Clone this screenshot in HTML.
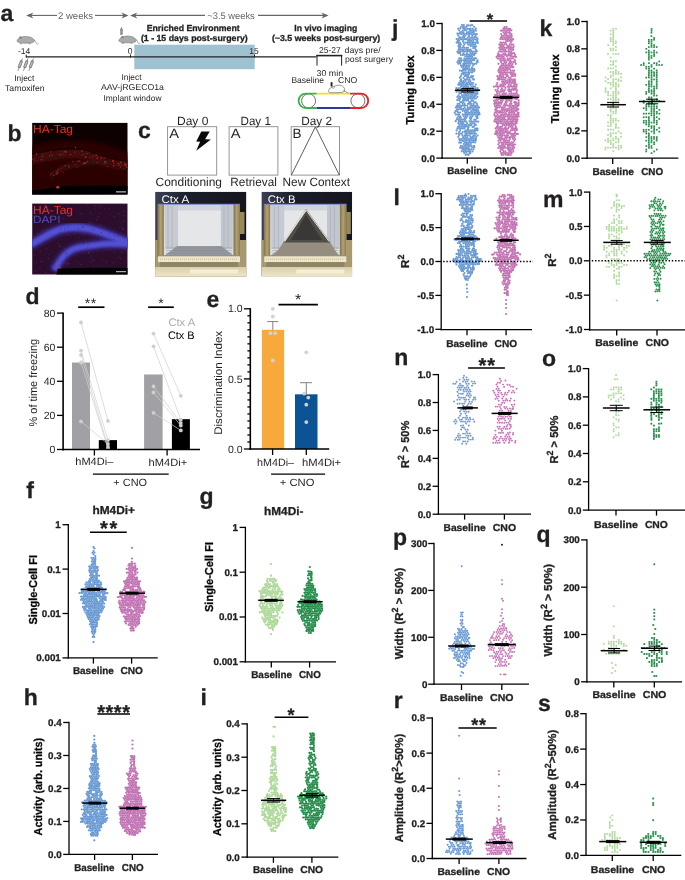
<!DOCTYPE html>
<html><head><meta charset="utf-8"><style>
html,body{margin:0;padding:0;background:#fff;width:685px;height:880px;overflow:hidden}
svg{display:block;will-change:transform}
text{font-family:"Liberation Sans", sans-serif;text-rendering:geometricPrecision}
text[font-weight="bold"]{stroke:#231f20;stroke-width:0.3px}
</style></head><body>
<svg width="685" height="880" viewBox="0 0 685 880" font-family='"Liberation Sans", sans-serif'>
<text x="0.50" y="21.00" font-size="23" font-weight="bold" text-anchor="start" fill="#231f20">a</text>
<line x1="28.00" y1="15.40" x2="57.00" y2="15.40" stroke="#666" stroke-width="1.1"/>
<path d="M26.2,15.4 L33.4,12.4 L31.2,15.4 L33.4,18.4 Z" fill="#666"/>
<text x="75.50" y="18.60" font-size="9.5" font-weight="normal" text-anchor="middle" fill="#666" textLength="35.0" lengthAdjust="spacingAndGlyphs">2 weeks</text>
<line x1="95.00" y1="15.40" x2="125.00" y2="15.40" stroke="#666" stroke-width="1.1"/>
<path d="M128.6,15.4 L121.4,12.4 L123.6,15.4 L121.4,18.4 Z" fill="#666"/>
<line x1="133.00" y1="15.40" x2="205.00" y2="15.40" stroke="#666" stroke-width="1.1"/>
<path d="M130.1,15.4 L137.3,12.4 L135.1,15.4 L137.3,18.4 Z" fill="#666"/>
<text x="231.00" y="18.60" font-size="9.5" font-weight="normal" text-anchor="middle" fill="#666" textLength="47.5" lengthAdjust="spacingAndGlyphs">~3.5 weeks</text>
<line x1="258.00" y1="15.40" x2="326.00" y2="15.40" stroke="#666" stroke-width="1.1"/>
<path d="M328.6,15.4 L321.4,12.4 L323.6,15.4 L321.4,18.4 Z" fill="#666"/>
<text x="193.20" y="30.80" font-size="8.7" font-weight="bold" text-anchor="middle" fill="#231f20" textLength="93.0" lengthAdjust="spacingAndGlyphs">Enriched Environment</text>
<text x="194.30" y="41.00" font-size="8.7" font-weight="bold" text-anchor="middle" fill="#231f20" textLength="106.8" lengthAdjust="spacingAndGlyphs">(1 - 15 days post-surgery)</text>
<text x="325.80" y="30.80" font-size="8.7" font-weight="bold" text-anchor="middle" fill="#231f20" textLength="62.9" lengthAdjust="spacingAndGlyphs">In vivo imaging</text>
<text x="326.10" y="41.20" font-size="8.7" font-weight="bold" text-anchor="middle" fill="#231f20" textLength="108.4" lengthAdjust="spacingAndGlyphs">(~3.5 weeks post-surgery)</text>
<rect x="134.30" y="44.70" width="120.40" height="24.50" fill="#9fc2d1"/>
<line x1="26.00" y1="56.90" x2="316.50" y2="56.90" stroke="#222" stroke-width="1.1"/>
<line x1="26.20" y1="54.50" x2="26.20" y2="57.50" stroke="#222" stroke-width="1"/>
<line x1="130.50" y1="54.50" x2="130.50" y2="57.50" stroke="#222" stroke-width="1"/>
<line x1="254.50" y1="54.50" x2="254.50" y2="57.50" stroke="#222" stroke-width="1"/>
<text x="24.20" y="53.80" font-size="8.5" font-weight="normal" text-anchor="middle" fill="#231f20" textLength="12.4" lengthAdjust="spacingAndGlyphs">-14</text>
<text x="130.20" y="53.80" font-size="8.5" font-weight="normal" text-anchor="middle" fill="#231f20">0</text>
<text x="254.00" y="53.80" font-size="8.5" font-weight="normal" text-anchor="middle" fill="#231f20">15</text>
<line x1="316.30" y1="55.60" x2="342.30" y2="55.60" stroke="#222" stroke-width="1.6"/>
<line x1="317.00" y1="55.00" x2="317.00" y2="65.60" stroke="#222" stroke-width="1"/>
<line x1="341.60" y1="55.00" x2="341.60" y2="65.60" stroke="#222" stroke-width="1"/>
<text x="329.90" y="52.50" font-size="8.5" font-weight="normal" text-anchor="middle" fill="#231f20" textLength="21.9" lengthAdjust="spacingAndGlyphs">25-27</text>
<text x="344.60" y="52.50" font-size="8.5" font-weight="normal" text-anchor="start" fill="#231f20" textLength="36.1" lengthAdjust="spacingAndGlyphs">days pre/</text>
<text x="345.00" y="62.40" font-size="8.5" font-weight="normal" text-anchor="start" fill="#231f20" textLength="48.0" lengthAdjust="spacingAndGlyphs">post surgery</text>
<text x="329.80" y="75.70" font-size="8.5" font-weight="normal" text-anchor="middle" fill="#231f20" textLength="26.5" lengthAdjust="spacingAndGlyphs">30 min</text>
<text x="291.40" y="82.70" font-size="8.5" font-weight="normal" text-anchor="start" fill="#231f20" textLength="32.6" lengthAdjust="spacingAndGlyphs">Baseline</text>
<text x="338.00" y="82.70" font-size="8.5" font-weight="normal" text-anchor="start" fill="#231f20" textLength="19.3" lengthAdjust="spacingAndGlyphs">CNO</text>
<text x="24.30" y="80.90" font-size="8.5" font-weight="normal" text-anchor="middle" fill="#231f20" textLength="20.0" lengthAdjust="spacingAndGlyphs">Inject</text>
<text x="24.80" y="91.00" font-size="8.5" font-weight="normal" text-anchor="middle" fill="#231f20" textLength="39.6" lengthAdjust="spacingAndGlyphs">Tamoxifen</text>
<text x="131.50" y="79.70" font-size="8.5" font-weight="normal" text-anchor="middle" fill="#231f20" textLength="20.0" lengthAdjust="spacingAndGlyphs">Inject</text>
<text x="132.50" y="90.20" font-size="8.5" font-weight="normal" text-anchor="middle" fill="#231f20" textLength="63.0" lengthAdjust="spacingAndGlyphs">AAV-jRGECO1a</text>
<text x="132.50" y="100.60" font-size="8.5" font-weight="normal" text-anchor="middle" fill="#231f20" textLength="58.0" lengthAdjust="spacingAndGlyphs">Implant window</text>
<g transform="translate(16.9,41.0) scale(1.0)"><path d="M0,0 C0.6,-1.6 2,-3 3.6,-3.4 C6,-4.8 10,-5 13,-4 C15.5,-3.2 17.3,-1.8 17.6,-0.2 C17.5,1 16,1.7 14,1.9 C10,2.3 6,2.4 3,1.8 C1.6,1.5 0.4,0.9 0,0 Z" fill="#ababab" stroke="#666" stroke-width="0.5"/><ellipse cx="3.6" cy="-3.5" rx="1.1" ry="0.9" fill="#8a8a8a" stroke="#666" stroke-width="0.35"/><path d="M17.3,-1 C18.6,-0.6 18.8,1 19.4,2.3 C19.8,3 20.6,3 21.6,2.8" fill="none" stroke="#666" stroke-width="0.55"/><path d="M3.8,2 L3.2,2.8 L5.2,2.8 M12.5,2 L12.2,2.8 L14,2.8" fill="none" stroke="#666" stroke-width="0.5"/></g>
<g transform="translate(118.7,40.6) scale(1.0)"><path d="M0,0 C0.6,-1.6 2,-3 3.6,-3.4 C6,-4.8 10,-5 13,-4 C15.5,-3.2 17.3,-1.8 17.6,-0.2 C17.5,1 16,1.7 14,1.9 C10,2.3 6,2.4 3,1.8 C1.6,1.5 0.4,0.9 0,0 Z" fill="#ababab" stroke="#666" stroke-width="0.5"/><ellipse cx="3.6" cy="-3.5" rx="1.1" ry="0.9" fill="#8a8a8a" stroke="#666" stroke-width="0.35"/><path d="M17.3,-1 C18.6,-0.6 18.8,1 19.4,2.3 C19.8,3 20.6,3 21.6,2.8" fill="none" stroke="#666" stroke-width="0.55"/><path d="M3.8,2 L3.2,2.8 L5.2,2.8 M12.5,2 L12.2,2.8 L14,2.8" fill="none" stroke="#666" stroke-width="0.5"/></g>
<rect x="120.7" y="29" width="1.6" height="5.5" fill="#999" stroke="#444" stroke-width="0.4"/>
<line x1="121.50" y1="27.20" x2="121.50" y2="29.00" stroke="#444" stroke-width="0.6"/>
<g transform="translate(21.5,61.0) rotate(20)"><rect x="-1.1" y="0" width="2.2" height="7" fill="#bbb" stroke="#444" stroke-width="0.5"/><line x1="0" y1="-2.5" x2="0" y2="0" stroke="#444" stroke-width="0.6"/><line x1="0" y1="7" x2="0" y2="10.5" stroke="#444" stroke-width="0.5"/></g>
<g transform="translate(27.0,61.0) rotate(20)"><rect x="-1.1" y="0" width="2.2" height="7" fill="#bbb" stroke="#444" stroke-width="0.5"/><line x1="0" y1="-2.5" x2="0" y2="0" stroke="#444" stroke-width="0.6"/><line x1="0" y1="7" x2="0" y2="10.5" stroke="#444" stroke-width="0.5"/></g>
<g transform="translate(32.5,61.0) rotate(20)"><rect x="-1.1" y="0" width="2.2" height="7" fill="#bbb" stroke="#444" stroke-width="0.5"/><line x1="0" y1="-2.5" x2="0" y2="0" stroke="#444" stroke-width="0.6"/><line x1="0" y1="7" x2="0" y2="10.5" stroke="#444" stroke-width="0.5"/></g>
<circle cx="308.6" cy="100.8" r="7" fill="none" stroke="#333" stroke-width="0.7"/>
<circle cx="357.9" cy="100.8" r="7" fill="none" stroke="#333" stroke-width="0.7"/>
<path d="M316.8,93.6 L305.8,93.6 A7.2,7.2 0 0 0 305.8,108 L316.8,108" fill="none" stroke="#3ab54a" stroke-width="1.8"/>
<path d="M316.8,93.6 L350,93.6" stroke="#f2e21c" stroke-width="1.8"/>
<path d="M316.8,108 L350,108" stroke="#2b3a9c" stroke-width="1.8"/>
<path d="M350,93.6 L361,93.6 A7.2,7.2 0 0 1 361,108 L350,108" fill="none" stroke="#e8202a" stroke-width="1.8"/>
<path d="M328.5,91.2 C329,88.5 331,86.8 334,86.6 C337,84.6 341.5,84.8 343.5,87 C345,88.5 345,91 343.5,92 C340,92.8 334,92.8 330.5,92.6 C329,92.4 328.3,92 328.5,91.2 Z" fill="#fff" stroke="#333" stroke-width="0.5"/>
<path d="M343.5,90.5 C345.5,91 346.5,93 348.5,92.8" fill="none" stroke="#333" stroke-width="0.5"/>
<ellipse cx="333.3" cy="87.3" rx="1.2" ry="1" fill="#fff" stroke="#333" stroke-width="0.4"/>
<rect x="330.60" y="82.20" width="1.90" height="4.20" fill="#222"/>
<text x="7.60" y="141.30" font-size="23" font-weight="bold" text-anchor="start" fill="#231f20">b</text>
<defs><filter id="bl1" x="-20%" y="-20%" width="140%" height="140%"><feGaussianBlur stdDeviation="2.2"/></filter><filter id="bl2" x="-20%" y="-20%" width="140%" height="140%"><feGaussianBlur stdDeviation="0.9"/></filter><filter id="bl3" x="-20%" y="-20%" width="140%" height="140%"><feGaussianBlur stdDeviation="0.35"/></filter><clipPath id="cpb1"><rect x="32.2" y="122.9" width="95.3" height="71.6"/></clipPath><clipPath id="cpb2"><rect x="32.2" y="203.6" width="95.3" height="70.9"/></clipPath></defs>
<rect x="32.20" y="122.90" width="95.30" height="71.60" fill="#0e0101"/>
<g clip-path="url(#cpb1)">
<path d="M20,150 C45,140 75,137 100,143 C115,147 125,152 140,156 L140,190 L20,195 Z" fill="#2a0606" filter="url(#bl1)"/>
<path d="M28.0,157.0 L30.4,156.0 Q32.9,155.0 42.4,153.2 Q51.9,151.4 59.2,150.3 Q66.5,149.2 73.8,149.2 Q81.1,149.2 88.4,152.1 Q95.7,155.0 103.0,157.2 Q110.3,159.4 117.6,160.9 Q124.9,162.3 127.5,162.7 L130.0,163.0" fill="none" stroke="#3c0909" stroke-width="10" filter="url(#bl1)" transform="translate(0,4)"/>
<path d="M50.0,176.0 L56.0,172.1 Q62.1,168.2 68.0,166.8 Q73.8,165.3 84.8,163.1 Q95.7,160.9 106.7,162.4 Q117.6,163.8 123.8,164.4 L130.0,165.0" fill="none" stroke="#340808" stroke-width="6" filter="url(#bl1)"/>
<path d="M28.0,157.0 L30.4,156.0 Q32.9,155.0 42.4,153.2 Q51.9,151.4 59.2,150.3 Q66.5,149.2 73.8,149.2 Q81.1,149.2 88.4,152.1 Q95.7,155.0 103.0,157.2 Q110.3,159.4 117.6,160.9 Q124.9,162.3 127.5,162.7 L130.0,163.0" fill="none" stroke="#0a0000" stroke-width="1.0" filter="url(#bl3)" transform="translate(0,-1.2)" opacity="0.7"/>
<circle cx="75.5" cy="147.6" r="0.7" fill="#d82626"/>
<circle cx="82.0" cy="151.1" r="0.8" fill="#c81c1c"/>
<circle cx="42.0" cy="153.4" r="0.5" fill="#a01515"/>
<circle cx="74.9" cy="152.4" r="0.5" fill="#a01515"/>
<circle cx="85.6" cy="157.1" r="0.8" fill="#d82626"/>
<circle cx="128.6" cy="164.1" r="0.8" fill="#b01818"/>
<circle cx="37.8" cy="160.5" r="0.4" fill="#a01515"/>
<circle cx="42.8" cy="156.9" r="0.5" fill="#601010"/>
<circle cx="29.2" cy="157.5" r="0.5" fill="#601010"/>
<circle cx="49.4" cy="156.0" r="0.6" fill="#d82626"/>
<circle cx="28.2" cy="163.4" r="0.7" fill="#601010"/>
<circle cx="129.8" cy="168.3" r="0.4" fill="#b01818"/>
<circle cx="52.4" cy="155.0" r="0.4" fill="#a01515"/>
<circle cx="88.5" cy="152.8" r="0.4" fill="#d82626"/>
<circle cx="32.2" cy="158.5" r="0.4" fill="#b01818"/>
<circle cx="28.0" cy="161.4" r="0.5" fill="#a01515"/>
<circle cx="77.6" cy="155.1" r="0.4" fill="#601010"/>
<circle cx="96.2" cy="158.4" r="0.6" fill="#801010"/>
<circle cx="31.4" cy="156.0" r="0.4" fill="#c81c1c"/>
<circle cx="51.4" cy="160.4" r="0.4" fill="#a01515"/>
<circle cx="30.3" cy="160.0" r="0.8" fill="#c81c1c"/>
<circle cx="75.0" cy="151.3" r="0.5" fill="#b01818"/>
<circle cx="112.6" cy="161.3" r="0.7" fill="#d82626"/>
<circle cx="129.6" cy="167.6" r="0.4" fill="#801010"/>
<circle cx="123.7" cy="168.7" r="0.4" fill="#c81c1c"/>
<circle cx="42.4" cy="156.2" r="0.8" fill="#b01818"/>
<circle cx="90.1" cy="157.6" r="0.7" fill="#801010"/>
<circle cx="28.4" cy="160.7" r="0.8" fill="#801010"/>
<circle cx="119.7" cy="164.1" r="0.5" fill="#601010"/>
<circle cx="97.1" cy="159.5" r="0.4" fill="#601010"/>
<circle cx="65.8" cy="151.9" r="0.8" fill="#d82626"/>
<circle cx="119.9" cy="163.9" r="0.5" fill="#d82626"/>
<circle cx="41.7" cy="159.8" r="0.8" fill="#c81c1c"/>
<circle cx="107.4" cy="166.4" r="0.5" fill="#b01818"/>
<circle cx="96.2" cy="155.2" r="0.7" fill="#d82626"/>
<circle cx="93.2" cy="156.3" r="0.7" fill="#a01515"/>
<circle cx="32.1" cy="164.8" r="0.5" fill="#b01818"/>
<circle cx="105.0" cy="162.8" r="0.6" fill="#d82626"/>
<circle cx="118.9" cy="163.0" r="0.5" fill="#b01818"/>
<circle cx="129.1" cy="165.2" r="0.5" fill="#c81c1c"/>
<circle cx="78.7" cy="150.8" r="0.4" fill="#801010"/>
<circle cx="46.2" cy="153.3" r="0.5" fill="#b01818"/>
<circle cx="28.6" cy="159.9" r="0.4" fill="#a01515"/>
<circle cx="40.7" cy="159.6" r="0.6" fill="#601010"/>
<circle cx="89.5" cy="157.6" r="0.7" fill="#801010"/>
<circle cx="99.4" cy="161.3" r="0.8" fill="#601010"/>
<circle cx="127.8" cy="161.6" r="0.7" fill="#801010"/>
<circle cx="104.6" cy="158.3" r="0.4" fill="#a01515"/>
<circle cx="92.6" cy="158.1" r="0.6" fill="#801010"/>
<circle cx="34.7" cy="158.6" r="0.4" fill="#a01515"/>
<circle cx="75.6" cy="152.2" r="0.5" fill="#801010"/>
<circle cx="63.8" cy="153.6" r="0.7" fill="#a01515"/>
<circle cx="124.4" cy="162.0" r="0.7" fill="#601010"/>
<circle cx="28.6" cy="162.4" r="0.7" fill="#d82626"/>
<circle cx="90.8" cy="155.8" r="0.4" fill="#801010"/>
<circle cx="125.1" cy="165.2" r="0.6" fill="#d82626"/>
<circle cx="127.3" cy="165.2" r="0.7" fill="#601010"/>
<circle cx="31.3" cy="156.7" r="0.8" fill="#a01515"/>
<circle cx="58.9" cy="154.3" r="0.4" fill="#d82626"/>
<circle cx="113.8" cy="163.9" r="0.7" fill="#801010"/>
<circle cx="125.8" cy="165.0" r="0.8" fill="#c81c1c"/>
<circle cx="83.2" cy="154.5" r="0.6" fill="#b01818"/>
<circle cx="127.2" cy="164.3" r="0.7" fill="#b01818"/>
<circle cx="52.0" cy="154.9" r="0.7" fill="#c81c1c"/>
<circle cx="125.1" cy="163.5" r="0.6" fill="#c81c1c"/>
<circle cx="34.6" cy="160.3" r="0.7" fill="#801010"/>
<circle cx="120.5" cy="167.1" r="0.6" fill="#c81c1c"/>
<circle cx="32.4" cy="155.6" r="0.7" fill="#801010"/>
<circle cx="127.0" cy="167.2" r="0.8" fill="#d82626"/>
<circle cx="101.2" cy="158.1" r="0.8" fill="#d82626"/>
<circle cx="60.1" cy="154.6" r="0.8" fill="#a01515"/>
<circle cx="101.9" cy="158.7" r="0.6" fill="#601010"/>
<circle cx="64.1" cy="151.2" r="0.5" fill="#d82626"/>
<circle cx="75.8" cy="150.2" r="0.4" fill="#801010"/>
<circle cx="50.0" cy="155.7" r="0.4" fill="#d82626"/>
<circle cx="32.3" cy="159.3" r="0.8" fill="#b01818"/>
<circle cx="97.4" cy="158.4" r="0.5" fill="#c81c1c"/>
<circle cx="118.9" cy="165.3" r="0.6" fill="#c81c1c"/>
<circle cx="106.1" cy="161.7" r="0.4" fill="#c81c1c"/>
<circle cx="48.3" cy="152.6" r="0.6" fill="#601010"/>
<circle cx="104.1" cy="157.8" r="0.5" fill="#d82626"/>
<circle cx="121.8" cy="164.8" r="0.5" fill="#a01515"/>
<circle cx="70.6" cy="154.6" r="0.7" fill="#d82626"/>
<circle cx="43.8" cy="154.9" r="0.4" fill="#d82626"/>
<circle cx="86.9" cy="153.4" r="0.6" fill="#d82626"/>
<circle cx="60.8" cy="151.2" r="0.5" fill="#a01515"/>
<circle cx="107.0" cy="163.3" r="0.4" fill="#c81c1c"/>
<circle cx="50.7" cy="152.0" r="0.7" fill="#a01515"/>
<circle cx="129.1" cy="162.2" r="0.6" fill="#801010"/>
<circle cx="126.3" cy="165.0" r="0.4" fill="#801010"/>
<circle cx="81.7" cy="155.1" r="0.7" fill="#801010"/>
<circle cx="79.6" cy="153.2" r="0.4" fill="#c81c1c"/>
<circle cx="117.2" cy="168.2" r="0.5" fill="#601010"/>
<circle cx="61.8" cy="155.1" r="0.5" fill="#d82626"/>
<circle cx="36.5" cy="154.0" r="0.7" fill="#d82626"/>
<circle cx="93.4" cy="161.5" r="0.4" fill="#c81c1c"/>
<circle cx="78.1" cy="161.4" r="0.8" fill="#b01818"/>
<circle cx="59.9" cy="168.7" r="0.8" fill="#601010"/>
<circle cx="65.4" cy="165.5" r="0.8" fill="#c81c1c"/>
<circle cx="68.2" cy="162.8" r="0.5" fill="#601010"/>
<circle cx="87.4" cy="161.9" r="0.8" fill="#a01515"/>
<circle cx="85.1" cy="162.9" r="0.8" fill="#d82626"/>
<circle cx="51.7" cy="177.8" r="0.7" fill="#601010"/>
<circle cx="117.7" cy="163.8" r="0.8" fill="#a01515"/>
<circle cx="83.8" cy="163.5" r="0.8" fill="#d82626"/>
<circle cx="75.3" cy="164.8" r="0.7" fill="#801010"/>
<circle cx="64.8" cy="166.2" r="0.7" fill="#601010"/>
<circle cx="69.0" cy="167.1" r="0.5" fill="#d82626"/>
<circle cx="97.7" cy="162.6" r="0.4" fill="#a01515"/>
<circle cx="61.7" cy="168.5" r="0.5" fill="#a01515"/>
<circle cx="105.2" cy="161.8" r="0.8" fill="#d82626"/>
<circle cx="56.3" cy="174.1" r="0.8" fill="#a01515"/>
<circle cx="120.8" cy="162.3" r="0.8" fill="#d82626"/>
<circle cx="51.4" cy="173.4" r="0.7" fill="#601010"/>
<circle cx="97.4" cy="157.7" r="0.8" fill="#b01818"/>
<circle cx="63.2" cy="167.5" r="0.5" fill="#601010"/>
<circle cx="97.0" cy="162.5" r="0.6" fill="#c81c1c"/>
<circle cx="68.9" cy="165.9" r="0.6" fill="#c81c1c"/>
<circle cx="63.2" cy="172.6" r="0.5" fill="#c81c1c"/>
<circle cx="58.0" cy="171.3" r="0.4" fill="#801010"/>
<circle cx="73.1" cy="161.6" r="0.8" fill="#b01818"/>
<circle cx="57.6" cy="173.5" r="0.7" fill="#b01818"/>
<circle cx="105.0" cy="164.0" r="0.6" fill="#801010"/>
<circle cx="57.0" cy="172.1" r="0.8" fill="#b01818"/>
<circle cx="113.0" cy="160.7" r="0.5" fill="#a01515"/>
<circle cx="82.8" cy="163.9" r="0.4" fill="#a01515"/>
<circle cx="113.4" cy="160.5" r="0.7" fill="#c81c1c"/>
<circle cx="61.5" cy="166.3" r="0.4" fill="#c81c1c"/>
<circle cx="60.4" cy="170.7" r="0.4" fill="#601010"/>
<circle cx="53.7" cy="175.5" r="0.7" fill="#a01515"/>
<circle cx="113.7" cy="162.7" r="0.8" fill="#801010"/>
<circle cx="77.1" cy="167.1" r="0.8" fill="#801010"/>
<circle cx="50.8" cy="174.8" r="0.5" fill="#d82626"/>
<circle cx="79.7" cy="160.9" r="0.6" fill="#d82626"/>
<circle cx="125.2" cy="164.3" r="0.4" fill="#801010"/>
<circle cx="123.4" cy="164.3" r="0.7" fill="#601010"/>
<circle cx="95.7" cy="155.7" r="0.6" fill="#801010"/>
<circle cx="124.5" cy="164.8" r="0.5" fill="#d82626"/>
<circle cx="58.1" cy="170.1" r="0.6" fill="#d82626"/>
<circle cx="113.8" cy="166.0" r="0.7" fill="#c81c1c"/>
<path d="M30,191 C45,189.5 52,187.5 60,186.6 C80,185.8 105,185.5 130,186 L130,196 L30,196 Z" fill="#000"/>
<ellipse cx="57.8" cy="187.3" rx="1.6" ry="1.2" fill="#e03030"/>
</g>
<line x1="116.00" y1="191.90" x2="126.00" y2="191.90" stroke="#e8e8e8" stroke-width="1"/>
<text x="33.00" y="133.10" font-size="11.8" font-weight="normal" text-anchor="start" fill="#e6322b" textLength="40.0" lengthAdjust="spacingAndGlyphs">HA-Tag</text>
<rect x="32.20" y="203.60" width="95.30" height="70.90" fill="#2c0e2c"/>
<g clip-path="url(#cpb2)">
<path d="M25.0,247.0 L28.6,245.4 Q32.2,243.8 38.4,240.2 Q44.6,236.5 51.9,232.8 Q59.2,229.2 66.5,228.1 Q73.8,227.0 81.1,227.8 Q88.4,228.5 95.7,230.7 Q103.0,232.8 110.3,235.8 Q117.6,238.7 122.5,240.5 Q127.5,242.3 131.2,243.2 L135.0,244.0" fill="none" stroke="#3a2a9a" stroke-width="10" filter="url(#bl1)"/>
<path d="M54.0,270.0 L55.9,267.1 Q57.7,264.2 60.7,259.9 Q63.6,255.5 68.7,251.8 Q73.8,248.2 81.1,247.1 Q88.4,246.0 95.7,244.9 Q103.0,243.8 110.3,243.8 Q117.6,243.8 122.5,243.9 Q127.5,244.0 131.2,244.0 L135.0,244.0" fill="none" stroke="#3a2a9a" stroke-width="9" filter="url(#bl1)"/>
<path d="M25.0,247.0 L28.6,245.4 Q32.2,243.8 38.4,240.2 Q44.6,236.5 51.9,232.8 Q59.2,229.2 66.5,228.1 Q73.8,227.0 81.1,227.8 Q88.4,228.5 95.7,230.7 Q103.0,232.8 110.3,235.8 Q117.6,238.7 122.5,240.5 Q127.5,242.3 131.2,243.2 L135.0,244.0" fill="none" stroke="#5151d2" stroke-width="6.4" filter="url(#bl2)"/>
<path d="M54.0,270.0 L55.9,267.1 Q57.7,264.2 60.7,259.9 Q63.6,255.5 68.7,251.8 Q73.8,248.2 81.1,247.1 Q88.4,246.0 95.7,244.9 Q103.0,243.8 110.3,243.8 Q117.6,243.8 122.5,243.9 Q127.5,244.0 131.2,244.0 L135.0,244.0" fill="none" stroke="#5151d2" stroke-width="5.6" filter="url(#bl2)"/>
<circle cx="91.2" cy="255.9" r="0.6" fill="#40309a" opacity="0.8"/>
<circle cx="34.8" cy="236.6" r="0.6" fill="#6a2050" opacity="0.8"/>
<circle cx="93.7" cy="267.1" r="0.6" fill="#4a3090" opacity="0.8"/>
<circle cx="67.3" cy="264.8" r="0.6" fill="#80283a" opacity="0.8"/>
<circle cx="83.7" cy="244.2" r="0.6" fill="#4a3090" opacity="0.8"/>
<circle cx="101.5" cy="232.6" r="0.6" fill="#6a2050" opacity="0.8"/>
<circle cx="119.1" cy="257.6" r="0.6" fill="#6a2050" opacity="0.8"/>
<circle cx="104.4" cy="209.0" r="0.6" fill="#40309a" opacity="0.8"/>
<circle cx="90.7" cy="212.9" r="0.6" fill="#4a3090" opacity="0.8"/>
<circle cx="124.4" cy="204.4" r="0.6" fill="#6a2050" opacity="0.8"/>
<circle cx="123.2" cy="215.6" r="0.6" fill="#6a2050" opacity="0.8"/>
<circle cx="59.5" cy="271.3" r="0.6" fill="#40309a" opacity="0.8"/>
<circle cx="115.2" cy="247.8" r="0.6" fill="#6a2050" opacity="0.8"/>
<circle cx="121.4" cy="252.3" r="0.6" fill="#80283a" opacity="0.8"/>
<circle cx="60.4" cy="229.3" r="0.6" fill="#6a2050" opacity="0.8"/>
<circle cx="120.9" cy="222.5" r="0.6" fill="#3a2070" opacity="0.8"/>
<circle cx="60.6" cy="246.2" r="0.6" fill="#4a3090" opacity="0.8"/>
<circle cx="88.6" cy="253.5" r="0.6" fill="#4a3090" opacity="0.8"/>
<circle cx="61.4" cy="261.3" r="0.6" fill="#80283a" opacity="0.8"/>
<circle cx="98.2" cy="216.9" r="0.6" fill="#80283a" opacity="0.8"/>
<circle cx="98.9" cy="208.0" r="0.6" fill="#4a3090" opacity="0.8"/>
<circle cx="122.2" cy="229.0" r="0.6" fill="#80283a" opacity="0.8"/>
<circle cx="33.7" cy="259.1" r="0.6" fill="#3a2070" opacity="0.8"/>
<circle cx="67.8" cy="262.9" r="0.6" fill="#80283a" opacity="0.8"/>
<circle cx="36.4" cy="216.7" r="0.6" fill="#6a2050" opacity="0.8"/>
<circle cx="43.3" cy="221.2" r="0.6" fill="#80283a" opacity="0.8"/>
<circle cx="64.7" cy="228.8" r="0.6" fill="#40309a" opacity="0.8"/>
<circle cx="55.8" cy="236.4" r="0.6" fill="#40309a" opacity="0.8"/>
<circle cx="103.1" cy="259.8" r="0.6" fill="#3a2070" opacity="0.8"/>
<circle cx="35.5" cy="270.2" r="0.6" fill="#4a3090" opacity="0.8"/>
<circle cx="51.8" cy="239.9" r="0.6" fill="#3a2070" opacity="0.8"/>
<circle cx="119.2" cy="227.8" r="0.6" fill="#40309a" opacity="0.8"/>
<circle cx="40.7" cy="252.0" r="0.6" fill="#3a2070" opacity="0.8"/>
<circle cx="48.9" cy="209.5" r="0.6" fill="#6a2050" opacity="0.8"/>
<circle cx="100.5" cy="225.7" r="0.6" fill="#80283a" opacity="0.8"/>
<circle cx="47.3" cy="207.4" r="0.6" fill="#40309a" opacity="0.8"/>
<circle cx="82.7" cy="232.4" r="0.6" fill="#6a2050" opacity="0.8"/>
<circle cx="102.4" cy="228.1" r="0.6" fill="#3a2070" opacity="0.8"/>
<circle cx="75.3" cy="233.5" r="0.6" fill="#4a3090" opacity="0.8"/>
<circle cx="125.0" cy="248.7" r="0.6" fill="#80283a" opacity="0.8"/>
<circle cx="63.7" cy="218.5" r="0.6" fill="#40309a" opacity="0.8"/>
<circle cx="122.2" cy="248.1" r="0.6" fill="#80283a" opacity="0.8"/>
<circle cx="42.1" cy="234.4" r="0.6" fill="#6a2050" opacity="0.8"/>
<circle cx="37.6" cy="233.4" r="0.6" fill="#6a2050" opacity="0.8"/>
<circle cx="75.0" cy="274.0" r="0.6" fill="#6a2050" opacity="0.8"/>
<circle cx="124.7" cy="235.7" r="0.6" fill="#80283a" opacity="0.8"/>
<circle cx="97.4" cy="226.2" r="0.6" fill="#3a2070" opacity="0.8"/>
<circle cx="59.6" cy="232.3" r="0.6" fill="#6a2050" opacity="0.8"/>
<circle cx="42.7" cy="261.5" r="0.6" fill="#40309a" opacity="0.8"/>
<circle cx="123.2" cy="247.9" r="0.6" fill="#80283a" opacity="0.8"/>
<circle cx="114.4" cy="216.6" r="0.6" fill="#80283a" opacity="0.8"/>
<circle cx="57.9" cy="258.7" r="0.6" fill="#40309a" opacity="0.8"/>
<circle cx="66.3" cy="259.0" r="0.6" fill="#3a2070" opacity="0.8"/>
<circle cx="98.0" cy="250.5" r="0.6" fill="#3a2070" opacity="0.8"/>
<circle cx="66.5" cy="253.3" r="0.6" fill="#3a2070" opacity="0.8"/>
<circle cx="111.3" cy="222.5" r="0.6" fill="#3a2070" opacity="0.8"/>
<circle cx="122.9" cy="227.8" r="0.6" fill="#6a2050" opacity="0.8"/>
<circle cx="87.2" cy="204.8" r="0.6" fill="#40309a" opacity="0.8"/>
<circle cx="105.5" cy="226.8" r="0.6" fill="#3a2070" opacity="0.8"/>
<circle cx="76.0" cy="261.2" r="0.6" fill="#3a2070" opacity="0.8"/>
<circle cx="65.0" cy="249.1" r="0.6" fill="#80283a" opacity="0.8"/>
<circle cx="65.3" cy="263.0" r="0.6" fill="#80283a" opacity="0.8"/>
<circle cx="124.7" cy="271.0" r="0.6" fill="#40309a" opacity="0.8"/>
<circle cx="45.5" cy="272.6" r="0.6" fill="#6a2050" opacity="0.8"/>
<circle cx="111.5" cy="269.6" r="0.6" fill="#80283a" opacity="0.8"/>
<circle cx="58.9" cy="209.5" r="0.6" fill="#80283a" opacity="0.8"/>
<circle cx="48.3" cy="258.6" r="0.6" fill="#40309a" opacity="0.8"/>
<circle cx="81.1" cy="269.6" r="0.6" fill="#3a2070" opacity="0.8"/>
<circle cx="91.3" cy="258.2" r="0.6" fill="#3a2070" opacity="0.8"/>
<circle cx="100.4" cy="205.9" r="0.6" fill="#6a2050" opacity="0.8"/>
<circle cx="87.7" cy="247.7" r="0.6" fill="#6a2050" opacity="0.8"/>
<circle cx="52.8" cy="252.0" r="0.6" fill="#4a3090" opacity="0.8"/>
<circle cx="125.7" cy="272.6" r="0.6" fill="#6a2050" opacity="0.8"/>
<circle cx="37.1" cy="213.3" r="0.6" fill="#3a2070" opacity="0.8"/>
<circle cx="124.0" cy="237.8" r="0.6" fill="#40309a" opacity="0.8"/>
<circle cx="35.4" cy="236.6" r="0.6" fill="#80283a" opacity="0.8"/>
<circle cx="94.9" cy="209.0" r="0.6" fill="#6a2050" opacity="0.8"/>
<circle cx="54.6" cy="267.2" r="0.6" fill="#4a3090" opacity="0.8"/>
<circle cx="65.3" cy="270.6" r="0.6" fill="#80283a" opacity="0.8"/>
<circle cx="114.3" cy="252.2" r="0.6" fill="#40309a" opacity="0.8"/>
<circle cx="67.5" cy="206.5" r="0.6" fill="#40309a" opacity="0.8"/>
<circle cx="60.6" cy="224.7" r="0.6" fill="#40309a" opacity="0.8"/>
<circle cx="64.2" cy="244.7" r="0.6" fill="#3a2070" opacity="0.8"/>
<circle cx="109.8" cy="233.3" r="0.6" fill="#40309a" opacity="0.8"/>
<circle cx="93.0" cy="229.9" r="0.6" fill="#6a2050" opacity="0.8"/>
<circle cx="46.9" cy="230.8" r="0.6" fill="#80283a" opacity="0.8"/>
<circle cx="122.9" cy="271.8" r="0.6" fill="#40309a" opacity="0.8"/>
<circle cx="40.6" cy="261.5" r="0.6" fill="#4a3090" opacity="0.8"/>
<circle cx="68.3" cy="226.8" r="0.6" fill="#40309a" opacity="0.8"/>
<circle cx="83.2" cy="226.8" r="0.6" fill="#40309a" opacity="0.8"/>
<circle cx="67.7" cy="234.2" r="0.6" fill="#6a2050" opacity="0.8"/>
<circle cx="78.9" cy="237.6" r="0.6" fill="#80283a" opacity="0.8"/>
<circle cx="68.5" cy="263.8" r="0.6" fill="#6a2050" opacity="0.8"/>
<circle cx="88.6" cy="222.2" r="0.6" fill="#3a2070" opacity="0.8"/>
<circle cx="79.1" cy="233.1" r="0.6" fill="#3a2070" opacity="0.8"/>
<circle cx="121.8" cy="225.5" r="0.6" fill="#3a2070" opacity="0.8"/>
<circle cx="45.6" cy="205.7" r="0.6" fill="#40309a" opacity="0.8"/>
<circle cx="123.3" cy="221.2" r="0.6" fill="#4a3090" opacity="0.8"/>
<circle cx="106.3" cy="261.9" r="0.6" fill="#4a3090" opacity="0.8"/>
<circle cx="77.6" cy="243.2" r="0.6" fill="#6a2050" opacity="0.8"/>
<circle cx="120.8" cy="258.7" r="0.6" fill="#6a2050" opacity="0.8"/>
<circle cx="78.6" cy="263.1" r="0.6" fill="#3a2070" opacity="0.8"/>
<circle cx="59.9" cy="246.6" r="0.6" fill="#80283a" opacity="0.8"/>
<circle cx="81.2" cy="264.4" r="0.6" fill="#4a3090" opacity="0.8"/>
<circle cx="33.5" cy="212.8" r="0.6" fill="#3a2070" opacity="0.8"/>
<circle cx="82.7" cy="227.5" r="0.6" fill="#3a2070" opacity="0.8"/>
<circle cx="101.5" cy="205.9" r="0.6" fill="#3a2070" opacity="0.8"/>
<circle cx="66.3" cy="256.2" r="0.6" fill="#40309a" opacity="0.8"/>
<circle cx="44.6" cy="204.2" r="0.6" fill="#40309a" opacity="0.8"/>
<circle cx="75.3" cy="268.2" r="0.6" fill="#40309a" opacity="0.8"/>
<circle cx="50.2" cy="234.1" r="0.6" fill="#80283a" opacity="0.8"/>
<circle cx="88.5" cy="252.2" r="0.6" fill="#80283a" opacity="0.8"/>
<circle cx="113.6" cy="262.9" r="0.6" fill="#80283a" opacity="0.8"/>
<circle cx="69.2" cy="263.6" r="0.6" fill="#6a2050" opacity="0.8"/>
<circle cx="117.4" cy="236.6" r="0.6" fill="#4a3090" opacity="0.8"/>
<circle cx="60.8" cy="204.2" r="0.6" fill="#80283a" opacity="0.8"/>
<circle cx="87.3" cy="249.4" r="0.6" fill="#80283a" opacity="0.8"/>
<circle cx="118.5" cy="214.0" r="0.6" fill="#80283a" opacity="0.8"/>
<circle cx="98.0" cy="266.2" r="0.6" fill="#3a2070" opacity="0.8"/>
<circle cx="83.1" cy="233.8" r="0.6" fill="#40309a" opacity="0.8"/>
<circle cx="109.1" cy="208.8" r="0.6" fill="#6a2050" opacity="0.8"/>
<circle cx="57.4" cy="210.0" r="0.6" fill="#4a3090" opacity="0.8"/>
<circle cx="95.0" cy="205.8" r="0.6" fill="#80283a" opacity="0.8"/>
<circle cx="125.0" cy="273.9" r="0.6" fill="#80283a" opacity="0.8"/>
<circle cx="36.6" cy="262.9" r="0.6" fill="#6a2050" opacity="0.8"/>
<circle cx="90.4" cy="261.7" r="0.6" fill="#4a3090" opacity="0.8"/>
<circle cx="99.7" cy="213.4" r="0.6" fill="#3a2070" opacity="0.8"/>
<circle cx="99.0" cy="234.7" r="0.6" fill="#6a2050" opacity="0.8"/>
<circle cx="90.0" cy="233.0" r="0.6" fill="#6a2050" opacity="0.8"/>
<circle cx="38.4" cy="218.9" r="0.6" fill="#40309a" opacity="0.8"/>
<circle cx="42.3" cy="230.5" r="0.6" fill="#4a3090" opacity="0.8"/>
<circle cx="58.6" cy="244.0" r="0.6" fill="#4a3090" opacity="0.8"/>
<circle cx="102.5" cy="265.5" r="0.6" fill="#6a2050" opacity="0.8"/>
<circle cx="32.9" cy="210.4" r="0.6" fill="#40309a" opacity="0.8"/>
<circle cx="78.5" cy="228.7" r="0.6" fill="#3a2070" opacity="0.8"/>
<circle cx="118.9" cy="213.7" r="0.6" fill="#3a2070" opacity="0.8"/>
<circle cx="46.4" cy="248.2" r="0.6" fill="#40309a" opacity="0.8"/>
<circle cx="59.6" cy="269.9" r="0.6" fill="#40309a" opacity="0.8"/>
<circle cx="91.0" cy="222.4" r="0.6" fill="#40309a" opacity="0.8"/>
<circle cx="54.4" cy="262.3" r="0.6" fill="#3a2070" opacity="0.8"/>
<circle cx="81.1" cy="213.4" r="0.6" fill="#6a2050" opacity="0.8"/>
<circle cx="114.0" cy="235.7" r="0.6" fill="#80283a" opacity="0.8"/>
<circle cx="49.0" cy="253.9" r="0.6" fill="#3a2070" opacity="0.8"/>
<circle cx="40.1" cy="250.8" r="0.6" fill="#4a3090" opacity="0.8"/>
<circle cx="114.0" cy="239.5" r="0.6" fill="#80283a" opacity="0.8"/>
<circle cx="54.7" cy="265.4" r="0.6" fill="#80283a" opacity="0.8"/>
<circle cx="123.5" cy="211.5" r="0.6" fill="#40309a" opacity="0.8"/>
<circle cx="34.8" cy="254.8" r="0.6" fill="#4a3090" opacity="0.8"/>
<circle cx="112.6" cy="270.1" r="0.6" fill="#80283a" opacity="0.8"/>
<circle cx="96.7" cy="219.6" r="0.6" fill="#4a3090" opacity="0.8"/>
<circle cx="40.0" cy="267.8" r="0.6" fill="#80283a" opacity="0.8"/>
<circle cx="110.0" cy="213.8" r="0.6" fill="#40309a" opacity="0.8"/>
<circle cx="67.7" cy="262.5" r="0.6" fill="#3a2070" opacity="0.8"/>
<circle cx="63.7" cy="247.0" r="0.6" fill="#3a2070" opacity="0.8"/>
<circle cx="107.6" cy="230.5" r="0.6" fill="#3a2070" opacity="0.8"/>
<circle cx="93.5" cy="260.3" r="0.6" fill="#80283a" opacity="0.8"/>
<circle cx="123.3" cy="229.4" r="0.6" fill="#4a3090" opacity="0.8"/>
<circle cx="88.3" cy="244.1" r="0.6" fill="#6a2050" opacity="0.8"/>
<circle cx="69.6" cy="210.8" r="0.6" fill="#4a3090" opacity="0.8"/>
<circle cx="49.7" cy="217.7" r="0.6" fill="#80283a" opacity="0.8"/>
<path d="M58,268.5 C80,267.6 105,267.6 130,268 L130,276 L56,276 Z" fill="#050205"/>
<ellipse cx="59.5" cy="267.5" rx="1.3" ry="1" fill="#d02a3a"/>
</g>
<line x1="116.00" y1="271.70" x2="126.00" y2="271.70" stroke="#d8d8d8" stroke-width="1"/>
<text x="33.00" y="213.90" font-size="11.8" font-weight="normal" text-anchor="start" fill="#e6322b" textLength="40.0" lengthAdjust="spacingAndGlyphs">HA-Tag</text>
<text x="33.00" y="222.90" font-size="10.5" font-weight="normal" text-anchor="start" fill="#4d4dc4" textLength="27.5" lengthAdjust="spacingAndGlyphs">DAPI</text>
<text x="138.00" y="138.30" font-size="23" font-weight="bold" text-anchor="start" fill="#231f20">c</text>
<rect x="167.6" y="126.7" width="49.1" height="48.4" fill="#fff" stroke="#8a8a8a" stroke-width="0.9"/>
<rect x="229.1" y="126.7" width="48.8" height="48.4" fill="#fff" stroke="#8a8a8a" stroke-width="0.9"/>
<rect x="291.2" y="126.7" width="48.3" height="48.4" fill="#fff" stroke="#8a8a8a" stroke-width="0.9"/>
<text x="192.70" y="124.60" font-size="12" font-weight="normal" text-anchor="middle" fill="#231f20" textLength="31.4" lengthAdjust="spacingAndGlyphs">Day 0</text>
<text x="255.70" y="124.60" font-size="12" font-weight="normal" text-anchor="middle" fill="#231f20" textLength="30.4" lengthAdjust="spacingAndGlyphs">Day 1</text>
<text x="316.60" y="124.60" font-size="12" font-weight="normal" text-anchor="middle" fill="#231f20" textLength="30.8" lengthAdjust="spacingAndGlyphs">Day 2</text>
<text x="169.30" y="138.30" font-size="13.5" font-weight="normal" text-anchor="start" fill="#231f20" textLength="9.8" lengthAdjust="spacingAndGlyphs">A</text>
<text x="230.70" y="138.30" font-size="13.5" font-weight="normal" text-anchor="start" fill="#231f20" textLength="9.8" lengthAdjust="spacingAndGlyphs">A</text>
<text x="292.50" y="138.30" font-size="13.5" font-weight="normal" text-anchor="start" fill="#231f20" textLength="9.0" lengthAdjust="spacingAndGlyphs">B</text>
<path d="M201.3,131.5 L209.7,131.5 L205.1,139.2 L210.9,139.4 L196.2,150.8 L200.1,141.8 L196.2,141.5 Z" fill="#0a0a0a"/>
<path d="M291.4,175 L315.4,126.9 L339.3,175" fill="none" stroke="#333" stroke-width="0.8"/>
<text x="188.80" y="186.00" font-size="12" font-weight="normal" text-anchor="middle" fill="#231f20" textLength="66.4" lengthAdjust="spacingAndGlyphs">Conditioning</text>
<text x="253.60" y="186.00" font-size="12" font-weight="normal" text-anchor="middle" fill="#231f20" textLength="46.5" lengthAdjust="spacingAndGlyphs">Retrieval</text>
<text x="316.30" y="186.00" font-size="12" font-weight="normal" text-anchor="middle" fill="#231f20" textLength="67.4" lengthAdjust="spacingAndGlyphs">New Context</text>
<defs><clipPath id="cpphA"><rect x="155.1" y="191.7" width="91.3" height="84.8"/></clipPath><linearGradient id="gtopphA" x1="0" y1="0" x2="1" y2="0"><stop offset="0" stop-color="#3c4054"/><stop offset="0.35" stop-color="#1b1d29"/><stop offset="1" stop-color="#15161e"/></linearGradient><linearGradient id="gbotphA" x1="0" y1="0" x2="0" y2="1"><stop offset="0" stop-color="#d8cfab"/><stop offset="1" stop-color="#efe7c9"/></linearGradient><linearGradient id="gglphA" x1="0" y1="0" x2="0" y2="1"><stop offset="0" stop-color="#cfd2da"/><stop offset="1" stop-color="#dfe1e4"/></linearGradient><linearGradient id="gpostphA" x1="0" y1="0" x2="1" y2="0"><stop offset="0" stop-color="#7d6f4c"/><stop offset="0.5" stop-color="#b4a272"/><stop offset="1" stop-color="#8a7a52"/></linearGradient></defs>
<g clip-path="url(#cpphA)">
<rect x="155.10" y="191.70" width="91.30" height="84.80" fill="url(#gtopphA)"/>
<rect x="155.10" y="240.00" width="91.30" height="37.00" fill="#a89a6e"/>
<rect x="158.00" y="204.00" width="82.00" height="52.00" fill="url(#gglphA)"/>
<rect x="165.00" y="205.00" width="13.00" height="44.00" fill="#c6cad2"/>
<rect x="220.70" y="205.00" width="12.00" height="44.00" fill="#c2c6ce"/>
<line x1="168.00" y1="206.00" x2="168.00" y2="248.00" stroke="#9ea3ae" stroke-width="0.5"/>
<line x1="172.00" y1="206.00" x2="172.00" y2="248.00" stroke="#9ea3ae" stroke-width="0.5"/>
<line x1="224.00" y1="206.00" x2="224.00" y2="248.00" stroke="#9ea3ae" stroke-width="0.5"/>
<line x1="228.00" y1="206.00" x2="228.00" y2="248.00" stroke="#9ea3ae" stroke-width="0.5"/>
<rect x="178.00" y="210.50" width="42.70" height="35.50" fill="#e4e6e8"/>
<rect x="157.40" y="204.00" width="6.50" height="53.00" fill="url(#gpostphA)"/>
<rect x="233.50" y="204.00" width="6.50" height="53.00" fill="url(#gpostphA)"/>
<rect x="240.00" y="212.00" width="4.50" height="22.00" fill="#9a8a5a"/>
<line x1="158.00" y1="204.20" x2="240.00" y2="204.20" stroke="#7080c8" stroke-width="1.1"/>
<path d="M164.0,256 L177.0,246 L221.5,246 L234.0,256 Z" fill="#96989f"/>
<line x1="166.00" y1="248.00" x2="232.00" y2="248.00" stroke="#7c7e86" stroke-width="0.4"/>
<line x1="166.00" y1="250.50" x2="232.00" y2="250.50" stroke="#7c7e86" stroke-width="0.4"/>
<line x1="166.00" y1="253.00" x2="232.00" y2="253.00" stroke="#7c7e86" stroke-width="0.4"/>
<line x1="158.00" y1="255.80" x2="240.00" y2="255.80" stroke="#7a8ad0" stroke-width="1"/>
<rect x="158.00" y="256.30" width="82.00" height="5.80" fill="#ede6c8"/>
<line x1="160.0" y1="259.2" x2="238.0" y2="259.2" stroke="#a89c78" stroke-width="0.8" stroke-dasharray="0.8,1.2"/>
<rect x="160.00" y="262.10" width="78.00" height="5.00" fill="#8e8466"/>
<rect x="155.10" y="267.00" width="91.30" height="10.00" fill="url(#gbotphA)"/>
<rect x="190.00" y="269.50" width="48.00" height="4.00" fill="#f4eed6"/>
</g>
<text x="161.50" y="203.00" font-size="11" font-weight="normal" text-anchor="start" fill="#fff" textLength="27.7" lengthAdjust="spacingAndGlyphs">Ctx A</text>
<defs><clipPath id="cpphB"><rect x="261.4" y="191.7" width="90.8" height="84.6"/></clipPath><linearGradient id="gtopphB" x1="0" y1="0" x2="1" y2="0"><stop offset="0" stop-color="#3c4054"/><stop offset="0.35" stop-color="#1b1d29"/><stop offset="1" stop-color="#15161e"/></linearGradient><linearGradient id="gbotphB" x1="0" y1="0" x2="0" y2="1"><stop offset="0" stop-color="#d8cfab"/><stop offset="1" stop-color="#efe7c9"/></linearGradient><linearGradient id="gglphB" x1="0" y1="0" x2="0" y2="1"><stop offset="0" stop-color="#cfd2da"/><stop offset="1" stop-color="#dfe1e4"/></linearGradient><linearGradient id="gpostphB" x1="0" y1="0" x2="1" y2="0"><stop offset="0" stop-color="#7d6f4c"/><stop offset="0.5" stop-color="#b4a272"/><stop offset="1" stop-color="#8a7a52"/></linearGradient></defs>
<g clip-path="url(#cpphB)">
<rect x="261.40" y="191.70" width="90.80" height="84.60" fill="url(#gtopphB)"/>
<rect x="261.40" y="240.00" width="90.80" height="37.00" fill="#a89a6e"/>
<rect x="264.30" y="204.00" width="82.00" height="52.00" fill="url(#gglphB)"/>
<rect x="271.30" y="205.00" width="13.00" height="44.00" fill="#c6cad2"/>
<rect x="327.00" y="205.00" width="12.00" height="44.00" fill="#c2c6ce"/>
<line x1="274.30" y1="206.00" x2="274.30" y2="248.00" stroke="#9ea3ae" stroke-width="0.5"/>
<line x1="278.30" y1="206.00" x2="278.30" y2="248.00" stroke="#9ea3ae" stroke-width="0.5"/>
<line x1="330.30" y1="206.00" x2="330.30" y2="248.00" stroke="#9ea3ae" stroke-width="0.5"/>
<line x1="334.30" y1="206.00" x2="334.30" y2="248.00" stroke="#9ea3ae" stroke-width="0.5"/>
<rect x="284.30" y="210.50" width="42.70" height="35.50" fill="#e4e6e8"/>
<rect x="263.70" y="204.00" width="6.50" height="53.00" fill="url(#gpostphB)"/>
<rect x="339.80" y="204.00" width="6.50" height="53.00" fill="url(#gpostphB)"/>
<rect x="346.30" y="212.00" width="4.50" height="22.00" fill="#9a8a5a"/>
<line x1="264.30" y1="204.20" x2="346.30" y2="204.20" stroke="#7080c8" stroke-width="1.1"/>
<path d="M270.3,256 L283.3,246 L327.8,246 L340.3,256 Z" fill="#96989f"/>
<line x1="272.30" y1="248.00" x2="338.30" y2="248.00" stroke="#7c7e86" stroke-width="0.4"/>
<line x1="272.30" y1="250.50" x2="338.30" y2="250.50" stroke="#7c7e86" stroke-width="0.4"/>
<line x1="272.30" y1="253.00" x2="338.30" y2="253.00" stroke="#7c7e86" stroke-width="0.4"/>
<line x1="264.30" y1="255.80" x2="346.30" y2="255.80" stroke="#7a8ad0" stroke-width="1"/>
<rect x="264.30" y="256.30" width="82.00" height="5.80" fill="#ede6c8"/>
<line x1="266.3" y1="259.2" x2="344.3" y2="259.2" stroke="#a89c78" stroke-width="0.8" stroke-dasharray="0.8,1.2"/>
<rect x="266.30" y="262.10" width="78.00" height="5.00" fill="#8e8466"/>
<rect x="261.40" y="267.00" width="90.80" height="10.00" fill="url(#gbotphB)"/>
<rect x="296.30" y="269.50" width="48.00" height="4.00" fill="#f4eed6"/>
<path d="M274.3,255.7 L283.1,242.8 L330.5,242.8 L338.5,255.7 Z" fill="#958e80"/>
<path d="M306.0,209.1 L283.1,242.8 L330.5,242.8 Z" fill="#514e49"/>
<path d="M306.0,215.1 L291,240 L322,240 Z" fill="#3a3836"/>
<path d="M306.0,210.1 L284.5,241.5" stroke="#f4f2e6" stroke-width="1.1"/>
<path d="M306.0,210.1 L329,241.5" stroke="#eeece0" stroke-width="0.9"/>
<path d="M304.5,209.1 L307.5,209.1 L306.0,207.1 Z" fill="#ddd"/>
</g>
<text x="267.80" y="203.00" font-size="11" font-weight="normal" text-anchor="start" fill="#fff" textLength="27.7" lengthAdjust="spacingAndGlyphs">Ctx B</text>
<text x="25.60" y="304.20" font-size="23" font-weight="bold" text-anchor="start" fill="#231f20">d</text>
<rect x="72.00" y="362.55" width="18.00" height="86.95" fill="#a1a0a4"/>
<rect x="98.80" y="440.12" width="18.20" height="9.38" fill="#000"/>
<rect x="144.10" y="374.48" width="18.50" height="75.02" fill="#a1a0a4"/>
<rect x="171.90" y="419.15" width="18.00" height="30.35" fill="#000"/>
<line x1="81.00" y1="322.48" x2="108.00" y2="420.86" stroke="#cfcfcf" stroke-width="0.7"/>
<line x1="81.00" y1="350.61" x2="108.00" y2="440.12" stroke="#cfcfcf" stroke-width="0.7"/>
<line x1="81.00" y1="354.87" x2="108.00" y2="446.94" stroke="#cfcfcf" stroke-width="0.7"/>
<line x1="81.00" y1="362.55" x2="108.00" y2="448.65" stroke="#cfcfcf" stroke-width="0.7"/>
<line x1="81.00" y1="421.37" x2="108.00" y2="444.04" stroke="#cfcfcf" stroke-width="0.7"/>
<line x1="153.50" y1="333.56" x2="180.80" y2="395.79" stroke="#cfcfcf" stroke-width="0.7"/>
<line x1="153.50" y1="346.35" x2="180.80" y2="419.66" stroke="#cfcfcf" stroke-width="0.7"/>
<line x1="153.50" y1="386.42" x2="180.80" y2="423.07" stroke="#cfcfcf" stroke-width="0.7"/>
<line x1="153.50" y1="392.38" x2="180.80" y2="425.63" stroke="#cfcfcf" stroke-width="0.7"/>
<line x1="153.50" y1="412.84" x2="180.80" y2="430.40" stroke="#cfcfcf" stroke-width="0.7"/>
<circle cx="81" cy="322.5" r="1.9" fill="#cfcfcf"/><circle cx="108" cy="420.9" r="1.9" fill="#cfcfcf"/>
<circle cx="81" cy="350.6" r="1.9" fill="#cfcfcf"/><circle cx="108" cy="440.1" r="1.9" fill="#cfcfcf"/>
<circle cx="81" cy="354.9" r="1.9" fill="#cfcfcf"/><circle cx="108" cy="446.9" r="1.9" fill="#cfcfcf"/>
<circle cx="81" cy="362.5" r="1.9" fill="#cfcfcf"/><circle cx="108" cy="448.6" r="1.9" fill="#cfcfcf"/>
<circle cx="81" cy="421.4" r="1.9" fill="#cfcfcf"/><circle cx="108" cy="444.0" r="1.9" fill="#cfcfcf"/>
<circle cx="153.5" cy="333.6" r="1.9" fill="#cfcfcf"/><circle cx="180.8" cy="395.8" r="1.9" fill="#cfcfcf"/>
<circle cx="153.5" cy="346.3" r="1.9" fill="#cfcfcf"/><circle cx="180.8" cy="419.7" r="1.9" fill="#cfcfcf"/>
<circle cx="153.5" cy="386.4" r="1.9" fill="#cfcfcf"/><circle cx="180.8" cy="423.1" r="1.9" fill="#cfcfcf"/>
<circle cx="153.5" cy="392.4" r="1.9" fill="#cfcfcf"/><circle cx="180.8" cy="425.6" r="1.9" fill="#cfcfcf"/>
<circle cx="153.5" cy="412.8" r="1.9" fill="#cfcfcf"/><circle cx="180.8" cy="430.4" r="1.9" fill="#cfcfcf"/>
<line x1="63.10" y1="312.40" x2="63.10" y2="450.50" stroke="#000" stroke-width="1.6"/>
<line x1="62.30" y1="449.50" x2="200.00" y2="449.50" stroke="#000" stroke-width="1.6"/>
<line x1="57.00" y1="449.50" x2="63.10" y2="449.50" stroke="#000" stroke-width="1.3"/>
<text x="55.40" y="453.10" font-size="10.5" font-weight="normal" text-anchor="end" fill="#231f20">0</text>
<line x1="57.00" y1="415.40" x2="63.10" y2="415.40" stroke="#000" stroke-width="1.3"/>
<text x="55.40" y="419.00" font-size="10.5" font-weight="normal" text-anchor="end" fill="#231f20">20</text>
<line x1="57.00" y1="381.30" x2="63.10" y2="381.30" stroke="#000" stroke-width="1.3"/>
<text x="55.40" y="384.90" font-size="10.5" font-weight="normal" text-anchor="end" fill="#231f20">40</text>
<line x1="57.00" y1="347.20" x2="63.10" y2="347.20" stroke="#000" stroke-width="1.3"/>
<text x="55.40" y="350.80" font-size="10.5" font-weight="normal" text-anchor="end" fill="#231f20">60</text>
<line x1="57.00" y1="313.10" x2="63.10" y2="313.10" stroke="#000" stroke-width="1.3"/>
<text x="55.40" y="316.70" font-size="10.5" font-weight="normal" text-anchor="end" fill="#231f20">80</text>
<line x1="94.40" y1="449.50" x2="94.40" y2="455.50" stroke="#000" stroke-width="1.3"/>
<line x1="167.10" y1="449.50" x2="167.10" y2="455.50" stroke="#000" stroke-width="1.3"/>
<text x="94.30" y="465.30" font-size="10.5" font-weight="normal" text-anchor="middle" fill="#231f20" textLength="38.1" lengthAdjust="spacingAndGlyphs">hM4Di–</text>
<text x="167.90" y="465.90" font-size="10.5" font-weight="normal" text-anchor="middle" fill="#231f20" textLength="38.6" lengthAdjust="spacingAndGlyphs">hM4Di+</text>
<line x1="92.90" y1="474.10" x2="168.70" y2="474.10" stroke="#000" stroke-width="1.2"/>
<text x="130.20" y="486.10" font-size="10.5" font-weight="normal" text-anchor="middle" fill="#231f20" textLength="33.7" lengthAdjust="spacingAndGlyphs">+ CNO</text>
<line x1="78.20" y1="307.20" x2="104.50" y2="307.20" stroke="#000" stroke-width="1.7"/>
<text x="87.55" y="307.78" font-size="14" font-weight="normal" text-anchor="middle" fill="#231f20">*</text>
<text x="93.55" y="307.78" font-size="14" font-weight="normal" text-anchor="middle" fill="#231f20">*</text>
<line x1="148.10" y1="307.20" x2="173.80" y2="307.20" stroke="#000" stroke-width="1.7"/>
<text x="160.90" y="307.98" font-size="14" font-weight="normal" text-anchor="middle" fill="#231f20">*</text>
<text x="168.40" y="326.40" font-size="11" font-weight="normal" text-anchor="start" fill="#aaaaaa" textLength="26.8" lengthAdjust="spacingAndGlyphs">Ctx A</text>
<text x="167.90" y="338.80" font-size="11" font-weight="normal" text-anchor="start" fill="#000" textLength="26.8" lengthAdjust="spacingAndGlyphs">Ctx B</text>
<text transform="translate(36.90,382.65) rotate(-90)" font-size="11.3" font-weight="normal" text-anchor="middle" fill="#231f20" textLength="87.5" lengthAdjust="spacingAndGlyphs">% of time freezing</text>
<text x="206.50" y="306.60" font-size="23" font-weight="bold" text-anchor="start" fill="#231f20">e</text>
<rect x="261.90" y="329.83" width="22.20" height="119.17" fill="#f7aa3b"/>
<rect x="295.00" y="394.32" width="22.50" height="54.68" fill="#0b5394"/>
<line x1="272.80" y1="329.83" x2="272.80" y2="321.60" stroke="#808080" stroke-width="1"/>
<line x1="267.20" y1="321.60" x2="278.30" y2="321.60" stroke="#808080" stroke-width="1"/>
<line x1="306.30" y1="394.32" x2="306.30" y2="382.70" stroke="#808080" stroke-width="1"/>
<line x1="300.00" y1="382.70" x2="312.00" y2="382.70" stroke="#808080" stroke-width="1"/>
<circle cx="272.8" cy="308.8" r="1.9" fill="#d2d2d2"/>
<circle cx="272.8" cy="316.5" r="1.9" fill="#d2d2d2"/>
<circle cx="270.4" cy="333.2" r="1.9" fill="#d2d2d2"/>
<circle cx="275.2" cy="333.2" r="1.9" fill="#d2d2d2"/>
<circle cx="272.8" cy="360.5" r="1.9" fill="#d2d2d2"/>
<circle cx="306.3" cy="352.3" r="1.9" fill="#d2d2d2"/>
<circle cx="304.2" cy="393.5" r="1.9" fill="#d2d2d2"/>
<circle cx="308.3" cy="397.6" r="1.9" fill="#d2d2d2"/>
<circle cx="306.3" cy="404.7" r="1.9" fill="#d2d2d2"/>
<circle cx="306.3" cy="422.1" r="1.9" fill="#d2d2d2"/>
<line x1="250.30" y1="308.20" x2="250.30" y2="449.80" stroke="#000" stroke-width="1.6"/>
<line x1="249.50" y1="449.00" x2="329.20" y2="449.00" stroke="#000" stroke-width="1.6"/>
<line x1="243.90" y1="449.00" x2="250.30" y2="449.00" stroke="#000" stroke-width="1.3"/>
<line x1="247.40" y1="441.99" x2="250.30" y2="441.99" stroke="#000" stroke-width="1.3"/>
<line x1="247.40" y1="434.98" x2="250.30" y2="434.98" stroke="#000" stroke-width="1.3"/>
<line x1="247.40" y1="427.97" x2="250.30" y2="427.97" stroke="#000" stroke-width="1.3"/>
<line x1="247.40" y1="420.96" x2="250.30" y2="420.96" stroke="#000" stroke-width="1.3"/>
<line x1="247.40" y1="413.95" x2="250.30" y2="413.95" stroke="#000" stroke-width="1.3"/>
<line x1="247.40" y1="406.94" x2="250.30" y2="406.94" stroke="#000" stroke-width="1.3"/>
<line x1="247.40" y1="399.93" x2="250.30" y2="399.93" stroke="#000" stroke-width="1.3"/>
<line x1="247.40" y1="392.92" x2="250.30" y2="392.92" stroke="#000" stroke-width="1.3"/>
<line x1="247.40" y1="385.91" x2="250.30" y2="385.91" stroke="#000" stroke-width="1.3"/>
<line x1="243.90" y1="378.90" x2="250.30" y2="378.90" stroke="#000" stroke-width="1.3"/>
<line x1="247.40" y1="371.89" x2="250.30" y2="371.89" stroke="#000" stroke-width="1.3"/>
<line x1="247.40" y1="364.88" x2="250.30" y2="364.88" stroke="#000" stroke-width="1.3"/>
<line x1="247.40" y1="357.87" x2="250.30" y2="357.87" stroke="#000" stroke-width="1.3"/>
<line x1="247.40" y1="350.86" x2="250.30" y2="350.86" stroke="#000" stroke-width="1.3"/>
<line x1="247.40" y1="343.85" x2="250.30" y2="343.85" stroke="#000" stroke-width="1.3"/>
<line x1="247.40" y1="336.84" x2="250.30" y2="336.84" stroke="#000" stroke-width="1.3"/>
<line x1="247.40" y1="329.83" x2="250.30" y2="329.83" stroke="#000" stroke-width="1.3"/>
<line x1="247.40" y1="322.82" x2="250.30" y2="322.82" stroke="#000" stroke-width="1.3"/>
<line x1="247.40" y1="315.81" x2="250.30" y2="315.81" stroke="#000" stroke-width="1.3"/>
<line x1="243.90" y1="308.80" x2="250.30" y2="308.80" stroke="#000" stroke-width="1.3"/>
<text x="242.60" y="452.60" font-size="10.5" font-weight="normal" text-anchor="end" fill="#231f20">0.0</text>
<text x="242.60" y="382.50" font-size="10.5" font-weight="normal" text-anchor="end" fill="#231f20">0.5</text>
<text x="242.60" y="312.40" font-size="10.5" font-weight="normal" text-anchor="end" fill="#231f20">1.0</text>
<line x1="272.60" y1="449.00" x2="272.60" y2="455.00" stroke="#000" stroke-width="1.3"/>
<line x1="306.30" y1="449.00" x2="306.30" y2="455.00" stroke="#000" stroke-width="1.3"/>
<text x="275.60" y="466.00" font-size="10.5" font-weight="normal" text-anchor="middle" fill="#231f20" textLength="37.0" lengthAdjust="spacingAndGlyphs">hM4Di–</text>
<text x="321.60" y="466.00" font-size="10.5" font-weight="normal" text-anchor="middle" fill="#231f20" textLength="39.0" lengthAdjust="spacingAndGlyphs">hM4Di+</text>
<line x1="271.10" y1="474.20" x2="325.10" y2="474.20" stroke="#000" stroke-width="1.2"/>
<text x="297.10" y="486.10" font-size="10.5" font-weight="normal" text-anchor="middle" fill="#231f20" textLength="34.7" lengthAdjust="spacingAndGlyphs">+ CNO</text>
<line x1="278.50" y1="304.70" x2="317.90" y2="304.70" stroke="#000" stroke-width="1.7"/>
<text x="298.20" y="305.21" font-size="16" font-weight="normal" text-anchor="middle" fill="#231f20">*</text>
<text transform="translate(221.74,382.85) rotate(-90)" font-size="11" font-weight="normal" text-anchor="middle" fill="#231f20" textLength="103.9" lengthAdjust="spacingAndGlyphs">Discrimination Index</text>
<text x="26.20" y="498.20" font-size="23" font-weight="bold" text-anchor="start" fill="#231f20">f</text>
<text x="113.70" y="514.00" font-size="11.5" font-weight="bold" text-anchor="middle" fill="#231f20" textLength="42.6" lengthAdjust="spacingAndGlyphs">hM4Di+</text>
<g fill="#6899d3"><circle cx="93.5" cy="551.0" r="1.12"/><circle cx="92.5" cy="552.8" r="1.12"/><circle cx="94.5" cy="552.5" r="1.12"/><circle cx="93.6" cy="554.3" r="1.12"/><circle cx="95.3" cy="556.1" r="1.12"/><circle cx="91.6" cy="557.9" r="1.12"/><circle cx="93.5" cy="558.0" r="1.12"/><circle cx="95.3" cy="558.1" r="1.12"/><circle cx="92.7" cy="559.7" r="1.12"/><circle cx="94.6" cy="560.0" r="1.12"/><circle cx="95.4" cy="559.7" r="1.12"/><circle cx="91.9" cy="561.5" r="1.12"/><circle cx="93.4" cy="561.7" r="1.12"/><circle cx="95.0" cy="561.4" r="1.12"/><circle cx="92.6" cy="563.5" r="1.12"/><circle cx="94.2" cy="563.3" r="1.12"/><circle cx="95.1" cy="563.0" r="1.12"/><circle cx="91.6" cy="564.9" r="1.12"/><circle cx="93.3" cy="565.1" r="1.12"/><circle cx="95.3" cy="565.0" r="1.12"/><circle cx="89.2" cy="566.6" r="1.12"/><circle cx="90.7" cy="566.7" r="1.12"/><circle cx="92.5" cy="567.0" r="1.12"/><circle cx="94.3" cy="566.9" r="1.12"/><circle cx="96.1" cy="566.9" r="1.12"/><circle cx="97.7" cy="567.0" r="1.12"/><circle cx="89.9" cy="568.4" r="1.12"/><circle cx="91.5" cy="568.5" r="1.12"/><circle cx="93.6" cy="568.4" r="1.12"/><circle cx="95.5" cy="568.5" r="1.12"/><circle cx="97.2" cy="568.3" r="1.12"/><circle cx="89.3" cy="570.4" r="1.12"/><circle cx="90.7" cy="570.4" r="1.12"/><circle cx="92.5" cy="570.5" r="1.12"/><circle cx="94.4" cy="570.2" r="1.12"/><circle cx="95.9" cy="570.5" r="1.12"/><circle cx="98.0" cy="570.1" r="1.12"/><circle cx="89.8" cy="572.1" r="1.12"/><circle cx="91.6" cy="572.0" r="1.12"/><circle cx="93.6" cy="571.9" r="1.12"/><circle cx="95.1" cy="571.8" r="1.12"/><circle cx="97.0" cy="571.8" r="1.12"/><circle cx="90.8" cy="573.8" r="1.12"/><circle cx="92.6" cy="573.9" r="1.12"/><circle cx="96.2" cy="573.8" r="1.12"/><circle cx="96.8" cy="573.5" r="1.12"/><circle cx="90.1" cy="575.5" r="1.12"/><circle cx="91.7" cy="575.7" r="1.12"/><circle cx="93.5" cy="575.6" r="1.12"/><circle cx="95.4" cy="575.6" r="1.12"/><circle cx="97.2" cy="575.4" r="1.12"/><circle cx="99.0" cy="575.7" r="1.12"/><circle cx="91.0" cy="577.4" r="1.12"/><circle cx="92.7" cy="577.2" r="1.12"/><circle cx="94.4" cy="577.0" r="1.12"/><circle cx="96.4" cy="577.4" r="1.12"/><circle cx="96.9" cy="577.4" r="1.12"/><circle cx="89.8" cy="579.1" r="1.12"/><circle cx="91.8" cy="579.0" r="1.12"/><circle cx="93.6" cy="579.0" r="1.12"/><circle cx="95.5" cy="578.9" r="1.12"/><circle cx="96.9" cy="579.1" r="1.12"/><circle cx="89.0" cy="581.0" r="1.12"/><circle cx="90.8" cy="580.9" r="1.12"/><circle cx="92.7" cy="580.6" r="1.12"/><circle cx="94.5" cy="581.0" r="1.12"/><circle cx="96.1" cy="580.8" r="1.12"/><circle cx="97.7" cy="580.7" r="1.12"/><circle cx="98.9" cy="580.9" r="1.12"/><circle cx="86.5" cy="582.4" r="1.12"/><circle cx="88.2" cy="582.6" r="1.12"/><circle cx="89.9" cy="582.7" r="1.12"/><circle cx="93.3" cy="582.3" r="1.12"/><circle cx="95.0" cy="582.6" r="1.12"/><circle cx="96.9" cy="582.6" r="1.12"/><circle cx="98.6" cy="582.5" r="1.12"/><circle cx="100.7" cy="582.4" r="1.12"/><circle cx="85.4" cy="584.3" r="1.12"/><circle cx="87.4" cy="584.3" r="1.12"/><circle cx="89.4" cy="584.3" r="1.12"/><circle cx="90.9" cy="584.1" r="1.12"/><circle cx="92.6" cy="584.4" r="1.12"/><circle cx="94.3" cy="584.2" r="1.12"/><circle cx="96.1" cy="584.3" r="1.12"/><circle cx="97.8" cy="584.4" r="1.12"/><circle cx="99.4" cy="584.5" r="1.12"/><circle cx="101.2" cy="584.2" r="1.12"/><circle cx="86.5" cy="586.2" r="1.12"/><circle cx="88.5" cy="586.0" r="1.12"/><circle cx="89.9" cy="586.1" r="1.12"/><circle cx="91.8" cy="586.1" r="1.12"/><circle cx="93.7" cy="586.2" r="1.12"/><circle cx="97.1" cy="585.9" r="1.12"/><circle cx="98.9" cy="585.9" r="1.12"/><circle cx="100.5" cy="586.0" r="1.12"/><circle cx="85.6" cy="587.5" r="1.12"/><circle cx="87.2" cy="587.9" r="1.12"/><circle cx="89.0" cy="587.9" r="1.12"/><circle cx="90.7" cy="587.8" r="1.12"/><circle cx="92.8" cy="587.8" r="1.12"/><circle cx="94.4" cy="588.0" r="1.12"/><circle cx="96.0" cy="587.8" r="1.12"/><circle cx="98.0" cy="587.8" r="1.12"/><circle cx="99.8" cy="587.8" r="1.12"/><circle cx="101.3" cy="587.9" r="1.12"/><circle cx="102.1" cy="587.9" r="1.12"/><circle cx="81.1" cy="589.5" r="1.12"/><circle cx="83.1" cy="589.3" r="1.12"/><circle cx="86.5" cy="589.7" r="1.12"/><circle cx="88.2" cy="589.6" r="1.12"/><circle cx="90.0" cy="589.5" r="1.12"/><circle cx="93.4" cy="589.5" r="1.12"/><circle cx="95.2" cy="589.7" r="1.12"/><circle cx="97.0" cy="589.4" r="1.12"/><circle cx="98.8" cy="589.7" r="1.12"/><circle cx="100.6" cy="589.3" r="1.12"/><circle cx="102.1" cy="589.6" r="1.12"/><circle cx="103.9" cy="589.6" r="1.12"/><circle cx="105.9" cy="589.3" r="1.12"/><circle cx="82.0" cy="591.1" r="1.12"/><circle cx="83.8" cy="591.2" r="1.12"/><circle cx="85.6" cy="591.1" r="1.12"/><circle cx="87.4" cy="591.3" r="1.12"/><circle cx="89.3" cy="591.3" r="1.12"/><circle cx="90.7" cy="591.4" r="1.12"/><circle cx="92.8" cy="591.2" r="1.12"/><circle cx="94.6" cy="591.1" r="1.12"/><circle cx="97.7" cy="591.1" r="1.12"/><circle cx="99.5" cy="591.0" r="1.12"/><circle cx="101.3" cy="591.4" r="1.12"/><circle cx="103.1" cy="591.3" r="1.12"/><circle cx="104.7" cy="591.3" r="1.12"/><circle cx="79.5" cy="593.1" r="1.12"/><circle cx="81.3" cy="592.8" r="1.12"/><circle cx="82.8" cy="592.8" r="1.12"/><circle cx="84.8" cy="593.0" r="1.12"/><circle cx="86.3" cy="592.9" r="1.12"/><circle cx="88.5" cy="593.2" r="1.12"/><circle cx="89.8" cy="593.2" r="1.12"/><circle cx="91.9" cy="592.9" r="1.12"/><circle cx="93.5" cy="593.0" r="1.12"/><circle cx="95.0" cy="593.1" r="1.12"/><circle cx="96.8" cy="593.0" r="1.12"/><circle cx="98.7" cy="592.8" r="1.12"/><circle cx="100.5" cy="592.8" r="1.12"/><circle cx="102.4" cy="593.1" r="1.12"/><circle cx="104.1" cy="593.0" r="1.12"/><circle cx="105.8" cy="593.2" r="1.12"/><circle cx="107.4" cy="593.2" r="1.12"/><circle cx="84.0" cy="594.9" r="1.12"/><circle cx="85.8" cy="594.9" r="1.12"/><circle cx="87.5" cy="594.9" r="1.12"/><circle cx="89.2" cy="594.5" r="1.12"/><circle cx="90.9" cy="594.5" r="1.12"/><circle cx="92.7" cy="594.8" r="1.12"/><circle cx="94.6" cy="594.8" r="1.12"/><circle cx="96.2" cy="594.8" r="1.12"/><circle cx="97.8" cy="595.0" r="1.12"/><circle cx="99.7" cy="594.9" r="1.12"/><circle cx="103.2" cy="594.9" r="1.12"/><circle cx="104.0" cy="594.5" r="1.12"/><circle cx="81.1" cy="596.7" r="1.12"/><circle cx="83.0" cy="596.7" r="1.12"/><circle cx="85.0" cy="596.6" r="1.12"/><circle cx="86.3" cy="596.5" r="1.12"/><circle cx="88.0" cy="596.7" r="1.12"/><circle cx="90.0" cy="596.3" r="1.12"/><circle cx="91.8" cy="596.3" r="1.12"/><circle cx="93.5" cy="596.5" r="1.12"/><circle cx="95.2" cy="596.4" r="1.12"/><circle cx="97.0" cy="596.4" r="1.12"/><circle cx="98.6" cy="596.3" r="1.12"/><circle cx="100.3" cy="596.3" r="1.12"/><circle cx="102.2" cy="596.7" r="1.12"/><circle cx="103.8" cy="596.7" r="1.12"/><circle cx="105.5" cy="596.7" r="1.12"/><circle cx="82.1" cy="598.5" r="1.12"/><circle cx="83.9" cy="598.5" r="1.12"/><circle cx="85.6" cy="598.5" r="1.12"/><circle cx="87.4" cy="598.1" r="1.12"/><circle cx="89.1" cy="598.1" r="1.12"/><circle cx="90.9" cy="598.1" r="1.12"/><circle cx="92.7" cy="598.2" r="1.12"/><circle cx="94.4" cy="598.2" r="1.12"/><circle cx="96.1" cy="598.5" r="1.12"/><circle cx="99.5" cy="598.1" r="1.12"/><circle cx="101.5" cy="598.3" r="1.12"/><circle cx="103.0" cy="598.3" r="1.12"/><circle cx="104.9" cy="598.3" r="1.12"/><circle cx="105.6" cy="598.1" r="1.12"/><circle cx="81.0" cy="599.8" r="1.12"/><circle cx="83.0" cy="600.1" r="1.12"/><circle cx="84.8" cy="599.8" r="1.12"/><circle cx="86.6" cy="600.0" r="1.12"/><circle cx="88.2" cy="600.0" r="1.12"/><circle cx="89.9" cy="600.1" r="1.12"/><circle cx="91.5" cy="599.8" r="1.12"/><circle cx="93.6" cy="600.1" r="1.12"/><circle cx="95.2" cy="599.9" r="1.12"/><circle cx="96.9" cy="600.1" r="1.12"/><circle cx="100.5" cy="600.1" r="1.12"/><circle cx="102.2" cy="599.9" r="1.12"/><circle cx="104.2" cy="599.8" r="1.12"/><circle cx="105.8" cy="600.0" r="1.12"/><circle cx="83.8" cy="601.9" r="1.12"/><circle cx="85.5" cy="601.8" r="1.12"/><circle cx="87.3" cy="601.9" r="1.12"/><circle cx="89.0" cy="601.6" r="1.12"/><circle cx="91.0" cy="601.7" r="1.12"/><circle cx="92.7" cy="601.8" r="1.12"/><circle cx="94.6" cy="602.0" r="1.12"/><circle cx="96.3" cy="601.7" r="1.12"/><circle cx="97.8" cy="602.0" r="1.12"/><circle cx="99.5" cy="601.7" r="1.12"/><circle cx="101.3" cy="601.7" r="1.12"/><circle cx="103.0" cy="601.8" r="1.12"/><circle cx="83.0" cy="603.3" r="1.12"/><circle cx="84.9" cy="603.4" r="1.12"/><circle cx="86.5" cy="603.5" r="1.12"/><circle cx="88.5" cy="603.6" r="1.12"/><circle cx="89.8" cy="603.5" r="1.12"/><circle cx="91.5" cy="603.3" r="1.12"/><circle cx="93.7" cy="603.3" r="1.12"/><circle cx="95.1" cy="603.6" r="1.12"/><circle cx="96.9" cy="603.4" r="1.12"/><circle cx="98.8" cy="603.6" r="1.12"/><circle cx="100.4" cy="603.7" r="1.12"/><circle cx="102.2" cy="603.5" r="1.12"/><circle cx="104.1" cy="603.7" r="1.12"/><circle cx="85.8" cy="605.3" r="1.12"/><circle cx="87.5" cy="605.4" r="1.12"/><circle cx="89.4" cy="605.3" r="1.12"/><circle cx="91.0" cy="605.4" r="1.12"/><circle cx="92.6" cy="605.1" r="1.12"/><circle cx="94.6" cy="605.2" r="1.12"/><circle cx="96.0" cy="605.2" r="1.12"/><circle cx="98.1" cy="605.0" r="1.12"/><circle cx="99.4" cy="605.3" r="1.12"/><circle cx="101.2" cy="605.0" r="1.12"/><circle cx="102.3" cy="605.5" r="1.12"/><circle cx="82.9" cy="606.9" r="1.12"/><circle cx="84.8" cy="606.9" r="1.12"/><circle cx="86.4" cy="606.8" r="1.12"/><circle cx="88.2" cy="607.0" r="1.12"/><circle cx="90.0" cy="606.9" r="1.12"/><circle cx="92.0" cy="606.9" r="1.12"/><circle cx="93.7" cy="607.0" r="1.12"/><circle cx="95.0" cy="607.2" r="1.12"/><circle cx="96.9" cy="607.0" r="1.12"/><circle cx="98.6" cy="607.2" r="1.12"/><circle cx="100.4" cy="606.8" r="1.12"/><circle cx="102.2" cy="607.1" r="1.12"/><circle cx="104.1" cy="606.8" r="1.12"/><circle cx="83.8" cy="608.6" r="1.12"/><circle cx="85.6" cy="608.8" r="1.12"/><circle cx="89.1" cy="608.6" r="1.12"/><circle cx="90.6" cy="608.9" r="1.12"/><circle cx="92.8" cy="608.5" r="1.12"/><circle cx="94.5" cy="608.5" r="1.12"/><circle cx="96.1" cy="609.0" r="1.12"/><circle cx="98.1" cy="608.7" r="1.12"/><circle cx="99.6" cy="609.0" r="1.12"/><circle cx="101.5" cy="608.6" r="1.12"/><circle cx="103.1" cy="608.6" r="1.12"/><circle cx="84.5" cy="610.4" r="1.12"/><circle cx="86.6" cy="610.4" r="1.12"/><circle cx="88.1" cy="610.4" r="1.12"/><circle cx="90.2" cy="610.7" r="1.12"/><circle cx="91.5" cy="610.4" r="1.12"/><circle cx="93.4" cy="610.5" r="1.12"/><circle cx="95.0" cy="610.7" r="1.12"/><circle cx="96.9" cy="610.6" r="1.12"/><circle cx="98.7" cy="610.5" r="1.12"/><circle cx="100.4" cy="610.4" r="1.12"/><circle cx="102.1" cy="610.3" r="1.12"/><circle cx="85.5" cy="612.5" r="1.12"/><circle cx="87.5" cy="612.2" r="1.12"/><circle cx="88.9" cy="612.1" r="1.12"/><circle cx="91.0" cy="612.4" r="1.12"/><circle cx="92.6" cy="612.4" r="1.12"/><circle cx="94.2" cy="612.1" r="1.12"/><circle cx="95.9" cy="612.2" r="1.12"/><circle cx="98.1" cy="612.2" r="1.12"/><circle cx="99.7" cy="612.4" r="1.12"/><circle cx="101.3" cy="612.2" r="1.12"/><circle cx="86.6" cy="614.2" r="1.12"/><circle cx="88.3" cy="614.1" r="1.12"/><circle cx="89.9" cy="613.9" r="1.12"/><circle cx="91.6" cy="613.9" r="1.12"/><circle cx="93.6" cy="614.2" r="1.12"/><circle cx="95.1" cy="614.1" r="1.12"/><circle cx="97.0" cy="613.9" r="1.12"/><circle cx="98.6" cy="614.1" r="1.12"/><circle cx="87.5" cy="615.9" r="1.12"/><circle cx="89.3" cy="615.8" r="1.12"/><circle cx="90.7" cy="615.6" r="1.12"/><circle cx="92.7" cy="615.7" r="1.12"/><circle cx="94.3" cy="615.7" r="1.12"/><circle cx="96.4" cy="615.6" r="1.12"/><circle cx="97.9" cy="615.8" r="1.12"/><circle cx="99.5" cy="616.0" r="1.12"/><circle cx="88.1" cy="617.7" r="1.12"/><circle cx="90.2" cy="617.4" r="1.12"/><circle cx="91.9" cy="617.3" r="1.12"/><circle cx="93.3" cy="617.3" r="1.12"/><circle cx="95.5" cy="617.7" r="1.12"/><circle cx="96.9" cy="617.6" r="1.12"/><circle cx="98.7" cy="617.5" r="1.12"/><circle cx="88.9" cy="619.1" r="1.12"/><circle cx="90.7" cy="619.2" r="1.12"/><circle cx="92.5" cy="619.3" r="1.12"/><circle cx="94.4" cy="619.2" r="1.12"/><circle cx="95.9" cy="619.3" r="1.12"/><circle cx="98.1" cy="619.3" r="1.12"/><circle cx="98.7" cy="619.3" r="1.12"/><circle cx="90.0" cy="621.2" r="1.12"/><circle cx="91.9" cy="621.0" r="1.12"/><circle cx="93.5" cy="621.2" r="1.12"/><circle cx="95.3" cy="621.0" r="1.12"/><circle cx="96.9" cy="620.8" r="1.12"/><circle cx="91.1" cy="622.9" r="1.12"/><circle cx="92.8" cy="622.7" r="1.12"/><circle cx="94.2" cy="622.6" r="1.12"/><circle cx="96.1" cy="622.7" r="1.12"/><circle cx="97.1" cy="622.8" r="1.12"/><circle cx="89.9" cy="624.3" r="1.12"/><circle cx="92.0" cy="624.6" r="1.12"/><circle cx="93.5" cy="624.7" r="1.12"/><circle cx="95.4" cy="624.5" r="1.12"/><circle cx="96.8" cy="624.6" r="1.12"/><circle cx="90.9" cy="626.5" r="1.12"/><circle cx="92.5" cy="626.1" r="1.12"/><circle cx="94.2" cy="626.4" r="1.12"/><circle cx="96.1" cy="626.2" r="1.12"/><circle cx="96.8" cy="626.0" r="1.12"/><circle cx="92.0" cy="628.2" r="1.12"/><circle cx="93.4" cy="627.9" r="1.12"/><circle cx="95.4" cy="627.8" r="1.12"/><circle cx="92.6" cy="629.7" r="1.12"/><circle cx="94.6" cy="630.0" r="1.12"/><circle cx="95.3" cy="629.6" r="1.12"/><circle cx="91.9" cy="631.4" r="1.12"/><circle cx="93.7" cy="631.6" r="1.12"/><circle cx="95.3" cy="631.7" r="1.12"/><circle cx="92.4" cy="633.1" r="1.12"/><circle cx="94.5" cy="633.1" r="1.12"/><circle cx="93.6" cy="634.9" r="1.12"/><circle cx="92.8" cy="636.8" r="1.12"/><circle cx="94.3" cy="637.0" r="1.12"/><circle cx="93.5" cy="547.2" r="1.12"/><circle cx="94.5" cy="548.5" r="1.12"/><circle cx="93.5" cy="642.1" r="1.12"/></g>
<g fill="#c272b3"><circle cx="131.8" cy="561.8" r="1.12"/><circle cx="129.3" cy="563.9" r="1.12"/><circle cx="131.2" cy="563.8" r="1.12"/><circle cx="132.7" cy="563.7" r="1.12"/><circle cx="134.8" cy="563.5" r="1.12"/><circle cx="128.4" cy="565.5" r="1.12"/><circle cx="130.0" cy="565.3" r="1.12"/><circle cx="132.0" cy="565.3" r="1.12"/><circle cx="135.3" cy="565.5" r="1.12"/><circle cx="129.3" cy="567.3" r="1.12"/><circle cx="131.2" cy="567.0" r="1.12"/><circle cx="133.0" cy="567.2" r="1.12"/><circle cx="134.7" cy="567.2" r="1.12"/><circle cx="135.3" cy="567.4" r="1.12"/><circle cx="126.7" cy="568.9" r="1.12"/><circle cx="128.6" cy="568.8" r="1.12"/><circle cx="130.2" cy="569.0" r="1.12"/><circle cx="132.0" cy="568.8" r="1.12"/><circle cx="133.7" cy="569.0" r="1.12"/><circle cx="135.5" cy="568.9" r="1.12"/><circle cx="137.1" cy="569.0" r="1.12"/><circle cx="129.5" cy="570.5" r="1.12"/><circle cx="131.0" cy="570.8" r="1.12"/><circle cx="132.9" cy="570.6" r="1.12"/><circle cx="134.6" cy="571.0" r="1.12"/><circle cx="135.7" cy="570.6" r="1.12"/><circle cx="126.9" cy="572.7" r="1.12"/><circle cx="128.4" cy="572.6" r="1.12"/><circle cx="130.1" cy="572.3" r="1.12"/><circle cx="132.1" cy="572.7" r="1.12"/><circle cx="135.3" cy="572.4" r="1.12"/><circle cx="137.4" cy="572.6" r="1.12"/><circle cx="129.4" cy="574.2" r="1.12"/><circle cx="131.0" cy="574.5" r="1.12"/><circle cx="132.7" cy="574.1" r="1.12"/><circle cx="134.5" cy="574.5" r="1.12"/><circle cx="135.6" cy="574.4" r="1.12"/><circle cx="128.6" cy="576.1" r="1.12"/><circle cx="130.4" cy="576.0" r="1.12"/><circle cx="132.0" cy="576.2" r="1.12"/><circle cx="133.8" cy="576.2" r="1.12"/><circle cx="127.6" cy="577.8" r="1.12"/><circle cx="129.5" cy="577.8" r="1.12"/><circle cx="131.1" cy="577.9" r="1.12"/><circle cx="132.6" cy="577.9" r="1.12"/><circle cx="134.8" cy="577.9" r="1.12"/><circle cx="136.4" cy="577.9" r="1.12"/><circle cx="137.0" cy="577.7" r="1.12"/><circle cx="126.8" cy="579.6" r="1.12"/><circle cx="128.5" cy="579.6" r="1.12"/><circle cx="130.1" cy="579.5" r="1.12"/><circle cx="132.1" cy="579.3" r="1.12"/><circle cx="133.7" cy="579.6" r="1.12"/><circle cx="135.6" cy="579.7" r="1.12"/><circle cx="137.0" cy="579.5" r="1.12"/><circle cx="124.0" cy="581.3" r="1.12"/><circle cx="125.7" cy="581.2" r="1.12"/><circle cx="127.4" cy="581.2" r="1.12"/><circle cx="129.2" cy="581.2" r="1.12"/><circle cx="131.3" cy="581.3" r="1.12"/><circle cx="132.7" cy="581.2" r="1.12"/><circle cx="134.8" cy="581.1" r="1.12"/><circle cx="136.6" cy="581.4" r="1.12"/><circle cx="138.1" cy="581.4" r="1.12"/><circle cx="140.0" cy="581.3" r="1.12"/><circle cx="124.9" cy="583.1" r="1.12"/><circle cx="126.7" cy="582.9" r="1.12"/><circle cx="128.3" cy="582.9" r="1.12"/><circle cx="130.1" cy="582.8" r="1.12"/><circle cx="131.9" cy="583.2" r="1.12"/><circle cx="133.7" cy="583.2" r="1.12"/><circle cx="135.4" cy="582.8" r="1.12"/><circle cx="137.4" cy="583.1" r="1.12"/><circle cx="139.0" cy="583.1" r="1.12"/><circle cx="125.8" cy="584.7" r="1.12"/><circle cx="127.6" cy="584.9" r="1.12"/><circle cx="129.2" cy="584.6" r="1.12"/><circle cx="132.7" cy="584.9" r="1.12"/><circle cx="134.8" cy="584.7" r="1.12"/><circle cx="136.3" cy="584.6" r="1.12"/><circle cx="138.3" cy="584.6" r="1.12"/><circle cx="138.8" cy="584.7" r="1.12"/><circle cx="125.1" cy="586.4" r="1.12"/><circle cx="126.6" cy="586.4" r="1.12"/><circle cx="128.6" cy="586.3" r="1.12"/><circle cx="130.3" cy="586.5" r="1.12"/><circle cx="132.1" cy="586.7" r="1.12"/><circle cx="133.8" cy="586.5" r="1.12"/><circle cx="135.4" cy="586.5" r="1.12"/><circle cx="137.4" cy="586.4" r="1.12"/><circle cx="139.0" cy="586.7" r="1.12"/><circle cx="124.4" cy="588.3" r="1.12"/><circle cx="125.8" cy="588.3" r="1.12"/><circle cx="127.8" cy="588.1" r="1.12"/><circle cx="129.2" cy="588.0" r="1.12"/><circle cx="130.9" cy="588.1" r="1.12"/><circle cx="133.0" cy="588.3" r="1.12"/><circle cx="138.3" cy="588.0" r="1.12"/><circle cx="140.1" cy="588.2" r="1.12"/><circle cx="123.3" cy="589.9" r="1.12"/><circle cx="124.8" cy="590.1" r="1.12"/><circle cx="130.5" cy="589.9" r="1.12"/><circle cx="132.2" cy="590.1" r="1.12"/><circle cx="133.5" cy="589.9" r="1.12"/><circle cx="135.6" cy="590.2" r="1.12"/><circle cx="137.2" cy="589.9" r="1.12"/><circle cx="139.2" cy="590.0" r="1.12"/><circle cx="140.8" cy="590.0" r="1.12"/><circle cx="120.5" cy="591.7" r="1.12"/><circle cx="122.2" cy="591.8" r="1.12"/><circle cx="125.8" cy="591.7" r="1.12"/><circle cx="127.7" cy="591.8" r="1.12"/><circle cx="129.4" cy="591.8" r="1.12"/><circle cx="131.1" cy="591.7" r="1.12"/><circle cx="133.1" cy="591.7" r="1.12"/><circle cx="134.6" cy="591.6" r="1.12"/><circle cx="136.2" cy="591.7" r="1.12"/><circle cx="138.0" cy="592.0" r="1.12"/><circle cx="139.8" cy="591.8" r="1.12"/><circle cx="141.6" cy="591.8" r="1.12"/><circle cx="143.5" cy="591.6" r="1.12"/><circle cx="144.4" cy="592.0" r="1.12"/><circle cx="121.4" cy="593.7" r="1.12"/><circle cx="123.1" cy="593.6" r="1.12"/><circle cx="125.0" cy="593.5" r="1.12"/><circle cx="128.7" cy="593.4" r="1.12"/><circle cx="130.2" cy="593.6" r="1.12"/><circle cx="131.9" cy="593.5" r="1.12"/><circle cx="133.8" cy="593.6" r="1.12"/><circle cx="135.6" cy="593.4" r="1.12"/><circle cx="137.0" cy="593.7" r="1.12"/><circle cx="138.9" cy="593.7" r="1.12"/><circle cx="140.6" cy="593.7" r="1.12"/><circle cx="142.4" cy="593.4" r="1.12"/><circle cx="120.4" cy="595.0" r="1.12"/><circle cx="122.3" cy="595.1" r="1.12"/><circle cx="124.3" cy="595.2" r="1.12"/><circle cx="125.9" cy="595.5" r="1.12"/><circle cx="127.5" cy="595.4" r="1.12"/><circle cx="129.6" cy="595.3" r="1.12"/><circle cx="131.0" cy="595.5" r="1.12"/><circle cx="132.9" cy="595.4" r="1.12"/><circle cx="134.6" cy="595.5" r="1.12"/><circle cx="136.4" cy="595.1" r="1.12"/><circle cx="138.3" cy="595.3" r="1.12"/><circle cx="139.6" cy="595.2" r="1.12"/><circle cx="141.6" cy="595.0" r="1.12"/><circle cx="143.4" cy="595.3" r="1.12"/><circle cx="118.0" cy="597.2" r="1.12"/><circle cx="120.0" cy="596.8" r="1.12"/><circle cx="121.5" cy="597.1" r="1.12"/><circle cx="125.0" cy="597.1" r="1.12"/><circle cx="126.8" cy="597.1" r="1.12"/><circle cx="128.7" cy="597.1" r="1.12"/><circle cx="130.1" cy="596.8" r="1.12"/><circle cx="131.8" cy="597.2" r="1.12"/><circle cx="133.8" cy="596.8" r="1.12"/><circle cx="137.1" cy="597.2" r="1.12"/><circle cx="139.2" cy="596.9" r="1.12"/><circle cx="140.8" cy="596.9" r="1.12"/><circle cx="142.6" cy="597.1" r="1.12"/><circle cx="144.4" cy="596.9" r="1.12"/><circle cx="146.0" cy="596.8" r="1.12"/><circle cx="122.4" cy="598.7" r="1.12"/><circle cx="124.1" cy="598.7" r="1.12"/><circle cx="125.9" cy="598.8" r="1.12"/><circle cx="127.9" cy="599.0" r="1.12"/><circle cx="129.6" cy="598.7" r="1.12"/><circle cx="130.9" cy="598.7" r="1.12"/><circle cx="133.0" cy="598.9" r="1.12"/><circle cx="134.4" cy="599.0" r="1.12"/><circle cx="136.2" cy="598.7" r="1.12"/><circle cx="138.2" cy="599.0" r="1.12"/><circle cx="139.8" cy="599.0" r="1.12"/><circle cx="141.4" cy="599.0" r="1.12"/><circle cx="142.6" cy="598.7" r="1.12"/><circle cx="119.5" cy="600.5" r="1.12"/><circle cx="121.7" cy="600.5" r="1.12"/><circle cx="123.2" cy="600.6" r="1.12"/><circle cx="125.2" cy="600.7" r="1.12"/><circle cx="126.8" cy="600.3" r="1.12"/><circle cx="128.5" cy="600.3" r="1.12"/><circle cx="130.2" cy="600.3" r="1.12"/><circle cx="131.9" cy="600.7" r="1.12"/><circle cx="133.8" cy="600.5" r="1.12"/><circle cx="135.4" cy="600.7" r="1.12"/><circle cx="137.3" cy="600.6" r="1.12"/><circle cx="139.0" cy="600.3" r="1.12"/><circle cx="140.8" cy="600.3" r="1.12"/><circle cx="142.6" cy="600.5" r="1.12"/><circle cx="144.1" cy="600.3" r="1.12"/><circle cx="118.9" cy="602.3" r="1.12"/><circle cx="120.4" cy="602.5" r="1.12"/><circle cx="122.6" cy="602.1" r="1.12"/><circle cx="124.1" cy="602.1" r="1.12"/><circle cx="125.8" cy="602.0" r="1.12"/><circle cx="127.5" cy="602.5" r="1.12"/><circle cx="129.5" cy="602.2" r="1.12"/><circle cx="131.3" cy="602.1" r="1.12"/><circle cx="132.8" cy="602.4" r="1.12"/><circle cx="134.4" cy="602.5" r="1.12"/><circle cx="136.5" cy="602.1" r="1.12"/><circle cx="138.0" cy="602.2" r="1.12"/><circle cx="140.0" cy="602.3" r="1.12"/><circle cx="141.5" cy="602.1" r="1.12"/><circle cx="143.6" cy="602.0" r="1.12"/><circle cx="145.4" cy="602.1" r="1.12"/><circle cx="119.6" cy="604.1" r="1.12"/><circle cx="121.6" cy="603.8" r="1.12"/><circle cx="123.4" cy="604.2" r="1.12"/><circle cx="125.2" cy="604.0" r="1.12"/><circle cx="127.0" cy="604.2" r="1.12"/><circle cx="128.4" cy="604.1" r="1.12"/><circle cx="130.1" cy="604.1" r="1.12"/><circle cx="131.8" cy="603.8" r="1.12"/><circle cx="133.6" cy="604.2" r="1.12"/><circle cx="135.7" cy="604.2" r="1.12"/><circle cx="137.3" cy="604.1" r="1.12"/><circle cx="138.8" cy="604.2" r="1.12"/><circle cx="140.7" cy="604.1" r="1.12"/><circle cx="142.7" cy="603.9" r="1.12"/><circle cx="144.4" cy="603.8" r="1.12"/><circle cx="120.5" cy="605.7" r="1.12"/><circle cx="122.5" cy="605.6" r="1.12"/><circle cx="123.9" cy="605.6" r="1.12"/><circle cx="126.1" cy="605.5" r="1.12"/><circle cx="127.6" cy="605.7" r="1.12"/><circle cx="129.2" cy="605.7" r="1.12"/><circle cx="130.9" cy="605.6" r="1.12"/><circle cx="133.0" cy="606.0" r="1.12"/><circle cx="134.7" cy="605.6" r="1.12"/><circle cx="136.6" cy="605.8" r="1.12"/><circle cx="137.9" cy="605.9" r="1.12"/><circle cx="139.7" cy="605.6" r="1.12"/><circle cx="143.2" cy="605.5" r="1.12"/><circle cx="144.2" cy="605.7" r="1.12"/><circle cx="119.7" cy="607.3" r="1.12"/><circle cx="121.5" cy="607.3" r="1.12"/><circle cx="123.2" cy="607.3" r="1.12"/><circle cx="125.1" cy="607.6" r="1.12"/><circle cx="128.5" cy="607.5" r="1.12"/><circle cx="130.4" cy="607.3" r="1.12"/><circle cx="134.0" cy="607.3" r="1.12"/><circle cx="135.7" cy="607.6" r="1.12"/><circle cx="137.3" cy="607.5" r="1.12"/><circle cx="139.0" cy="607.5" r="1.12"/><circle cx="140.8" cy="607.5" r="1.12"/><circle cx="142.6" cy="607.4" r="1.12"/><circle cx="144.1" cy="607.5" r="1.12"/><circle cx="120.7" cy="609.0" r="1.12"/><circle cx="122.2" cy="609.3" r="1.12"/><circle cx="124.2" cy="609.4" r="1.12"/><circle cx="125.7" cy="609.3" r="1.12"/><circle cx="127.6" cy="609.1" r="1.12"/><circle cx="129.3" cy="609.5" r="1.12"/><circle cx="131.2" cy="609.5" r="1.12"/><circle cx="134.8" cy="609.1" r="1.12"/><circle cx="136.5" cy="609.1" r="1.12"/><circle cx="138.2" cy="609.2" r="1.12"/><circle cx="139.9" cy="609.3" r="1.12"/><circle cx="141.4" cy="609.3" r="1.12"/><circle cx="143.6" cy="609.3" r="1.12"/><circle cx="144.1" cy="609.1" r="1.12"/><circle cx="121.3" cy="610.9" r="1.12"/><circle cx="123.0" cy="611.0" r="1.12"/><circle cx="124.9" cy="610.8" r="1.12"/><circle cx="127.0" cy="610.8" r="1.12"/><circle cx="128.6" cy="610.9" r="1.12"/><circle cx="130.3" cy="610.9" r="1.12"/><circle cx="132.2" cy="610.9" r="1.12"/><circle cx="133.7" cy="611.1" r="1.12"/><circle cx="135.6" cy="611.1" r="1.12"/><circle cx="137.0" cy="611.0" r="1.12"/><circle cx="139.1" cy="610.9" r="1.12"/><circle cx="140.7" cy="611.2" r="1.12"/><circle cx="142.6" cy="610.8" r="1.12"/><circle cx="122.3" cy="612.7" r="1.12"/><circle cx="124.3" cy="612.7" r="1.12"/><circle cx="125.7" cy="612.8" r="1.12"/><circle cx="127.8" cy="612.5" r="1.12"/><circle cx="131.1" cy="612.8" r="1.12"/><circle cx="132.7" cy="612.5" r="1.12"/><circle cx="136.3" cy="612.8" r="1.12"/><circle cx="138.2" cy="612.5" r="1.12"/><circle cx="139.7" cy="612.8" r="1.12"/><circle cx="141.8" cy="612.8" r="1.12"/><circle cx="142.7" cy="612.7" r="1.12"/><circle cx="126.7" cy="614.4" r="1.12"/><circle cx="128.4" cy="614.7" r="1.12"/><circle cx="130.2" cy="614.6" r="1.12"/><circle cx="131.8" cy="614.4" r="1.12"/><circle cx="133.9" cy="614.4" r="1.12"/><circle cx="135.6" cy="614.7" r="1.12"/><circle cx="137.3" cy="614.4" r="1.12"/><circle cx="139.1" cy="614.6" r="1.12"/><circle cx="123.9" cy="616.4" r="1.12"/><circle cx="125.9" cy="616.5" r="1.12"/><circle cx="127.6" cy="616.3" r="1.12"/><circle cx="129.3" cy="616.2" r="1.12"/><circle cx="131.2" cy="616.1" r="1.12"/><circle cx="133.1" cy="616.3" r="1.12"/><circle cx="134.5" cy="616.1" r="1.12"/><circle cx="136.3" cy="616.1" r="1.12"/><circle cx="138.3" cy="616.4" r="1.12"/><circle cx="140.0" cy="616.1" r="1.12"/><circle cx="125.1" cy="618.0" r="1.12"/><circle cx="126.6" cy="618.0" r="1.12"/><circle cx="128.4" cy="618.1" r="1.12"/><circle cx="130.4" cy="618.1" r="1.12"/><circle cx="132.2" cy="618.2" r="1.12"/><circle cx="133.9" cy="618.0" r="1.12"/><circle cx="135.4" cy="618.0" r="1.12"/><circle cx="137.4" cy="618.1" r="1.12"/><circle cx="139.0" cy="618.0" r="1.12"/><circle cx="125.9" cy="619.7" r="1.12"/><circle cx="127.6" cy="619.6" r="1.12"/><circle cx="129.5" cy="619.7" r="1.12"/><circle cx="131.4" cy="619.8" r="1.12"/><circle cx="132.7" cy="619.8" r="1.12"/><circle cx="134.8" cy="619.9" r="1.12"/><circle cx="136.3" cy="619.5" r="1.12"/><circle cx="138.2" cy="619.9" r="1.12"/><circle cx="139.2" cy="619.6" r="1.12"/><circle cx="124.9" cy="621.5" r="1.12"/><circle cx="126.6" cy="621.3" r="1.12"/><circle cx="128.6" cy="621.5" r="1.12"/><circle cx="130.4" cy="621.5" r="1.12"/><circle cx="132.2" cy="621.3" r="1.12"/><circle cx="133.7" cy="621.6" r="1.12"/><circle cx="135.4" cy="621.4" r="1.12"/><circle cx="137.2" cy="621.7" r="1.12"/><circle cx="139.1" cy="621.5" r="1.12"/><circle cx="125.9" cy="623.4" r="1.12"/><circle cx="129.5" cy="623.5" r="1.12"/><circle cx="131.0" cy="623.0" r="1.12"/><circle cx="132.7" cy="623.0" r="1.12"/><circle cx="134.6" cy="623.3" r="1.12"/><circle cx="136.5" cy="623.1" r="1.12"/><circle cx="138.3" cy="623.4" r="1.12"/><circle cx="139.2" cy="623.3" r="1.12"/><circle cx="128.5" cy="625.0" r="1.12"/><circle cx="130.2" cy="625.0" r="1.12"/><circle cx="132.1" cy="624.8" r="1.12"/><circle cx="133.8" cy="625.0" r="1.12"/><circle cx="135.5" cy="625.2" r="1.12"/><circle cx="137.4" cy="624.9" r="1.12"/><circle cx="131.3" cy="626.8" r="1.12"/><circle cx="132.8" cy="627.0" r="1.12"/><circle cx="135.7" cy="626.7" r="1.12"/><circle cx="130.3" cy="628.5" r="1.12"/><circle cx="132.0" cy="628.3" r="1.12"/><circle cx="133.6" cy="628.6" r="1.12"/><circle cx="131.0" cy="630.4" r="1.12"/><circle cx="132.7" cy="630.5" r="1.12"/><circle cx="133.7" cy="630.4" r="1.12"/><circle cx="132.0" cy="547.8" r="1.12"/><circle cx="132.0" cy="558.5" r="1.12"/></g>
<rect x="87.38" y="587.90" width="12.75" height="3.00" fill="#000"/>
<line x1="81.00" y1="589.40" x2="106.50" y2="589.40" stroke="#000" stroke-width="1.5"/>
<rect x="125.65" y="591.70" width="12.90" height="3.00" fill="#000"/>
<line x1="119.20" y1="593.20" x2="145.00" y2="593.20" stroke="#000" stroke-width="1.5"/>
<line x1="68.30" y1="524.05" x2="68.30" y2="658.55" stroke="#000" stroke-width="1.3"/>
<line x1="67.65" y1="657.90" x2="157.70" y2="657.90" stroke="#000" stroke-width="1.3"/>
<line x1="62.50" y1="524.70" x2="68.30" y2="524.70" stroke="#000" stroke-width="1.3"/>
<text x="60.80" y="528.15" font-size="9.8" font-weight="bold" text-anchor="end" fill="#231f20">1</text>
<line x1="62.50" y1="569.10" x2="68.30" y2="569.10" stroke="#000" stroke-width="1.3"/>
<text x="60.80" y="572.55" font-size="9.8" font-weight="bold" text-anchor="end" fill="#231f20">0.1</text>
<line x1="62.50" y1="613.50" x2="68.30" y2="613.50" stroke="#000" stroke-width="1.3"/>
<text x="60.80" y="616.95" font-size="9.8" font-weight="bold" text-anchor="end" fill="#231f20">0.01</text>
<line x1="62.50" y1="657.90" x2="68.30" y2="657.90" stroke="#000" stroke-width="1.3"/>
<text x="60.80" y="661.35" font-size="9.8" font-weight="bold" text-anchor="end" fill="#231f20">0.001</text>
<line x1="93.40" y1="657.90" x2="93.40" y2="663.60" stroke="#000" stroke-width="1.3"/>
<line x1="131.60" y1="657.90" x2="131.60" y2="663.60" stroke="#000" stroke-width="1.3"/>
<text x="72.90" y="674.20" font-size="10" font-weight="bold" text-anchor="start" fill="#231f20" textLength="40.9" lengthAdjust="spacingAndGlyphs">Baseline</text>
<text x="120.50" y="674.20" font-size="10" font-weight="bold" text-anchor="start" fill="#231f20" textLength="22.5" lengthAdjust="spacingAndGlyphs">CNO</text>
<line x1="90.00" y1="532.30" x2="126.80" y2="532.30" stroke="#000" stroke-width="1.5"/>
<text x="104.00" y="534.85" font-size="20" font-weight="bold" text-anchor="middle" fill="#231f20">*</text>
<text x="113.40" y="534.85" font-size="20" font-weight="bold" text-anchor="middle" fill="#231f20">*</text>
<text transform="translate(37.32,589.80) rotate(-90)" font-size="11.5" font-weight="bold" text-anchor="middle" fill="#000" textLength="69.5" lengthAdjust="spacingAndGlyphs">Single-Cell FI</text>
<text x="199.40" y="503.50" font-size="23" font-weight="bold" text-anchor="start" fill="#231f20">g</text>
<text x="283.70" y="515.00" font-size="11.5" font-weight="bold" text-anchor="middle" fill="#231f20" textLength="39.4" lengthAdjust="spacingAndGlyphs">hM4Di-</text>
<g fill="#add899"><circle cx="267.5" cy="578.9" r="1.1"/><circle cx="269.4" cy="579.0" r="1.1"/><circle cx="270.9" cy="578.8" r="1.1"/><circle cx="272.8" cy="578.8" r="1.1"/><circle cx="274.4" cy="578.9" r="1.1"/><circle cx="266.9" cy="580.9" r="1.1"/><circle cx="269.9" cy="580.7" r="1.1"/><circle cx="271.7" cy="581.0" r="1.1"/><circle cx="273.5" cy="580.9" r="1.1"/><circle cx="275.6" cy="580.7" r="1.1"/><circle cx="276.2" cy="580.7" r="1.1"/><circle cx="267.6" cy="582.4" r="1.1"/><circle cx="272.9" cy="582.5" r="1.1"/><circle cx="274.3" cy="582.5" r="1.1"/><circle cx="265.1" cy="584.4" r="1.1"/><circle cx="266.6" cy="584.2" r="1.1"/><circle cx="268.6" cy="584.2" r="1.1"/><circle cx="269.9" cy="584.4" r="1.1"/><circle cx="273.6" cy="584.3" r="1.1"/><circle cx="275.2" cy="584.3" r="1.1"/><circle cx="277.2" cy="584.1" r="1.1"/><circle cx="265.8" cy="585.9" r="1.1"/><circle cx="267.3" cy="586.2" r="1.1"/><circle cx="269.2" cy="586.1" r="1.1"/><circle cx="271.2" cy="586.2" r="1.1"/><circle cx="273.0" cy="586.2" r="1.1"/><circle cx="274.7" cy="586.0" r="1.1"/><circle cx="276.1" cy="586.2" r="1.1"/><circle cx="277.8" cy="586.2" r="1.1"/><circle cx="263.1" cy="587.9" r="1.1"/><circle cx="264.8" cy="587.6" r="1.1"/><circle cx="266.5" cy="587.5" r="1.1"/><circle cx="268.6" cy="588.0" r="1.1"/><circle cx="270.1" cy="587.6" r="1.1"/><circle cx="273.7" cy="587.5" r="1.1"/><circle cx="275.5" cy="587.9" r="1.1"/><circle cx="278.8" cy="587.8" r="1.1"/><circle cx="262.4" cy="589.3" r="1.1"/><circle cx="264.2" cy="589.3" r="1.1"/><circle cx="265.8" cy="589.7" r="1.1"/><circle cx="267.4" cy="589.5" r="1.1"/><circle cx="272.5" cy="589.3" r="1.1"/><circle cx="274.5" cy="589.3" r="1.1"/><circle cx="277.8" cy="589.5" r="1.1"/><circle cx="279.7" cy="589.4" r="1.1"/><circle cx="259.5" cy="591.2" r="1.1"/><circle cx="261.4" cy="591.0" r="1.1"/><circle cx="263.3" cy="591.4" r="1.1"/><circle cx="264.6" cy="591.2" r="1.1"/><circle cx="266.8" cy="591.1" r="1.1"/><circle cx="268.3" cy="591.3" r="1.1"/><circle cx="269.9" cy="591.2" r="1.1"/><circle cx="272.1" cy="591.1" r="1.1"/><circle cx="273.6" cy="591.5" r="1.1"/><circle cx="275.4" cy="591.3" r="1.1"/><circle cx="277.4" cy="591.2" r="1.1"/><circle cx="278.9" cy="591.3" r="1.1"/><circle cx="280.8" cy="591.5" r="1.1"/><circle cx="282.3" cy="591.5" r="1.1"/><circle cx="260.7" cy="593.1" r="1.1"/><circle cx="262.3" cy="592.8" r="1.1"/><circle cx="264.0" cy="593.0" r="1.1"/><circle cx="265.7" cy="592.9" r="1.1"/><circle cx="267.5" cy="592.9" r="1.1"/><circle cx="269.4" cy="593.1" r="1.1"/><circle cx="270.9" cy="592.9" r="1.1"/><circle cx="272.8" cy="593.2" r="1.1"/><circle cx="274.5" cy="593.0" r="1.1"/><circle cx="276.4" cy="593.1" r="1.1"/><circle cx="278.1" cy="593.1" r="1.1"/><circle cx="281.6" cy="592.9" r="1.1"/><circle cx="261.4" cy="594.9" r="1.1"/><circle cx="266.5" cy="594.7" r="1.1"/><circle cx="268.2" cy="594.8" r="1.1"/><circle cx="270.0" cy="595.0" r="1.1"/><circle cx="271.9" cy="594.6" r="1.1"/><circle cx="275.2" cy="594.7" r="1.1"/><circle cx="277.2" cy="594.6" r="1.1"/><circle cx="280.5" cy="594.9" r="1.1"/><circle cx="282.5" cy="594.6" r="1.1"/><circle cx="260.7" cy="596.5" r="1.1"/><circle cx="262.3" cy="596.4" r="1.1"/><circle cx="263.9" cy="596.4" r="1.1"/><circle cx="266.0" cy="596.3" r="1.1"/><circle cx="270.8" cy="596.5" r="1.1"/><circle cx="272.8" cy="596.6" r="1.1"/><circle cx="274.3" cy="596.5" r="1.1"/><circle cx="276.2" cy="596.5" r="1.1"/><circle cx="279.6" cy="596.6" r="1.1"/><circle cx="261.1" cy="598.1" r="1.1"/><circle cx="263.2" cy="598.1" r="1.1"/><circle cx="271.9" cy="598.0" r="1.1"/><circle cx="275.5" cy="598.1" r="1.1"/><circle cx="277.3" cy="598.3" r="1.1"/><circle cx="278.9" cy="598.4" r="1.1"/><circle cx="280.5" cy="598.2" r="1.1"/><circle cx="281.6" cy="598.4" r="1.1"/><circle cx="260.6" cy="599.8" r="1.1"/><circle cx="262.0" cy="599.8" r="1.1"/><circle cx="264.1" cy="600.1" r="1.1"/><circle cx="265.6" cy="600.2" r="1.1"/><circle cx="267.5" cy="600.1" r="1.1"/><circle cx="269.3" cy="599.8" r="1.1"/><circle cx="272.5" cy="599.9" r="1.1"/><circle cx="274.6" cy="599.8" r="1.1"/><circle cx="276.2" cy="599.8" r="1.1"/><circle cx="261.2" cy="601.9" r="1.1"/><circle cx="265.1" cy="602.0" r="1.1"/><circle cx="266.8" cy="602.0" r="1.1"/><circle cx="268.1" cy="601.7" r="1.1"/><circle cx="270.2" cy="601.9" r="1.1"/><circle cx="271.7" cy="602.0" r="1.1"/><circle cx="273.8" cy="601.6" r="1.1"/><circle cx="277.3" cy="601.9" r="1.1"/><circle cx="280.4" cy="601.7" r="1.1"/><circle cx="281.5" cy="601.9" r="1.1"/><circle cx="260.5" cy="603.5" r="1.1"/><circle cx="262.3" cy="603.4" r="1.1"/><circle cx="264.2" cy="603.5" r="1.1"/><circle cx="267.3" cy="603.4" r="1.1"/><circle cx="269.3" cy="603.6" r="1.1"/><circle cx="271.1" cy="603.4" r="1.1"/><circle cx="272.7" cy="603.5" r="1.1"/><circle cx="274.5" cy="603.5" r="1.1"/><circle cx="276.4" cy="603.5" r="1.1"/><circle cx="279.9" cy="603.7" r="1.1"/><circle cx="281.4" cy="603.3" r="1.1"/><circle cx="259.7" cy="605.3" r="1.1"/><circle cx="263.0" cy="605.4" r="1.1"/><circle cx="266.4" cy="605.2" r="1.1"/><circle cx="270.1" cy="605.2" r="1.1"/><circle cx="271.9" cy="605.3" r="1.1"/><circle cx="275.3" cy="605.1" r="1.1"/><circle cx="277.3" cy="605.5" r="1.1"/><circle cx="279.0" cy="605.4" r="1.1"/><circle cx="280.5" cy="605.3" r="1.1"/><circle cx="282.5" cy="605.1" r="1.1"/><circle cx="260.4" cy="607.0" r="1.1"/><circle cx="262.1" cy="607.1" r="1.1"/><circle cx="264.1" cy="606.9" r="1.1"/><circle cx="265.6" cy="606.8" r="1.1"/><circle cx="267.5" cy="606.8" r="1.1"/><circle cx="270.8" cy="607.1" r="1.1"/><circle cx="272.7" cy="607.0" r="1.1"/><circle cx="276.3" cy="607.1" r="1.1"/><circle cx="277.9" cy="607.1" r="1.1"/><circle cx="279.7" cy="607.0" r="1.1"/><circle cx="281.6" cy="606.8" r="1.1"/><circle cx="261.4" cy="608.6" r="1.1"/><circle cx="263.2" cy="608.5" r="1.1"/><circle cx="264.7" cy="608.9" r="1.1"/><circle cx="266.5" cy="608.6" r="1.1"/><circle cx="268.2" cy="608.6" r="1.1"/><circle cx="270.3" cy="608.6" r="1.1"/><circle cx="271.9" cy="608.6" r="1.1"/><circle cx="273.8" cy="608.6" r="1.1"/><circle cx="275.4" cy="608.5" r="1.1"/><circle cx="277.2" cy="608.5" r="1.1"/><circle cx="278.9" cy="608.9" r="1.1"/><circle cx="280.7" cy="608.5" r="1.1"/><circle cx="262.4" cy="610.3" r="1.1"/><circle cx="264.2" cy="610.6" r="1.1"/><circle cx="265.6" cy="610.7" r="1.1"/><circle cx="267.7" cy="610.6" r="1.1"/><circle cx="269.3" cy="610.3" r="1.1"/><circle cx="271.1" cy="610.6" r="1.1"/><circle cx="272.9" cy="610.3" r="1.1"/><circle cx="274.3" cy="610.4" r="1.1"/><circle cx="276.4" cy="610.3" r="1.1"/><circle cx="277.8" cy="610.6" r="1.1"/><circle cx="279.6" cy="610.4" r="1.1"/><circle cx="259.7" cy="612.3" r="1.1"/><circle cx="261.4" cy="612.2" r="1.1"/><circle cx="263.1" cy="612.2" r="1.1"/><circle cx="264.7" cy="612.5" r="1.1"/><circle cx="266.5" cy="612.0" r="1.1"/><circle cx="268.6" cy="612.2" r="1.1"/><circle cx="270.0" cy="612.3" r="1.1"/><circle cx="272.0" cy="612.3" r="1.1"/><circle cx="273.5" cy="612.3" r="1.1"/><circle cx="277.1" cy="612.2" r="1.1"/><circle cx="282.5" cy="612.4" r="1.1"/><circle cx="264.2" cy="613.9" r="1.1"/><circle cx="266.0" cy="613.8" r="1.1"/><circle cx="267.6" cy="613.9" r="1.1"/><circle cx="269.4" cy="614.1" r="1.1"/><circle cx="271.1" cy="614.2" r="1.1"/><circle cx="278.1" cy="614.0" r="1.1"/><circle cx="264.8" cy="615.8" r="1.1"/><circle cx="266.4" cy="615.7" r="1.1"/><circle cx="268.1" cy="615.5" r="1.1"/><circle cx="270.3" cy="615.5" r="1.1"/><circle cx="271.7" cy="615.8" r="1.1"/><circle cx="273.6" cy="615.9" r="1.1"/><circle cx="275.3" cy="615.9" r="1.1"/><circle cx="277.0" cy="615.9" r="1.1"/><circle cx="262.2" cy="617.6" r="1.1"/><circle cx="265.7" cy="617.7" r="1.1"/><circle cx="267.6" cy="617.7" r="1.1"/><circle cx="269.4" cy="617.3" r="1.1"/><circle cx="270.8" cy="617.4" r="1.1"/><circle cx="272.5" cy="617.7" r="1.1"/><circle cx="274.5" cy="617.5" r="1.1"/><circle cx="279.6" cy="617.6" r="1.1"/><circle cx="263.3" cy="619.2" r="1.1"/><circle cx="264.7" cy="619.2" r="1.1"/><circle cx="266.8" cy="619.4" r="1.1"/><circle cx="268.2" cy="619.2" r="1.1"/><circle cx="270.1" cy="619.4" r="1.1"/><circle cx="273.9" cy="619.5" r="1.1"/><circle cx="275.5" cy="619.4" r="1.1"/><circle cx="277.2" cy="619.5" r="1.1"/><circle cx="264.0" cy="621.2" r="1.1"/><circle cx="265.8" cy="620.8" r="1.1"/><circle cx="269.0" cy="620.9" r="1.1"/><circle cx="271.1" cy="621.1" r="1.1"/><circle cx="273.0" cy="621.2" r="1.1"/><circle cx="274.5" cy="620.9" r="1.1"/><circle cx="276.2" cy="621.0" r="1.1"/><circle cx="277.8" cy="620.9" r="1.1"/><circle cx="264.7" cy="622.5" r="1.1"/><circle cx="268.3" cy="622.7" r="1.1"/><circle cx="270.1" cy="622.8" r="1.1"/><circle cx="271.9" cy="622.5" r="1.1"/><circle cx="273.5" cy="622.6" r="1.1"/><circle cx="275.3" cy="622.9" r="1.1"/><circle cx="277.1" cy="622.9" r="1.1"/><circle cx="265.9" cy="624.5" r="1.1"/><circle cx="267.6" cy="624.7" r="1.1"/><circle cx="269.3" cy="624.7" r="1.1"/><circle cx="271.2" cy="624.3" r="1.1"/><circle cx="272.6" cy="624.6" r="1.1"/><circle cx="274.5" cy="624.4" r="1.1"/><circle cx="276.4" cy="624.6" r="1.1"/><circle cx="268.2" cy="626.1" r="1.1"/><circle cx="271.9" cy="626.3" r="1.1"/><circle cx="273.7" cy="626.5" r="1.1"/><circle cx="274.4" cy="626.2" r="1.1"/><circle cx="269.1" cy="628.1" r="1.1"/><circle cx="270.8" cy="627.9" r="1.1"/><circle cx="272.6" cy="628.1" r="1.1"/><circle cx="272.9" cy="629.7" r="1.1"/><circle cx="271.0" cy="564.0" r="1.1"/><circle cx="271.0" cy="575.7" r="1.1"/><circle cx="271.0" cy="634.1" r="1.1"/></g>
<g fill="#248c49"><circle cx="308.3" cy="571.4" r="1.1"/><circle cx="309.9" cy="571.5" r="1.1"/><circle cx="311.4" cy="571.8" r="1.1"/><circle cx="309.0" cy="573.6" r="1.1"/><circle cx="310.9" cy="573.5" r="1.1"/><circle cx="311.7" cy="573.4" r="1.1"/><circle cx="308.1" cy="575.3" r="1.1"/><circle cx="310.0" cy="575.1" r="1.1"/><circle cx="311.6" cy="575.0" r="1.1"/><circle cx="310.8" cy="577.1" r="1.1"/><circle cx="311.4" cy="577.0" r="1.1"/><circle cx="308.1" cy="578.4" r="1.1"/><circle cx="311.6" cy="578.6" r="1.1"/><circle cx="309.1" cy="580.3" r="1.1"/><circle cx="310.7" cy="580.2" r="1.1"/><circle cx="311.6" cy="580.3" r="1.1"/><circle cx="308.3" cy="582.0" r="1.1"/><circle cx="309.8" cy="582.3" r="1.1"/><circle cx="307.1" cy="583.6" r="1.1"/><circle cx="308.8" cy="583.9" r="1.1"/><circle cx="310.6" cy="583.8" r="1.1"/><circle cx="312.2" cy="583.9" r="1.1"/><circle cx="306.4" cy="585.4" r="1.1"/><circle cx="308.2" cy="585.8" r="1.1"/><circle cx="310.0" cy="585.6" r="1.1"/><circle cx="311.6" cy="585.8" r="1.1"/><circle cx="313.3" cy="585.7" r="1.1"/><circle cx="307.1" cy="587.5" r="1.1"/><circle cx="309.0" cy="587.6" r="1.1"/><circle cx="310.7" cy="587.4" r="1.1"/><circle cx="312.3" cy="587.4" r="1.1"/><circle cx="313.2" cy="587.1" r="1.1"/><circle cx="304.4" cy="589.0" r="1.1"/><circle cx="306.1" cy="589.0" r="1.1"/><circle cx="308.0" cy="589.0" r="1.1"/><circle cx="309.9" cy="589.3" r="1.1"/><circle cx="311.3" cy="589.0" r="1.1"/><circle cx="313.1" cy="589.0" r="1.1"/><circle cx="315.0" cy="589.2" r="1.1"/><circle cx="305.4" cy="590.7" r="1.1"/><circle cx="307.1" cy="590.6" r="1.1"/><circle cx="308.8" cy="591.0" r="1.1"/><circle cx="310.5" cy="590.8" r="1.1"/><circle cx="312.2" cy="590.8" r="1.1"/><circle cx="314.3" cy="590.6" r="1.1"/><circle cx="315.3" cy="591.0" r="1.1"/><circle cx="304.5" cy="592.8" r="1.1"/><circle cx="306.1" cy="592.5" r="1.1"/><circle cx="307.9" cy="592.8" r="1.1"/><circle cx="309.8" cy="592.5" r="1.1"/><circle cx="311.6" cy="592.4" r="1.1"/><circle cx="313.1" cy="592.8" r="1.1"/><circle cx="315.1" cy="592.8" r="1.1"/><circle cx="305.4" cy="594.5" r="1.1"/><circle cx="307.1" cy="594.4" r="1.1"/><circle cx="308.8" cy="594.1" r="1.1"/><circle cx="310.5" cy="594.4" r="1.1"/><circle cx="314.2" cy="594.5" r="1.1"/><circle cx="315.9" cy="594.5" r="1.1"/><circle cx="317.0" cy="594.4" r="1.1"/><circle cx="302.6" cy="595.9" r="1.1"/><circle cx="304.8" cy="596.3" r="1.1"/><circle cx="306.4" cy="596.2" r="1.1"/><circle cx="308.3" cy="596.3" r="1.1"/><circle cx="310.0" cy="596.3" r="1.1"/><circle cx="311.5" cy="596.0" r="1.1"/><circle cx="313.1" cy="596.3" r="1.1"/><circle cx="314.8" cy="596.0" r="1.1"/><circle cx="316.8" cy="596.0" r="1.1"/><circle cx="305.4" cy="597.8" r="1.1"/><circle cx="307.3" cy="597.8" r="1.1"/><circle cx="309.1" cy="598.1" r="1.1"/><circle cx="310.4" cy="598.1" r="1.1"/><circle cx="312.3" cy="597.7" r="1.1"/><circle cx="314.1" cy="597.7" r="1.1"/><circle cx="315.3" cy="598.0" r="1.1"/><circle cx="301.1" cy="599.4" r="1.1"/><circle cx="302.7" cy="599.8" r="1.1"/><circle cx="304.5" cy="599.7" r="1.1"/><circle cx="306.4" cy="599.8" r="1.1"/><circle cx="308.0" cy="599.5" r="1.1"/><circle cx="309.6" cy="599.4" r="1.1"/><circle cx="311.7" cy="599.5" r="1.1"/><circle cx="313.4" cy="599.7" r="1.1"/><circle cx="315.3" cy="599.6" r="1.1"/><circle cx="316.7" cy="599.7" r="1.1"/><circle cx="300.1" cy="601.4" r="1.1"/><circle cx="301.9" cy="601.6" r="1.1"/><circle cx="303.8" cy="601.2" r="1.1"/><circle cx="305.6" cy="601.2" r="1.1"/><circle cx="307.3" cy="601.4" r="1.1"/><circle cx="308.8" cy="601.4" r="1.1"/><circle cx="310.8" cy="601.3" r="1.1"/><circle cx="314.0" cy="601.3" r="1.1"/><circle cx="316.0" cy="601.1" r="1.1"/><circle cx="317.6" cy="601.5" r="1.1"/><circle cx="319.5" cy="601.5" r="1.1"/><circle cx="299.4" cy="603.0" r="1.1"/><circle cx="301.0" cy="603.3" r="1.1"/><circle cx="303.0" cy="603.1" r="1.1"/><circle cx="304.4" cy="603.0" r="1.1"/><circle cx="306.1" cy="602.9" r="1.1"/><circle cx="307.9" cy="603.1" r="1.1"/><circle cx="309.9" cy="603.1" r="1.1"/><circle cx="311.4" cy="603.3" r="1.1"/><circle cx="313.1" cy="602.9" r="1.1"/><circle cx="315.1" cy="603.3" r="1.1"/><circle cx="316.7" cy="603.1" r="1.1"/><circle cx="318.4" cy="603.3" r="1.1"/><circle cx="320.1" cy="603.0" r="1.1"/><circle cx="298.2" cy="605.1" r="1.1"/><circle cx="302.1" cy="604.9" r="1.1"/><circle cx="303.5" cy="605.1" r="1.1"/><circle cx="305.4" cy="604.8" r="1.1"/><circle cx="307.2" cy="605.0" r="1.1"/><circle cx="308.8" cy="604.9" r="1.1"/><circle cx="310.5" cy="604.7" r="1.1"/><circle cx="312.2" cy="605.0" r="1.1"/><circle cx="314.3" cy="604.8" r="1.1"/><circle cx="315.7" cy="604.7" r="1.1"/><circle cx="317.8" cy="605.0" r="1.1"/><circle cx="319.3" cy="604.9" r="1.1"/><circle cx="321.1" cy="604.6" r="1.1"/><circle cx="321.9" cy="604.7" r="1.1"/><circle cx="297.4" cy="606.8" r="1.1"/><circle cx="299.1" cy="606.8" r="1.1"/><circle cx="301.1" cy="606.8" r="1.1"/><circle cx="302.6" cy="606.4" r="1.1"/><circle cx="304.7" cy="606.8" r="1.1"/><circle cx="306.2" cy="606.4" r="1.1"/><circle cx="308.0" cy="606.6" r="1.1"/><circle cx="309.9" cy="606.5" r="1.1"/><circle cx="311.5" cy="606.6" r="1.1"/><circle cx="313.2" cy="606.5" r="1.1"/><circle cx="314.9" cy="606.5" r="1.1"/><circle cx="316.7" cy="606.7" r="1.1"/><circle cx="318.3" cy="606.5" r="1.1"/><circle cx="320.5" cy="606.4" r="1.1"/><circle cx="321.9" cy="606.5" r="1.1"/><circle cx="301.7" cy="608.3" r="1.1"/><circle cx="303.5" cy="608.3" r="1.1"/><circle cx="305.2" cy="608.5" r="1.1"/><circle cx="307.3" cy="608.3" r="1.1"/><circle cx="308.9" cy="608.2" r="1.1"/><circle cx="310.5" cy="608.3" r="1.1"/><circle cx="312.3" cy="608.1" r="1.1"/><circle cx="314.0" cy="608.4" r="1.1"/><circle cx="315.8" cy="608.2" r="1.1"/><circle cx="317.8" cy="608.4" r="1.1"/><circle cx="319.5" cy="608.1" r="1.1"/><circle cx="321.3" cy="608.3" r="1.1"/><circle cx="322.0" cy="608.5" r="1.1"/><circle cx="297.7" cy="610.0" r="1.1"/><circle cx="299.4" cy="609.9" r="1.1"/><circle cx="301.1" cy="610.3" r="1.1"/><circle cx="302.7" cy="610.0" r="1.1"/><circle cx="304.4" cy="610.0" r="1.1"/><circle cx="306.5" cy="610.0" r="1.1"/><circle cx="308.2" cy="610.3" r="1.1"/><circle cx="309.8" cy="610.2" r="1.1"/><circle cx="311.7" cy="610.1" r="1.1"/><circle cx="314.9" cy="610.1" r="1.1"/><circle cx="316.7" cy="610.3" r="1.1"/><circle cx="318.6" cy="610.2" r="1.1"/><circle cx="320.2" cy="610.1" r="1.1"/><circle cx="322.1" cy="610.3" r="1.1"/><circle cx="298.4" cy="611.9" r="1.1"/><circle cx="300.4" cy="611.9" r="1.1"/><circle cx="301.9" cy="611.8" r="1.1"/><circle cx="303.6" cy="612.1" r="1.1"/><circle cx="305.7" cy="612.0" r="1.1"/><circle cx="307.1" cy="611.6" r="1.1"/><circle cx="309.1" cy="612.0" r="1.1"/><circle cx="310.4" cy="611.9" r="1.1"/><circle cx="312.4" cy="612.0" r="1.1"/><circle cx="314.2" cy="611.6" r="1.1"/><circle cx="315.8" cy="611.7" r="1.1"/><circle cx="317.4" cy="611.6" r="1.1"/><circle cx="319.5" cy="612.1" r="1.1"/><circle cx="321.2" cy="611.7" r="1.1"/><circle cx="299.3" cy="613.8" r="1.1"/><circle cx="301.2" cy="613.5" r="1.1"/><circle cx="304.7" cy="613.8" r="1.1"/><circle cx="306.1" cy="613.6" r="1.1"/><circle cx="308.2" cy="613.5" r="1.1"/><circle cx="309.7" cy="613.4" r="1.1"/><circle cx="311.7" cy="613.6" r="1.1"/><circle cx="313.2" cy="613.5" r="1.1"/><circle cx="314.9" cy="613.5" r="1.1"/><circle cx="316.7" cy="613.7" r="1.1"/><circle cx="318.6" cy="613.8" r="1.1"/><circle cx="320.1" cy="613.6" r="1.1"/><circle cx="302.0" cy="615.4" r="1.1"/><circle cx="303.7" cy="615.4" r="1.1"/><circle cx="305.4" cy="615.2" r="1.1"/><circle cx="307.2" cy="615.5" r="1.1"/><circle cx="308.9" cy="615.4" r="1.1"/><circle cx="310.5" cy="615.1" r="1.1"/><circle cx="312.3" cy="615.5" r="1.1"/><circle cx="314.4" cy="615.5" r="1.1"/><circle cx="315.9" cy="615.4" r="1.1"/><circle cx="317.6" cy="615.2" r="1.1"/><circle cx="318.6" cy="615.3" r="1.1"/><circle cx="301.2" cy="617.1" r="1.1"/><circle cx="302.9" cy="617.0" r="1.1"/><circle cx="304.8" cy="617.2" r="1.1"/><circle cx="306.4" cy="617.2" r="1.1"/><circle cx="308.2" cy="617.3" r="1.1"/><circle cx="311.5" cy="616.9" r="1.1"/><circle cx="315.0" cy="617.2" r="1.1"/><circle cx="316.6" cy="617.1" r="1.1"/><circle cx="318.5" cy="617.2" r="1.1"/><circle cx="301.9" cy="618.9" r="1.1"/><circle cx="303.8" cy="619.0" r="1.1"/><circle cx="307.2" cy="618.7" r="1.1"/><circle cx="308.9" cy="619.0" r="1.1"/><circle cx="310.8" cy="618.6" r="1.1"/><circle cx="312.4" cy="619.0" r="1.1"/><circle cx="314.0" cy="618.9" r="1.1"/><circle cx="315.9" cy="618.8" r="1.1"/><circle cx="318.7" cy="619.0" r="1.1"/><circle cx="302.8" cy="620.8" r="1.1"/><circle cx="304.5" cy="620.8" r="1.1"/><circle cx="306.1" cy="620.7" r="1.1"/><circle cx="307.8" cy="620.5" r="1.1"/><circle cx="309.8" cy="620.6" r="1.1"/><circle cx="311.4" cy="620.8" r="1.1"/><circle cx="313.3" cy="620.6" r="1.1"/><circle cx="315.0" cy="620.6" r="1.1"/><circle cx="317.0" cy="620.4" r="1.1"/><circle cx="305.6" cy="622.5" r="1.1"/><circle cx="307.2" cy="622.4" r="1.1"/><circle cx="309.1" cy="622.6" r="1.1"/><circle cx="312.5" cy="622.3" r="1.1"/><circle cx="314.0" cy="622.6" r="1.1"/><circle cx="315.1" cy="622.3" r="1.1"/><circle cx="304.4" cy="624.1" r="1.1"/><circle cx="308.0" cy="624.0" r="1.1"/><circle cx="309.6" cy="624.2" r="1.1"/><circle cx="311.6" cy="624.1" r="1.1"/><circle cx="313.4" cy="624.3" r="1.1"/><circle cx="315.2" cy="624.2" r="1.1"/><circle cx="305.2" cy="625.6" r="1.1"/><circle cx="307.4" cy="625.6" r="1.1"/><circle cx="308.9" cy="625.6" r="1.1"/><circle cx="310.9" cy="626.0" r="1.1"/><circle cx="312.6" cy="626.0" r="1.1"/><circle cx="314.4" cy="626.1" r="1.1"/><circle cx="315.2" cy="626.0" r="1.1"/><circle cx="306.3" cy="627.4" r="1.1"/><circle cx="308.2" cy="627.8" r="1.1"/><circle cx="309.6" cy="627.7" r="1.1"/><circle cx="311.7" cy="627.6" r="1.1"/><circle cx="313.1" cy="627.7" r="1.1"/><circle cx="307.1" cy="629.3" r="1.1"/><circle cx="308.8" cy="629.3" r="1.1"/><circle cx="310.5" cy="629.2" r="1.1"/><circle cx="312.3" cy="629.6" r="1.1"/><circle cx="313.1" cy="629.5" r="1.1"/><circle cx="306.4" cy="631.1" r="1.1"/><circle cx="308.2" cy="631.0" r="1.1"/><circle cx="309.6" cy="631.0" r="1.1"/><circle cx="311.4" cy="630.9" r="1.1"/><circle cx="313.2" cy="630.9" r="1.1"/><circle cx="308.8" cy="633.0" r="1.1"/><circle cx="310.8" cy="632.9" r="1.1"/><circle cx="309.8" cy="567.0" r="1.1"/></g>
<rect x="264.62" y="598.80" width="12.85" height="3.00" fill="#000"/>
<line x1="258.20" y1="600.30" x2="283.90" y2="600.30" stroke="#000" stroke-width="1.5"/>
<rect x="303.80" y="600.20" width="12.60" height="3.00" fill="#000"/>
<line x1="297.50" y1="601.70" x2="322.70" y2="601.70" stroke="#000" stroke-width="1.5"/>
<line x1="245.40" y1="526.75" x2="245.40" y2="662.45" stroke="#000" stroke-width="1.3"/>
<line x1="244.75" y1="661.80" x2="336.00" y2="661.80" stroke="#000" stroke-width="1.3"/>
<line x1="239.60" y1="527.40" x2="245.40" y2="527.40" stroke="#000" stroke-width="1.3"/>
<text x="238.00" y="530.85" font-size="9.8" font-weight="bold" text-anchor="end" fill="#231f20">1</text>
<line x1="239.60" y1="572.20" x2="245.40" y2="572.20" stroke="#000" stroke-width="1.3"/>
<text x="238.00" y="575.65" font-size="9.8" font-weight="bold" text-anchor="end" fill="#231f20">0.1</text>
<line x1="239.60" y1="617.00" x2="245.40" y2="617.00" stroke="#000" stroke-width="1.3"/>
<text x="238.00" y="620.45" font-size="9.8" font-weight="bold" text-anchor="end" fill="#231f20">0.01</text>
<line x1="239.60" y1="661.80" x2="245.40" y2="661.80" stroke="#000" stroke-width="1.3"/>
<text x="238.00" y="665.25" font-size="9.8" font-weight="bold" text-anchor="end" fill="#231f20">0.001</text>
<line x1="271.30" y1="661.80" x2="271.30" y2="667.50" stroke="#000" stroke-width="1.3"/>
<line x1="309.60" y1="661.80" x2="309.60" y2="667.50" stroke="#000" stroke-width="1.3"/>
<text x="251.20" y="678.10" font-size="10" font-weight="bold" text-anchor="start" fill="#231f20" textLength="40.9" lengthAdjust="spacingAndGlyphs">Baseline</text>
<text x="299.00" y="678.10" font-size="10" font-weight="bold" text-anchor="start" fill="#231f20" textLength="21.8" lengthAdjust="spacingAndGlyphs">CNO</text>
<text transform="translate(212.72,577.00) rotate(-90)" font-size="11.5" font-weight="bold" text-anchor="middle" fill="#000" textLength="70.0" lengthAdjust="spacingAndGlyphs">Single-Cell FI</text>
<text x="23.70" y="704.80" font-size="23" font-weight="bold" text-anchor="start" fill="#231f20">h</text>
<g fill="#6899d3"><circle cx="94.4" cy="742.8" r="1.12"/><circle cx="93.3" cy="744.9" r="1.12"/><circle cx="95.3" cy="744.8" r="1.12"/><circle cx="92.5" cy="746.7" r="1.12"/><circle cx="94.1" cy="746.7" r="1.12"/><circle cx="95.9" cy="746.4" r="1.12"/><circle cx="93.7" cy="748.1" r="1.12"/><circle cx="95.2" cy="748.3" r="1.12"/><circle cx="92.7" cy="750.2" r="1.12"/><circle cx="94.4" cy="750.2" r="1.12"/><circle cx="95.9" cy="750.1" r="1.12"/><circle cx="93.3" cy="751.8" r="1.12"/><circle cx="94.9" cy="751.7" r="1.12"/><circle cx="96.0" cy="751.8" r="1.12"/><circle cx="96.0" cy="753.3" r="1.12"/><circle cx="93.4" cy="755.3" r="1.12"/><circle cx="95.0" cy="755.5" r="1.12"/><circle cx="96.1" cy="755.0" r="1.12"/><circle cx="92.8" cy="756.8" r="1.12"/><circle cx="94.5" cy="757.0" r="1.12"/><circle cx="96.1" cy="756.8" r="1.12"/><circle cx="91.9" cy="758.6" r="1.12"/><circle cx="93.3" cy="758.9" r="1.12"/><circle cx="95.2" cy="758.7" r="1.12"/><circle cx="96.8" cy="758.7" r="1.12"/><circle cx="92.4" cy="760.3" r="1.12"/><circle cx="94.4" cy="760.7" r="1.12"/><circle cx="95.9" cy="760.6" r="1.12"/><circle cx="94.9" cy="762.2" r="1.12"/><circle cx="95.9" cy="762.0" r="1.12"/><circle cx="90.9" cy="763.9" r="1.12"/><circle cx="92.7" cy="763.9" r="1.12"/><circle cx="94.3" cy="764.1" r="1.12"/><circle cx="96.2" cy="764.0" r="1.12"/><circle cx="97.9" cy="764.0" r="1.12"/><circle cx="91.7" cy="765.6" r="1.12"/><circle cx="93.6" cy="765.9" r="1.12"/><circle cx="95.3" cy="765.8" r="1.12"/><circle cx="97.1" cy="765.6" r="1.12"/><circle cx="97.6" cy="765.7" r="1.12"/><circle cx="90.8" cy="767.4" r="1.12"/><circle cx="92.7" cy="767.7" r="1.12"/><circle cx="94.4" cy="767.7" r="1.12"/><circle cx="95.9" cy="767.7" r="1.12"/><circle cx="97.8" cy="767.7" r="1.12"/><circle cx="89.8" cy="769.1" r="1.12"/><circle cx="91.8" cy="769.2" r="1.12"/><circle cx="93.2" cy="769.1" r="1.12"/><circle cx="95.2" cy="769.2" r="1.12"/><circle cx="96.8" cy="769.1" r="1.12"/><circle cx="98.7" cy="769.1" r="1.12"/><circle cx="90.7" cy="771.1" r="1.12"/><circle cx="92.8" cy="771.0" r="1.12"/><circle cx="94.4" cy="770.9" r="1.12"/><circle cx="96.2" cy="771.0" r="1.12"/><circle cx="97.6" cy="771.0" r="1.12"/><circle cx="91.6" cy="772.8" r="1.12"/><circle cx="93.5" cy="772.8" r="1.12"/><circle cx="95.1" cy="772.7" r="1.12"/><circle cx="97.0" cy="772.6" r="1.12"/><circle cx="98.0" cy="772.6" r="1.12"/><circle cx="92.5" cy="774.7" r="1.12"/><circle cx="94.1" cy="774.4" r="1.12"/><circle cx="96.3" cy="774.3" r="1.12"/><circle cx="97.7" cy="774.3" r="1.12"/><circle cx="89.9" cy="776.2" r="1.12"/><circle cx="91.4" cy="776.4" r="1.12"/><circle cx="93.4" cy="776.2" r="1.12"/><circle cx="95.4" cy="776.4" r="1.12"/><circle cx="96.8" cy="776.1" r="1.12"/><circle cx="98.9" cy="776.0" r="1.12"/><circle cx="90.7" cy="778.0" r="1.12"/><circle cx="92.6" cy="778.2" r="1.12"/><circle cx="94.4" cy="778.0" r="1.12"/><circle cx="96.2" cy="778.1" r="1.12"/><circle cx="97.9" cy="778.2" r="1.12"/><circle cx="91.7" cy="779.9" r="1.12"/><circle cx="93.2" cy="779.8" r="1.12"/><circle cx="95.4" cy="779.6" r="1.12"/><circle cx="96.8" cy="779.7" r="1.12"/><circle cx="90.8" cy="781.6" r="1.12"/><circle cx="92.4" cy="781.4" r="1.12"/><circle cx="94.5" cy="781.3" r="1.12"/><circle cx="95.9" cy="781.6" r="1.12"/><circle cx="97.9" cy="781.5" r="1.12"/><circle cx="89.7" cy="783.4" r="1.12"/><circle cx="91.7" cy="783.2" r="1.12"/><circle cx="93.4" cy="783.0" r="1.12"/><circle cx="95.1" cy="783.4" r="1.12"/><circle cx="97.1" cy="783.1" r="1.12"/><circle cx="98.7" cy="783.4" r="1.12"/><circle cx="99.6" cy="783.3" r="1.12"/><circle cx="89.2" cy="785.0" r="1.12"/><circle cx="91.0" cy="785.2" r="1.12"/><circle cx="92.3" cy="785.1" r="1.12"/><circle cx="94.5" cy="785.0" r="1.12"/><circle cx="96.2" cy="785.2" r="1.12"/><circle cx="97.8" cy="784.8" r="1.12"/><circle cx="99.4" cy="785.2" r="1.12"/><circle cx="89.9" cy="786.9" r="1.12"/><circle cx="91.6" cy="786.7" r="1.12"/><circle cx="93.3" cy="786.6" r="1.12"/><circle cx="95.0" cy="786.9" r="1.12"/><circle cx="97.0" cy="786.7" r="1.12"/><circle cx="98.8" cy="786.5" r="1.12"/><circle cx="88.9" cy="788.3" r="1.12"/><circle cx="91.0" cy="788.4" r="1.12"/><circle cx="92.3" cy="788.5" r="1.12"/><circle cx="94.1" cy="788.4" r="1.12"/><circle cx="95.8" cy="788.5" r="1.12"/><circle cx="97.6" cy="788.3" r="1.12"/><circle cx="99.4" cy="788.7" r="1.12"/><circle cx="90.0" cy="790.4" r="1.12"/><circle cx="91.5" cy="790.4" r="1.12"/><circle cx="93.6" cy="790.2" r="1.12"/><circle cx="95.3" cy="790.4" r="1.12"/><circle cx="96.8" cy="790.0" r="1.12"/><circle cx="98.9" cy="790.3" r="1.12"/><circle cx="99.6" cy="790.3" r="1.12"/><circle cx="87.3" cy="791.9" r="1.12"/><circle cx="89.0" cy="791.9" r="1.12"/><circle cx="90.9" cy="792.1" r="1.12"/><circle cx="96.2" cy="791.9" r="1.12"/><circle cx="97.8" cy="792.2" r="1.12"/><circle cx="99.5" cy="791.9" r="1.12"/><circle cx="101.5" cy="792.0" r="1.12"/><circle cx="86.5" cy="793.8" r="1.12"/><circle cx="88.3" cy="793.7" r="1.12"/><circle cx="90.1" cy="793.5" r="1.12"/><circle cx="91.8" cy="794.0" r="1.12"/><circle cx="93.3" cy="794.0" r="1.12"/><circle cx="95.2" cy="793.6" r="1.12"/><circle cx="96.9" cy="793.8" r="1.12"/><circle cx="100.5" cy="793.8" r="1.12"/><circle cx="101.9" cy="794.0" r="1.12"/><circle cx="87.5" cy="795.4" r="1.12"/><circle cx="89.1" cy="795.5" r="1.12"/><circle cx="92.6" cy="795.6" r="1.12"/><circle cx="94.1" cy="795.4" r="1.12"/><circle cx="96.1" cy="795.4" r="1.12"/><circle cx="97.6" cy="795.4" r="1.12"/><circle cx="99.6" cy="795.5" r="1.12"/><circle cx="101.3" cy="795.4" r="1.12"/><circle cx="88.3" cy="797.2" r="1.12"/><circle cx="89.7" cy="797.3" r="1.12"/><circle cx="91.5" cy="797.3" r="1.12"/><circle cx="93.2" cy="797.1" r="1.12"/><circle cx="95.3" cy="797.1" r="1.12"/><circle cx="97.1" cy="797.4" r="1.12"/><circle cx="100.3" cy="797.2" r="1.12"/><circle cx="87.3" cy="799.1" r="1.12"/><circle cx="89.1" cy="799.2" r="1.12"/><circle cx="90.9" cy="799.2" r="1.12"/><circle cx="94.2" cy="798.9" r="1.12"/><circle cx="96.3" cy="799.0" r="1.12"/><circle cx="98.0" cy="799.1" r="1.12"/><circle cx="99.6" cy="798.8" r="1.12"/><circle cx="101.2" cy="799.1" r="1.12"/><circle cx="84.7" cy="800.7" r="1.12"/><circle cx="86.4" cy="800.5" r="1.12"/><circle cx="88.4" cy="800.9" r="1.12"/><circle cx="89.9" cy="800.9" r="1.12"/><circle cx="91.6" cy="800.8" r="1.12"/><circle cx="93.6" cy="800.5" r="1.12"/><circle cx="95.3" cy="800.7" r="1.12"/><circle cx="97.1" cy="800.9" r="1.12"/><circle cx="98.6" cy="800.5" r="1.12"/><circle cx="100.4" cy="800.7" r="1.12"/><circle cx="102.1" cy="800.6" r="1.12"/><circle cx="104.1" cy="800.9" r="1.12"/><circle cx="104.9" cy="800.9" r="1.12"/><circle cx="82.2" cy="802.4" r="1.12"/><circle cx="83.7" cy="802.7" r="1.12"/><circle cx="85.6" cy="802.6" r="1.12"/><circle cx="87.3" cy="802.4" r="1.12"/><circle cx="89.1" cy="802.3" r="1.12"/><circle cx="90.7" cy="802.7" r="1.12"/><circle cx="92.8" cy="802.6" r="1.12"/><circle cx="94.4" cy="802.3" r="1.12"/><circle cx="96.1" cy="802.4" r="1.12"/><circle cx="97.9" cy="802.5" r="1.12"/><circle cx="99.7" cy="802.7" r="1.12"/><circle cx="101.5" cy="802.6" r="1.12"/><circle cx="102.8" cy="802.3" r="1.12"/><circle cx="104.8" cy="802.7" r="1.12"/><circle cx="106.4" cy="802.3" r="1.12"/><circle cx="84.5" cy="804.5" r="1.12"/><circle cx="86.7" cy="804.3" r="1.12"/><circle cx="88.0" cy="804.0" r="1.12"/><circle cx="89.8" cy="804.4" r="1.12"/><circle cx="91.6" cy="804.3" r="1.12"/><circle cx="93.5" cy="804.2" r="1.12"/><circle cx="95.1" cy="804.0" r="1.12"/><circle cx="97.0" cy="804.4" r="1.12"/><circle cx="98.8" cy="804.3" r="1.12"/><circle cx="100.5" cy="804.3" r="1.12"/><circle cx="102.0" cy="804.0" r="1.12"/><circle cx="104.0" cy="804.3" r="1.12"/><circle cx="105.5" cy="804.4" r="1.12"/><circle cx="83.6" cy="805.8" r="1.12"/><circle cx="85.5" cy="805.8" r="1.12"/><circle cx="87.5" cy="806.1" r="1.12"/><circle cx="89.0" cy="805.9" r="1.12"/><circle cx="90.9" cy="805.8" r="1.12"/><circle cx="92.8" cy="806.1" r="1.12"/><circle cx="94.5" cy="806.2" r="1.12"/><circle cx="96.3" cy="806.2" r="1.12"/><circle cx="97.6" cy="806.0" r="1.12"/><circle cx="99.8" cy="805.9" r="1.12"/><circle cx="101.4" cy="806.1" r="1.12"/><circle cx="103.3" cy="805.9" r="1.12"/><circle cx="105.0" cy="806.0" r="1.12"/><circle cx="84.6" cy="807.5" r="1.12"/><circle cx="86.4" cy="807.8" r="1.12"/><circle cx="87.9" cy="807.9" r="1.12"/><circle cx="90.0" cy="807.5" r="1.12"/><circle cx="91.9" cy="807.9" r="1.12"/><circle cx="93.4" cy="808.0" r="1.12"/><circle cx="95.2" cy="807.6" r="1.12"/><circle cx="96.9" cy="807.6" r="1.12"/><circle cx="98.9" cy="807.9" r="1.12"/><circle cx="100.2" cy="807.6" r="1.12"/><circle cx="102.2" cy="807.5" r="1.12"/><circle cx="104.7" cy="807.8" r="1.12"/><circle cx="81.8" cy="809.5" r="1.12"/><circle cx="84.0" cy="809.4" r="1.12"/><circle cx="85.8" cy="809.4" r="1.12"/><circle cx="87.2" cy="809.7" r="1.12"/><circle cx="89.3" cy="809.5" r="1.12"/><circle cx="90.9" cy="809.5" r="1.12"/><circle cx="92.6" cy="809.7" r="1.12"/><circle cx="94.5" cy="809.7" r="1.12"/><circle cx="96.0" cy="809.5" r="1.12"/><circle cx="97.7" cy="809.7" r="1.12"/><circle cx="99.5" cy="809.7" r="1.12"/><circle cx="101.1" cy="809.5" r="1.12"/><circle cx="102.9" cy="809.6" r="1.12"/><circle cx="105.0" cy="809.3" r="1.12"/><circle cx="106.5" cy="809.5" r="1.12"/><circle cx="84.7" cy="811.2" r="1.12"/><circle cx="86.6" cy="811.3" r="1.12"/><circle cx="88.2" cy="811.4" r="1.12"/><circle cx="89.9" cy="811.5" r="1.12"/><circle cx="91.9" cy="811.3" r="1.12"/><circle cx="93.2" cy="811.3" r="1.12"/><circle cx="95.3" cy="811.5" r="1.12"/><circle cx="96.9" cy="811.0" r="1.12"/><circle cx="100.6" cy="811.3" r="1.12"/><circle cx="102.3" cy="811.1" r="1.12"/><circle cx="103.9" cy="811.4" r="1.12"/><circle cx="105.0" cy="811.3" r="1.12"/><circle cx="83.8" cy="813.1" r="1.12"/><circle cx="85.4" cy="813.1" r="1.12"/><circle cx="87.5" cy="812.8" r="1.12"/><circle cx="89.0" cy="813.0" r="1.12"/><circle cx="90.8" cy="813.1" r="1.12"/><circle cx="94.3" cy="813.2" r="1.12"/><circle cx="95.9" cy="813.1" r="1.12"/><circle cx="97.8" cy="813.0" r="1.12"/><circle cx="99.8" cy="812.8" r="1.12"/><circle cx="101.5" cy="813.2" r="1.12"/><circle cx="103.0" cy="813.2" r="1.12"/><circle cx="104.8" cy="812.9" r="1.12"/><circle cx="82.8" cy="814.8" r="1.12"/><circle cx="84.9" cy="814.5" r="1.12"/><circle cx="86.4" cy="815.0" r="1.12"/><circle cx="90.0" cy="814.7" r="1.12"/><circle cx="91.5" cy="814.9" r="1.12"/><circle cx="93.3" cy="814.6" r="1.12"/><circle cx="95.1" cy="814.8" r="1.12"/><circle cx="96.7" cy="814.7" r="1.12"/><circle cx="98.9" cy="815.0" r="1.12"/><circle cx="100.7" cy="814.6" r="1.12"/><circle cx="102.0" cy="814.6" r="1.12"/><circle cx="103.9" cy="814.9" r="1.12"/><circle cx="105.6" cy="814.7" r="1.12"/><circle cx="106.6" cy="815.0" r="1.12"/><circle cx="83.9" cy="816.7" r="1.12"/><circle cx="85.4" cy="816.3" r="1.12"/><circle cx="87.3" cy="816.5" r="1.12"/><circle cx="89.2" cy="816.7" r="1.12"/><circle cx="91.0" cy="816.5" r="1.12"/><circle cx="92.3" cy="816.6" r="1.12"/><circle cx="94.3" cy="816.7" r="1.12"/><circle cx="96.2" cy="816.3" r="1.12"/><circle cx="97.7" cy="816.4" r="1.12"/><circle cx="99.6" cy="816.5" r="1.12"/><circle cx="101.3" cy="816.4" r="1.12"/><circle cx="103.1" cy="816.7" r="1.12"/><circle cx="104.6" cy="816.4" r="1.12"/><circle cx="81.2" cy="818.4" r="1.12"/><circle cx="82.7" cy="818.3" r="1.12"/><circle cx="84.8" cy="818.1" r="1.12"/><circle cx="86.6" cy="818.3" r="1.12"/><circle cx="88.1" cy="818.1" r="1.12"/><circle cx="90.1" cy="818.4" r="1.12"/><circle cx="91.5" cy="818.0" r="1.12"/><circle cx="93.2" cy="818.3" r="1.12"/><circle cx="95.3" cy="818.1" r="1.12"/><circle cx="96.9" cy="818.1" r="1.12"/><circle cx="98.5" cy="818.2" r="1.12"/><circle cx="100.4" cy="818.3" r="1.12"/><circle cx="102.2" cy="818.1" r="1.12"/><circle cx="103.8" cy="818.4" r="1.12"/><circle cx="105.6" cy="818.5" r="1.12"/><circle cx="107.3" cy="818.0" r="1.12"/><circle cx="82.1" cy="819.8" r="1.12"/><circle cx="83.6" cy="819.8" r="1.12"/><circle cx="85.8" cy="819.8" r="1.12"/><circle cx="87.5" cy="820.1" r="1.12"/><circle cx="89.1" cy="819.9" r="1.12"/><circle cx="90.6" cy="819.8" r="1.12"/><circle cx="92.7" cy="820.2" r="1.12"/><circle cx="94.3" cy="820.2" r="1.12"/><circle cx="96.3" cy="820.2" r="1.12"/><circle cx="97.9" cy="820.1" r="1.12"/><circle cx="99.6" cy="820.1" r="1.12"/><circle cx="101.3" cy="819.8" r="1.12"/><circle cx="103.0" cy="820.1" r="1.12"/><circle cx="104.9" cy="820.0" r="1.12"/><circle cx="106.5" cy="820.1" r="1.12"/><circle cx="81.0" cy="821.9" r="1.12"/><circle cx="82.8" cy="821.7" r="1.12"/><circle cx="84.5" cy="821.8" r="1.12"/><circle cx="86.7" cy="822.0" r="1.12"/><circle cx="88.0" cy="821.9" r="1.12"/><circle cx="89.8" cy="821.9" r="1.12"/><circle cx="91.6" cy="821.9" r="1.12"/><circle cx="93.3" cy="821.9" r="1.12"/><circle cx="96.8" cy="821.8" r="1.12"/><circle cx="98.6" cy="821.9" r="1.12"/><circle cx="100.3" cy="822.0" r="1.12"/><circle cx="102.0" cy="821.9" r="1.12"/><circle cx="103.9" cy="821.7" r="1.12"/><circle cx="105.4" cy="822.0" r="1.12"/><circle cx="85.5" cy="823.6" r="1.12"/><circle cx="87.1" cy="823.3" r="1.12"/><circle cx="89.2" cy="823.5" r="1.12"/><circle cx="90.8" cy="823.7" r="1.12"/><circle cx="92.7" cy="823.6" r="1.12"/><circle cx="94.3" cy="823.5" r="1.12"/><circle cx="95.8" cy="823.3" r="1.12"/><circle cx="97.6" cy="823.4" r="1.12"/><circle cx="99.7" cy="823.7" r="1.12"/><circle cx="101.3" cy="823.5" r="1.12"/><circle cx="102.9" cy="823.3" r="1.12"/><circle cx="88.0" cy="825.5" r="1.12"/><circle cx="90.1" cy="825.0" r="1.12"/><circle cx="91.8" cy="825.5" r="1.12"/><circle cx="93.3" cy="825.2" r="1.12"/><circle cx="95.0" cy="825.1" r="1.12"/><circle cx="97.2" cy="825.3" r="1.12"/><circle cx="98.6" cy="825.3" r="1.12"/><circle cx="100.4" cy="825.4" r="1.12"/><circle cx="101.1" cy="825.1" r="1.12"/><circle cx="87.1" cy="826.9" r="1.12"/><circle cx="89.3" cy="827.2" r="1.12"/><circle cx="90.8" cy="826.8" r="1.12"/><circle cx="92.6" cy="827.1" r="1.12"/><circle cx="94.4" cy="827.0" r="1.12"/><circle cx="95.9" cy="827.0" r="1.12"/><circle cx="97.7" cy="827.1" r="1.12"/><circle cx="99.8" cy="827.0" r="1.12"/><circle cx="101.3" cy="827.1" r="1.12"/><circle cx="90.1" cy="828.6" r="1.12"/><circle cx="91.9" cy="828.9" r="1.12"/><circle cx="93.3" cy="828.7" r="1.12"/><circle cx="95.2" cy="828.6" r="1.12"/><circle cx="96.7" cy="829.0" r="1.12"/><circle cx="98.7" cy="828.5" r="1.12"/><circle cx="99.4" cy="828.6" r="1.12"/><circle cx="88.9" cy="830.3" r="1.12"/><circle cx="90.7" cy="830.7" r="1.12"/><circle cx="92.5" cy="830.5" r="1.12"/><circle cx="94.4" cy="830.6" r="1.12"/><circle cx="96.0" cy="830.4" r="1.12"/><circle cx="98.0" cy="830.5" r="1.12"/><circle cx="99.7" cy="830.4" r="1.12"/><circle cx="91.9" cy="832.5" r="1.12"/><circle cx="93.2" cy="832.5" r="1.12"/><circle cx="95.2" cy="832.0" r="1.12"/><circle cx="97.1" cy="832.3" r="1.12"/><circle cx="97.6" cy="832.1" r="1.12"/><circle cx="90.8" cy="834.2" r="1.12"/><circle cx="92.5" cy="833.9" r="1.12"/><circle cx="94.2" cy="834.2" r="1.12"/><circle cx="96.2" cy="834.0" r="1.12"/><circle cx="97.9" cy="834.1" r="1.12"/><circle cx="91.5" cy="835.7" r="1.12"/><circle cx="93.3" cy="835.7" r="1.12"/><circle cx="95.4" cy="835.6" r="1.12"/><circle cx="97.2" cy="835.8" r="1.12"/><circle cx="94.3" cy="735.9" r="1.12"/><circle cx="94.3" cy="739.5" r="1.12"/><circle cx="94.3" cy="840.3" r="1.12"/></g>
<g fill="#c272b3"><circle cx="131.0" cy="756.0" r="1.12"/><circle cx="132.3" cy="756.0" r="1.12"/><circle cx="134.3" cy="756.2" r="1.12"/><circle cx="131.6" cy="757.5" r="1.12"/><circle cx="133.2" cy="757.5" r="1.12"/><circle cx="134.4" cy="757.9" r="1.12"/><circle cx="130.6" cy="759.7" r="1.12"/><circle cx="132.3" cy="759.3" r="1.12"/><circle cx="134.0" cy="759.4" r="1.12"/><circle cx="131.5" cy="761.5" r="1.12"/><circle cx="133.5" cy="761.4" r="1.12"/><circle cx="134.3" cy="761.4" r="1.12"/><circle cx="130.6" cy="763.0" r="1.12"/><circle cx="134.0" cy="763.0" r="1.12"/><circle cx="131.6" cy="764.9" r="1.12"/><circle cx="133.2" cy="764.8" r="1.12"/><circle cx="134.2" cy="764.7" r="1.12"/><circle cx="131.0" cy="766.6" r="1.12"/><circle cx="134.5" cy="766.7" r="1.12"/><circle cx="129.9" cy="768.3" r="1.12"/><circle cx="131.6" cy="768.4" r="1.12"/><circle cx="133.5" cy="768.3" r="1.12"/><circle cx="135.3" cy="768.3" r="1.12"/><circle cx="130.5" cy="770.2" r="1.12"/><circle cx="132.7" cy="770.1" r="1.12"/><circle cx="134.5" cy="770.2" r="1.12"/><circle cx="129.7" cy="771.7" r="1.12"/><circle cx="131.6" cy="771.5" r="1.12"/><circle cx="133.6" cy="771.6" r="1.12"/><circle cx="135.2" cy="771.7" r="1.12"/><circle cx="135.9" cy="771.9" r="1.12"/><circle cx="127.0" cy="773.7" r="1.12"/><circle cx="129.1" cy="773.6" r="1.12"/><circle cx="130.6" cy="773.4" r="1.12"/><circle cx="136.0" cy="773.5" r="1.12"/><circle cx="137.5" cy="773.7" r="1.12"/><circle cx="128.1" cy="775.1" r="1.12"/><circle cx="130.1" cy="775.3" r="1.12"/><circle cx="133.5" cy="775.0" r="1.12"/><circle cx="135.4" cy="775.3" r="1.12"/><circle cx="136.7" cy="775.5" r="1.12"/><circle cx="129.0" cy="776.8" r="1.12"/><circle cx="132.4" cy="776.8" r="1.12"/><circle cx="134.4" cy="776.8" r="1.12"/><circle cx="136.1" cy="777.2" r="1.12"/><circle cx="128.1" cy="778.8" r="1.12"/><circle cx="129.7" cy="778.6" r="1.12"/><circle cx="131.5" cy="778.5" r="1.12"/><circle cx="133.2" cy="778.9" r="1.12"/><circle cx="135.4" cy="778.9" r="1.12"/><circle cx="136.7" cy="778.8" r="1.12"/><circle cx="137.8" cy="778.6" r="1.12"/><circle cx="128.9" cy="780.7" r="1.12"/><circle cx="131.0" cy="780.6" r="1.12"/><circle cx="132.5" cy="780.3" r="1.12"/><circle cx="134.2" cy="780.3" r="1.12"/><circle cx="129.9" cy="782.3" r="1.12"/><circle cx="131.9" cy="782.2" r="1.12"/><circle cx="133.4" cy="782.2" r="1.12"/><circle cx="135.3" cy="782.2" r="1.12"/><circle cx="136.2" cy="782.4" r="1.12"/><circle cx="128.8" cy="783.9" r="1.12"/><circle cx="130.9" cy="784.1" r="1.12"/><circle cx="132.6" cy="784.1" r="1.12"/><circle cx="134.0" cy="784.0" r="1.12"/><circle cx="135.8" cy="784.1" r="1.12"/><circle cx="129.8" cy="785.8" r="1.12"/><circle cx="131.7" cy="785.9" r="1.12"/><circle cx="133.2" cy="785.8" r="1.12"/><circle cx="135.1" cy="785.8" r="1.12"/><circle cx="136.1" cy="786.0" r="1.12"/><circle cx="125.5" cy="787.6" r="1.12"/><circle cx="127.1" cy="787.7" r="1.12"/><circle cx="128.8" cy="787.3" r="1.12"/><circle cx="130.8" cy="787.7" r="1.12"/><circle cx="132.6" cy="787.5" r="1.12"/><circle cx="134.5" cy="787.3" r="1.12"/><circle cx="136.1" cy="787.4" r="1.12"/><circle cx="137.9" cy="787.7" r="1.12"/><circle cx="139.3" cy="787.5" r="1.12"/><circle cx="126.3" cy="789.2" r="1.12"/><circle cx="127.9" cy="789.1" r="1.12"/><circle cx="129.7" cy="789.1" r="1.12"/><circle cx="131.5" cy="789.1" r="1.12"/><circle cx="133.2" cy="789.3" r="1.12"/><circle cx="135.1" cy="789.3" r="1.12"/><circle cx="136.7" cy="789.0" r="1.12"/><circle cx="138.6" cy="789.1" r="1.12"/><circle cx="127.3" cy="791.2" r="1.12"/><circle cx="129.0" cy="791.2" r="1.12"/><circle cx="131.0" cy="791.2" r="1.12"/><circle cx="132.7" cy="791.1" r="1.12"/><circle cx="134.1" cy="791.0" r="1.12"/><circle cx="135.9" cy="790.9" r="1.12"/><circle cx="137.5" cy="790.9" r="1.12"/><circle cx="126.2" cy="792.6" r="1.12"/><circle cx="128.4" cy="792.6" r="1.12"/><circle cx="129.6" cy="792.7" r="1.12"/><circle cx="131.7" cy="792.5" r="1.12"/><circle cx="133.2" cy="792.6" r="1.12"/><circle cx="135.0" cy="792.6" r="1.12"/><circle cx="136.9" cy="792.7" r="1.12"/><circle cx="138.4" cy="792.9" r="1.12"/><circle cx="139.7" cy="792.9" r="1.12"/><circle cx="127.2" cy="794.5" r="1.12"/><circle cx="128.9" cy="794.6" r="1.12"/><circle cx="130.8" cy="794.6" r="1.12"/><circle cx="132.3" cy="794.5" r="1.12"/><circle cx="134.5" cy="794.6" r="1.12"/><circle cx="135.8" cy="794.6" r="1.12"/><circle cx="138.0" cy="794.3" r="1.12"/><circle cx="124.8" cy="796.0" r="1.12"/><circle cx="126.4" cy="796.4" r="1.12"/><circle cx="128.1" cy="796.4" r="1.12"/><circle cx="129.8" cy="796.0" r="1.12"/><circle cx="131.6" cy="796.2" r="1.12"/><circle cx="133.4" cy="796.2" r="1.12"/><circle cx="135.2" cy="796.4" r="1.12"/><circle cx="136.6" cy="796.4" r="1.12"/><circle cx="138.6" cy="796.1" r="1.12"/><circle cx="140.3" cy="796.2" r="1.12"/><circle cx="123.7" cy="798.0" r="1.12"/><circle cx="125.5" cy="798.2" r="1.12"/><circle cx="127.3" cy="798.2" r="1.12"/><circle cx="128.8" cy="798.1" r="1.12"/><circle cx="130.6" cy="798.1" r="1.12"/><circle cx="132.3" cy="797.9" r="1.12"/><circle cx="134.3" cy="798.2" r="1.12"/><circle cx="135.9" cy="798.1" r="1.12"/><circle cx="137.9" cy="798.2" r="1.12"/><circle cx="139.4" cy="797.8" r="1.12"/><circle cx="141.3" cy="798.0" r="1.12"/><circle cx="124.6" cy="799.8" r="1.12"/><circle cx="126.6" cy="799.9" r="1.12"/><circle cx="128.3" cy="799.8" r="1.12"/><circle cx="129.8" cy="799.7" r="1.12"/><circle cx="131.5" cy="799.6" r="1.12"/><circle cx="133.5" cy="799.5" r="1.12"/><circle cx="135.2" cy="799.8" r="1.12"/><circle cx="137.0" cy="799.7" r="1.12"/><circle cx="138.4" cy="799.7" r="1.12"/><circle cx="140.3" cy="799.8" r="1.12"/><circle cx="141.5" cy="799.7" r="1.12"/><circle cx="125.7" cy="801.7" r="1.12"/><circle cx="127.1" cy="801.7" r="1.12"/><circle cx="130.9" cy="801.6" r="1.12"/><circle cx="132.7" cy="801.6" r="1.12"/><circle cx="134.2" cy="801.5" r="1.12"/><circle cx="136.1" cy="801.4" r="1.12"/><circle cx="137.7" cy="801.6" r="1.12"/><circle cx="139.4" cy="801.5" r="1.12"/><circle cx="141.4" cy="801.3" r="1.12"/><circle cx="124.6" cy="803.1" r="1.12"/><circle cx="126.3" cy="803.1" r="1.12"/><circle cx="128.1" cy="803.2" r="1.12"/><circle cx="130.1" cy="803.5" r="1.12"/><circle cx="131.5" cy="803.3" r="1.12"/><circle cx="133.4" cy="803.5" r="1.12"/><circle cx="135.4" cy="803.4" r="1.12"/><circle cx="137.1" cy="803.4" r="1.12"/><circle cx="138.7" cy="803.5" r="1.12"/><circle cx="140.3" cy="803.3" r="1.12"/><circle cx="141.4" cy="803.3" r="1.12"/><circle cx="123.8" cy="804.9" r="1.12"/><circle cx="125.3" cy="805.0" r="1.12"/><circle cx="127.3" cy="804.8" r="1.12"/><circle cx="129.1" cy="805.1" r="1.12"/><circle cx="130.5" cy="805.2" r="1.12"/><circle cx="132.3" cy="805.0" r="1.12"/><circle cx="134.3" cy="804.9" r="1.12"/><circle cx="135.9" cy="805.2" r="1.12"/><circle cx="137.6" cy="805.1" r="1.12"/><circle cx="139.4" cy="804.8" r="1.12"/><circle cx="141.3" cy="805.0" r="1.12"/><circle cx="119.4" cy="806.8" r="1.12"/><circle cx="121.0" cy="806.6" r="1.12"/><circle cx="123.1" cy="806.8" r="1.12"/><circle cx="124.6" cy="806.6" r="1.12"/><circle cx="126.5" cy="806.9" r="1.12"/><circle cx="128.0" cy="806.9" r="1.12"/><circle cx="129.8" cy="806.7" r="1.12"/><circle cx="133.5" cy="806.9" r="1.12"/><circle cx="135.3" cy="806.8" r="1.12"/><circle cx="136.8" cy="806.7" r="1.12"/><circle cx="138.6" cy="806.9" r="1.12"/><circle cx="140.5" cy="806.8" r="1.12"/><circle cx="142.0" cy="806.6" r="1.12"/><circle cx="143.8" cy="806.9" r="1.12"/><circle cx="145.8" cy="806.8" r="1.12"/><circle cx="120.4" cy="808.7" r="1.12"/><circle cx="121.8" cy="808.5" r="1.12"/><circle cx="123.7" cy="808.6" r="1.12"/><circle cx="125.7" cy="808.7" r="1.12"/><circle cx="127.5" cy="808.3" r="1.12"/><circle cx="129.1" cy="808.3" r="1.12"/><circle cx="130.8" cy="808.5" r="1.12"/><circle cx="132.3" cy="808.6" r="1.12"/><circle cx="134.1" cy="808.4" r="1.12"/><circle cx="135.8" cy="808.4" r="1.12"/><circle cx="137.6" cy="808.6" r="1.12"/><circle cx="139.6" cy="808.7" r="1.12"/><circle cx="141.1" cy="808.6" r="1.12"/><circle cx="142.8" cy="808.6" r="1.12"/><circle cx="144.6" cy="808.4" r="1.12"/><circle cx="121.2" cy="810.1" r="1.12"/><circle cx="122.6" cy="810.2" r="1.12"/><circle cx="124.5" cy="810.1" r="1.12"/><circle cx="126.6" cy="810.1" r="1.12"/><circle cx="128.0" cy="810.5" r="1.12"/><circle cx="129.9" cy="810.3" r="1.12"/><circle cx="131.4" cy="810.4" r="1.12"/><circle cx="133.6" cy="810.5" r="1.12"/><circle cx="135.2" cy="810.1" r="1.12"/><circle cx="137.1" cy="810.3" r="1.12"/><circle cx="138.5" cy="810.4" r="1.12"/><circle cx="140.4" cy="810.4" r="1.12"/><circle cx="142.1" cy="810.4" r="1.12"/><circle cx="143.8" cy="810.2" r="1.12"/><circle cx="144.8" cy="810.1" r="1.12"/><circle cx="120.2" cy="811.8" r="1.12"/><circle cx="122.1" cy="812.0" r="1.12"/><circle cx="123.7" cy="812.1" r="1.12"/><circle cx="125.4" cy="812.2" r="1.12"/><circle cx="127.3" cy="812.1" r="1.12"/><circle cx="129.0" cy="811.9" r="1.12"/><circle cx="130.6" cy="811.9" r="1.12"/><circle cx="132.6" cy="811.9" r="1.12"/><circle cx="134.1" cy="812.2" r="1.12"/><circle cx="135.8" cy="811.8" r="1.12"/><circle cx="137.8" cy="812.1" r="1.12"/><circle cx="139.6" cy="812.2" r="1.12"/><circle cx="141.5" cy="811.9" r="1.12"/><circle cx="142.9" cy="812.2" r="1.12"/><circle cx="144.6" cy="812.1" r="1.12"/><circle cx="119.5" cy="813.6" r="1.12"/><circle cx="121.2" cy="813.8" r="1.12"/><circle cx="122.9" cy="813.6" r="1.12"/><circle cx="124.5" cy="813.8" r="1.12"/><circle cx="126.4" cy="813.7" r="1.12"/><circle cx="128.1" cy="813.7" r="1.12"/><circle cx="129.9" cy="813.7" r="1.12"/><circle cx="131.4" cy="813.8" r="1.12"/><circle cx="133.3" cy="813.6" r="1.12"/><circle cx="135.1" cy="813.8" r="1.12"/><circle cx="137.1" cy="813.6" r="1.12"/><circle cx="138.5" cy="814.0" r="1.12"/><circle cx="140.6" cy="813.9" r="1.12"/><circle cx="141.9" cy="813.6" r="1.12"/><circle cx="143.8" cy="813.6" r="1.12"/><circle cx="145.6" cy="813.8" r="1.12"/><circle cx="120.3" cy="815.6" r="1.12"/><circle cx="122.2" cy="815.5" r="1.12"/><circle cx="123.7" cy="815.5" r="1.12"/><circle cx="125.6" cy="815.6" r="1.12"/><circle cx="127.4" cy="815.6" r="1.12"/><circle cx="129.2" cy="815.3" r="1.12"/><circle cx="132.7" cy="815.3" r="1.12"/><circle cx="134.1" cy="815.4" r="1.12"/><circle cx="136.0" cy="815.7" r="1.12"/><circle cx="137.9" cy="815.6" r="1.12"/><circle cx="141.2" cy="815.4" r="1.12"/><circle cx="142.9" cy="815.7" r="1.12"/><circle cx="145.0" cy="815.6" r="1.12"/><circle cx="121.2" cy="817.5" r="1.12"/><circle cx="122.7" cy="817.2" r="1.12"/><circle cx="124.4" cy="817.3" r="1.12"/><circle cx="126.6" cy="817.4" r="1.12"/><circle cx="128.0" cy="817.1" r="1.12"/><circle cx="129.6" cy="817.0" r="1.12"/><circle cx="131.7" cy="817.4" r="1.12"/><circle cx="133.4" cy="817.1" r="1.12"/><circle cx="135.2" cy="817.2" r="1.12"/><circle cx="137.0" cy="817.2" r="1.12"/><circle cx="138.5" cy="817.4" r="1.12"/><circle cx="140.4" cy="817.2" r="1.12"/><circle cx="142.1" cy="817.2" r="1.12"/><circle cx="143.7" cy="817.1" r="1.12"/><circle cx="120.5" cy="818.9" r="1.12"/><circle cx="121.9" cy="819.2" r="1.12"/><circle cx="123.6" cy="819.1" r="1.12"/><circle cx="125.4" cy="819.0" r="1.12"/><circle cx="127.3" cy="819.0" r="1.12"/><circle cx="128.8" cy="819.2" r="1.12"/><circle cx="130.6" cy="819.0" r="1.12"/><circle cx="132.4" cy="818.9" r="1.12"/><circle cx="134.3" cy="819.2" r="1.12"/><circle cx="135.9" cy="819.0" r="1.12"/><circle cx="138.0" cy="819.2" r="1.12"/><circle cx="139.6" cy="818.9" r="1.12"/><circle cx="141.0" cy="818.9" r="1.12"/><circle cx="142.9" cy="818.9" r="1.12"/><circle cx="144.6" cy="818.9" r="1.12"/><circle cx="120.9" cy="821.0" r="1.12"/><circle cx="122.7" cy="820.5" r="1.12"/><circle cx="124.4" cy="820.6" r="1.12"/><circle cx="126.6" cy="820.9" r="1.12"/><circle cx="128.2" cy="820.8" r="1.12"/><circle cx="129.7" cy="820.8" r="1.12"/><circle cx="131.6" cy="820.9" r="1.12"/><circle cx="133.5" cy="821.0" r="1.12"/><circle cx="135.0" cy="820.7" r="1.12"/><circle cx="136.8" cy="820.6" r="1.12"/><circle cx="138.8" cy="820.5" r="1.12"/><circle cx="140.3" cy="820.7" r="1.12"/><circle cx="142.3" cy="820.7" r="1.12"/><circle cx="143.7" cy="821.0" r="1.12"/><circle cx="120.4" cy="822.5" r="1.12"/><circle cx="122.2" cy="822.3" r="1.12"/><circle cx="124.0" cy="822.7" r="1.12"/><circle cx="125.6" cy="822.5" r="1.12"/><circle cx="127.3" cy="822.3" r="1.12"/><circle cx="129.0" cy="822.7" r="1.12"/><circle cx="130.7" cy="822.4" r="1.12"/><circle cx="132.5" cy="822.5" r="1.12"/><circle cx="134.4" cy="822.6" r="1.12"/><circle cx="135.8" cy="822.4" r="1.12"/><circle cx="137.9" cy="822.7" r="1.12"/><circle cx="139.5" cy="822.4" r="1.12"/><circle cx="141.2" cy="822.3" r="1.12"/><circle cx="142.8" cy="822.7" r="1.12"/><circle cx="144.5" cy="822.5" r="1.12"/><circle cx="121.1" cy="824.0" r="1.12"/><circle cx="122.7" cy="824.5" r="1.12"/><circle cx="124.4" cy="824.2" r="1.12"/><circle cx="126.3" cy="824.4" r="1.12"/><circle cx="128.0" cy="824.1" r="1.12"/><circle cx="129.9" cy="824.2" r="1.12"/><circle cx="131.7" cy="824.5" r="1.12"/><circle cx="133.2" cy="824.4" r="1.12"/><circle cx="135.3" cy="824.0" r="1.12"/><circle cx="136.9" cy="824.1" r="1.12"/><circle cx="138.5" cy="824.3" r="1.12"/><circle cx="140.4" cy="824.2" r="1.12"/><circle cx="142.0" cy="824.2" r="1.12"/><circle cx="143.9" cy="824.1" r="1.12"/><circle cx="144.6" cy="824.1" r="1.12"/><circle cx="122.1" cy="825.8" r="1.12"/><circle cx="123.5" cy="826.0" r="1.12"/><circle cx="125.4" cy="826.1" r="1.12"/><circle cx="127.4" cy="825.8" r="1.12"/><circle cx="130.9" cy="825.9" r="1.12"/><circle cx="132.6" cy="826.2" r="1.12"/><circle cx="134.1" cy="826.2" r="1.12"/><circle cx="136.0" cy="826.0" r="1.12"/><circle cx="137.6" cy="825.8" r="1.12"/><circle cx="139.3" cy="825.8" r="1.12"/><circle cx="141.3" cy="826.2" r="1.12"/><circle cx="142.8" cy="826.2" r="1.12"/><circle cx="123.0" cy="827.8" r="1.12"/><circle cx="124.7" cy="827.7" r="1.12"/><circle cx="126.5" cy="827.7" r="1.12"/><circle cx="128.3" cy="827.8" r="1.12"/><circle cx="131.4" cy="827.8" r="1.12"/><circle cx="133.3" cy="827.8" r="1.12"/><circle cx="135.0" cy="827.9" r="1.12"/><circle cx="137.0" cy="827.7" r="1.12"/><circle cx="138.7" cy="827.7" r="1.12"/><circle cx="140.6" cy="827.6" r="1.12"/><circle cx="142.3" cy="827.6" r="1.12"/><circle cx="144.1" cy="827.5" r="1.12"/><circle cx="144.8" cy="827.8" r="1.12"/><circle cx="125.6" cy="829.4" r="1.12"/><circle cx="127.0" cy="829.4" r="1.12"/><circle cx="129.0" cy="829.7" r="1.12"/><circle cx="130.7" cy="829.7" r="1.12"/><circle cx="132.4" cy="829.3" r="1.12"/><circle cx="136.2" cy="829.4" r="1.12"/><circle cx="137.8" cy="829.4" r="1.12"/><circle cx="139.6" cy="829.7" r="1.12"/><circle cx="124.8" cy="831.1" r="1.12"/><circle cx="126.2" cy="831.3" r="1.12"/><circle cx="128.3" cy="831.0" r="1.12"/><circle cx="129.8" cy="831.4" r="1.12"/><circle cx="131.8" cy="831.1" r="1.12"/><circle cx="133.5" cy="831.1" r="1.12"/><circle cx="134.9" cy="831.4" r="1.12"/><circle cx="136.7" cy="831.0" r="1.12"/><circle cx="138.8" cy="831.5" r="1.12"/><circle cx="140.2" cy="831.4" r="1.12"/><circle cx="127.1" cy="833.1" r="1.12"/><circle cx="129.2" cy="833.2" r="1.12"/><circle cx="130.8" cy="832.9" r="1.12"/><circle cx="132.7" cy="832.9" r="1.12"/><circle cx="134.3" cy="832.8" r="1.12"/><circle cx="135.9" cy="832.9" r="1.12"/><circle cx="137.6" cy="833.2" r="1.12"/><circle cx="129.6" cy="834.6" r="1.12"/><circle cx="131.8" cy="834.5" r="1.12"/><circle cx="133.4" cy="834.8" r="1.12"/><circle cx="135.0" cy="834.9" r="1.12"/><circle cx="132.5" cy="740.5" r="1.12"/><circle cx="132.5" cy="744.5" r="1.12"/><circle cx="132.5" cy="748.5" r="1.12"/></g>
<rect x="88.55" y="801.60" width="12.50" height="3.00" fill="#000"/>
<line x1="82.30" y1="803.10" x2="107.30" y2="803.10" stroke="#000" stroke-width="1.5"/>
<rect x="126.05" y="806.70" width="12.70" height="3.00" fill="#000"/>
<line x1="119.70" y1="808.20" x2="145.10" y2="808.20" stroke="#000" stroke-width="1.5"/>
<line x1="69.00" y1="721.85" x2="69.00" y2="855.05" stroke="#000" stroke-width="1.3"/>
<line x1="68.35" y1="854.40" x2="158.00" y2="854.40" stroke="#000" stroke-width="1.3"/>
<line x1="63.20" y1="854.40" x2="69.00" y2="854.40" stroke="#000" stroke-width="1.3"/>
<text x="61.60" y="857.85" font-size="9.8" font-weight="bold" text-anchor="end" fill="#231f20">0.0</text>
<line x1="63.20" y1="821.42" x2="69.00" y2="821.42" stroke="#000" stroke-width="1.3"/>
<text x="61.60" y="824.88" font-size="9.8" font-weight="bold" text-anchor="end" fill="#231f20">0.1</text>
<line x1="63.20" y1="788.45" x2="69.00" y2="788.45" stroke="#000" stroke-width="1.3"/>
<text x="61.60" y="791.90" font-size="9.8" font-weight="bold" text-anchor="end" fill="#231f20">0.2</text>
<line x1="63.20" y1="755.48" x2="69.00" y2="755.48" stroke="#000" stroke-width="1.3"/>
<text x="61.60" y="758.93" font-size="9.8" font-weight="bold" text-anchor="end" fill="#231f20">0.3</text>
<line x1="63.20" y1="722.50" x2="69.00" y2="722.50" stroke="#000" stroke-width="1.3"/>
<text x="61.60" y="725.95" font-size="9.8" font-weight="bold" text-anchor="end" fill="#231f20">0.4</text>
<line x1="94.60" y1="854.40" x2="94.60" y2="860.00" stroke="#000" stroke-width="1.3"/>
<line x1="132.40" y1="854.40" x2="132.40" y2="860.00" stroke="#000" stroke-width="1.3"/>
<text x="74.20" y="871.20" font-size="10" font-weight="bold" text-anchor="start" fill="#231f20" textLength="40.2" lengthAdjust="spacingAndGlyphs">Baseline</text>
<text x="121.80" y="871.20" font-size="10" font-weight="bold" text-anchor="start" fill="#231f20" textLength="21.8" lengthAdjust="spacingAndGlyphs">CNO</text>
<line x1="97.30" y1="713.90" x2="130.00" y2="713.90" stroke="#000" stroke-width="1.5"/>
<text x="101.15" y="719.10" font-size="20" font-weight="bold" text-anchor="middle" fill="#231f20">*</text>
<text x="109.45" y="719.10" font-size="20" font-weight="bold" text-anchor="middle" fill="#231f20">*</text>
<text x="117.75" y="719.10" font-size="20" font-weight="bold" text-anchor="middle" fill="#231f20">*</text>
<text x="126.05" y="719.10" font-size="20" font-weight="bold" text-anchor="middle" fill="#231f20">*</text>
<text transform="translate(42.32,786.60) rotate(-90)" font-size="11.5" font-weight="bold" text-anchor="middle" fill="#000" textLength="97.6" lengthAdjust="spacingAndGlyphs">Activity (arb. units)</text>
<text x="200.50" y="705.00" font-size="23" font-weight="bold" text-anchor="start" fill="#231f20">i</text>
<g fill="#add899"><circle cx="272.0" cy="747.0" r="1.1"/><circle cx="273.5" cy="746.9" r="1.1"/><circle cx="275.3" cy="747.1" r="1.1"/><circle cx="272.8" cy="748.7" r="1.1"/><circle cx="274.2" cy="748.9" r="1.1"/><circle cx="275.3" cy="748.8" r="1.1"/><circle cx="271.9" cy="750.7" r="1.1"/><circle cx="273.6" cy="750.6" r="1.1"/><circle cx="275.3" cy="750.3" r="1.1"/><circle cx="274.6" cy="752.0" r="1.1"/><circle cx="275.3" cy="752.3" r="1.1"/><circle cx="273.3" cy="754.1" r="1.1"/><circle cx="275.3" cy="754.0" r="1.1"/><circle cx="272.4" cy="755.6" r="1.1"/><circle cx="274.5" cy="755.7" r="1.1"/><circle cx="275.3" cy="755.9" r="1.1"/><circle cx="271.5" cy="757.3" r="1.1"/><circle cx="272.4" cy="759.3" r="1.1"/><circle cx="274.6" cy="759.3" r="1.1"/><circle cx="275.3" cy="759.2" r="1.1"/><circle cx="271.7" cy="761.1" r="1.1"/><circle cx="273.5" cy="761.0" r="1.1"/><circle cx="272.5" cy="762.8" r="1.1"/><circle cx="274.6" cy="762.7" r="1.1"/><circle cx="271.9" cy="764.4" r="1.1"/><circle cx="273.3" cy="764.3" r="1.1"/><circle cx="275.0" cy="764.4" r="1.1"/><circle cx="270.7" cy="766.2" r="1.1"/><circle cx="272.7" cy="766.1" r="1.1"/><circle cx="276.2" cy="766.3" r="1.1"/><circle cx="275.3" cy="768.2" r="1.1"/><circle cx="270.9" cy="769.8" r="1.1"/><circle cx="272.7" cy="769.9" r="1.1"/><circle cx="274.4" cy="769.8" r="1.1"/><circle cx="276.2" cy="770.0" r="1.1"/><circle cx="271.9" cy="771.6" r="1.1"/><circle cx="270.9" cy="773.2" r="1.1"/><circle cx="272.7" cy="773.1" r="1.1"/><circle cx="274.4" cy="773.1" r="1.1"/><circle cx="276.1" cy="773.0" r="1.1"/><circle cx="273.7" cy="775.1" r="1.1"/><circle cx="275.0" cy="775.1" r="1.1"/><circle cx="271.0" cy="776.7" r="1.1"/><circle cx="272.5" cy="776.9" r="1.1"/><circle cx="274.6" cy="776.8" r="1.1"/><circle cx="276.2" cy="776.8" r="1.1"/><circle cx="269.8" cy="778.6" r="1.1"/><circle cx="271.7" cy="778.3" r="1.1"/><circle cx="273.5" cy="778.6" r="1.1"/><circle cx="275.3" cy="778.6" r="1.1"/><circle cx="276.8" cy="778.5" r="1.1"/><circle cx="271.0" cy="780.4" r="1.1"/><circle cx="272.7" cy="780.1" r="1.1"/><circle cx="274.2" cy="780.4" r="1.1"/><circle cx="277.1" cy="780.2" r="1.1"/><circle cx="269.9" cy="782.2" r="1.1"/><circle cx="271.6" cy="781.8" r="1.1"/><circle cx="275.5" cy="781.9" r="1.1"/><circle cx="271.1" cy="784.0" r="1.1"/><circle cx="274.6" cy="784.0" r="1.1"/><circle cx="277.2" cy="783.9" r="1.1"/><circle cx="271.8" cy="785.7" r="1.1"/><circle cx="273.4" cy="785.6" r="1.1"/><circle cx="275.1" cy="785.6" r="1.1"/><circle cx="271.0" cy="787.4" r="1.1"/><circle cx="272.5" cy="787.3" r="1.1"/><circle cx="274.3" cy="787.4" r="1.1"/><circle cx="275.9" cy="787.4" r="1.1"/><circle cx="270.1" cy="788.8" r="1.1"/><circle cx="271.6" cy="789.2" r="1.1"/><circle cx="273.7" cy="789.0" r="1.1"/><circle cx="275.0" cy="788.9" r="1.1"/><circle cx="276.9" cy="788.8" r="1.1"/><circle cx="268.9" cy="790.8" r="1.1"/><circle cx="274.6" cy="790.9" r="1.1"/><circle cx="276.1" cy="790.5" r="1.1"/><circle cx="271.5" cy="792.7" r="1.1"/><circle cx="273.5" cy="792.5" r="1.1"/><circle cx="275.0" cy="792.6" r="1.1"/><circle cx="276.8" cy="792.7" r="1.1"/><circle cx="267.3" cy="794.2" r="1.1"/><circle cx="269.4" cy="794.5" r="1.1"/><circle cx="272.6" cy="794.3" r="1.1"/><circle cx="274.2" cy="794.5" r="1.1"/><circle cx="276.0" cy="794.2" r="1.1"/><circle cx="277.9" cy="794.1" r="1.1"/><circle cx="280.7" cy="794.1" r="1.1"/><circle cx="266.7" cy="795.8" r="1.1"/><circle cx="268.0" cy="796.0" r="1.1"/><circle cx="270.0" cy="796.2" r="1.1"/><circle cx="271.8" cy="795.8" r="1.1"/><circle cx="275.5" cy="795.8" r="1.1"/><circle cx="277.2" cy="796.1" r="1.1"/><circle cx="278.7" cy="796.0" r="1.1"/><circle cx="280.4" cy="795.8" r="1.1"/><circle cx="282.2" cy="795.9" r="1.1"/><circle cx="265.5" cy="797.7" r="1.1"/><circle cx="267.2" cy="797.5" r="1.1"/><circle cx="269.0" cy="797.7" r="1.1"/><circle cx="277.8" cy="797.6" r="1.1"/><circle cx="279.5" cy="797.6" r="1.1"/><circle cx="281.6" cy="797.8" r="1.1"/><circle cx="264.8" cy="799.7" r="1.1"/><circle cx="266.5" cy="799.4" r="1.1"/><circle cx="268.2" cy="799.5" r="1.1"/><circle cx="270.2" cy="799.3" r="1.1"/><circle cx="271.6" cy="799.5" r="1.1"/><circle cx="277.1" cy="799.7" r="1.1"/><circle cx="278.7" cy="799.5" r="1.1"/><circle cx="282.4" cy="799.3" r="1.1"/><circle cx="263.9" cy="801.0" r="1.1"/><circle cx="265.8" cy="801.2" r="1.1"/><circle cx="267.4" cy="801.3" r="1.1"/><circle cx="269.1" cy="801.5" r="1.1"/><circle cx="270.8" cy="801.2" r="1.1"/><circle cx="272.5" cy="801.2" r="1.1"/><circle cx="274.2" cy="801.1" r="1.1"/><circle cx="276.2" cy="801.4" r="1.1"/><circle cx="277.9" cy="801.0" r="1.1"/><circle cx="279.6" cy="801.2" r="1.1"/><circle cx="281.3" cy="801.1" r="1.1"/><circle cx="283.2" cy="801.0" r="1.1"/><circle cx="284.0" cy="801.4" r="1.1"/><circle cx="263.1" cy="803.1" r="1.1"/><circle cx="265.0" cy="803.0" r="1.1"/><circle cx="266.5" cy="802.8" r="1.1"/><circle cx="268.1" cy="803.1" r="1.1"/><circle cx="270.1" cy="802.8" r="1.1"/><circle cx="272.0" cy="803.2" r="1.1"/><circle cx="273.3" cy="803.1" r="1.1"/><circle cx="275.5" cy="802.8" r="1.1"/><circle cx="277.0" cy="802.8" r="1.1"/><circle cx="282.4" cy="802.9" r="1.1"/><circle cx="262.3" cy="804.7" r="1.1"/><circle cx="263.8" cy="804.5" r="1.1"/><circle cx="265.6" cy="804.8" r="1.1"/><circle cx="269.0" cy="804.6" r="1.1"/><circle cx="271.1" cy="804.8" r="1.1"/><circle cx="272.8" cy="804.8" r="1.1"/><circle cx="274.4" cy="804.9" r="1.1"/><circle cx="277.7" cy="804.7" r="1.1"/><circle cx="279.9" cy="804.8" r="1.1"/><circle cx="281.2" cy="804.5" r="1.1"/><circle cx="283.2" cy="804.6" r="1.1"/><circle cx="284.9" cy="804.6" r="1.1"/><circle cx="263.1" cy="806.6" r="1.1"/><circle cx="266.6" cy="806.7" r="1.1"/><circle cx="268.4" cy="806.6" r="1.1"/><circle cx="271.6" cy="806.5" r="1.1"/><circle cx="273.7" cy="806.6" r="1.1"/><circle cx="275.4" cy="806.7" r="1.1"/><circle cx="276.9" cy="806.3" r="1.1"/><circle cx="278.5" cy="806.4" r="1.1"/><circle cx="282.3" cy="806.6" r="1.1"/><circle cx="284.1" cy="806.7" r="1.1"/><circle cx="262.0" cy="808.5" r="1.1"/><circle cx="263.7" cy="808.4" r="1.1"/><circle cx="265.8" cy="808.4" r="1.1"/><circle cx="267.3" cy="808.4" r="1.1"/><circle cx="269.3" cy="808.1" r="1.1"/><circle cx="272.8" cy="808.3" r="1.1"/><circle cx="274.4" cy="808.1" r="1.1"/><circle cx="276.3" cy="808.1" r="1.1"/><circle cx="279.8" cy="808.3" r="1.1"/><circle cx="281.4" cy="808.2" r="1.1"/><circle cx="283.2" cy="808.3" r="1.1"/><circle cx="284.8" cy="808.3" r="1.1"/><circle cx="285.8" cy="808.0" r="1.1"/><circle cx="265.0" cy="809.9" r="1.1"/><circle cx="266.5" cy="809.8" r="1.1"/><circle cx="268.1" cy="809.9" r="1.1"/><circle cx="269.9" cy="810.2" r="1.1"/><circle cx="271.8" cy="809.8" r="1.1"/><circle cx="273.3" cy="810.1" r="1.1"/><circle cx="275.4" cy="810.0" r="1.1"/><circle cx="276.9" cy="809.9" r="1.1"/><circle cx="280.7" cy="810.1" r="1.1"/><circle cx="283.8" cy="809.8" r="1.1"/><circle cx="285.9" cy="809.9" r="1.1"/><circle cx="262.2" cy="811.6" r="1.1"/><circle cx="264.1" cy="811.6" r="1.1"/><circle cx="267.5" cy="811.7" r="1.1"/><circle cx="269.2" cy="811.7" r="1.1"/><circle cx="270.8" cy="811.9" r="1.1"/><circle cx="272.5" cy="811.7" r="1.1"/><circle cx="274.4" cy="811.6" r="1.1"/><circle cx="278.1" cy="811.7" r="1.1"/><circle cx="281.3" cy="811.6" r="1.1"/><circle cx="285.0" cy="811.9" r="1.1"/><circle cx="285.9" cy="811.9" r="1.1"/><circle cx="263.0" cy="813.5" r="1.1"/><circle cx="264.6" cy="813.6" r="1.1"/><circle cx="268.0" cy="813.5" r="1.1"/><circle cx="270.2" cy="813.4" r="1.1"/><circle cx="271.7" cy="813.5" r="1.1"/><circle cx="273.5" cy="813.4" r="1.1"/><circle cx="276.9" cy="813.7" r="1.1"/><circle cx="278.6" cy="813.4" r="1.1"/><circle cx="280.7" cy="813.6" r="1.1"/><circle cx="282.5" cy="813.3" r="1.1"/><circle cx="262.1" cy="815.1" r="1.1"/><circle cx="264.0" cy="815.4" r="1.1"/><circle cx="265.4" cy="815.1" r="1.1"/><circle cx="269.3" cy="815.1" r="1.1"/><circle cx="270.9" cy="815.3" r="1.1"/><circle cx="272.8" cy="815.3" r="1.1"/><circle cx="277.8" cy="815.4" r="1.1"/><circle cx="279.7" cy="815.4" r="1.1"/><circle cx="283.1" cy="815.4" r="1.1"/><circle cx="284.8" cy="815.1" r="1.1"/><circle cx="285.9" cy="815.2" r="1.1"/><circle cx="265.0" cy="816.9" r="1.1"/><circle cx="266.3" cy="817.1" r="1.1"/><circle cx="268.4" cy="817.0" r="1.1"/><circle cx="269.8" cy="817.1" r="1.1"/><circle cx="273.4" cy="817.0" r="1.1"/><circle cx="275.4" cy="817.0" r="1.1"/><circle cx="276.9" cy="816.9" r="1.1"/><circle cx="282.2" cy="817.1" r="1.1"/><circle cx="284.0" cy="817.0" r="1.1"/><circle cx="263.8" cy="818.9" r="1.1"/><circle cx="267.6" cy="818.5" r="1.1"/><circle cx="268.9" cy="818.8" r="1.1"/><circle cx="271.0" cy="818.5" r="1.1"/><circle cx="272.9" cy="818.8" r="1.1"/><circle cx="274.4" cy="818.9" r="1.1"/><circle cx="276.1" cy="818.6" r="1.1"/><circle cx="277.9" cy="819.0" r="1.1"/><circle cx="279.5" cy="818.7" r="1.1"/><circle cx="283.0" cy="818.8" r="1.1"/><circle cx="264.9" cy="820.6" r="1.1"/><circle cx="266.3" cy="820.5" r="1.1"/><circle cx="268.1" cy="820.6" r="1.1"/><circle cx="271.6" cy="820.5" r="1.1"/><circle cx="273.3" cy="820.3" r="1.1"/><circle cx="275.0" cy="820.3" r="1.1"/><circle cx="278.6" cy="820.3" r="1.1"/><circle cx="280.4" cy="820.7" r="1.1"/><circle cx="282.5" cy="820.5" r="1.1"/><circle cx="267.6" cy="822.5" r="1.1"/><circle cx="269.0" cy="822.1" r="1.1"/><circle cx="270.7" cy="822.3" r="1.1"/><circle cx="272.6" cy="822.5" r="1.1"/><circle cx="274.6" cy="822.4" r="1.1"/><circle cx="275.9" cy="822.4" r="1.1"/><circle cx="278.0" cy="822.0" r="1.1"/><circle cx="279.6" cy="822.2" r="1.1"/><circle cx="268.2" cy="823.9" r="1.1"/><circle cx="269.9" cy="824.1" r="1.1"/><circle cx="271.7" cy="824.0" r="1.1"/><circle cx="273.6" cy="824.2" r="1.1"/><circle cx="275.1" cy="823.8" r="1.1"/><circle cx="278.7" cy="823.9" r="1.1"/><circle cx="269.1" cy="825.8" r="1.1"/><circle cx="271.1" cy="825.9" r="1.1"/><circle cx="276.2" cy="825.6" r="1.1"/><circle cx="277.9" cy="825.8" r="1.1"/><circle cx="278.7" cy="825.6" r="1.1"/><circle cx="273.4" cy="827.6" r="1.1"/><circle cx="275.2" cy="827.7" r="1.1"/><circle cx="276.8" cy="827.7" r="1.1"/><circle cx="270.8" cy="829.2" r="1.1"/><circle cx="272.6" cy="829.4" r="1.1"/><circle cx="271.6" cy="830.9" r="1.1"/><circle cx="273.6" cy="830.8" r="1.1"/><circle cx="275.2" cy="831.2" r="1.1"/><circle cx="273.5" cy="726.8" r="1.1"/><circle cx="275.0" cy="726.8" r="1.1"/><circle cx="273.5" cy="736.4" r="1.1"/></g>
<g fill="#248c49"><circle cx="310.2" cy="733.7" r="1.1"/><circle cx="312.3" cy="733.4" r="1.1"/><circle cx="313.6" cy="733.5" r="1.1"/><circle cx="311.0" cy="735.2" r="1.1"/><circle cx="313.0" cy="735.2" r="1.1"/><circle cx="314.0" cy="735.1" r="1.1"/><circle cx="310.2" cy="737.3" r="1.1"/><circle cx="311.9" cy="736.9" r="1.1"/><circle cx="313.9" cy="737.3" r="1.1"/><circle cx="311.2" cy="739.1" r="1.1"/><circle cx="313.0" cy="739.0" r="1.1"/><circle cx="314.0" cy="738.9" r="1.1"/><circle cx="310.2" cy="740.4" r="1.1"/><circle cx="311.9" cy="740.5" r="1.1"/><circle cx="313.8" cy="740.5" r="1.1"/><circle cx="311.1" cy="742.6" r="1.1"/><circle cx="313.0" cy="742.2" r="1.1"/><circle cx="313.7" cy="742.3" r="1.1"/><circle cx="310.4" cy="744.3" r="1.1"/><circle cx="312.0" cy="743.9" r="1.1"/><circle cx="313.7" cy="744.0" r="1.1"/><circle cx="313.9" cy="745.8" r="1.1"/><circle cx="310.2" cy="747.6" r="1.1"/><circle cx="312.1" cy="747.8" r="1.1"/><circle cx="313.7" cy="747.8" r="1.1"/><circle cx="311.0" cy="749.1" r="1.1"/><circle cx="313.0" cy="749.5" r="1.1"/><circle cx="313.6" cy="749.3" r="1.1"/><circle cx="314.0" cy="751.2" r="1.1"/><circle cx="309.4" cy="752.9" r="1.1"/><circle cx="311.2" cy="752.8" r="1.1"/><circle cx="310.6" cy="754.8" r="1.1"/><circle cx="312.2" cy="754.7" r="1.1"/><circle cx="314.0" cy="754.6" r="1.1"/><circle cx="309.5" cy="756.1" r="1.1"/><circle cx="311.0" cy="756.6" r="1.1"/><circle cx="314.6" cy="756.1" r="1.1"/><circle cx="308.6" cy="757.9" r="1.1"/><circle cx="310.5" cy="757.9" r="1.1"/><circle cx="312.1" cy="758.0" r="1.1"/><circle cx="315.5" cy="758.1" r="1.1"/><circle cx="309.3" cy="759.8" r="1.1"/><circle cx="312.9" cy="759.9" r="1.1"/><circle cx="314.6" cy="759.8" r="1.1"/><circle cx="310.1" cy="761.7" r="1.1"/><circle cx="312.3" cy="761.8" r="1.1"/><circle cx="313.7" cy="761.7" r="1.1"/><circle cx="309.3" cy="763.6" r="1.1"/><circle cx="311.2" cy="763.5" r="1.1"/><circle cx="312.8" cy="763.1" r="1.1"/><circle cx="314.7" cy="763.3" r="1.1"/><circle cx="310.3" cy="765.0" r="1.1"/><circle cx="313.7" cy="765.1" r="1.1"/><circle cx="315.5" cy="765.0" r="1.1"/><circle cx="311.4" cy="766.9" r="1.1"/><circle cx="313.2" cy="767.0" r="1.1"/><circle cx="308.6" cy="768.5" r="1.1"/><circle cx="310.1" cy="768.5" r="1.1"/><circle cx="314.0" cy="768.6" r="1.1"/><circle cx="315.8" cy="768.8" r="1.1"/><circle cx="309.6" cy="770.2" r="1.1"/><circle cx="311.5" cy="770.4" r="1.1"/><circle cx="313.1" cy="770.1" r="1.1"/><circle cx="314.7" cy="770.5" r="1.1"/><circle cx="315.8" cy="770.1" r="1.1"/><circle cx="306.7" cy="771.9" r="1.1"/><circle cx="310.4" cy="772.2" r="1.1"/><circle cx="312.1" cy="772.1" r="1.1"/><circle cx="315.7" cy="772.0" r="1.1"/><circle cx="317.4" cy="772.0" r="1.1"/><circle cx="306.1" cy="773.6" r="1.1"/><circle cx="308.0" cy="774.1" r="1.1"/><circle cx="309.3" cy="773.7" r="1.1"/><circle cx="316.3" cy="774.0" r="1.1"/><circle cx="318.3" cy="774.1" r="1.1"/><circle cx="306.7" cy="775.7" r="1.1"/><circle cx="310.2" cy="775.4" r="1.1"/><circle cx="312.0" cy="775.7" r="1.1"/><circle cx="313.7" cy="775.7" r="1.1"/><circle cx="315.6" cy="775.8" r="1.1"/><circle cx="317.1" cy="775.6" r="1.1"/><circle cx="305.7" cy="777.5" r="1.1"/><circle cx="307.6" cy="777.5" r="1.1"/><circle cx="309.4" cy="777.1" r="1.1"/><circle cx="311.4" cy="777.6" r="1.1"/><circle cx="313.1" cy="777.4" r="1.1"/><circle cx="314.5" cy="777.3" r="1.1"/><circle cx="318.4" cy="777.5" r="1.1"/><circle cx="307.0" cy="779.3" r="1.1"/><circle cx="308.7" cy="778.9" r="1.1"/><circle cx="315.8" cy="778.9" r="1.1"/><circle cx="317.3" cy="779.3" r="1.1"/><circle cx="306.2" cy="781.0" r="1.1"/><circle cx="307.9" cy="780.7" r="1.1"/><circle cx="313.1" cy="780.8" r="1.1"/><circle cx="314.9" cy="780.7" r="1.1"/><circle cx="316.3" cy="780.8" r="1.1"/><circle cx="306.8" cy="782.8" r="1.1"/><circle cx="308.8" cy="782.4" r="1.1"/><circle cx="312.3" cy="782.5" r="1.1"/><circle cx="313.8" cy="782.7" r="1.1"/><circle cx="315.7" cy="782.6" r="1.1"/><circle cx="317.4" cy="782.5" r="1.1"/><circle cx="307.5" cy="784.6" r="1.1"/><circle cx="309.6" cy="784.5" r="1.1"/><circle cx="311.2" cy="784.1" r="1.1"/><circle cx="312.9" cy="784.3" r="1.1"/><circle cx="314.8" cy="784.3" r="1.1"/><circle cx="316.4" cy="784.3" r="1.1"/><circle cx="317.2" cy="784.3" r="1.1"/><circle cx="308.5" cy="786.1" r="1.1"/><circle cx="310.2" cy="786.1" r="1.1"/><circle cx="312.2" cy="786.1" r="1.1"/><circle cx="313.7" cy="786.1" r="1.1"/><circle cx="317.2" cy="785.9" r="1.1"/><circle cx="307.8" cy="787.8" r="1.1"/><circle cx="309.6" cy="787.9" r="1.1"/><circle cx="311.1" cy="787.6" r="1.1"/><circle cx="313.0" cy="788.0" r="1.1"/><circle cx="314.7" cy="787.9" r="1.1"/><circle cx="316.6" cy="787.8" r="1.1"/><circle cx="317.4" cy="787.6" r="1.1"/><circle cx="305.1" cy="789.4" r="1.1"/><circle cx="308.4" cy="789.5" r="1.1"/><circle cx="310.3" cy="789.8" r="1.1"/><circle cx="312.3" cy="789.6" r="1.1"/><circle cx="317.5" cy="789.6" r="1.1"/><circle cx="319.1" cy="789.8" r="1.1"/><circle cx="304.2" cy="791.2" r="1.1"/><circle cx="306.0" cy="791.5" r="1.1"/><circle cx="307.8" cy="791.2" r="1.1"/><circle cx="309.4" cy="791.2" r="1.1"/><circle cx="311.2" cy="791.2" r="1.1"/><circle cx="313.1" cy="791.5" r="1.1"/><circle cx="314.7" cy="791.4" r="1.1"/><circle cx="316.3" cy="791.3" r="1.1"/><circle cx="320.1" cy="791.5" r="1.1"/><circle cx="301.5" cy="793.2" r="1.1"/><circle cx="307.0" cy="793.1" r="1.1"/><circle cx="308.5" cy="793.0" r="1.1"/><circle cx="310.1" cy="793.0" r="1.1"/><circle cx="312.1" cy="792.9" r="1.1"/><circle cx="313.7" cy="793.2" r="1.1"/><circle cx="315.5" cy="793.1" r="1.1"/><circle cx="317.4" cy="792.9" r="1.1"/><circle cx="318.9" cy="793.0" r="1.1"/><circle cx="320.8" cy="793.2" r="1.1"/><circle cx="322.7" cy="793.3" r="1.1"/><circle cx="300.5" cy="794.6" r="1.1"/><circle cx="302.7" cy="794.8" r="1.1"/><circle cx="304.4" cy="794.9" r="1.1"/><circle cx="306.2" cy="794.7" r="1.1"/><circle cx="307.6" cy="794.7" r="1.1"/><circle cx="309.5" cy="794.7" r="1.1"/><circle cx="311.4" cy="794.7" r="1.1"/><circle cx="313.1" cy="794.7" r="1.1"/><circle cx="315.0" cy="794.7" r="1.1"/><circle cx="316.4" cy="794.9" r="1.1"/><circle cx="320.1" cy="794.6" r="1.1"/><circle cx="321.8" cy="794.7" r="1.1"/><circle cx="323.7" cy="794.9" r="1.1"/><circle cx="298.0" cy="796.6" r="1.1"/><circle cx="299.9" cy="796.5" r="1.1"/><circle cx="301.8" cy="796.4" r="1.1"/><circle cx="305.3" cy="796.7" r="1.1"/><circle cx="307.0" cy="796.8" r="1.1"/><circle cx="308.8" cy="796.6" r="1.1"/><circle cx="310.3" cy="796.7" r="1.1"/><circle cx="312.3" cy="796.8" r="1.1"/><circle cx="314.0" cy="796.5" r="1.1"/><circle cx="315.7" cy="796.5" r="1.1"/><circle cx="317.5" cy="796.4" r="1.1"/><circle cx="319.2" cy="796.5" r="1.1"/><circle cx="322.5" cy="796.4" r="1.1"/><circle cx="326.2" cy="796.6" r="1.1"/><circle cx="299.1" cy="798.4" r="1.1"/><circle cx="300.9" cy="798.1" r="1.1"/><circle cx="302.6" cy="798.3" r="1.1"/><circle cx="304.2" cy="798.4" r="1.1"/><circle cx="306.1" cy="798.3" r="1.1"/><circle cx="307.6" cy="798.2" r="1.1"/><circle cx="309.3" cy="798.2" r="1.1"/><circle cx="311.4" cy="798.2" r="1.1"/><circle cx="313.0" cy="798.5" r="1.1"/><circle cx="316.4" cy="798.2" r="1.1"/><circle cx="318.1" cy="798.2" r="1.1"/><circle cx="320.0" cy="798.2" r="1.1"/><circle cx="323.6" cy="798.2" r="1.1"/><circle cx="326.3" cy="798.4" r="1.1"/><circle cx="299.6" cy="800.3" r="1.1"/><circle cx="301.8" cy="800.1" r="1.1"/><circle cx="303.4" cy="799.9" r="1.1"/><circle cx="305.1" cy="800.0" r="1.1"/><circle cx="308.7" cy="800.2" r="1.1"/><circle cx="310.2" cy="800.1" r="1.1"/><circle cx="312.1" cy="800.3" r="1.1"/><circle cx="315.7" cy="800.2" r="1.1"/><circle cx="317.6" cy="800.0" r="1.1"/><circle cx="319.2" cy="799.9" r="1.1"/><circle cx="320.6" cy="799.9" r="1.1"/><circle cx="322.6" cy="800.0" r="1.1"/><circle cx="324.5" cy="800.2" r="1.1"/><circle cx="300.8" cy="802.1" r="1.1"/><circle cx="302.5" cy="801.9" r="1.1"/><circle cx="306.0" cy="801.9" r="1.1"/><circle cx="309.3" cy="801.7" r="1.1"/><circle cx="311.3" cy="801.9" r="1.1"/><circle cx="312.8" cy="801.9" r="1.1"/><circle cx="314.9" cy="801.9" r="1.1"/><circle cx="316.3" cy="801.6" r="1.1"/><circle cx="318.1" cy="801.7" r="1.1"/><circle cx="320.2" cy="802.0" r="1.1"/><circle cx="322.0" cy="802.1" r="1.1"/><circle cx="323.4" cy="801.6" r="1.1"/><circle cx="324.3" cy="801.9" r="1.1"/><circle cx="299.9" cy="803.6" r="1.1"/><circle cx="301.5" cy="803.5" r="1.1"/><circle cx="303.5" cy="803.5" r="1.1"/><circle cx="305.0" cy="803.8" r="1.1"/><circle cx="306.9" cy="803.6" r="1.1"/><circle cx="308.5" cy="803.8" r="1.1"/><circle cx="310.4" cy="803.8" r="1.1"/><circle cx="312.1" cy="803.6" r="1.1"/><circle cx="313.8" cy="803.7" r="1.1"/><circle cx="315.7" cy="803.5" r="1.1"/><circle cx="317.6" cy="803.6" r="1.1"/><circle cx="318.9" cy="803.8" r="1.1"/><circle cx="320.7" cy="803.4" r="1.1"/><circle cx="322.6" cy="803.4" r="1.1"/><circle cx="302.3" cy="805.5" r="1.1"/><circle cx="304.3" cy="805.4" r="1.1"/><circle cx="306.1" cy="805.6" r="1.1"/><circle cx="307.8" cy="805.3" r="1.1"/><circle cx="311.4" cy="805.5" r="1.1"/><circle cx="313.1" cy="805.3" r="1.1"/><circle cx="316.6" cy="805.2" r="1.1"/><circle cx="318.3" cy="805.6" r="1.1"/><circle cx="319.8" cy="805.4" r="1.1"/><circle cx="321.8" cy="805.4" r="1.1"/><circle cx="323.4" cy="805.2" r="1.1"/><circle cx="324.4" cy="805.2" r="1.1"/><circle cx="300.0" cy="807.3" r="1.1"/><circle cx="301.7" cy="807.3" r="1.1"/><circle cx="304.9" cy="807.1" r="1.1"/><circle cx="307.0" cy="807.3" r="1.1"/><circle cx="308.6" cy="807.1" r="1.1"/><circle cx="310.3" cy="807.2" r="1.1"/><circle cx="312.1" cy="807.3" r="1.1"/><circle cx="313.9" cy="807.2" r="1.1"/><circle cx="320.8" cy="807.2" r="1.1"/><circle cx="322.8" cy="806.9" r="1.1"/><circle cx="324.4" cy="807.3" r="1.1"/><circle cx="302.4" cy="808.6" r="1.1"/><circle cx="304.4" cy="808.8" r="1.1"/><circle cx="306.2" cy="808.6" r="1.1"/><circle cx="307.6" cy="808.8" r="1.1"/><circle cx="309.5" cy="808.9" r="1.1"/><circle cx="311.1" cy="808.6" r="1.1"/><circle cx="314.6" cy="809.1" r="1.1"/><circle cx="316.5" cy="808.7" r="1.1"/><circle cx="318.0" cy="809.0" r="1.1"/><circle cx="321.6" cy="808.8" r="1.1"/><circle cx="323.5" cy="808.9" r="1.1"/><circle cx="301.4" cy="810.5" r="1.1"/><circle cx="303.2" cy="810.6" r="1.1"/><circle cx="305.3" cy="810.5" r="1.1"/><circle cx="308.5" cy="810.6" r="1.1"/><circle cx="310.5" cy="810.4" r="1.1"/><circle cx="312.1" cy="810.8" r="1.1"/><circle cx="314.0" cy="810.7" r="1.1"/><circle cx="315.7" cy="810.7" r="1.1"/><circle cx="317.5" cy="810.7" r="1.1"/><circle cx="319.2" cy="810.8" r="1.1"/><circle cx="320.8" cy="810.6" r="1.1"/><circle cx="322.7" cy="810.4" r="1.1"/><circle cx="302.6" cy="812.2" r="1.1"/><circle cx="304.2" cy="812.6" r="1.1"/><circle cx="306.2" cy="812.5" r="1.1"/><circle cx="307.9" cy="812.3" r="1.1"/><circle cx="309.6" cy="812.3" r="1.1"/><circle cx="311.5" cy="812.2" r="1.1"/><circle cx="316.7" cy="812.6" r="1.1"/><circle cx="318.2" cy="812.5" r="1.1"/><circle cx="320.0" cy="812.3" r="1.1"/><circle cx="321.8" cy="812.4" r="1.1"/><circle cx="322.8" cy="812.2" r="1.1"/><circle cx="303.6" cy="814.0" r="1.1"/><circle cx="305.3" cy="814.3" r="1.1"/><circle cx="306.8" cy="813.9" r="1.1"/><circle cx="310.3" cy="813.9" r="1.1"/><circle cx="313.8" cy="814.2" r="1.1"/><circle cx="315.8" cy="814.1" r="1.1"/><circle cx="317.2" cy="814.1" r="1.1"/><circle cx="319.1" cy="814.1" r="1.1"/><circle cx="322.5" cy="814.1" r="1.1"/><circle cx="306.1" cy="815.9" r="1.1"/><circle cx="309.4" cy="815.7" r="1.1"/><circle cx="311.4" cy="815.8" r="1.1"/><circle cx="313.0" cy="815.9" r="1.1"/><circle cx="314.9" cy="815.7" r="1.1"/><circle cx="316.5" cy="815.6" r="1.1"/><circle cx="318.1" cy="815.7" r="1.1"/><circle cx="321.5" cy="816.1" r="1.1"/><circle cx="303.2" cy="817.5" r="1.1"/><circle cx="305.2" cy="817.4" r="1.1"/><circle cx="307.0" cy="817.5" r="1.1"/><circle cx="308.4" cy="817.4" r="1.1"/><circle cx="310.4" cy="817.7" r="1.1"/><circle cx="312.2" cy="817.6" r="1.1"/><circle cx="313.9" cy="817.8" r="1.1"/><circle cx="315.7" cy="817.8" r="1.1"/><circle cx="317.3" cy="817.8" r="1.1"/><circle cx="319.1" cy="817.6" r="1.1"/><circle cx="320.8" cy="817.8" r="1.1"/><circle cx="305.8" cy="819.4" r="1.1"/><circle cx="307.6" cy="819.4" r="1.1"/><circle cx="309.4" cy="819.6" r="1.1"/><circle cx="311.2" cy="819.4" r="1.1"/><circle cx="313.1" cy="819.5" r="1.1"/><circle cx="314.9" cy="819.5" r="1.1"/><circle cx="316.5" cy="819.2" r="1.1"/><circle cx="318.2" cy="819.3" r="1.1"/><circle cx="319.1" cy="819.4" r="1.1"/><circle cx="308.8" cy="820.9" r="1.1"/><circle cx="310.5" cy="821.3" r="1.1"/><circle cx="312.1" cy="821.1" r="1.1"/><circle cx="313.7" cy="821.0" r="1.1"/><circle cx="315.7" cy="821.3" r="1.1"/><circle cx="317.6" cy="821.2" r="1.1"/><circle cx="307.8" cy="822.7" r="1.1"/><circle cx="309.3" cy="822.7" r="1.1"/><circle cx="311.2" cy="823.0" r="1.1"/><circle cx="313.1" cy="823.0" r="1.1"/><circle cx="316.5" cy="822.9" r="1.1"/><circle cx="308.5" cy="824.4" r="1.1"/><circle cx="310.3" cy="824.5" r="1.1"/><circle cx="312.3" cy="824.6" r="1.1"/><circle cx="313.7" cy="824.7" r="1.1"/><circle cx="315.7" cy="824.5" r="1.1"/><circle cx="309.4" cy="826.3" r="1.1"/><circle cx="311.4" cy="826.4" r="1.1"/><circle cx="312.8" cy="826.2" r="1.1"/><circle cx="314.8" cy="826.2" r="1.1"/><circle cx="310.2" cy="828.2" r="1.1"/><circle cx="312.1" cy="828.0" r="1.1"/><circle cx="313.8" cy="828.2" r="1.1"/></g>
<line x1="273.60" y1="798.60" x2="273.60" y2="802.00" stroke="#000" stroke-width="1.0"/>
<line x1="267.00" y1="798.60" x2="280.20" y2="798.60" stroke="#000" stroke-width="1.0"/>
<line x1="267.00" y1="802.00" x2="280.20" y2="802.00" stroke="#000" stroke-width="1.0"/>
<line x1="261.00" y1="800.30" x2="286.20" y2="800.30" stroke="#000" stroke-width="1.5"/>
<line x1="312.10" y1="793.70" x2="312.10" y2="797.10" stroke="#000" stroke-width="1.0"/>
<line x1="305.80" y1="793.70" x2="318.40" y2="793.70" stroke="#000" stroke-width="1.0"/>
<line x1="305.80" y1="797.10" x2="318.40" y2="797.10" stroke="#000" stroke-width="1.0"/>
<line x1="299.40" y1="795.40" x2="324.80" y2="795.40" stroke="#000" stroke-width="1.5"/>
<line x1="247.20" y1="723.25" x2="247.20" y2="857.75" stroke="#000" stroke-width="1.3"/>
<line x1="246.55" y1="857.10" x2="338.30" y2="857.10" stroke="#000" stroke-width="1.3"/>
<line x1="241.40" y1="857.10" x2="247.20" y2="857.10" stroke="#000" stroke-width="1.3"/>
<text x="239.80" y="860.55" font-size="9.8" font-weight="bold" text-anchor="end" fill="#231f20">0.0</text>
<line x1="241.40" y1="823.80" x2="247.20" y2="823.80" stroke="#000" stroke-width="1.3"/>
<text x="239.80" y="827.25" font-size="9.8" font-weight="bold" text-anchor="end" fill="#231f20">0.1</text>
<line x1="241.40" y1="790.50" x2="247.20" y2="790.50" stroke="#000" stroke-width="1.3"/>
<text x="239.80" y="793.95" font-size="9.8" font-weight="bold" text-anchor="end" fill="#231f20">0.2</text>
<line x1="241.40" y1="757.20" x2="247.20" y2="757.20" stroke="#000" stroke-width="1.3"/>
<text x="239.80" y="760.65" font-size="9.8" font-weight="bold" text-anchor="end" fill="#231f20">0.3</text>
<line x1="241.40" y1="723.90" x2="247.20" y2="723.90" stroke="#000" stroke-width="1.3"/>
<text x="239.80" y="727.35" font-size="9.8" font-weight="bold" text-anchor="end" fill="#231f20">0.4</text>
<line x1="273.40" y1="857.10" x2="273.40" y2="862.80" stroke="#000" stroke-width="1.3"/>
<line x1="311.90" y1="857.10" x2="311.90" y2="862.80" stroke="#000" stroke-width="1.3"/>
<text x="253.00" y="873.40" font-size="10" font-weight="bold" text-anchor="start" fill="#231f20" textLength="40.5" lengthAdjust="spacingAndGlyphs">Baseline</text>
<text x="300.30" y="873.40" font-size="10" font-weight="bold" text-anchor="start" fill="#231f20" textLength="22.8" lengthAdjust="spacingAndGlyphs">CNO</text>
<line x1="274.60" y1="717.30" x2="308.40" y2="717.30" stroke="#000" stroke-width="1.5"/>
<text x="291.10" y="721.00" font-size="18" font-weight="bold" text-anchor="middle" fill="#231f20">*</text>
<text transform="translate(220.62,787.30) rotate(-90)" font-size="11.5" font-weight="bold" text-anchor="middle" fill="#000" textLength="97.6" lengthAdjust="spacingAndGlyphs">Activity (arb. units)</text>
<text x="391.90" y="35.70" font-size="23" font-weight="bold" text-anchor="start" fill="#231f20">j</text>
<g fill="#6899d3"><circle cx="462.0" cy="25.1" r="1.08"/><circle cx="463.8" cy="25.1" r="1.08"/><circle cx="467.1" cy="25.3" r="1.08"/><circle cx="468.8" cy="25.4" r="1.08"/><circle cx="470.8" cy="25.4" r="1.08"/><circle cx="472.2" cy="25.2" r="1.08"/><circle cx="460.8" cy="27.0" r="1.08"/><circle cx="462.9" cy="27.2" r="1.08"/><circle cx="464.3" cy="27.1" r="1.08"/><circle cx="466.4" cy="26.9" r="1.08"/><circle cx="474.1" cy="26.8" r="1.08"/><circle cx="458.3" cy="28.7" r="1.08"/><circle cx="460.3" cy="28.5" r="1.08"/><circle cx="463.4" cy="28.6" r="1.08"/><circle cx="465.2" cy="28.8" r="1.08"/><circle cx="467.3" cy="28.9" r="1.08"/><circle cx="469.1" cy="28.9" r="1.08"/><circle cx="470.6" cy="28.7" r="1.08"/><circle cx="472.6" cy="28.9" r="1.08"/><circle cx="475.8" cy="28.5" r="1.08"/><circle cx="459.3" cy="30.5" r="1.08"/><circle cx="462.8" cy="30.5" r="1.08"/><circle cx="464.7" cy="30.2" r="1.08"/><circle cx="466.2" cy="30.5" r="1.08"/><circle cx="469.9" cy="30.3" r="1.08"/><circle cx="471.3" cy="30.5" r="1.08"/><circle cx="473.4" cy="30.3" r="1.08"/><circle cx="475.2" cy="30.2" r="1.08"/><circle cx="475.9" cy="30.6" r="1.08"/><circle cx="460.2" cy="32.3" r="1.08"/><circle cx="461.8" cy="32.0" r="1.08"/><circle cx="463.5" cy="32.3" r="1.08"/><circle cx="467.1" cy="32.4" r="1.08"/><circle cx="468.8" cy="32.2" r="1.08"/><circle cx="470.7" cy="32.2" r="1.08"/><circle cx="472.5" cy="32.1" r="1.08"/><circle cx="473.9" cy="32.0" r="1.08"/><circle cx="457.4" cy="33.7" r="1.08"/><circle cx="459.1" cy="33.7" r="1.08"/><circle cx="461.2" cy="34.1" r="1.08"/><circle cx="463.0" cy="33.7" r="1.08"/><circle cx="464.5" cy="34.1" r="1.08"/><circle cx="466.4" cy="33.8" r="1.08"/><circle cx="468.2" cy="34.0" r="1.08"/><circle cx="469.8" cy="33.9" r="1.08"/><circle cx="471.6" cy="33.8" r="1.08"/><circle cx="473.3" cy="34.2" r="1.08"/><circle cx="475.0" cy="34.1" r="1.08"/><circle cx="476.9" cy="34.0" r="1.08"/><circle cx="458.3" cy="35.6" r="1.08"/><circle cx="463.4" cy="35.9" r="1.08"/><circle cx="465.4" cy="35.7" r="1.08"/><circle cx="468.9" cy="35.7" r="1.08"/><circle cx="472.3" cy="35.8" r="1.08"/><circle cx="475.6" cy="35.5" r="1.08"/><circle cx="459.4" cy="37.3" r="1.08"/><circle cx="460.8" cy="37.6" r="1.08"/><circle cx="462.7" cy="37.6" r="1.08"/><circle cx="464.2" cy="37.2" r="1.08"/><circle cx="467.8" cy="37.5" r="1.08"/><circle cx="469.6" cy="37.3" r="1.08"/><circle cx="471.5" cy="37.6" r="1.08"/><circle cx="473.4" cy="37.5" r="1.08"/><circle cx="474.9" cy="37.2" r="1.08"/><circle cx="476.7" cy="37.5" r="1.08"/><circle cx="456.6" cy="39.0" r="1.08"/><circle cx="458.3" cy="39.1" r="1.08"/><circle cx="460.3" cy="39.2" r="1.08"/><circle cx="461.9" cy="39.3" r="1.08"/><circle cx="463.8" cy="39.4" r="1.08"/><circle cx="465.1" cy="39.2" r="1.08"/><circle cx="466.9" cy="39.2" r="1.08"/><circle cx="469.0" cy="39.3" r="1.08"/><circle cx="470.5" cy="39.3" r="1.08"/><circle cx="472.5" cy="39.0" r="1.08"/><circle cx="474.2" cy="39.3" r="1.08"/><circle cx="476.0" cy="39.3" r="1.08"/><circle cx="477.6" cy="39.0" r="1.08"/><circle cx="457.6" cy="41.2" r="1.08"/><circle cx="459.0" cy="40.9" r="1.08"/><circle cx="462.9" cy="41.1" r="1.08"/><circle cx="467.8" cy="40.9" r="1.08"/><circle cx="469.8" cy="40.9" r="1.08"/><circle cx="471.2" cy="40.8" r="1.08"/><circle cx="473.1" cy="41.1" r="1.08"/><circle cx="476.7" cy="40.7" r="1.08"/><circle cx="477.4" cy="41.0" r="1.08"/><circle cx="456.6" cy="42.6" r="1.08"/><circle cx="458.2" cy="42.8" r="1.08"/><circle cx="460.1" cy="42.9" r="1.08"/><circle cx="463.7" cy="42.6" r="1.08"/><circle cx="465.5" cy="42.5" r="1.08"/><circle cx="467.2" cy="42.9" r="1.08"/><circle cx="469.0" cy="42.6" r="1.08"/><circle cx="470.6" cy="42.5" r="1.08"/><circle cx="472.3" cy="42.8" r="1.08"/><circle cx="474.0" cy="42.7" r="1.08"/><circle cx="475.9" cy="42.8" r="1.08"/><circle cx="477.8" cy="42.9" r="1.08"/><circle cx="459.0" cy="44.3" r="1.08"/><circle cx="460.9" cy="44.6" r="1.08"/><circle cx="464.4" cy="44.3" r="1.08"/><circle cx="468.2" cy="44.7" r="1.08"/><circle cx="469.8" cy="44.4" r="1.08"/><circle cx="471.6" cy="44.4" r="1.08"/><circle cx="473.3" cy="44.3" r="1.08"/><circle cx="475.1" cy="44.6" r="1.08"/><circle cx="458.4" cy="46.1" r="1.08"/><circle cx="460.1" cy="46.2" r="1.08"/><circle cx="463.5" cy="46.2" r="1.08"/><circle cx="470.5" cy="46.1" r="1.08"/><circle cx="472.2" cy="46.0" r="1.08"/><circle cx="474.1" cy="46.4" r="1.08"/><circle cx="476.0" cy="46.4" r="1.08"/><circle cx="459.1" cy="47.9" r="1.08"/><circle cx="460.8" cy="48.0" r="1.08"/><circle cx="462.6" cy="47.7" r="1.08"/><circle cx="464.4" cy="47.8" r="1.08"/><circle cx="466.5" cy="47.8" r="1.08"/><circle cx="468.0" cy="47.8" r="1.08"/><circle cx="473.2" cy="48.1" r="1.08"/><circle cx="475.0" cy="48.1" r="1.08"/><circle cx="458.5" cy="49.6" r="1.08"/><circle cx="460.1" cy="49.9" r="1.08"/><circle cx="462.1" cy="49.9" r="1.08"/><circle cx="463.6" cy="49.9" r="1.08"/><circle cx="465.4" cy="49.5" r="1.08"/><circle cx="467.1" cy="49.8" r="1.08"/><circle cx="469.0" cy="49.9" r="1.08"/><circle cx="470.6" cy="49.6" r="1.08"/><circle cx="475.9" cy="49.9" r="1.08"/><circle cx="457.4" cy="51.7" r="1.08"/><circle cx="459.1" cy="51.6" r="1.08"/><circle cx="460.7" cy="51.7" r="1.08"/><circle cx="462.8" cy="51.2" r="1.08"/><circle cx="464.3" cy="51.6" r="1.08"/><circle cx="466.1" cy="51.4" r="1.08"/><circle cx="467.9" cy="51.2" r="1.08"/><circle cx="469.5" cy="51.4" r="1.08"/><circle cx="471.3" cy="51.2" r="1.08"/><circle cx="473.0" cy="51.5" r="1.08"/><circle cx="475.2" cy="51.5" r="1.08"/><circle cx="476.9" cy="51.3" r="1.08"/><circle cx="458.3" cy="53.1" r="1.08"/><circle cx="460.0" cy="53.2" r="1.08"/><circle cx="463.4" cy="53.3" r="1.08"/><circle cx="467.0" cy="53.4" r="1.08"/><circle cx="470.4" cy="53.2" r="1.08"/><circle cx="472.3" cy="53.2" r="1.08"/><circle cx="474.2" cy="53.4" r="1.08"/><circle cx="475.8" cy="53.3" r="1.08"/><circle cx="460.8" cy="55.0" r="1.08"/><circle cx="462.9" cy="54.9" r="1.08"/><circle cx="464.5" cy="54.7" r="1.08"/><circle cx="466.5" cy="54.9" r="1.08"/><circle cx="468.2" cy="54.7" r="1.08"/><circle cx="469.8" cy="55.2" r="1.08"/><circle cx="471.5" cy="54.9" r="1.08"/><circle cx="473.1" cy="54.8" r="1.08"/><circle cx="474.2" cy="55.1" r="1.08"/><circle cx="465.3" cy="56.5" r="1.08"/><circle cx="467.3" cy="56.7" r="1.08"/><circle cx="468.9" cy="56.6" r="1.08"/><circle cx="470.5" cy="56.7" r="1.08"/><circle cx="472.2" cy="56.9" r="1.08"/><circle cx="459.3" cy="58.4" r="1.08"/><circle cx="461.0" cy="58.4" r="1.08"/><circle cx="464.4" cy="58.6" r="1.08"/><circle cx="466.5" cy="58.4" r="1.08"/><circle cx="468.0" cy="58.5" r="1.08"/><circle cx="469.5" cy="58.4" r="1.08"/><circle cx="471.3" cy="58.5" r="1.08"/><circle cx="473.4" cy="58.6" r="1.08"/><circle cx="474.8" cy="58.3" r="1.08"/><circle cx="475.9" cy="58.4" r="1.08"/><circle cx="458.4" cy="60.4" r="1.08"/><circle cx="460.1" cy="60.3" r="1.08"/><circle cx="461.8" cy="60.3" r="1.08"/><circle cx="463.7" cy="60.3" r="1.08"/><circle cx="465.1" cy="60.2" r="1.08"/><circle cx="466.9" cy="60.2" r="1.08"/><circle cx="468.8" cy="60.0" r="1.08"/><circle cx="470.6" cy="60.2" r="1.08"/><circle cx="472.3" cy="60.0" r="1.08"/><circle cx="474.0" cy="60.2" r="1.08"/><circle cx="477.5" cy="60.3" r="1.08"/><circle cx="457.4" cy="62.0" r="1.08"/><circle cx="459.1" cy="62.1" r="1.08"/><circle cx="460.9" cy="62.0" r="1.08"/><circle cx="464.4" cy="62.2" r="1.08"/><circle cx="466.1" cy="62.0" r="1.08"/><circle cx="468.1" cy="61.8" r="1.08"/><circle cx="469.6" cy="61.8" r="1.08"/><circle cx="471.4" cy="61.9" r="1.08"/><circle cx="476.8" cy="61.7" r="1.08"/><circle cx="477.7" cy="62.1" r="1.08"/><circle cx="458.4" cy="63.7" r="1.08"/><circle cx="460.1" cy="63.5" r="1.08"/><circle cx="463.4" cy="63.9" r="1.08"/><circle cx="465.2" cy="63.6" r="1.08"/><circle cx="466.9" cy="63.5" r="1.08"/><circle cx="468.6" cy="63.6" r="1.08"/><circle cx="470.4" cy="63.7" r="1.08"/><circle cx="472.3" cy="63.7" r="1.08"/><circle cx="474.2" cy="63.9" r="1.08"/><circle cx="476.1" cy="63.7" r="1.08"/><circle cx="460.9" cy="65.4" r="1.08"/><circle cx="463.0" cy="65.4" r="1.08"/><circle cx="464.6" cy="65.2" r="1.08"/><circle cx="466.2" cy="65.3" r="1.08"/><circle cx="467.8" cy="65.5" r="1.08"/><circle cx="469.6" cy="65.6" r="1.08"/><circle cx="473.2" cy="65.4" r="1.08"/><circle cx="461.8" cy="67.0" r="1.08"/><circle cx="463.6" cy="67.2" r="1.08"/><circle cx="465.3" cy="67.0" r="1.08"/><circle cx="466.9" cy="67.2" r="1.08"/><circle cx="469.0" cy="67.0" r="1.08"/><circle cx="472.1" cy="67.3" r="1.08"/><circle cx="463.0" cy="69.2" r="1.08"/><circle cx="464.6" cy="69.1" r="1.08"/><circle cx="466.0" cy="68.9" r="1.08"/><circle cx="467.7" cy="68.9" r="1.08"/><circle cx="469.5" cy="69.2" r="1.08"/><circle cx="471.6" cy="68.9" r="1.08"/><circle cx="473.2" cy="69.0" r="1.08"/><circle cx="474.3" cy="69.2" r="1.08"/><circle cx="459.9" cy="70.6" r="1.08"/><circle cx="461.9" cy="70.9" r="1.08"/><circle cx="463.8" cy="70.5" r="1.08"/><circle cx="465.5" cy="70.5" r="1.08"/><circle cx="468.7" cy="70.7" r="1.08"/><circle cx="470.6" cy="70.5" r="1.08"/><circle cx="472.6" cy="70.7" r="1.08"/><circle cx="474.3" cy="70.9" r="1.08"/><circle cx="462.8" cy="72.7" r="1.08"/><circle cx="464.3" cy="72.6" r="1.08"/><circle cx="466.2" cy="72.3" r="1.08"/><circle cx="468.1" cy="72.3" r="1.08"/><circle cx="469.7" cy="72.6" r="1.08"/><circle cx="471.4" cy="72.3" r="1.08"/><circle cx="472.5" cy="72.3" r="1.08"/><circle cx="461.6" cy="74.1" r="1.08"/><circle cx="463.5" cy="74.2" r="1.08"/><circle cx="465.4" cy="74.0" r="1.08"/><circle cx="467.2" cy="74.4" r="1.08"/><circle cx="468.9" cy="74.0" r="1.08"/><circle cx="461.0" cy="76.1" r="1.08"/><circle cx="464.7" cy="76.0" r="1.08"/><circle cx="466.0" cy="75.9" r="1.08"/><circle cx="468.1" cy="75.9" r="1.08"/><circle cx="471.4" cy="76.2" r="1.08"/><circle cx="473.1" cy="76.0" r="1.08"/><circle cx="459.9" cy="77.7" r="1.08"/><circle cx="463.5" cy="77.9" r="1.08"/><circle cx="467.2" cy="77.5" r="1.08"/><circle cx="468.9" cy="77.6" r="1.08"/><circle cx="470.4" cy="77.5" r="1.08"/><circle cx="472.3" cy="77.7" r="1.08"/><circle cx="461.1" cy="79.4" r="1.08"/><circle cx="464.7" cy="79.5" r="1.08"/><circle cx="466.2" cy="79.4" r="1.08"/><circle cx="467.8" cy="79.6" r="1.08"/><circle cx="469.6" cy="79.6" r="1.08"/><circle cx="473.2" cy="79.4" r="1.08"/><circle cx="474.0" cy="79.5" r="1.08"/><circle cx="460.3" cy="81.1" r="1.08"/><circle cx="461.6" cy="81.2" r="1.08"/><circle cx="463.6" cy="81.2" r="1.08"/><circle cx="465.5" cy="81.2" r="1.08"/><circle cx="468.8" cy="81.4" r="1.08"/><circle cx="470.4" cy="81.1" r="1.08"/><circle cx="459.0" cy="83.1" r="1.08"/><circle cx="461.0" cy="83.1" r="1.08"/><circle cx="462.9" cy="82.9" r="1.08"/><circle cx="464.3" cy="83.0" r="1.08"/><circle cx="466.5" cy="83.1" r="1.08"/><circle cx="467.7" cy="82.8" r="1.08"/><circle cx="469.8" cy="83.1" r="1.08"/><circle cx="471.4" cy="83.0" r="1.08"/><circle cx="473.1" cy="83.1" r="1.08"/><circle cx="458.3" cy="84.7" r="1.08"/><circle cx="459.9" cy="84.8" r="1.08"/><circle cx="461.8" cy="84.8" r="1.08"/><circle cx="463.6" cy="84.5" r="1.08"/><circle cx="465.6" cy="84.9" r="1.08"/><circle cx="467.2" cy="84.7" r="1.08"/><circle cx="469.1" cy="84.5" r="1.08"/><circle cx="470.6" cy="84.8" r="1.08"/><circle cx="472.2" cy="84.5" r="1.08"/><circle cx="475.7" cy="84.6" r="1.08"/><circle cx="461.1" cy="86.3" r="1.08"/><circle cx="462.9" cy="86.3" r="1.08"/><circle cx="464.4" cy="86.4" r="1.08"/><circle cx="466.0" cy="86.2" r="1.08"/><circle cx="468.1" cy="86.6" r="1.08"/><circle cx="471.5" cy="86.5" r="1.08"/><circle cx="473.3" cy="86.4" r="1.08"/><circle cx="475.0" cy="86.5" r="1.08"/><circle cx="456.4" cy="88.2" r="1.08"/><circle cx="458.4" cy="88.3" r="1.08"/><circle cx="459.9" cy="88.0" r="1.08"/><circle cx="463.5" cy="88.1" r="1.08"/><circle cx="465.5" cy="88.2" r="1.08"/><circle cx="467.0" cy="88.2" r="1.08"/><circle cx="468.9" cy="88.0" r="1.08"/><circle cx="470.6" cy="88.3" r="1.08"/><circle cx="472.5" cy="88.0" r="1.08"/><circle cx="473.9" cy="88.3" r="1.08"/><circle cx="475.7" cy="88.3" r="1.08"/><circle cx="477.5" cy="88.2" r="1.08"/><circle cx="457.5" cy="89.9" r="1.08"/><circle cx="461.1" cy="90.0" r="1.08"/><circle cx="462.5" cy="90.0" r="1.08"/><circle cx="464.3" cy="90.1" r="1.08"/><circle cx="466.3" cy="89.9" r="1.08"/><circle cx="467.8" cy="90.1" r="1.08"/><circle cx="469.8" cy="89.8" r="1.08"/><circle cx="473.4" cy="89.7" r="1.08"/><circle cx="474.8" cy="90.0" r="1.08"/><circle cx="477.0" cy="90.0" r="1.08"/><circle cx="478.2" cy="89.9" r="1.08"/><circle cx="456.5" cy="91.8" r="1.08"/><circle cx="458.5" cy="91.5" r="1.08"/><circle cx="460.1" cy="91.9" r="1.08"/><circle cx="462.0" cy="91.8" r="1.08"/><circle cx="463.7" cy="91.8" r="1.08"/><circle cx="465.4" cy="91.8" r="1.08"/><circle cx="468.8" cy="91.8" r="1.08"/><circle cx="470.8" cy="91.8" r="1.08"/><circle cx="472.3" cy="91.9" r="1.08"/><circle cx="474.1" cy="91.9" r="1.08"/><circle cx="476.0" cy="91.7" r="1.08"/><circle cx="477.5" cy="91.7" r="1.08"/><circle cx="459.4" cy="93.5" r="1.08"/><circle cx="460.9" cy="93.2" r="1.08"/><circle cx="464.3" cy="93.3" r="1.08"/><circle cx="466.1" cy="93.3" r="1.08"/><circle cx="468.0" cy="93.4" r="1.08"/><circle cx="469.6" cy="93.5" r="1.08"/><circle cx="471.3" cy="93.5" r="1.08"/><circle cx="473.2" cy="93.4" r="1.08"/><circle cx="475.1" cy="93.7" r="1.08"/><circle cx="476.8" cy="93.3" r="1.08"/><circle cx="477.5" cy="93.7" r="1.08"/><circle cx="458.5" cy="95.4" r="1.08"/><circle cx="461.9" cy="95.0" r="1.08"/><circle cx="463.7" cy="95.4" r="1.08"/><circle cx="465.3" cy="95.1" r="1.08"/><circle cx="466.9" cy="95.1" r="1.08"/><circle cx="468.7" cy="95.3" r="1.08"/><circle cx="470.8" cy="95.0" r="1.08"/><circle cx="472.3" cy="95.1" r="1.08"/><circle cx="474.3" cy="95.3" r="1.08"/><circle cx="475.9" cy="95.0" r="1.08"/><circle cx="457.4" cy="96.8" r="1.08"/><circle cx="459.3" cy="97.0" r="1.08"/><circle cx="460.8" cy="97.1" r="1.08"/><circle cx="462.8" cy="97.1" r="1.08"/><circle cx="464.4" cy="97.2" r="1.08"/><circle cx="466.2" cy="97.0" r="1.08"/><circle cx="468.0" cy="97.1" r="1.08"/><circle cx="470.0" cy="97.0" r="1.08"/><circle cx="471.4" cy="96.8" r="1.08"/><circle cx="473.1" cy="97.1" r="1.08"/><circle cx="474.8" cy="96.8" r="1.08"/><circle cx="477.4" cy="96.8" r="1.08"/><circle cx="458.5" cy="98.5" r="1.08"/><circle cx="459.9" cy="98.9" r="1.08"/><circle cx="463.6" cy="98.9" r="1.08"/><circle cx="465.5" cy="98.8" r="1.08"/><circle cx="467.2" cy="98.8" r="1.08"/><circle cx="468.6" cy="98.8" r="1.08"/><circle cx="470.5" cy="98.7" r="1.08"/><circle cx="472.2" cy="98.7" r="1.08"/><circle cx="474.3" cy="98.5" r="1.08"/><circle cx="476.0" cy="98.5" r="1.08"/><circle cx="457.3" cy="100.2" r="1.08"/><circle cx="459.3" cy="100.3" r="1.08"/><circle cx="462.9" cy="100.3" r="1.08"/><circle cx="464.7" cy="100.2" r="1.08"/><circle cx="466.1" cy="100.6" r="1.08"/><circle cx="468.0" cy="100.4" r="1.08"/><circle cx="471.6" cy="100.7" r="1.08"/><circle cx="473.1" cy="100.7" r="1.08"/><circle cx="460.2" cy="102.0" r="1.08"/><circle cx="461.9" cy="102.1" r="1.08"/><circle cx="463.7" cy="102.3" r="1.08"/><circle cx="469.0" cy="102.0" r="1.08"/><circle cx="470.5" cy="102.1" r="1.08"/><circle cx="474.2" cy="102.3" r="1.08"/><circle cx="475.6" cy="102.4" r="1.08"/><circle cx="457.7" cy="103.9" r="1.08"/><circle cx="459.4" cy="103.8" r="1.08"/><circle cx="462.6" cy="103.8" r="1.08"/><circle cx="464.7" cy="104.2" r="1.08"/><circle cx="468.0" cy="103.9" r="1.08"/><circle cx="469.9" cy="103.8" r="1.08"/><circle cx="471.4" cy="104.0" r="1.08"/><circle cx="473.5" cy="104.1" r="1.08"/><circle cx="476.9" cy="103.9" r="1.08"/><circle cx="456.7" cy="105.9" r="1.08"/><circle cx="458.4" cy="105.8" r="1.08"/><circle cx="460.0" cy="105.5" r="1.08"/><circle cx="461.9" cy="105.8" r="1.08"/><circle cx="463.7" cy="105.5" r="1.08"/><circle cx="465.1" cy="105.5" r="1.08"/><circle cx="467.2" cy="105.8" r="1.08"/><circle cx="470.6" cy="105.8" r="1.08"/><circle cx="472.2" cy="105.8" r="1.08"/><circle cx="473.9" cy="105.8" r="1.08"/><circle cx="475.7" cy="105.9" r="1.08"/><circle cx="477.5" cy="105.6" r="1.08"/><circle cx="455.8" cy="107.5" r="1.08"/><circle cx="457.6" cy="107.2" r="1.08"/><circle cx="459.4" cy="107.5" r="1.08"/><circle cx="460.8" cy="107.2" r="1.08"/><circle cx="464.6" cy="107.4" r="1.08"/><circle cx="468.0" cy="107.7" r="1.08"/><circle cx="469.9" cy="107.6" r="1.08"/><circle cx="471.3" cy="107.6" r="1.08"/><circle cx="473.3" cy="107.6" r="1.08"/><circle cx="475.1" cy="107.4" r="1.08"/><circle cx="476.8" cy="107.4" r="1.08"/><circle cx="478.6" cy="107.4" r="1.08"/><circle cx="479.1" cy="107.5" r="1.08"/><circle cx="456.8" cy="109.3" r="1.08"/><circle cx="458.4" cy="109.3" r="1.08"/><circle cx="460.2" cy="109.1" r="1.08"/><circle cx="461.8" cy="109.2" r="1.08"/><circle cx="463.4" cy="109.2" r="1.08"/><circle cx="465.6" cy="109.3" r="1.08"/><circle cx="467.3" cy="109.1" r="1.08"/><circle cx="468.7" cy="109.0" r="1.08"/><circle cx="470.4" cy="109.0" r="1.08"/><circle cx="472.6" cy="109.0" r="1.08"/><circle cx="474.0" cy="109.3" r="1.08"/><circle cx="476.0" cy="109.4" r="1.08"/><circle cx="477.7" cy="109.3" r="1.08"/><circle cx="455.7" cy="111.1" r="1.08"/><circle cx="457.3" cy="111.2" r="1.08"/><circle cx="462.7" cy="110.8" r="1.08"/><circle cx="464.6" cy="111.0" r="1.08"/><circle cx="466.3" cy="110.8" r="1.08"/><circle cx="468.0" cy="111.0" r="1.08"/><circle cx="471.3" cy="111.1" r="1.08"/><circle cx="473.2" cy="110.9" r="1.08"/><circle cx="475.1" cy="110.8" r="1.08"/><circle cx="476.7" cy="111.2" r="1.08"/><circle cx="478.4" cy="111.1" r="1.08"/><circle cx="454.7" cy="112.6" r="1.08"/><circle cx="458.1" cy="112.5" r="1.08"/><circle cx="460.1" cy="112.5" r="1.08"/><circle cx="465.2" cy="112.6" r="1.08"/><circle cx="466.9" cy="112.9" r="1.08"/><circle cx="469.0" cy="112.8" r="1.08"/><circle cx="470.5" cy="112.7" r="1.08"/><circle cx="472.2" cy="112.9" r="1.08"/><circle cx="474.3" cy="112.8" r="1.08"/><circle cx="475.8" cy="112.8" r="1.08"/><circle cx="477.7" cy="112.8" r="1.08"/><circle cx="479.2" cy="112.9" r="1.08"/><circle cx="455.7" cy="114.4" r="1.08"/><circle cx="457.2" cy="114.5" r="1.08"/><circle cx="459.1" cy="114.3" r="1.08"/><circle cx="462.8" cy="114.4" r="1.08"/><circle cx="464.7" cy="114.5" r="1.08"/><circle cx="466.1" cy="114.4" r="1.08"/><circle cx="468.0" cy="114.4" r="1.08"/><circle cx="469.5" cy="114.4" r="1.08"/><circle cx="471.5" cy="114.7" r="1.08"/><circle cx="473.3" cy="114.6" r="1.08"/><circle cx="474.8" cy="114.3" r="1.08"/><circle cx="476.9" cy="114.5" r="1.08"/><circle cx="478.5" cy="114.5" r="1.08"/><circle cx="479.6" cy="114.3" r="1.08"/><circle cx="458.5" cy="116.2" r="1.08"/><circle cx="460.2" cy="116.4" r="1.08"/><circle cx="463.7" cy="116.0" r="1.08"/><circle cx="465.6" cy="116.1" r="1.08"/><circle cx="467.3" cy="116.2" r="1.08"/><circle cx="470.5" cy="116.4" r="1.08"/><circle cx="472.5" cy="116.1" r="1.08"/><circle cx="476.0" cy="116.3" r="1.08"/><circle cx="477.5" cy="116.0" r="1.08"/><circle cx="457.3" cy="118.1" r="1.08"/><circle cx="459.4" cy="118.0" r="1.08"/><circle cx="460.8" cy="117.8" r="1.08"/><circle cx="464.5" cy="118.0" r="1.08"/><circle cx="466.1" cy="117.9" r="1.08"/><circle cx="469.8" cy="118.1" r="1.08"/><circle cx="471.4" cy="117.9" r="1.08"/><circle cx="476.9" cy="118.0" r="1.08"/><circle cx="477.6" cy="117.8" r="1.08"/><circle cx="456.8" cy="119.5" r="1.08"/><circle cx="458.4" cy="119.6" r="1.08"/><circle cx="460.3" cy="119.9" r="1.08"/><circle cx="462.0" cy="119.6" r="1.08"/><circle cx="463.4" cy="119.5" r="1.08"/><circle cx="465.1" cy="119.7" r="1.08"/><circle cx="470.7" cy="119.9" r="1.08"/><circle cx="474.3" cy="119.6" r="1.08"/><circle cx="475.7" cy="119.8" r="1.08"/><circle cx="455.7" cy="121.2" r="1.08"/><circle cx="459.0" cy="121.2" r="1.08"/><circle cx="460.9" cy="121.4" r="1.08"/><circle cx="462.9" cy="121.7" r="1.08"/><circle cx="464.7" cy="121.2" r="1.08"/><circle cx="466.2" cy="121.7" r="1.08"/><circle cx="469.5" cy="121.3" r="1.08"/><circle cx="471.5" cy="121.7" r="1.08"/><circle cx="473.1" cy="121.5" r="1.08"/><circle cx="474.8" cy="121.4" r="1.08"/><circle cx="476.6" cy="121.7" r="1.08"/><circle cx="478.3" cy="121.6" r="1.08"/><circle cx="458.3" cy="123.1" r="1.08"/><circle cx="460.3" cy="123.0" r="1.08"/><circle cx="462.0" cy="123.1" r="1.08"/><circle cx="463.5" cy="123.3" r="1.08"/><circle cx="467.1" cy="123.3" r="1.08"/><circle cx="470.4" cy="123.3" r="1.08"/><circle cx="472.3" cy="123.3" r="1.08"/><circle cx="474.3" cy="123.4" r="1.08"/><circle cx="459.2" cy="124.8" r="1.08"/><circle cx="461.2" cy="124.8" r="1.08"/><circle cx="462.5" cy="124.9" r="1.08"/><circle cx="464.4" cy="125.1" r="1.08"/><circle cx="466.0" cy="124.9" r="1.08"/><circle cx="468.2" cy="125.0" r="1.08"/><circle cx="470.0" cy="125.2" r="1.08"/><circle cx="471.4" cy="124.8" r="1.08"/><circle cx="474.8" cy="124.9" r="1.08"/><circle cx="475.8" cy="124.9" r="1.08"/><circle cx="458.1" cy="126.8" r="1.08"/><circle cx="459.9" cy="126.9" r="1.08"/><circle cx="461.9" cy="126.8" r="1.08"/><circle cx="463.7" cy="126.7" r="1.08"/><circle cx="465.2" cy="126.6" r="1.08"/><circle cx="466.9" cy="126.5" r="1.08"/><circle cx="468.7" cy="126.9" r="1.08"/><circle cx="472.5" cy="126.9" r="1.08"/><circle cx="473.9" cy="126.7" r="1.08"/><circle cx="457.4" cy="128.4" r="1.08"/><circle cx="459.3" cy="128.6" r="1.08"/><circle cx="461.0" cy="128.5" r="1.08"/><circle cx="462.9" cy="128.6" r="1.08"/><circle cx="464.5" cy="128.2" r="1.08"/><circle cx="468.0" cy="128.2" r="1.08"/><circle cx="475.2" cy="128.5" r="1.08"/><circle cx="476.9" cy="128.6" r="1.08"/><circle cx="477.6" cy="128.7" r="1.08"/><circle cx="456.6" cy="130.4" r="1.08"/><circle cx="460.2" cy="130.4" r="1.08"/><circle cx="465.5" cy="130.4" r="1.08"/><circle cx="467.3" cy="130.2" r="1.08"/><circle cx="468.7" cy="130.0" r="1.08"/><circle cx="470.7" cy="130.3" r="1.08"/><circle cx="472.3" cy="130.3" r="1.08"/><circle cx="474.1" cy="130.1" r="1.08"/><circle cx="476.0" cy="130.2" r="1.08"/><circle cx="477.5" cy="130.3" r="1.08"/><circle cx="459.1" cy="132.0" r="1.08"/><circle cx="462.7" cy="132.0" r="1.08"/><circle cx="464.6" cy="131.8" r="1.08"/><circle cx="466.2" cy="131.9" r="1.08"/><circle cx="468.2" cy="131.8" r="1.08"/><circle cx="469.9" cy="132.0" r="1.08"/><circle cx="471.3" cy="132.0" r="1.08"/><circle cx="473.4" cy="132.0" r="1.08"/><circle cx="474.8" cy="131.7" r="1.08"/><circle cx="456.4" cy="133.6" r="1.08"/><circle cx="458.6" cy="133.8" r="1.08"/><circle cx="460.3" cy="133.5" r="1.08"/><circle cx="461.8" cy="133.8" r="1.08"/><circle cx="465.5" cy="133.7" r="1.08"/><circle cx="467.0" cy="133.7" r="1.08"/><circle cx="469.1" cy="133.6" r="1.08"/><circle cx="470.8" cy="133.8" r="1.08"/><circle cx="472.4" cy="133.5" r="1.08"/><circle cx="474.3" cy="133.7" r="1.08"/><circle cx="476.0" cy="133.8" r="1.08"/><circle cx="459.2" cy="135.3" r="1.08"/><circle cx="462.6" cy="135.7" r="1.08"/><circle cx="464.7" cy="135.6" r="1.08"/><circle cx="466.1" cy="135.4" r="1.08"/><circle cx="467.8" cy="135.7" r="1.08"/><circle cx="469.7" cy="135.5" r="1.08"/><circle cx="473.4" cy="135.5" r="1.08"/><circle cx="474.8" cy="135.6" r="1.08"/><circle cx="477.6" cy="135.5" r="1.08"/><circle cx="458.2" cy="137.0" r="1.08"/><circle cx="463.5" cy="137.1" r="1.08"/><circle cx="465.4" cy="137.3" r="1.08"/><circle cx="467.2" cy="137.3" r="1.08"/><circle cx="470.5" cy="137.2" r="1.08"/><circle cx="472.2" cy="137.2" r="1.08"/><circle cx="473.9" cy="137.0" r="1.08"/><circle cx="476.1" cy="137.1" r="1.08"/><circle cx="459.3" cy="139.2" r="1.08"/><circle cx="461.1" cy="139.0" r="1.08"/><circle cx="462.8" cy="138.7" r="1.08"/><circle cx="464.6" cy="138.9" r="1.08"/><circle cx="466.3" cy="139.1" r="1.08"/><circle cx="468.1" cy="139.0" r="1.08"/><circle cx="469.9" cy="139.0" r="1.08"/><circle cx="471.4" cy="138.8" r="1.08"/><circle cx="473.3" cy="138.8" r="1.08"/><circle cx="475.2" cy="139.0" r="1.08"/><circle cx="476.0" cy="139.1" r="1.08"/><circle cx="459.9" cy="140.6" r="1.08"/><circle cx="462.1" cy="140.7" r="1.08"/><circle cx="463.5" cy="140.9" r="1.08"/><circle cx="465.4" cy="140.6" r="1.08"/><circle cx="466.9" cy="140.6" r="1.08"/><circle cx="469.0" cy="140.6" r="1.08"/><circle cx="470.7" cy="140.6" r="1.08"/><circle cx="472.5" cy="140.5" r="1.08"/><circle cx="474.0" cy="140.5" r="1.08"/><circle cx="475.7" cy="140.7" r="1.08"/><circle cx="459.2" cy="142.6" r="1.08"/><circle cx="460.9" cy="142.7" r="1.08"/><circle cx="464.6" cy="142.3" r="1.08"/><circle cx="466.0" cy="142.7" r="1.08"/><circle cx="467.9" cy="142.7" r="1.08"/><circle cx="469.7" cy="142.2" r="1.08"/><circle cx="471.5" cy="142.4" r="1.08"/><circle cx="473.2" cy="142.2" r="1.08"/><circle cx="475.1" cy="142.5" r="1.08"/><circle cx="463.8" cy="144.0" r="1.08"/><circle cx="465.6" cy="144.3" r="1.08"/><circle cx="467.0" cy="144.2" r="1.08"/><circle cx="468.8" cy="144.1" r="1.08"/><circle cx="470.8" cy="144.0" r="1.08"/><circle cx="460.8" cy="145.8" r="1.08"/><circle cx="462.6" cy="146.1" r="1.08"/><circle cx="464.5" cy="146.0" r="1.08"/><circle cx="466.1" cy="146.1" r="1.08"/><circle cx="468.2" cy="145.9" r="1.08"/><circle cx="469.8" cy="145.8" r="1.08"/><circle cx="471.3" cy="146.0" r="1.08"/><circle cx="473.5" cy="146.0" r="1.08"/><circle cx="474.2" cy="146.2" r="1.08"/><circle cx="460.2" cy="147.7" r="1.08"/><circle cx="461.8" cy="147.9" r="1.08"/><circle cx="463.4" cy="147.9" r="1.08"/><circle cx="465.2" cy="147.9" r="1.08"/><circle cx="467.0" cy="147.9" r="1.08"/><circle cx="468.6" cy="147.8" r="1.08"/><circle cx="472.2" cy="147.5" r="1.08"/><circle cx="474.3" cy="147.5" r="1.08"/><circle cx="462.6" cy="149.5" r="1.08"/><circle cx="464.2" cy="149.4" r="1.08"/><circle cx="466.1" cy="149.5" r="1.08"/><circle cx="468.2" cy="149.3" r="1.08"/><circle cx="469.6" cy="149.3" r="1.08"/><circle cx="471.3" cy="149.3" r="1.08"/><circle cx="473.4" cy="149.3" r="1.08"/><circle cx="461.7" cy="151.3" r="1.08"/><circle cx="463.6" cy="151.2" r="1.08"/><circle cx="465.3" cy="151.1" r="1.08"/><circle cx="467.0" cy="151.3" r="1.08"/><circle cx="468.9" cy="151.2" r="1.08"/><circle cx="470.4" cy="151.4" r="1.08"/><circle cx="472.5" cy="151.4" r="1.08"/><circle cx="464.2" cy="152.9" r="1.08"/><circle cx="466.3" cy="152.7" r="1.08"/><circle cx="469.5" cy="153.1" r="1.08"/><circle cx="470.4" cy="153.1" r="1.08"/><circle cx="465.6" cy="154.8" r="1.08"/><circle cx="467.2" cy="154.5" r="1.08"/><circle cx="468.6" cy="154.8" r="1.08"/></g>
<g fill="#c272b3"><circle cx="504.5" cy="27.2" r="1.08"/><circle cx="506.5" cy="26.8" r="1.08"/><circle cx="503.5" cy="28.7" r="1.08"/><circle cx="505.2" cy="28.7" r="1.08"/><circle cx="507.0" cy="28.6" r="1.08"/><circle cx="508.8" cy="28.9" r="1.08"/><circle cx="510.0" cy="28.9" r="1.08"/><circle cx="501.1" cy="30.7" r="1.08"/><circle cx="502.6" cy="30.5" r="1.08"/><circle cx="504.4" cy="30.3" r="1.08"/><circle cx="506.4" cy="30.7" r="1.08"/><circle cx="508.0" cy="30.3" r="1.08"/><circle cx="509.9" cy="30.5" r="1.08"/><circle cx="511.4" cy="30.3" r="1.08"/><circle cx="503.5" cy="32.3" r="1.08"/><circle cx="505.5" cy="32.2" r="1.08"/><circle cx="507.3" cy="32.4" r="1.08"/><circle cx="509.2" cy="32.4" r="1.08"/><circle cx="509.8" cy="32.5" r="1.08"/><circle cx="501.2" cy="34.1" r="1.08"/><circle cx="504.6" cy="33.8" r="1.08"/><circle cx="506.1" cy="34.1" r="1.08"/><circle cx="509.6" cy="33.8" r="1.08"/><circle cx="511.4" cy="34.1" r="1.08"/><circle cx="501.9" cy="35.8" r="1.08"/><circle cx="503.7" cy="35.5" r="1.08"/><circle cx="505.6" cy="35.6" r="1.08"/><circle cx="507.4" cy="35.7" r="1.08"/><circle cx="508.8" cy="35.9" r="1.08"/><circle cx="510.8" cy="35.6" r="1.08"/><circle cx="511.7" cy="35.9" r="1.08"/><circle cx="501.2" cy="37.4" r="1.08"/><circle cx="502.8" cy="37.3" r="1.08"/><circle cx="504.7" cy="37.4" r="1.08"/><circle cx="506.5" cy="37.4" r="1.08"/><circle cx="508.1" cy="37.5" r="1.08"/><circle cx="509.8" cy="37.7" r="1.08"/><circle cx="511.4" cy="37.6" r="1.08"/><circle cx="500.4" cy="39.1" r="1.08"/><circle cx="502.2" cy="39.0" r="1.08"/><circle cx="503.9" cy="39.3" r="1.08"/><circle cx="505.6" cy="39.1" r="1.08"/><circle cx="507.3" cy="39.2" r="1.08"/><circle cx="508.7" cy="39.2" r="1.08"/><circle cx="510.8" cy="39.4" r="1.08"/><circle cx="512.4" cy="39.4" r="1.08"/><circle cx="513.2" cy="39.3" r="1.08"/><circle cx="506.1" cy="41.0" r="1.08"/><circle cx="507.9" cy="40.9" r="1.08"/><circle cx="509.9" cy="40.8" r="1.08"/><circle cx="511.7" cy="41.0" r="1.08"/><circle cx="500.4" cy="42.7" r="1.08"/><circle cx="501.9" cy="42.7" r="1.08"/><circle cx="503.8" cy="42.5" r="1.08"/><circle cx="505.6" cy="42.7" r="1.08"/><circle cx="510.8" cy="42.6" r="1.08"/><circle cx="499.3" cy="44.6" r="1.08"/><circle cx="501.3" cy="44.6" r="1.08"/><circle cx="502.7" cy="44.6" r="1.08"/><circle cx="504.7" cy="44.4" r="1.08"/><circle cx="506.4" cy="44.3" r="1.08"/><circle cx="509.8" cy="44.4" r="1.08"/><circle cx="511.7" cy="44.7" r="1.08"/><circle cx="513.3" cy="44.5" r="1.08"/><circle cx="500.4" cy="46.2" r="1.08"/><circle cx="501.8" cy="46.1" r="1.08"/><circle cx="503.5" cy="46.1" r="1.08"/><circle cx="507.4" cy="46.0" r="1.08"/><circle cx="508.8" cy="46.2" r="1.08"/><circle cx="510.6" cy="46.5" r="1.08"/><circle cx="513.5" cy="46.4" r="1.08"/><circle cx="499.3" cy="47.8" r="1.08"/><circle cx="501.3" cy="47.9" r="1.08"/><circle cx="503.0" cy="48.1" r="1.08"/><circle cx="504.6" cy="47.8" r="1.08"/><circle cx="506.4" cy="47.9" r="1.08"/><circle cx="508.2" cy="47.8" r="1.08"/><circle cx="509.9" cy="48.1" r="1.08"/><circle cx="511.6" cy="47.8" r="1.08"/><circle cx="513.3" cy="47.8" r="1.08"/><circle cx="500.1" cy="49.7" r="1.08"/><circle cx="502.1" cy="49.5" r="1.08"/><circle cx="503.7" cy="50.0" r="1.08"/><circle cx="505.3" cy="49.9" r="1.08"/><circle cx="508.7" cy="49.7" r="1.08"/><circle cx="510.7" cy="49.7" r="1.08"/><circle cx="512.3" cy="49.5" r="1.08"/><circle cx="513.2" cy="49.8" r="1.08"/><circle cx="499.2" cy="51.5" r="1.08"/><circle cx="501.1" cy="51.7" r="1.08"/><circle cx="502.6" cy="51.6" r="1.08"/><circle cx="504.6" cy="51.3" r="1.08"/><circle cx="506.1" cy="51.3" r="1.08"/><circle cx="508.2" cy="51.6" r="1.08"/><circle cx="509.7" cy="51.5" r="1.08"/><circle cx="511.4" cy="51.5" r="1.08"/><circle cx="498.2" cy="53.4" r="1.08"/><circle cx="503.7" cy="53.5" r="1.08"/><circle cx="505.5" cy="53.3" r="1.08"/><circle cx="508.9" cy="53.3" r="1.08"/><circle cx="510.8" cy="53.1" r="1.08"/><circle cx="512.2" cy="53.4" r="1.08"/><circle cx="514.0" cy="53.2" r="1.08"/><circle cx="497.8" cy="55.2" r="1.08"/><circle cx="499.2" cy="54.9" r="1.08"/><circle cx="501.1" cy="55.1" r="1.08"/><circle cx="502.8" cy="54.8" r="1.08"/><circle cx="504.7" cy="54.8" r="1.08"/><circle cx="506.3" cy="55.0" r="1.08"/><circle cx="508.2" cy="55.2" r="1.08"/><circle cx="510.0" cy="55.2" r="1.08"/><circle cx="511.4" cy="55.0" r="1.08"/><circle cx="515.0" cy="54.9" r="1.08"/><circle cx="496.6" cy="56.9" r="1.08"/><circle cx="498.4" cy="56.6" r="1.08"/><circle cx="500.0" cy="56.5" r="1.08"/><circle cx="501.9" cy="56.8" r="1.08"/><circle cx="503.6" cy="56.8" r="1.08"/><circle cx="507.2" cy="56.6" r="1.08"/><circle cx="510.6" cy="56.7" r="1.08"/><circle cx="512.5" cy="56.5" r="1.08"/><circle cx="514.1" cy="56.6" r="1.08"/><circle cx="515.9" cy="56.9" r="1.08"/><circle cx="497.6" cy="58.5" r="1.08"/><circle cx="499.1" cy="58.7" r="1.08"/><circle cx="500.9" cy="58.5" r="1.08"/><circle cx="502.8" cy="58.3" r="1.08"/><circle cx="504.6" cy="58.6" r="1.08"/><circle cx="507.8" cy="58.6" r="1.08"/><circle cx="509.7" cy="58.6" r="1.08"/><circle cx="511.7" cy="58.5" r="1.08"/><circle cx="513.1" cy="58.3" r="1.08"/><circle cx="500.4" cy="60.4" r="1.08"/><circle cx="502.0" cy="60.4" r="1.08"/><circle cx="503.7" cy="60.2" r="1.08"/><circle cx="505.3" cy="60.3" r="1.08"/><circle cx="507.3" cy="60.0" r="1.08"/><circle cx="509.0" cy="60.3" r="1.08"/><circle cx="510.4" cy="60.4" r="1.08"/><circle cx="514.8" cy="60.2" r="1.08"/><circle cx="501.1" cy="62.2" r="1.08"/><circle cx="504.4" cy="62.1" r="1.08"/><circle cx="506.4" cy="62.2" r="1.08"/><circle cx="509.6" cy="62.0" r="1.08"/><circle cx="511.3" cy="62.2" r="1.08"/><circle cx="513.3" cy="61.9" r="1.08"/><circle cx="515.0" cy="62.1" r="1.08"/><circle cx="498.5" cy="63.8" r="1.08"/><circle cx="502.1" cy="63.8" r="1.08"/><circle cx="503.5" cy="63.8" r="1.08"/><circle cx="505.6" cy="63.7" r="1.08"/><circle cx="508.9" cy="63.9" r="1.08"/><circle cx="510.5" cy="63.7" r="1.08"/><circle cx="512.6" cy="64.0" r="1.08"/><circle cx="515.8" cy="63.8" r="1.08"/><circle cx="501.2" cy="65.5" r="1.08"/><circle cx="502.9" cy="65.5" r="1.08"/><circle cx="504.4" cy="65.6" r="1.08"/><circle cx="506.2" cy="65.4" r="1.08"/><circle cx="507.9" cy="65.3" r="1.08"/><circle cx="509.8" cy="65.5" r="1.08"/><circle cx="511.8" cy="65.3" r="1.08"/><circle cx="500.1" cy="67.2" r="1.08"/><circle cx="501.8" cy="67.0" r="1.08"/><circle cx="503.6" cy="67.5" r="1.08"/><circle cx="505.5" cy="67.1" r="1.08"/><circle cx="507.0" cy="67.3" r="1.08"/><circle cx="508.8" cy="67.1" r="1.08"/><circle cx="510.8" cy="67.1" r="1.08"/><circle cx="512.3" cy="67.2" r="1.08"/><circle cx="513.4" cy="67.1" r="1.08"/><circle cx="499.2" cy="68.9" r="1.08"/><circle cx="501.0" cy="69.1" r="1.08"/><circle cx="502.9" cy="68.9" r="1.08"/><circle cx="504.7" cy="69.0" r="1.08"/><circle cx="506.4" cy="68.8" r="1.08"/><circle cx="508.0" cy="69.1" r="1.08"/><circle cx="509.9" cy="69.2" r="1.08"/><circle cx="498.4" cy="70.7" r="1.08"/><circle cx="500.0" cy="71.0" r="1.08"/><circle cx="501.8" cy="70.8" r="1.08"/><circle cx="503.8" cy="70.7" r="1.08"/><circle cx="505.4" cy="70.7" r="1.08"/><circle cx="507.4" cy="70.5" r="1.08"/><circle cx="510.7" cy="70.8" r="1.08"/><circle cx="512.6" cy="70.6" r="1.08"/><circle cx="514.2" cy="70.6" r="1.08"/><circle cx="499.1" cy="72.4" r="1.08"/><circle cx="501.0" cy="72.6" r="1.08"/><circle cx="502.9" cy="72.7" r="1.08"/><circle cx="504.4" cy="72.3" r="1.08"/><circle cx="506.1" cy="72.5" r="1.08"/><circle cx="508.0" cy="72.4" r="1.08"/><circle cx="510.0" cy="72.7" r="1.08"/><circle cx="511.6" cy="72.7" r="1.08"/><circle cx="513.5" cy="72.4" r="1.08"/><circle cx="500.2" cy="74.3" r="1.08"/><circle cx="502.1" cy="74.1" r="1.08"/><circle cx="503.8" cy="74.5" r="1.08"/><circle cx="505.6" cy="74.1" r="1.08"/><circle cx="507.0" cy="74.5" r="1.08"/><circle cx="510.9" cy="74.3" r="1.08"/><circle cx="512.7" cy="74.2" r="1.08"/><circle cx="514.3" cy="74.3" r="1.08"/><circle cx="515.3" cy="74.4" r="1.08"/><circle cx="497.4" cy="76.2" r="1.08"/><circle cx="499.5" cy="75.9" r="1.08"/><circle cx="500.9" cy="76.2" r="1.08"/><circle cx="503.0" cy="76.2" r="1.08"/><circle cx="506.4" cy="76.0" r="1.08"/><circle cx="507.9" cy="76.0" r="1.08"/><circle cx="511.7" cy="76.1" r="1.08"/><circle cx="513.1" cy="76.0" r="1.08"/><circle cx="515.2" cy="76.0" r="1.08"/><circle cx="498.3" cy="77.9" r="1.08"/><circle cx="499.9" cy="78.0" r="1.08"/><circle cx="501.8" cy="77.9" r="1.08"/><circle cx="503.8" cy="77.6" r="1.08"/><circle cx="505.6" cy="77.9" r="1.08"/><circle cx="509.0" cy="77.6" r="1.08"/><circle cx="510.5" cy="77.9" r="1.08"/><circle cx="497.7" cy="79.3" r="1.08"/><circle cx="499.1" cy="79.7" r="1.08"/><circle cx="501.1" cy="79.3" r="1.08"/><circle cx="503.0" cy="79.6" r="1.08"/><circle cx="504.8" cy="79.5" r="1.08"/><circle cx="507.8" cy="79.6" r="1.08"/><circle cx="509.8" cy="79.7" r="1.08"/><circle cx="511.8" cy="79.6" r="1.08"/><circle cx="513.5" cy="79.5" r="1.08"/><circle cx="514.8" cy="79.4" r="1.08"/><circle cx="502.1" cy="81.5" r="1.08"/><circle cx="503.4" cy="81.5" r="1.08"/><circle cx="505.3" cy="81.0" r="1.08"/><circle cx="507.0" cy="81.1" r="1.08"/><circle cx="509.1" cy="81.1" r="1.08"/><circle cx="510.4" cy="81.2" r="1.08"/><circle cx="512.6" cy="81.4" r="1.08"/><circle cx="514.0" cy="81.1" r="1.08"/><circle cx="515.0" cy="81.1" r="1.08"/><circle cx="497.3" cy="82.8" r="1.08"/><circle cx="502.6" cy="83.0" r="1.08"/><circle cx="504.3" cy="82.9" r="1.08"/><circle cx="506.2" cy="83.0" r="1.08"/><circle cx="507.8" cy="82.8" r="1.08"/><circle cx="509.6" cy="82.9" r="1.08"/><circle cx="511.7" cy="82.9" r="1.08"/><circle cx="513.3" cy="83.0" r="1.08"/><circle cx="515.0" cy="82.9" r="1.08"/><circle cx="496.7" cy="84.5" r="1.08"/><circle cx="500.4" cy="84.6" r="1.08"/><circle cx="501.9" cy="85.0" r="1.08"/><circle cx="503.4" cy="84.9" r="1.08"/><circle cx="505.2" cy="84.5" r="1.08"/><circle cx="508.7" cy="84.9" r="1.08"/><circle cx="510.7" cy="84.9" r="1.08"/><circle cx="514.4" cy="84.6" r="1.08"/><circle cx="515.8" cy="84.6" r="1.08"/><circle cx="516.7" cy="84.5" r="1.08"/><circle cx="494.0" cy="86.7" r="1.08"/><circle cx="496.0" cy="86.3" r="1.08"/><circle cx="497.4" cy="86.4" r="1.08"/><circle cx="499.2" cy="86.3" r="1.08"/><circle cx="500.8" cy="86.4" r="1.08"/><circle cx="503.0" cy="86.4" r="1.08"/><circle cx="504.5" cy="86.5" r="1.08"/><circle cx="507.8" cy="86.7" r="1.08"/><circle cx="510.0" cy="86.5" r="1.08"/><circle cx="511.8" cy="86.4" r="1.08"/><circle cx="513.5" cy="86.4" r="1.08"/><circle cx="514.9" cy="86.4" r="1.08"/><circle cx="516.6" cy="86.6" r="1.08"/><circle cx="498.2" cy="88.0" r="1.08"/><circle cx="501.9" cy="88.3" r="1.08"/><circle cx="505.5" cy="88.0" r="1.08"/><circle cx="509.1" cy="88.1" r="1.08"/><circle cx="512.4" cy="88.4" r="1.08"/><circle cx="514.3" cy="88.3" r="1.08"/><circle cx="515.9" cy="88.3" r="1.08"/><circle cx="495.6" cy="90.0" r="1.08"/><circle cx="497.6" cy="90.1" r="1.08"/><circle cx="501.1" cy="89.8" r="1.08"/><circle cx="502.9" cy="90.0" r="1.08"/><circle cx="504.8" cy="90.0" r="1.08"/><circle cx="508.2" cy="89.9" r="1.08"/><circle cx="510.0" cy="89.9" r="1.08"/><circle cx="511.4" cy="90.1" r="1.08"/><circle cx="513.4" cy="89.9" r="1.08"/><circle cx="514.9" cy="89.8" r="1.08"/><circle cx="516.9" cy="90.0" r="1.08"/><circle cx="496.7" cy="91.9" r="1.08"/><circle cx="498.5" cy="91.5" r="1.08"/><circle cx="500.2" cy="91.8" r="1.08"/><circle cx="501.8" cy="91.6" r="1.08"/><circle cx="503.8" cy="91.7" r="1.08"/><circle cx="509.0" cy="91.5" r="1.08"/><circle cx="510.9" cy="91.7" r="1.08"/><circle cx="516.7" cy="91.9" r="1.08"/><circle cx="497.3" cy="93.5" r="1.08"/><circle cx="499.3" cy="93.6" r="1.08"/><circle cx="502.7" cy="93.7" r="1.08"/><circle cx="504.4" cy="93.7" r="1.08"/><circle cx="506.2" cy="93.3" r="1.08"/><circle cx="509.6" cy="93.5" r="1.08"/><circle cx="511.6" cy="93.3" r="1.08"/><circle cx="513.5" cy="93.6" r="1.08"/><circle cx="514.9" cy="93.6" r="1.08"/><circle cx="516.6" cy="93.5" r="1.08"/><circle cx="495.1" cy="95.1" r="1.08"/><circle cx="496.8" cy="95.1" r="1.08"/><circle cx="498.3" cy="95.5" r="1.08"/><circle cx="500.0" cy="95.4" r="1.08"/><circle cx="502.0" cy="95.1" r="1.08"/><circle cx="503.7" cy="95.3" r="1.08"/><circle cx="505.3" cy="95.2" r="1.08"/><circle cx="507.4" cy="95.4" r="1.08"/><circle cx="508.8" cy="95.3" r="1.08"/><circle cx="510.8" cy="95.2" r="1.08"/><circle cx="512.5" cy="95.3" r="1.08"/><circle cx="514.2" cy="95.4" r="1.08"/><circle cx="515.8" cy="95.4" r="1.08"/><circle cx="517.6" cy="95.2" r="1.08"/><circle cx="518.6" cy="95.3" r="1.08"/><circle cx="494.1" cy="97.2" r="1.08"/><circle cx="496.0" cy="97.0" r="1.08"/><circle cx="497.6" cy="97.1" r="1.08"/><circle cx="500.9" cy="97.1" r="1.08"/><circle cx="502.6" cy="97.2" r="1.08"/><circle cx="504.3" cy="96.8" r="1.08"/><circle cx="506.4" cy="97.2" r="1.08"/><circle cx="507.9" cy="96.8" r="1.08"/><circle cx="509.6" cy="97.0" r="1.08"/><circle cx="513.1" cy="96.9" r="1.08"/><circle cx="515.2" cy="97.1" r="1.08"/><circle cx="516.8" cy="97.1" r="1.08"/><circle cx="518.7" cy="96.8" r="1.08"/><circle cx="496.6" cy="98.9" r="1.08"/><circle cx="498.6" cy="98.9" r="1.08"/><circle cx="500.0" cy="98.8" r="1.08"/><circle cx="501.8" cy="98.9" r="1.08"/><circle cx="503.5" cy="98.7" r="1.08"/><circle cx="505.3" cy="98.9" r="1.08"/><circle cx="506.9" cy="98.9" r="1.08"/><circle cx="508.9" cy="99.0" r="1.08"/><circle cx="510.6" cy="98.8" r="1.08"/><circle cx="512.2" cy="98.6" r="1.08"/><circle cx="514.3" cy="98.7" r="1.08"/><circle cx="515.8" cy="99.0" r="1.08"/><circle cx="517.0" cy="98.8" r="1.08"/><circle cx="494.1" cy="100.7" r="1.08"/><circle cx="495.7" cy="100.7" r="1.08"/><circle cx="497.5" cy="100.3" r="1.08"/><circle cx="501.0" cy="100.5" r="1.08"/><circle cx="502.7" cy="100.3" r="1.08"/><circle cx="506.3" cy="100.4" r="1.08"/><circle cx="508.2" cy="100.3" r="1.08"/><circle cx="509.6" cy="100.4" r="1.08"/><circle cx="511.5" cy="100.6" r="1.08"/><circle cx="518.6" cy="100.4" r="1.08"/><circle cx="494.8" cy="102.3" r="1.08"/><circle cx="496.6" cy="102.3" r="1.08"/><circle cx="498.4" cy="102.2" r="1.08"/><circle cx="500.1" cy="102.3" r="1.08"/><circle cx="501.8" cy="102.2" r="1.08"/><circle cx="505.5" cy="102.1" r="1.08"/><circle cx="506.9" cy="102.0" r="1.08"/><circle cx="510.9" cy="102.0" r="1.08"/><circle cx="514.3" cy="102.2" r="1.08"/><circle cx="515.9" cy="102.2" r="1.08"/><circle cx="518.6" cy="102.4" r="1.08"/><circle cx="494.3" cy="103.8" r="1.08"/><circle cx="496.0" cy="103.8" r="1.08"/><circle cx="497.6" cy="104.0" r="1.08"/><circle cx="499.1" cy="103.8" r="1.08"/><circle cx="501.2" cy="103.8" r="1.08"/><circle cx="504.6" cy="104.1" r="1.08"/><circle cx="506.1" cy="104.0" r="1.08"/><circle cx="510.0" cy="103.9" r="1.08"/><circle cx="511.4" cy="103.8" r="1.08"/><circle cx="515.2" cy="104.1" r="1.08"/><circle cx="516.9" cy="103.9" r="1.08"/><circle cx="518.7" cy="104.0" r="1.08"/><circle cx="494.8" cy="105.9" r="1.08"/><circle cx="496.6" cy="105.9" r="1.08"/><circle cx="498.2" cy="105.6" r="1.08"/><circle cx="500.2" cy="105.8" r="1.08"/><circle cx="503.5" cy="105.6" r="1.08"/><circle cx="505.3" cy="105.7" r="1.08"/><circle cx="507.3" cy="105.6" r="1.08"/><circle cx="509.0" cy="105.7" r="1.08"/><circle cx="510.8" cy="106.0" r="1.08"/><circle cx="512.7" cy="105.9" r="1.08"/><circle cx="514.0" cy="105.8" r="1.08"/><circle cx="516.2" cy="105.6" r="1.08"/><circle cx="517.7" cy="105.9" r="1.08"/><circle cx="518.5" cy="105.5" r="1.08"/><circle cx="495.9" cy="107.6" r="1.08"/><circle cx="497.3" cy="107.5" r="1.08"/><circle cx="499.1" cy="107.4" r="1.08"/><circle cx="501.3" cy="107.3" r="1.08"/><circle cx="502.8" cy="107.6" r="1.08"/><circle cx="504.5" cy="107.4" r="1.08"/><circle cx="509.6" cy="107.6" r="1.08"/><circle cx="511.4" cy="107.6" r="1.08"/><circle cx="513.5" cy="107.6" r="1.08"/><circle cx="515.2" cy="107.5" r="1.08"/><circle cx="516.6" cy="107.4" r="1.08"/><circle cx="495.1" cy="109.5" r="1.08"/><circle cx="496.6" cy="109.1" r="1.08"/><circle cx="501.9" cy="109.2" r="1.08"/><circle cx="503.8" cy="109.2" r="1.08"/><circle cx="505.5" cy="109.3" r="1.08"/><circle cx="507.1" cy="109.1" r="1.08"/><circle cx="508.8" cy="109.2" r="1.08"/><circle cx="510.9" cy="109.5" r="1.08"/><circle cx="512.2" cy="109.0" r="1.08"/><circle cx="514.0" cy="109.0" r="1.08"/><circle cx="516.2" cy="109.1" r="1.08"/><circle cx="517.7" cy="109.1" r="1.08"/><circle cx="518.4" cy="109.3" r="1.08"/><circle cx="496.0" cy="111.0" r="1.08"/><circle cx="497.4" cy="111.0" r="1.08"/><circle cx="499.3" cy="111.1" r="1.08"/><circle cx="500.9" cy="111.1" r="1.08"/><circle cx="502.6" cy="110.8" r="1.08"/><circle cx="504.7" cy="111.0" r="1.08"/><circle cx="506.5" cy="111.1" r="1.08"/><circle cx="507.8" cy="110.8" r="1.08"/><circle cx="509.7" cy="111.0" r="1.08"/><circle cx="511.6" cy="110.9" r="1.08"/><circle cx="513.2" cy="111.2" r="1.08"/><circle cx="515.1" cy="110.9" r="1.08"/><circle cx="516.8" cy="110.8" r="1.08"/><circle cx="494.8" cy="112.7" r="1.08"/><circle cx="496.4" cy="112.8" r="1.08"/><circle cx="498.5" cy="112.5" r="1.08"/><circle cx="500.0" cy="112.7" r="1.08"/><circle cx="502.0" cy="112.6" r="1.08"/><circle cx="503.8" cy="112.5" r="1.08"/><circle cx="505.7" cy="113.0" r="1.08"/><circle cx="509.0" cy="112.9" r="1.08"/><circle cx="510.9" cy="112.5" r="1.08"/><circle cx="512.6" cy="112.5" r="1.08"/><circle cx="514.2" cy="112.8" r="1.08"/><circle cx="517.7" cy="112.6" r="1.08"/><circle cx="518.5" cy="112.9" r="1.08"/><circle cx="494.3" cy="114.7" r="1.08"/><circle cx="497.6" cy="114.5" r="1.08"/><circle cx="501.2" cy="114.7" r="1.08"/><circle cx="502.7" cy="114.7" r="1.08"/><circle cx="504.4" cy="114.4" r="1.08"/><circle cx="506.3" cy="114.4" r="1.08"/><circle cx="508.2" cy="114.6" r="1.08"/><circle cx="509.6" cy="114.3" r="1.08"/><circle cx="511.7" cy="114.3" r="1.08"/><circle cx="513.5" cy="114.5" r="1.08"/><circle cx="515.0" cy="114.4" r="1.08"/><circle cx="516.9" cy="114.6" r="1.08"/><circle cx="518.4" cy="114.3" r="1.08"/><circle cx="495.1" cy="116.1" r="1.08"/><circle cx="496.8" cy="116.0" r="1.08"/><circle cx="498.5" cy="116.3" r="1.08"/><circle cx="500.0" cy="116.2" r="1.08"/><circle cx="501.7" cy="116.3" r="1.08"/><circle cx="503.8" cy="116.2" r="1.08"/><circle cx="505.6" cy="116.4" r="1.08"/><circle cx="507.4" cy="116.0" r="1.08"/><circle cx="509.1" cy="116.2" r="1.08"/><circle cx="510.8" cy="116.1" r="1.08"/><circle cx="512.4" cy="116.3" r="1.08"/><circle cx="514.2" cy="116.3" r="1.08"/><circle cx="516.0" cy="116.2" r="1.08"/><circle cx="517.8" cy="116.3" r="1.08"/><circle cx="518.7" cy="116.4" r="1.08"/><circle cx="495.8" cy="118.1" r="1.08"/><circle cx="497.7" cy="117.8" r="1.08"/><circle cx="499.2" cy="118.1" r="1.08"/><circle cx="501.0" cy="118.0" r="1.08"/><circle cx="502.8" cy="118.2" r="1.08"/><circle cx="504.4" cy="117.8" r="1.08"/><circle cx="508.1" cy="118.0" r="1.08"/><circle cx="509.6" cy="117.9" r="1.08"/><circle cx="511.8" cy="118.0" r="1.08"/><circle cx="513.3" cy="117.9" r="1.08"/><circle cx="515.0" cy="118.1" r="1.08"/><circle cx="516.8" cy="117.8" r="1.08"/><circle cx="495.0" cy="119.7" r="1.08"/><circle cx="496.8" cy="119.7" r="1.08"/><circle cx="498.3" cy="119.8" r="1.08"/><circle cx="500.1" cy="120.0" r="1.08"/><circle cx="501.8" cy="119.6" r="1.08"/><circle cx="503.8" cy="119.7" r="1.08"/><circle cx="505.3" cy="119.7" r="1.08"/><circle cx="507.3" cy="120.0" r="1.08"/><circle cx="509.0" cy="119.5" r="1.08"/><circle cx="510.9" cy="119.7" r="1.08"/><circle cx="512.4" cy="120.0" r="1.08"/><circle cx="514.0" cy="119.7" r="1.08"/><circle cx="516.0" cy="119.9" r="1.08"/><circle cx="517.6" cy="119.7" r="1.08"/><circle cx="494.3" cy="121.3" r="1.08"/><circle cx="495.9" cy="121.7" r="1.08"/><circle cx="497.4" cy="121.5" r="1.08"/><circle cx="499.2" cy="121.3" r="1.08"/><circle cx="501.1" cy="121.4" r="1.08"/><circle cx="502.7" cy="121.4" r="1.08"/><circle cx="504.7" cy="121.7" r="1.08"/><circle cx="506.4" cy="121.5" r="1.08"/><circle cx="507.8" cy="121.7" r="1.08"/><circle cx="510.0" cy="121.6" r="1.08"/><circle cx="511.8" cy="121.6" r="1.08"/><circle cx="513.4" cy="121.5" r="1.08"/><circle cx="515.3" cy="121.5" r="1.08"/><circle cx="516.8" cy="121.3" r="1.08"/><circle cx="496.9" cy="123.2" r="1.08"/><circle cx="498.2" cy="123.2" r="1.08"/><circle cx="500.2" cy="123.1" r="1.08"/><circle cx="501.8" cy="123.3" r="1.08"/><circle cx="503.7" cy="123.3" r="1.08"/><circle cx="505.6" cy="123.3" r="1.08"/><circle cx="506.9" cy="123.3" r="1.08"/><circle cx="508.8" cy="123.2" r="1.08"/><circle cx="510.9" cy="123.2" r="1.08"/><circle cx="512.3" cy="123.1" r="1.08"/><circle cx="514.2" cy="123.5" r="1.08"/><circle cx="515.7" cy="123.0" r="1.08"/><circle cx="516.7" cy="123.1" r="1.08"/><circle cx="497.7" cy="124.9" r="1.08"/><circle cx="502.9" cy="124.8" r="1.08"/><circle cx="504.5" cy="125.1" r="1.08"/><circle cx="506.5" cy="124.9" r="1.08"/><circle cx="508.1" cy="124.9" r="1.08"/><circle cx="509.6" cy="124.9" r="1.08"/><circle cx="511.4" cy="124.9" r="1.08"/><circle cx="513.2" cy="124.8" r="1.08"/><circle cx="515.3" cy="125.1" r="1.08"/><circle cx="496.9" cy="126.9" r="1.08"/><circle cx="498.5" cy="126.8" r="1.08"/><circle cx="500.3" cy="126.9" r="1.08"/><circle cx="501.9" cy="126.6" r="1.08"/><circle cx="505.5" cy="126.9" r="1.08"/><circle cx="508.8" cy="127.0" r="1.08"/><circle cx="510.8" cy="126.7" r="1.08"/><circle cx="512.5" cy="126.7" r="1.08"/><circle cx="515.9" cy="126.9" r="1.08"/><circle cx="495.6" cy="128.4" r="1.08"/><circle cx="497.7" cy="128.3" r="1.08"/><circle cx="499.5" cy="128.4" r="1.08"/><circle cx="501.2" cy="128.5" r="1.08"/><circle cx="502.7" cy="128.6" r="1.08"/><circle cx="504.7" cy="128.4" r="1.08"/><circle cx="506.2" cy="128.6" r="1.08"/><circle cx="508.2" cy="128.4" r="1.08"/><circle cx="511.8" cy="128.4" r="1.08"/><circle cx="513.3" cy="128.3" r="1.08"/><circle cx="515.1" cy="128.4" r="1.08"/><circle cx="516.6" cy="128.6" r="1.08"/><circle cx="496.5" cy="130.3" r="1.08"/><circle cx="498.7" cy="130.1" r="1.08"/><circle cx="500.4" cy="130.1" r="1.08"/><circle cx="501.9" cy="130.3" r="1.08"/><circle cx="503.5" cy="130.2" r="1.08"/><circle cx="505.5" cy="130.1" r="1.08"/><circle cx="507.3" cy="130.4" r="1.08"/><circle cx="510.9" cy="130.4" r="1.08"/><circle cx="512.5" cy="130.2" r="1.08"/><circle cx="514.3" cy="130.1" r="1.08"/><circle cx="516.1" cy="130.1" r="1.08"/><circle cx="516.9" cy="130.0" r="1.08"/><circle cx="496.0" cy="131.9" r="1.08"/><circle cx="497.3" cy="131.9" r="1.08"/><circle cx="499.5" cy="131.9" r="1.08"/><circle cx="500.9" cy="132.2" r="1.08"/><circle cx="502.9" cy="132.2" r="1.08"/><circle cx="504.8" cy="132.1" r="1.08"/><circle cx="506.1" cy="132.2" r="1.08"/><circle cx="508.1" cy="132.0" r="1.08"/><circle cx="509.9" cy="132.1" r="1.08"/><circle cx="515.0" cy="132.2" r="1.08"/><circle cx="495.1" cy="133.9" r="1.08"/><circle cx="496.9" cy="133.9" r="1.08"/><circle cx="498.6" cy="133.5" r="1.08"/><circle cx="500.0" cy="134.0" r="1.08"/><circle cx="501.8" cy="134.0" r="1.08"/><circle cx="503.7" cy="133.5" r="1.08"/><circle cx="507.3" cy="133.8" r="1.08"/><circle cx="508.9" cy="133.5" r="1.08"/><circle cx="510.8" cy="133.7" r="1.08"/><circle cx="512.3" cy="133.9" r="1.08"/><circle cx="514.0" cy="133.9" r="1.08"/><circle cx="516.1" cy="133.9" r="1.08"/><circle cx="517.8" cy="133.9" r="1.08"/><circle cx="497.5" cy="135.6" r="1.08"/><circle cx="499.5" cy="135.5" r="1.08"/><circle cx="500.8" cy="135.4" r="1.08"/><circle cx="502.7" cy="135.3" r="1.08"/><circle cx="504.6" cy="135.4" r="1.08"/><circle cx="506.4" cy="135.6" r="1.08"/><circle cx="508.0" cy="135.6" r="1.08"/><circle cx="511.7" cy="135.4" r="1.08"/><circle cx="513.3" cy="135.4" r="1.08"/><circle cx="515.2" cy="135.6" r="1.08"/><circle cx="498.3" cy="137.4" r="1.08"/><circle cx="500.0" cy="137.4" r="1.08"/><circle cx="501.9" cy="137.1" r="1.08"/><circle cx="505.4" cy="137.2" r="1.08"/><circle cx="507.1" cy="137.3" r="1.08"/><circle cx="509.1" cy="137.4" r="1.08"/><circle cx="510.9" cy="137.1" r="1.08"/><circle cx="512.6" cy="137.1" r="1.08"/><circle cx="514.3" cy="137.2" r="1.08"/><circle cx="499.5" cy="138.8" r="1.08"/><circle cx="501.2" cy="139.2" r="1.08"/><circle cx="502.9" cy="138.9" r="1.08"/><circle cx="504.5" cy="139.1" r="1.08"/><circle cx="506.4" cy="138.8" r="1.08"/><circle cx="509.8" cy="138.9" r="1.08"/><circle cx="513.1" cy="138.9" r="1.08"/><circle cx="515.1" cy="139.0" r="1.08"/><circle cx="498.4" cy="140.6" r="1.08"/><circle cx="500.4" cy="140.6" r="1.08"/><circle cx="503.7" cy="140.7" r="1.08"/><circle cx="505.3" cy="140.9" r="1.08"/><circle cx="507.3" cy="140.8" r="1.08"/><circle cx="508.9" cy="140.6" r="1.08"/><circle cx="514.4" cy="140.7" r="1.08"/><circle cx="499.3" cy="142.7" r="1.08"/><circle cx="501.3" cy="142.6" r="1.08"/><circle cx="503.0" cy="142.7" r="1.08"/><circle cx="504.6" cy="142.3" r="1.08"/><circle cx="506.2" cy="142.4" r="1.08"/><circle cx="508.1" cy="142.6" r="1.08"/><circle cx="509.6" cy="142.3" r="1.08"/><circle cx="511.7" cy="142.4" r="1.08"/><circle cx="513.3" cy="142.3" r="1.08"/><circle cx="498.4" cy="144.3" r="1.08"/><circle cx="502.0" cy="144.1" r="1.08"/><circle cx="503.5" cy="144.4" r="1.08"/><circle cx="505.7" cy="144.1" r="1.08"/><circle cx="507.2" cy="144.3" r="1.08"/><circle cx="509.0" cy="144.3" r="1.08"/><circle cx="510.4" cy="144.1" r="1.08"/><circle cx="512.2" cy="144.1" r="1.08"/><circle cx="514.1" cy="144.5" r="1.08"/><circle cx="515.0" cy="144.5" r="1.08"/><circle cx="499.4" cy="146.2" r="1.08"/><circle cx="501.1" cy="145.9" r="1.08"/><circle cx="502.9" cy="146.0" r="1.08"/><circle cx="504.7" cy="146.2" r="1.08"/><circle cx="508.0" cy="145.9" r="1.08"/><circle cx="509.6" cy="145.8" r="1.08"/><circle cx="511.7" cy="145.8" r="1.08"/><circle cx="513.1" cy="146.2" r="1.08"/><circle cx="498.3" cy="148.0" r="1.08"/><circle cx="500.3" cy="147.9" r="1.08"/><circle cx="501.9" cy="147.9" r="1.08"/><circle cx="503.6" cy="147.8" r="1.08"/><circle cx="505.2" cy="147.8" r="1.08"/><circle cx="507.3" cy="147.9" r="1.08"/><circle cx="508.8" cy="147.9" r="1.08"/><circle cx="510.5" cy="148.0" r="1.08"/><circle cx="512.6" cy="148.0" r="1.08"/><circle cx="514.2" cy="147.7" r="1.08"/><circle cx="500.9" cy="149.7" r="1.08"/><circle cx="502.6" cy="149.6" r="1.08"/><circle cx="508.2" cy="149.6" r="1.08"/><circle cx="509.6" cy="149.5" r="1.08"/><circle cx="511.6" cy="149.6" r="1.08"/><circle cx="513.2" cy="149.7" r="1.08"/><circle cx="500.3" cy="151.3" r="1.08"/><circle cx="503.5" cy="151.1" r="1.08"/><circle cx="505.4" cy="151.3" r="1.08"/><circle cx="509.2" cy="151.1" r="1.08"/><circle cx="510.8" cy="151.2" r="1.08"/><circle cx="513.3" cy="151.5" r="1.08"/><circle cx="501.2" cy="153.2" r="1.08"/><circle cx="503.0" cy="152.8" r="1.08"/><circle cx="504.8" cy="153.1" r="1.08"/><circle cx="506.5" cy="153.2" r="1.08"/><circle cx="508.2" cy="153.0" r="1.08"/><circle cx="510.0" cy="153.0" r="1.08"/><circle cx="511.7" cy="152.9" r="1.08"/><circle cx="501.7" cy="154.9" r="1.08"/><circle cx="503.4" cy="154.7" r="1.08"/><circle cx="505.6" cy="154.6" r="1.08"/><circle cx="507.4" cy="154.9" r="1.08"/><circle cx="508.8" cy="154.9" r="1.08"/><circle cx="510.8" cy="155.0" r="1.08"/></g>
<line x1="467.50" y1="88.40" x2="467.50" y2="92.00" stroke="#000" stroke-width="1.0"/>
<line x1="461.20" y1="88.40" x2="473.80" y2="88.40" stroke="#000" stroke-width="1.0"/>
<line x1="461.20" y1="92.00" x2="473.80" y2="92.00" stroke="#000" stroke-width="1.0"/>
<line x1="454.90" y1="90.20" x2="480.10" y2="90.20" stroke="#000" stroke-width="1.5"/>
<rect x="499.60" y="95.90" width="12.80" height="3.00" fill="#000"/>
<line x1="493.20" y1="97.40" x2="518.80" y2="97.40" stroke="#000" stroke-width="1.5"/>
<line x1="442.10" y1="22.85" x2="442.10" y2="158.75" stroke="#000" stroke-width="1.3"/>
<line x1="441.45" y1="158.10" x2="531.90" y2="158.10" stroke="#000" stroke-width="1.3"/>
<line x1="436.30" y1="158.10" x2="442.10" y2="158.10" stroke="#000" stroke-width="1.3"/>
<text x="434.90" y="161.55" font-size="9.8" font-weight="bold" text-anchor="end" fill="#231f20">0.0</text>
<line x1="436.30" y1="131.18" x2="442.10" y2="131.18" stroke="#000" stroke-width="1.3"/>
<text x="434.90" y="134.63" font-size="9.8" font-weight="bold" text-anchor="end" fill="#231f20">0.2</text>
<line x1="436.30" y1="104.26" x2="442.10" y2="104.26" stroke="#000" stroke-width="1.3"/>
<text x="434.90" y="107.71" font-size="9.8" font-weight="bold" text-anchor="end" fill="#231f20">0.4</text>
<line x1="436.30" y1="77.34" x2="442.10" y2="77.34" stroke="#000" stroke-width="1.3"/>
<text x="434.90" y="80.79" font-size="9.8" font-weight="bold" text-anchor="end" fill="#231f20">0.6</text>
<line x1="436.30" y1="50.42" x2="442.10" y2="50.42" stroke="#000" stroke-width="1.3"/>
<text x="434.90" y="53.87" font-size="9.8" font-weight="bold" text-anchor="end" fill="#231f20">0.8</text>
<line x1="436.30" y1="23.50" x2="442.10" y2="23.50" stroke="#000" stroke-width="1.3"/>
<text x="434.90" y="26.95" font-size="9.8" font-weight="bold" text-anchor="end" fill="#231f20">1.0</text>
<line x1="467.30" y1="158.10" x2="467.30" y2="163.80" stroke="#000" stroke-width="1.3"/>
<line x1="505.90" y1="158.10" x2="505.90" y2="163.80" stroke="#000" stroke-width="1.3"/>
<text x="447.20" y="174.40" font-size="10" font-weight="bold" text-anchor="start" fill="#231f20" textLength="40.5" lengthAdjust="spacingAndGlyphs">Baseline</text>
<text x="494.80" y="174.40" font-size="10" font-weight="bold" text-anchor="start" fill="#231f20" textLength="22.3" lengthAdjust="spacingAndGlyphs">CNO</text>
<line x1="469.70" y1="21.00" x2="507.10" y2="21.00" stroke="#000" stroke-width="1.5"/>
<text x="490.00" y="24.60" font-size="16.5" font-weight="bold" text-anchor="middle" fill="#231f20">*</text>
<text transform="translate(414.32,90.00) rotate(-90)" font-size="11.5" font-weight="bold" text-anchor="middle" fill="#000" textLength="69.0" lengthAdjust="spacingAndGlyphs">Tuning Index</text>
<text x="539.60" y="35.70" font-size="23" font-weight="bold" text-anchor="start" fill="#231f20">k</text>
<g fill="#add899"><rect x="612.5" y="27.9" width="1.7" height="1.7"/><rect x="615.1" y="27.9" width="1.7" height="1.7"/><rect x="609.8" y="29.7" width="1.7" height="1.7"/><rect x="612.5" y="29.8" width="1.7" height="1.7"/><rect x="612.4" y="31.5" width="1.7" height="1.7"/><rect x="609.8" y="33.4" width="1.7" height="1.7"/><rect x="612.5" y="33.4" width="1.7" height="1.7"/><rect x="612.5" y="35.1" width="1.7" height="1.7"/><rect x="609.8" y="36.9" width="1.7" height="1.7"/><rect x="612.4" y="37.0" width="1.7" height="1.7"/><rect x="609.8" y="38.7" width="1.7" height="1.7"/><rect x="612.4" y="38.8" width="1.7" height="1.7"/><rect x="609.8" y="40.5" width="1.7" height="1.7"/><rect x="612.4" y="40.5" width="1.7" height="1.7"/><rect x="615.1" y="40.6" width="1.7" height="1.7"/><rect x="612.5" y="42.3" width="1.7" height="1.7"/><rect x="615.0" y="42.4" width="1.7" height="1.7"/><rect x="607.3" y="44.2" width="1.7" height="1.7"/><rect x="612.4" y="44.2" width="1.7" height="1.7"/><rect x="615.0" y="46.0" width="1.7" height="1.7"/><rect x="609.8" y="47.7" width="1.7" height="1.7"/><rect x="612.4" y="47.7" width="1.7" height="1.7"/><rect x="609.9" y="49.5" width="1.7" height="1.7"/><rect x="612.4" y="49.5" width="1.7" height="1.7"/><rect x="615.0" y="49.5" width="1.7" height="1.7"/><rect x="607.2" y="53.1" width="1.7" height="1.7"/><rect x="612.5" y="53.1" width="1.7" height="1.7"/><rect x="615.1" y="53.2" width="1.7" height="1.7"/><rect x="617.6" y="53.1" width="1.7" height="1.7"/><rect x="609.8" y="56.7" width="1.7" height="1.7"/><rect x="609.9" y="60.4" width="1.7" height="1.7"/><rect x="612.5" y="60.3" width="1.7" height="1.7"/><rect x="615.1" y="60.4" width="1.7" height="1.7"/><rect x="612.5" y="62.1" width="1.7" height="1.7"/><rect x="609.9" y="64.0" width="1.7" height="1.7"/><rect x="612.4" y="64.0" width="1.7" height="1.7"/><rect x="615.0" y="65.7" width="1.7" height="1.7"/><rect x="607.3" y="67.6" width="1.7" height="1.7"/><rect x="609.9" y="67.5" width="1.7" height="1.7"/><rect x="612.4" y="67.5" width="1.7" height="1.7"/><rect x="615.1" y="69.3" width="1.7" height="1.7"/><rect x="609.8" y="71.2" width="1.7" height="1.7"/><rect x="612.4" y="71.1" width="1.7" height="1.7"/><rect x="615.0" y="71.2" width="1.7" height="1.7"/><rect x="617.7" y="71.1" width="1.7" height="1.7"/><rect x="612.5" y="72.9" width="1.7" height="1.7"/><rect x="615.1" y="72.9" width="1.7" height="1.7"/><rect x="617.6" y="73.0" width="1.7" height="1.7"/><rect x="620.3" y="72.9" width="1.7" height="1.7"/><rect x="609.9" y="74.8" width="1.7" height="1.7"/><rect x="612.4" y="74.8" width="1.7" height="1.7"/><rect x="604.7" y="76.6" width="1.7" height="1.7"/><rect x="609.8" y="76.6" width="1.7" height="1.7"/><rect x="620.2" y="76.5" width="1.7" height="1.7"/><rect x="607.2" y="78.3" width="1.7" height="1.7"/><rect x="612.4" y="78.4" width="1.7" height="1.7"/><rect x="615.1" y="78.3" width="1.7" height="1.7"/><rect x="617.7" y="78.4" width="1.7" height="1.7"/><rect x="604.7" y="80.2" width="1.7" height="1.7"/><rect x="612.5" y="80.2" width="1.7" height="1.7"/><rect x="617.7" y="80.1" width="1.7" height="1.7"/><rect x="620.2" y="80.1" width="1.7" height="1.7"/><rect x="607.3" y="81.9" width="1.7" height="1.7"/><rect x="609.8" y="82.0" width="1.7" height="1.7"/><rect x="612.4" y="81.9" width="1.7" height="1.7"/><rect x="615.1" y="82.0" width="1.7" height="1.7"/><rect x="609.8" y="83.8" width="1.7" height="1.7"/><rect x="612.4" y="83.8" width="1.7" height="1.7"/><rect x="615.1" y="83.8" width="1.7" height="1.7"/><rect x="617.7" y="83.7" width="1.7" height="1.7"/><rect x="612.4" y="85.6" width="1.7" height="1.7"/><rect x="615.0" y="85.5" width="1.7" height="1.7"/><rect x="617.6" y="85.6" width="1.7" height="1.7"/><rect x="604.7" y="87.3" width="1.7" height="1.7"/><rect x="609.9" y="87.4" width="1.7" height="1.7"/><rect x="615.0" y="87.3" width="1.7" height="1.7"/><rect x="604.7" y="89.1" width="1.7" height="1.7"/><rect x="615.1" y="89.1" width="1.7" height="1.7"/><rect x="604.6" y="91.0" width="1.7" height="1.7"/><rect x="607.2" y="91.0" width="1.7" height="1.7"/><rect x="612.5" y="91.0" width="1.7" height="1.7"/><rect x="615.0" y="90.9" width="1.7" height="1.7"/><rect x="617.6" y="90.9" width="1.7" height="1.7"/><rect x="607.3" y="92.7" width="1.7" height="1.7"/><rect x="612.5" y="92.7" width="1.7" height="1.7"/><rect x="615.0" y="92.7" width="1.7" height="1.7"/><rect x="617.6" y="92.8" width="1.7" height="1.7"/><rect x="607.2" y="94.6" width="1.7" height="1.7"/><rect x="609.8" y="94.6" width="1.7" height="1.7"/><rect x="612.4" y="94.6" width="1.7" height="1.7"/><rect x="615.1" y="94.6" width="1.7" height="1.7"/><rect x="612.4" y="96.3" width="1.7" height="1.7"/><rect x="615.1" y="96.4" width="1.7" height="1.7"/><rect x="607.3" y="98.1" width="1.7" height="1.7"/><rect x="609.8" y="98.2" width="1.7" height="1.7"/><rect x="612.5" y="98.1" width="1.7" height="1.7"/><rect x="615.0" y="98.2" width="1.7" height="1.7"/><rect x="617.6" y="98.2" width="1.7" height="1.7"/><rect x="612.5" y="99.9" width="1.7" height="1.7"/><rect x="615.0" y="99.9" width="1.7" height="1.7"/><rect x="617.6" y="99.9" width="1.7" height="1.7"/><rect x="607.2" y="101.8" width="1.7" height="1.7"/><rect x="609.9" y="101.8" width="1.7" height="1.7"/><rect x="612.4" y="101.8" width="1.7" height="1.7"/><rect x="612.5" y="103.6" width="1.7" height="1.7"/><rect x="615.0" y="103.5" width="1.7" height="1.7"/><rect x="617.7" y="103.5" width="1.7" height="1.7"/><rect x="607.2" y="105.4" width="1.7" height="1.7"/><rect x="609.9" y="105.3" width="1.7" height="1.7"/><rect x="617.7" y="105.4" width="1.7" height="1.7"/><rect x="609.8" y="107.1" width="1.7" height="1.7"/><rect x="612.4" y="107.2" width="1.7" height="1.7"/><rect x="615.1" y="107.1" width="1.7" height="1.7"/><rect x="609.9" y="109.0" width="1.7" height="1.7"/><rect x="615.1" y="109.0" width="1.7" height="1.7"/><rect x="609.8" y="110.8" width="1.7" height="1.7"/><rect x="612.4" y="110.7" width="1.7" height="1.7"/><rect x="615.1" y="110.7" width="1.7" height="1.7"/><rect x="612.5" y="112.5" width="1.7" height="1.7"/><rect x="615.0" y="112.5" width="1.7" height="1.7"/><rect x="607.2" y="114.4" width="1.7" height="1.7"/><rect x="609.9" y="114.3" width="1.7" height="1.7"/><rect x="609.8" y="116.1" width="1.7" height="1.7"/><rect x="609.9" y="118.0" width="1.7" height="1.7"/><rect x="612.5" y="118.0" width="1.7" height="1.7"/><rect x="615.0" y="117.9" width="1.7" height="1.7"/><rect x="609.9" y="119.7" width="1.7" height="1.7"/><rect x="612.4" y="119.8" width="1.7" height="1.7"/><rect x="615.0" y="119.8" width="1.7" height="1.7"/><rect x="617.7" y="119.8" width="1.7" height="1.7"/><rect x="607.2" y="121.6" width="1.7" height="1.7"/><rect x="609.8" y="121.6" width="1.7" height="1.7"/><rect x="612.5" y="121.5" width="1.7" height="1.7"/><rect x="609.9" y="123.3" width="1.7" height="1.7"/><rect x="615.1" y="123.3" width="1.7" height="1.7"/><rect x="607.2" y="125.2" width="1.7" height="1.7"/><rect x="609.8" y="125.2" width="1.7" height="1.7"/><rect x="615.1" y="125.2" width="1.7" height="1.7"/><rect x="615.0" y="127.0" width="1.7" height="1.7"/><rect x="617.6" y="127.0" width="1.7" height="1.7"/><rect x="607.3" y="128.8" width="1.7" height="1.7"/><rect x="609.8" y="128.7" width="1.7" height="1.7"/><rect x="612.5" y="128.8" width="1.7" height="1.7"/><rect x="617.7" y="130.6" width="1.7" height="1.7"/><rect x="609.8" y="132.4" width="1.7" height="1.7"/><rect x="612.5" y="132.3" width="1.7" height="1.7"/><rect x="615.1" y="132.3" width="1.7" height="1.7"/><rect x="620.2" y="132.4" width="1.7" height="1.7"/><rect x="607.2" y="134.1" width="1.7" height="1.7"/><rect x="609.9" y="134.1" width="1.7" height="1.7"/><rect x="609.8" y="135.9" width="1.7" height="1.7"/><rect x="615.1" y="135.9" width="1.7" height="1.7"/><rect x="620.2" y="135.9" width="1.7" height="1.7"/><rect x="607.3" y="137.8" width="1.7" height="1.7"/><rect x="612.4" y="137.7" width="1.7" height="1.7"/><rect x="615.1" y="137.8" width="1.7" height="1.7"/><rect x="617.6" y="137.8" width="1.7" height="1.7"/><rect x="604.6" y="139.5" width="1.7" height="1.7"/><rect x="607.3" y="139.5" width="1.7" height="1.7"/><rect x="609.8" y="139.5" width="1.7" height="1.7"/><rect x="612.5" y="139.5" width="1.7" height="1.7"/><rect x="617.6" y="139.5" width="1.7" height="1.7"/><rect x="607.2" y="141.4" width="1.7" height="1.7"/><rect x="609.9" y="141.4" width="1.7" height="1.7"/><rect x="615.1" y="141.4" width="1.7" height="1.7"/><rect x="617.7" y="141.4" width="1.7" height="1.7"/><rect x="609.9" y="143.2" width="1.7" height="1.7"/><rect x="612.5" y="143.1" width="1.7" height="1.7"/><rect x="612.4" y="144.9" width="1.7" height="1.7"/><rect x="617.6" y="144.9" width="1.7" height="1.7"/><rect x="620.2" y="144.9" width="1.7" height="1.7"/><rect x="604.7" y="146.7" width="1.7" height="1.7"/><rect x="607.2" y="146.8" width="1.7" height="1.7"/><rect x="609.9" y="146.7" width="1.7" height="1.7"/><rect x="612.5" y="146.7" width="1.7" height="1.7"/><rect x="615.1" y="146.8" width="1.7" height="1.7"/><rect x="617.7" y="146.8" width="1.7" height="1.7"/><rect x="620.2" y="146.8" width="1.7" height="1.7"/><rect x="604.6" y="148.6" width="1.7" height="1.7"/><rect x="617.7" y="148.5" width="1.7" height="1.7"/><rect x="612.5" y="150.4" width="1.7" height="1.7"/></g>
<g fill="#248c49"><rect x="650.7" y="28.1" width="1.7" height="1.7"/><rect x="650.7" y="29.9" width="1.7" height="1.7"/><rect x="650.6" y="31.8" width="1.7" height="1.7"/><rect x="650.6" y="35.3" width="1.7" height="1.7"/><rect x="653.3" y="37.1" width="1.7" height="1.7"/><rect x="648.0" y="39.0" width="1.7" height="1.7"/><rect x="650.7" y="39.0" width="1.7" height="1.7"/><rect x="653.2" y="38.9" width="1.7" height="1.7"/><rect x="648.0" y="40.7" width="1.7" height="1.7"/><rect x="650.6" y="40.7" width="1.7" height="1.7"/><rect x="648.0" y="42.5" width="1.7" height="1.7"/><rect x="650.7" y="42.6" width="1.7" height="1.7"/><rect x="650.6" y="44.4" width="1.7" height="1.7"/><rect x="653.2" y="44.3" width="1.7" height="1.7"/><rect x="648.0" y="46.2" width="1.7" height="1.7"/><rect x="650.7" y="46.1" width="1.7" height="1.7"/><rect x="653.2" y="46.2" width="1.7" height="1.7"/><rect x="655.8" y="46.2" width="1.7" height="1.7"/><rect x="645.5" y="48.0" width="1.7" height="1.7"/><rect x="648.0" y="49.8" width="1.7" height="1.7"/><rect x="653.2" y="49.7" width="1.7" height="1.7"/><rect x="645.5" y="51.5" width="1.7" height="1.7"/><rect x="648.1" y="51.5" width="1.7" height="1.7"/><rect x="650.6" y="51.6" width="1.7" height="1.7"/><rect x="653.2" y="51.6" width="1.7" height="1.7"/><rect x="655.8" y="51.6" width="1.7" height="1.7"/><rect x="648.0" y="53.3" width="1.7" height="1.7"/><rect x="653.2" y="53.4" width="1.7" height="1.7"/><rect x="648.1" y="55.2" width="1.7" height="1.7"/><rect x="650.6" y="55.1" width="1.7" height="1.7"/><rect x="653.3" y="55.1" width="1.7" height="1.7"/><rect x="648.0" y="57.0" width="1.7" height="1.7"/><rect x="650.6" y="57.0" width="1.7" height="1.7"/><rect x="648.1" y="58.8" width="1.7" height="1.7"/><rect x="658.4" y="60.6" width="1.7" height="1.7"/><rect x="642.9" y="62.3" width="1.7" height="1.7"/><rect x="648.1" y="62.3" width="1.7" height="1.7"/><rect x="653.3" y="62.3" width="1.7" height="1.7"/><rect x="655.8" y="62.4" width="1.7" height="1.7"/><rect x="640.3" y="64.1" width="1.7" height="1.7"/><rect x="642.9" y="64.2" width="1.7" height="1.7"/><rect x="650.7" y="64.2" width="1.7" height="1.7"/><rect x="655.8" y="64.2" width="1.7" height="1.7"/><rect x="658.4" y="64.1" width="1.7" height="1.7"/><rect x="661.1" y="64.2" width="1.7" height="1.7"/><rect x="645.4" y="65.9" width="1.7" height="1.7"/><rect x="648.0" y="65.9" width="1.7" height="1.7"/><rect x="650.7" y="65.9" width="1.7" height="1.7"/><rect x="645.4" y="67.7" width="1.7" height="1.7"/><rect x="648.1" y="67.8" width="1.7" height="1.7"/><rect x="653.3" y="67.8" width="1.7" height="1.7"/><rect x="648.1" y="69.6" width="1.7" height="1.7"/><rect x="650.6" y="69.6" width="1.7" height="1.7"/><rect x="655.8" y="69.5" width="1.7" height="1.7"/><rect x="648.1" y="71.3" width="1.7" height="1.7"/><rect x="650.7" y="71.3" width="1.7" height="1.7"/><rect x="653.2" y="71.4" width="1.7" height="1.7"/><rect x="655.9" y="71.4" width="1.7" height="1.7"/><rect x="648.0" y="73.2" width="1.7" height="1.7"/><rect x="650.6" y="73.1" width="1.7" height="1.7"/><rect x="653.3" y="73.1" width="1.7" height="1.7"/><rect x="655.8" y="73.2" width="1.7" height="1.7"/><rect x="648.0" y="74.9" width="1.7" height="1.7"/><rect x="650.7" y="75.0" width="1.7" height="1.7"/><rect x="653.3" y="75.0" width="1.7" height="1.7"/><rect x="655.9" y="74.9" width="1.7" height="1.7"/><rect x="645.4" y="76.8" width="1.7" height="1.7"/><rect x="648.0" y="76.7" width="1.7" height="1.7"/><rect x="650.7" y="76.8" width="1.7" height="1.7"/><rect x="655.8" y="76.7" width="1.7" height="1.7"/><rect x="650.7" y="78.6" width="1.7" height="1.7"/><rect x="653.2" y="78.6" width="1.7" height="1.7"/><rect x="655.8" y="78.6" width="1.7" height="1.7"/><rect x="648.1" y="80.4" width="1.7" height="1.7"/><rect x="650.7" y="80.4" width="1.7" height="1.7"/><rect x="655.9" y="80.3" width="1.7" height="1.7"/><rect x="648.0" y="82.2" width="1.7" height="1.7"/><rect x="650.7" y="82.1" width="1.7" height="1.7"/><rect x="655.8" y="82.1" width="1.7" height="1.7"/><rect x="645.4" y="84.0" width="1.7" height="1.7"/><rect x="648.1" y="84.0" width="1.7" height="1.7"/><rect x="650.6" y="83.9" width="1.7" height="1.7"/><rect x="655.9" y="84.0" width="1.7" height="1.7"/><rect x="648.1" y="85.7" width="1.7" height="1.7"/><rect x="650.6" y="85.7" width="1.7" height="1.7"/><rect x="653.2" y="85.7" width="1.7" height="1.7"/><rect x="655.8" y="85.8" width="1.7" height="1.7"/><rect x="648.0" y="87.6" width="1.7" height="1.7"/><rect x="653.2" y="87.6" width="1.7" height="1.7"/><rect x="655.8" y="87.5" width="1.7" height="1.7"/><rect x="648.0" y="89.4" width="1.7" height="1.7"/><rect x="650.7" y="89.3" width="1.7" height="1.7"/><rect x="653.3" y="89.4" width="1.7" height="1.7"/><rect x="645.4" y="91.1" width="1.7" height="1.7"/><rect x="648.1" y="91.1" width="1.7" height="1.7"/><rect x="650.7" y="91.1" width="1.7" height="1.7"/><rect x="653.2" y="91.1" width="1.7" height="1.7"/><rect x="645.4" y="93.0" width="1.7" height="1.7"/><rect x="650.7" y="92.9" width="1.7" height="1.7"/><rect x="653.3" y="92.9" width="1.7" height="1.7"/><rect x="653.2" y="94.8" width="1.7" height="1.7"/><rect x="655.8" y="94.7" width="1.7" height="1.7"/><rect x="648.1" y="96.5" width="1.7" height="1.7"/><rect x="650.6" y="96.5" width="1.7" height="1.7"/><rect x="648.1" y="98.4" width="1.7" height="1.7"/><rect x="650.6" y="98.3" width="1.7" height="1.7"/><rect x="655.8" y="98.4" width="1.7" height="1.7"/><rect x="642.8" y="100.1" width="1.7" height="1.7"/><rect x="650.7" y="100.1" width="1.7" height="1.7"/><rect x="653.3" y="100.1" width="1.7" height="1.7"/><rect x="655.9" y="100.1" width="1.7" height="1.7"/><rect x="658.5" y="100.1" width="1.7" height="1.7"/><rect x="642.8" y="102.0" width="1.7" height="1.7"/><rect x="648.0" y="101.9" width="1.7" height="1.7"/><rect x="650.6" y="101.9" width="1.7" height="1.7"/><rect x="645.5" y="103.8" width="1.7" height="1.7"/><rect x="648.0" y="103.7" width="1.7" height="1.7"/><rect x="650.7" y="103.8" width="1.7" height="1.7"/><rect x="653.3" y="103.7" width="1.7" height="1.7"/><rect x="645.5" y="105.5" width="1.7" height="1.7"/><rect x="648.1" y="105.6" width="1.7" height="1.7"/><rect x="650.7" y="105.6" width="1.7" height="1.7"/><rect x="653.2" y="105.6" width="1.7" height="1.7"/><rect x="655.9" y="105.5" width="1.7" height="1.7"/><rect x="642.9" y="107.4" width="1.7" height="1.7"/><rect x="645.4" y="107.3" width="1.7" height="1.7"/><rect x="650.6" y="107.4" width="1.7" height="1.7"/><rect x="653.3" y="107.4" width="1.7" height="1.7"/><rect x="655.9" y="107.3" width="1.7" height="1.7"/><rect x="645.5" y="109.2" width="1.7" height="1.7"/><rect x="650.7" y="109.1" width="1.7" height="1.7"/><rect x="653.2" y="109.1" width="1.7" height="1.7"/><rect x="658.5" y="109.1" width="1.7" height="1.7"/><rect x="650.6" y="110.9" width="1.7" height="1.7"/><rect x="653.3" y="111.0" width="1.7" height="1.7"/><rect x="655.9" y="111.0" width="1.7" height="1.7"/><rect x="642.9" y="112.8" width="1.7" height="1.7"/><rect x="645.4" y="112.8" width="1.7" height="1.7"/><rect x="648.1" y="112.7" width="1.7" height="1.7"/><rect x="650.6" y="112.7" width="1.7" height="1.7"/><rect x="653.2" y="112.8" width="1.7" height="1.7"/><rect x="655.9" y="112.7" width="1.7" height="1.7"/><rect x="658.5" y="112.8" width="1.7" height="1.7"/><rect x="650.6" y="114.6" width="1.7" height="1.7"/><rect x="653.3" y="114.5" width="1.7" height="1.7"/><rect x="642.8" y="116.4" width="1.7" height="1.7"/><rect x="645.5" y="116.3" width="1.7" height="1.7"/><rect x="648.0" y="116.3" width="1.7" height="1.7"/><rect x="653.2" y="116.4" width="1.7" height="1.7"/><rect x="655.9" y="116.4" width="1.7" height="1.7"/><rect x="648.0" y="118.1" width="1.7" height="1.7"/><rect x="653.3" y="118.1" width="1.7" height="1.7"/><rect x="658.4" y="118.1" width="1.7" height="1.7"/><rect x="642.9" y="119.9" width="1.7" height="1.7"/><rect x="645.4" y="119.9" width="1.7" height="1.7"/><rect x="648.1" y="120.0" width="1.7" height="1.7"/><rect x="653.2" y="119.9" width="1.7" height="1.7"/><rect x="655.9" y="119.9" width="1.7" height="1.7"/><rect x="642.9" y="121.8" width="1.7" height="1.7"/><rect x="645.4" y="121.8" width="1.7" height="1.7"/><rect x="648.1" y="121.7" width="1.7" height="1.7"/><rect x="650.6" y="121.7" width="1.7" height="1.7"/><rect x="653.2" y="121.8" width="1.7" height="1.7"/><rect x="655.9" y="121.7" width="1.7" height="1.7"/><rect x="645.4" y="123.6" width="1.7" height="1.7"/><rect x="648.1" y="123.5" width="1.7" height="1.7"/><rect x="655.8" y="123.5" width="1.7" height="1.7"/><rect x="648.0" y="125.4" width="1.7" height="1.7"/><rect x="650.7" y="125.3" width="1.7" height="1.7"/><rect x="653.3" y="125.4" width="1.7" height="1.7"/><rect x="650.6" y="127.1" width="1.7" height="1.7"/><rect x="653.3" y="127.2" width="1.7" height="1.7"/><rect x="658.4" y="127.1" width="1.7" height="1.7"/><rect x="642.8" y="129.0" width="1.7" height="1.7"/><rect x="645.4" y="128.9" width="1.7" height="1.7"/><rect x="648.0" y="129.0" width="1.7" height="1.7"/><rect x="653.3" y="129.0" width="1.7" height="1.7"/><rect x="655.9" y="128.9" width="1.7" height="1.7"/><rect x="642.8" y="130.7" width="1.7" height="1.7"/><rect x="645.4" y="130.8" width="1.7" height="1.7"/><rect x="650.7" y="130.7" width="1.7" height="1.7"/><rect x="653.2" y="130.7" width="1.7" height="1.7"/><rect x="658.5" y="130.8" width="1.7" height="1.7"/><rect x="645.5" y="132.6" width="1.7" height="1.7"/><rect x="648.0" y="132.6" width="1.7" height="1.7"/><rect x="653.3" y="132.5" width="1.7" height="1.7"/><rect x="648.0" y="134.3" width="1.7" height="1.7"/><rect x="645.5" y="136.2" width="1.7" height="1.7"/><rect x="648.0" y="136.1" width="1.7" height="1.7"/><rect x="650.6" y="136.2" width="1.7" height="1.7"/><rect x="653.2" y="136.1" width="1.7" height="1.7"/><rect x="655.9" y="136.2" width="1.7" height="1.7"/><rect x="648.0" y="137.9" width="1.7" height="1.7"/><rect x="650.6" y="138.0" width="1.7" height="1.7"/><rect x="653.2" y="137.9" width="1.7" height="1.7"/><rect x="655.9" y="138.0" width="1.7" height="1.7"/><rect x="645.4" y="139.8" width="1.7" height="1.7"/><rect x="648.0" y="139.7" width="1.7" height="1.7"/><rect x="650.7" y="139.8" width="1.7" height="1.7"/><rect x="655.8" y="139.7" width="1.7" height="1.7"/><rect x="648.0" y="141.5" width="1.7" height="1.7"/><rect x="650.6" y="141.5" width="1.7" height="1.7"/><rect x="653.3" y="141.5" width="1.7" height="1.7"/><rect x="648.1" y="143.3" width="1.7" height="1.7"/><rect x="653.2" y="143.3" width="1.7" height="1.7"/><rect x="645.5" y="145.2" width="1.7" height="1.7"/><rect x="648.1" y="145.2" width="1.7" height="1.7"/><rect x="650.6" y="145.2" width="1.7" height="1.7"/><rect x="648.1" y="147.0" width="1.7" height="1.7"/><rect x="650.7" y="147.0" width="1.7" height="1.7"/><rect x="645.4" y="148.7" width="1.7" height="1.7"/><rect x="655.9" y="148.7" width="1.7" height="1.7"/><rect x="645.4" y="150.6" width="1.7" height="1.7"/><rect x="653.3" y="150.6" width="1.7" height="1.7"/><rect x="650.7" y="152.3" width="1.7" height="1.7"/></g>
<line x1="613.10" y1="102.40" x2="613.10" y2="107.00" stroke="#000" stroke-width="1.0"/>
<line x1="607.10" y1="102.40" x2="619.10" y2="102.40" stroke="#000" stroke-width="1.0"/>
<line x1="607.10" y1="107.00" x2="619.10" y2="107.00" stroke="#000" stroke-width="1.0"/>
<line x1="600.30" y1="104.70" x2="625.90" y2="104.70" stroke="#000" stroke-width="1.5"/>
<line x1="652.15" y1="99.20" x2="652.15" y2="103.80" stroke="#000" stroke-width="1.0"/>
<line x1="646.15" y1="99.20" x2="658.15" y2="99.20" stroke="#000" stroke-width="1.0"/>
<line x1="646.15" y1="103.80" x2="658.15" y2="103.80" stroke="#000" stroke-width="1.0"/>
<line x1="639.00" y1="101.50" x2="665.30" y2="101.50" stroke="#000" stroke-width="1.5"/>
<line x1="587.10" y1="20.85" x2="587.10" y2="158.85" stroke="#000" stroke-width="1.3"/>
<line x1="586.45" y1="158.20" x2="678.40" y2="158.20" stroke="#000" stroke-width="1.3"/>
<line x1="581.30" y1="158.20" x2="587.10" y2="158.20" stroke="#000" stroke-width="1.3"/>
<text x="580.00" y="161.65" font-size="9.8" font-weight="bold" text-anchor="end" fill="#231f20">0.0</text>
<line x1="581.30" y1="130.86" x2="587.10" y2="130.86" stroke="#000" stroke-width="1.3"/>
<text x="580.00" y="134.31" font-size="9.8" font-weight="bold" text-anchor="end" fill="#231f20">0.2</text>
<line x1="581.30" y1="103.52" x2="587.10" y2="103.52" stroke="#000" stroke-width="1.3"/>
<text x="580.00" y="106.97" font-size="9.8" font-weight="bold" text-anchor="end" fill="#231f20">0.4</text>
<line x1="581.30" y1="76.18" x2="587.10" y2="76.18" stroke="#000" stroke-width="1.3"/>
<text x="580.00" y="79.63" font-size="9.8" font-weight="bold" text-anchor="end" fill="#231f20">0.6</text>
<line x1="581.30" y1="48.84" x2="587.10" y2="48.84" stroke="#000" stroke-width="1.3"/>
<text x="580.00" y="52.29" font-size="9.8" font-weight="bold" text-anchor="end" fill="#231f20">0.8</text>
<line x1="581.30" y1="21.50" x2="587.10" y2="21.50" stroke="#000" stroke-width="1.3"/>
<text x="580.00" y="24.95" font-size="9.8" font-weight="bold" text-anchor="end" fill="#231f20">1.0</text>
<line x1="612.70" y1="158.20" x2="612.70" y2="164.00" stroke="#000" stroke-width="1.3"/>
<line x1="652.10" y1="158.20" x2="652.10" y2="164.00" stroke="#000" stroke-width="1.3"/>
<text x="592.40" y="174.60" font-size="10" font-weight="bold" text-anchor="start" fill="#231f20" textLength="41.6" lengthAdjust="spacingAndGlyphs">Baseline</text>
<text x="641.20" y="174.60" font-size="10" font-weight="bold" text-anchor="start" fill="#231f20" textLength="21.9" lengthAdjust="spacingAndGlyphs">CNO</text>
<text transform="translate(558.92,88.70) rotate(-90)" font-size="11.5" font-weight="bold" text-anchor="middle" fill="#000" textLength="69.0" lengthAdjust="spacingAndGlyphs">Tuning Index</text>
<text x="393.60" y="205.30" font-size="23" font-weight="bold" text-anchor="start" fill="#231f20">l</text>
<g fill="#6899d3"><circle cx="465.4" cy="194.4" r="1.08"/><circle cx="468.5" cy="194.0" r="1.08"/><circle cx="458.8" cy="196.0" r="1.08"/><circle cx="460.9" cy="196.1" r="1.08"/><circle cx="462.4" cy="195.9" r="1.08"/><circle cx="464.3" cy="195.8" r="1.08"/><circle cx="466.2" cy="195.9" r="1.08"/><circle cx="471.1" cy="195.8" r="1.08"/><circle cx="473.1" cy="196.0" r="1.08"/><circle cx="474.5" cy="195.9" r="1.08"/><circle cx="475.4" cy="195.8" r="1.08"/><circle cx="458.2" cy="197.9" r="1.08"/><circle cx="459.7" cy="197.6" r="1.08"/><circle cx="461.7" cy="197.7" r="1.08"/><circle cx="463.2" cy="197.8" r="1.08"/><circle cx="465.2" cy="197.8" r="1.08"/><circle cx="468.5" cy="197.7" r="1.08"/><circle cx="470.4" cy="197.7" r="1.08"/><circle cx="472.0" cy="197.9" r="1.08"/><circle cx="475.6" cy="197.5" r="1.08"/><circle cx="457.1" cy="199.5" r="1.08"/><circle cx="459.0" cy="199.6" r="1.08"/><circle cx="460.8" cy="199.4" r="1.08"/><circle cx="462.7" cy="199.4" r="1.08"/><circle cx="466.0" cy="199.5" r="1.08"/><circle cx="467.9" cy="199.3" r="1.08"/><circle cx="469.5" cy="199.2" r="1.08"/><circle cx="471.3" cy="199.5" r="1.08"/><circle cx="474.8" cy="199.4" r="1.08"/><circle cx="476.4" cy="199.3" r="1.08"/><circle cx="460.0" cy="201.2" r="1.08"/><circle cx="461.8" cy="201.0" r="1.08"/><circle cx="463.3" cy="201.3" r="1.08"/><circle cx="465.4" cy="201.0" r="1.08"/><circle cx="466.9" cy="201.3" r="1.08"/><circle cx="468.5" cy="201.3" r="1.08"/><circle cx="470.4" cy="201.4" r="1.08"/><circle cx="472.1" cy="201.2" r="1.08"/><circle cx="474.1" cy="201.0" r="1.08"/><circle cx="461.0" cy="202.9" r="1.08"/><circle cx="462.7" cy="202.8" r="1.08"/><circle cx="464.0" cy="202.8" r="1.08"/><circle cx="466.1" cy="202.8" r="1.08"/><circle cx="467.8" cy="203.0" r="1.08"/><circle cx="471.0" cy="202.7" r="1.08"/><circle cx="473.8" cy="203.0" r="1.08"/><circle cx="459.8" cy="204.9" r="1.08"/><circle cx="461.5" cy="204.9" r="1.08"/><circle cx="463.6" cy="204.8" r="1.08"/><circle cx="465.2" cy="204.7" r="1.08"/><circle cx="466.7" cy="204.6" r="1.08"/><circle cx="468.8" cy="204.8" r="1.08"/><circle cx="470.3" cy="204.8" r="1.08"/><circle cx="472.3" cy="204.6" r="1.08"/><circle cx="473.8" cy="204.6" r="1.08"/><circle cx="462.5" cy="206.2" r="1.08"/><circle cx="466.2" cy="206.6" r="1.08"/><circle cx="467.7" cy="206.5" r="1.08"/><circle cx="471.5" cy="206.5" r="1.08"/><circle cx="472.1" cy="206.5" r="1.08"/><circle cx="461.9" cy="208.1" r="1.08"/><circle cx="463.2" cy="208.1" r="1.08"/><circle cx="464.9" cy="208.4" r="1.08"/><circle cx="466.8" cy="208.2" r="1.08"/><circle cx="468.4" cy="208.4" r="1.08"/><circle cx="470.4" cy="208.0" r="1.08"/><circle cx="472.0" cy="208.0" r="1.08"/><circle cx="464.4" cy="209.9" r="1.08"/><circle cx="466.0" cy="210.1" r="1.08"/><circle cx="467.7" cy="210.0" r="1.08"/><circle cx="469.7" cy="209.9" r="1.08"/><circle cx="471.3" cy="209.7" r="1.08"/><circle cx="472.3" cy="210.0" r="1.08"/><circle cx="465.3" cy="211.5" r="1.08"/><circle cx="466.9" cy="211.7" r="1.08"/><circle cx="468.7" cy="211.7" r="1.08"/><circle cx="470.2" cy="211.5" r="1.08"/><circle cx="462.7" cy="213.5" r="1.08"/><circle cx="464.3" cy="213.5" r="1.08"/><circle cx="466.3" cy="213.7" r="1.08"/><circle cx="467.7" cy="213.3" r="1.08"/><circle cx="461.5" cy="215.0" r="1.08"/><circle cx="463.4" cy="215.4" r="1.08"/><circle cx="466.7" cy="215.2" r="1.08"/><circle cx="470.5" cy="215.2" r="1.08"/><circle cx="472.1" cy="215.1" r="1.08"/><circle cx="462.7" cy="217.1" r="1.08"/><circle cx="464.1" cy="216.7" r="1.08"/><circle cx="465.8" cy="217.1" r="1.08"/><circle cx="467.9" cy="217.1" r="1.08"/><circle cx="469.4" cy="216.8" r="1.08"/><circle cx="471.5" cy="217.1" r="1.08"/><circle cx="461.4" cy="218.8" r="1.08"/><circle cx="468.8" cy="218.6" r="1.08"/><circle cx="470.2" cy="218.5" r="1.08"/><circle cx="472.1" cy="218.8" r="1.08"/><circle cx="460.6" cy="220.3" r="1.08"/><circle cx="462.3" cy="220.3" r="1.08"/><circle cx="466.1" cy="220.2" r="1.08"/><circle cx="467.9" cy="220.6" r="1.08"/><circle cx="469.5" cy="220.5" r="1.08"/><circle cx="471.3" cy="220.2" r="1.08"/><circle cx="472.9" cy="220.4" r="1.08"/><circle cx="463.3" cy="222.0" r="1.08"/><circle cx="465.3" cy="222.0" r="1.08"/><circle cx="466.8" cy="222.0" r="1.08"/><circle cx="468.6" cy="222.3" r="1.08"/><circle cx="470.3" cy="222.3" r="1.08"/><circle cx="472.3" cy="222.3" r="1.08"/><circle cx="462.3" cy="223.9" r="1.08"/><circle cx="467.9" cy="224.2" r="1.08"/><circle cx="469.7" cy="224.2" r="1.08"/><circle cx="471.1" cy="224.0" r="1.08"/><circle cx="461.5" cy="225.8" r="1.08"/><circle cx="463.6" cy="225.9" r="1.08"/><circle cx="467.1" cy="225.5" r="1.08"/><circle cx="468.5" cy="225.7" r="1.08"/><circle cx="472.3" cy="225.9" r="1.08"/><circle cx="464.4" cy="227.3" r="1.08"/><circle cx="466.1" cy="227.6" r="1.08"/><circle cx="467.8" cy="227.4" r="1.08"/><circle cx="469.5" cy="227.4" r="1.08"/><circle cx="471.3" cy="227.6" r="1.08"/><circle cx="471.9" cy="227.4" r="1.08"/><circle cx="461.7" cy="229.1" r="1.08"/><circle cx="463.4" cy="229.2" r="1.08"/><circle cx="465.4" cy="229.2" r="1.08"/><circle cx="467.0" cy="229.0" r="1.08"/><circle cx="468.6" cy="229.2" r="1.08"/><circle cx="470.2" cy="229.3" r="1.08"/><circle cx="460.7" cy="231.0" r="1.08"/><circle cx="462.7" cy="231.0" r="1.08"/><circle cx="464.1" cy="231.0" r="1.08"/><circle cx="465.8" cy="230.8" r="1.08"/><circle cx="469.4" cy="231.1" r="1.08"/><circle cx="471.1" cy="231.0" r="1.08"/><circle cx="474.1" cy="231.0" r="1.08"/><circle cx="459.8" cy="232.8" r="1.08"/><circle cx="461.8" cy="232.7" r="1.08"/><circle cx="463.4" cy="232.6" r="1.08"/><circle cx="465.2" cy="232.8" r="1.08"/><circle cx="466.7" cy="232.9" r="1.08"/><circle cx="468.5" cy="232.8" r="1.08"/><circle cx="470.2" cy="232.9" r="1.08"/><circle cx="472.2" cy="232.6" r="1.08"/><circle cx="474.1" cy="232.5" r="1.08"/><circle cx="460.9" cy="234.5" r="1.08"/><circle cx="462.5" cy="234.3" r="1.08"/><circle cx="464.1" cy="234.2" r="1.08"/><circle cx="469.4" cy="234.6" r="1.08"/><circle cx="471.5" cy="234.5" r="1.08"/><circle cx="473.1" cy="234.6" r="1.08"/><circle cx="458.0" cy="236.0" r="1.08"/><circle cx="459.9" cy="236.1" r="1.08"/><circle cx="461.5" cy="236.0" r="1.08"/><circle cx="463.4" cy="236.2" r="1.08"/><circle cx="465.1" cy="236.3" r="1.08"/><circle cx="467.1" cy="236.3" r="1.08"/><circle cx="468.6" cy="236.2" r="1.08"/><circle cx="470.5" cy="236.4" r="1.08"/><circle cx="472.0" cy="236.3" r="1.08"/><circle cx="474.1" cy="236.1" r="1.08"/><circle cx="475.6" cy="236.3" r="1.08"/><circle cx="457.1" cy="238.2" r="1.08"/><circle cx="458.8" cy="238.1" r="1.08"/><circle cx="462.3" cy="237.9" r="1.08"/><circle cx="464.5" cy="237.9" r="1.08"/><circle cx="466.0" cy="237.9" r="1.08"/><circle cx="467.5" cy="237.9" r="1.08"/><circle cx="469.8" cy="238.0" r="1.08"/><circle cx="473.2" cy="237.8" r="1.08"/><circle cx="474.7" cy="238.0" r="1.08"/><circle cx="476.3" cy="238.0" r="1.08"/><circle cx="477.4" cy="237.8" r="1.08"/><circle cx="454.5" cy="239.5" r="1.08"/><circle cx="456.2" cy="239.9" r="1.08"/><circle cx="458.0" cy="239.7" r="1.08"/><circle cx="459.8" cy="239.5" r="1.08"/><circle cx="461.8" cy="239.6" r="1.08"/><circle cx="463.5" cy="239.9" r="1.08"/><circle cx="465.2" cy="239.5" r="1.08"/><circle cx="467.0" cy="239.7" r="1.08"/><circle cx="470.2" cy="239.7" r="1.08"/><circle cx="471.9" cy="239.8" r="1.08"/><circle cx="473.7" cy="239.9" r="1.08"/><circle cx="475.7" cy="239.7" r="1.08"/><circle cx="477.6" cy="239.9" r="1.08"/><circle cx="479.3" cy="239.5" r="1.08"/><circle cx="459.2" cy="241.6" r="1.08"/><circle cx="460.9" cy="241.6" r="1.08"/><circle cx="462.6" cy="241.6" r="1.08"/><circle cx="464.4" cy="241.2" r="1.08"/><circle cx="466.1" cy="241.7" r="1.08"/><circle cx="467.7" cy="241.7" r="1.08"/><circle cx="469.6" cy="241.6" r="1.08"/><circle cx="473.2" cy="241.6" r="1.08"/><circle cx="475.0" cy="241.2" r="1.08"/><circle cx="457.9" cy="243.0" r="1.08"/><circle cx="459.8" cy="243.2" r="1.08"/><circle cx="463.5" cy="243.3" r="1.08"/><circle cx="465.2" cy="243.2" r="1.08"/><circle cx="466.8" cy="243.1" r="1.08"/><circle cx="468.7" cy="243.0" r="1.08"/><circle cx="470.5" cy="243.1" r="1.08"/><circle cx="472.1" cy="243.2" r="1.08"/><circle cx="473.8" cy="243.2" r="1.08"/><circle cx="460.9" cy="245.1" r="1.08"/><circle cx="465.9" cy="244.9" r="1.08"/><circle cx="467.6" cy="244.8" r="1.08"/><circle cx="469.4" cy="244.9" r="1.08"/><circle cx="471.4" cy="245.1" r="1.08"/><circle cx="473.2" cy="244.7" r="1.08"/><circle cx="473.9" cy="245.0" r="1.08"/><circle cx="459.9" cy="246.6" r="1.08"/><circle cx="461.7" cy="246.7" r="1.08"/><circle cx="463.4" cy="246.5" r="1.08"/><circle cx="465.4" cy="246.8" r="1.08"/><circle cx="466.9" cy="246.8" r="1.08"/><circle cx="468.7" cy="246.5" r="1.08"/><circle cx="474.0" cy="246.5" r="1.08"/><circle cx="460.8" cy="248.5" r="1.08"/><circle cx="462.5" cy="248.7" r="1.08"/><circle cx="466.0" cy="248.4" r="1.08"/><circle cx="468.0" cy="248.7" r="1.08"/><circle cx="469.4" cy="248.7" r="1.08"/><circle cx="473.0" cy="248.6" r="1.08"/><circle cx="474.0" cy="248.6" r="1.08"/><circle cx="458.2" cy="250.1" r="1.08"/><circle cx="460.1" cy="250.1" r="1.08"/><circle cx="461.5" cy="250.0" r="1.08"/><circle cx="463.4" cy="250.2" r="1.08"/><circle cx="467.1" cy="250.3" r="1.08"/><circle cx="468.5" cy="250.4" r="1.08"/><circle cx="472.3" cy="250.2" r="1.08"/><circle cx="474.0" cy="250.4" r="1.08"/><circle cx="475.8" cy="250.1" r="1.08"/><circle cx="458.8" cy="251.8" r="1.08"/><circle cx="460.8" cy="252.0" r="1.08"/><circle cx="462.6" cy="252.2" r="1.08"/><circle cx="464.2" cy="251.7" r="1.08"/><circle cx="466.2" cy="252.0" r="1.08"/><circle cx="467.8" cy="251.9" r="1.08"/><circle cx="469.7" cy="251.7" r="1.08"/><circle cx="471.3" cy="252.0" r="1.08"/><circle cx="473.2" cy="252.0" r="1.08"/><circle cx="474.9" cy="251.8" r="1.08"/><circle cx="475.7" cy="252.1" r="1.08"/><circle cx="456.5" cy="253.9" r="1.08"/><circle cx="458.0" cy="253.9" r="1.08"/><circle cx="459.7" cy="253.9" r="1.08"/><circle cx="461.6" cy="253.5" r="1.08"/><circle cx="464.9" cy="253.5" r="1.08"/><circle cx="466.9" cy="253.8" r="1.08"/><circle cx="468.8" cy="253.7" r="1.08"/><circle cx="470.5" cy="253.5" r="1.08"/><circle cx="474.0" cy="253.9" r="1.08"/><circle cx="475.8" cy="253.9" r="1.08"/><circle cx="477.2" cy="253.8" r="1.08"/><circle cx="458.9" cy="255.6" r="1.08"/><circle cx="460.5" cy="255.4" r="1.08"/><circle cx="462.5" cy="255.3" r="1.08"/><circle cx="464.4" cy="255.5" r="1.08"/><circle cx="465.8" cy="255.4" r="1.08"/><circle cx="468.0" cy="255.6" r="1.08"/><circle cx="471.3" cy="255.2" r="1.08"/><circle cx="472.9" cy="255.2" r="1.08"/><circle cx="474.9" cy="255.4" r="1.08"/><circle cx="475.5" cy="255.4" r="1.08"/><circle cx="456.5" cy="257.1" r="1.08"/><circle cx="458.3" cy="257.3" r="1.08"/><circle cx="460.0" cy="257.4" r="1.08"/><circle cx="463.2" cy="257.4" r="1.08"/><circle cx="465.2" cy="257.1" r="1.08"/><circle cx="467.0" cy="257.4" r="1.08"/><circle cx="468.9" cy="257.1" r="1.08"/><circle cx="472.0" cy="257.4" r="1.08"/><circle cx="473.8" cy="257.1" r="1.08"/><circle cx="475.8" cy="257.2" r="1.08"/><circle cx="477.3" cy="257.4" r="1.08"/><circle cx="453.7" cy="259.1" r="1.08"/><circle cx="455.5" cy="258.9" r="1.08"/><circle cx="457.3" cy="259.0" r="1.08"/><circle cx="460.9" cy="259.0" r="1.08"/><circle cx="462.5" cy="259.0" r="1.08"/><circle cx="466.1" cy="258.9" r="1.08"/><circle cx="467.6" cy="258.9" r="1.08"/><circle cx="469.6" cy="258.8" r="1.08"/><circle cx="471.3" cy="259.0" r="1.08"/><circle cx="476.4" cy="259.1" r="1.08"/><circle cx="478.2" cy="258.9" r="1.08"/><circle cx="480.0" cy="259.2" r="1.08"/><circle cx="480.8" cy="259.0" r="1.08"/><circle cx="453.1" cy="260.5" r="1.08"/><circle cx="454.6" cy="260.8" r="1.08"/><circle cx="456.3" cy="260.6" r="1.08"/><circle cx="458.1" cy="260.7" r="1.08"/><circle cx="460.0" cy="260.5" r="1.08"/><circle cx="461.8" cy="260.5" r="1.08"/><circle cx="463.4" cy="260.8" r="1.08"/><circle cx="465.1" cy="260.8" r="1.08"/><circle cx="466.8" cy="260.8" r="1.08"/><circle cx="468.4" cy="260.7" r="1.08"/><circle cx="470.2" cy="260.5" r="1.08"/><circle cx="472.3" cy="260.5" r="1.08"/><circle cx="475.8" cy="260.8" r="1.08"/><circle cx="477.5" cy="260.5" r="1.08"/><circle cx="479.1" cy="260.8" r="1.08"/><circle cx="480.7" cy="260.9" r="1.08"/><circle cx="455.4" cy="262.3" r="1.08"/><circle cx="457.2" cy="262.2" r="1.08"/><circle cx="459.0" cy="262.5" r="1.08"/><circle cx="461.0" cy="262.4" r="1.08"/><circle cx="462.6" cy="262.5" r="1.08"/><circle cx="464.1" cy="262.3" r="1.08"/><circle cx="466.2" cy="262.7" r="1.08"/><circle cx="467.9" cy="262.4" r="1.08"/><circle cx="469.7" cy="262.6" r="1.08"/><circle cx="471.1" cy="262.4" r="1.08"/><circle cx="473.0" cy="262.6" r="1.08"/><circle cx="475.0" cy="262.4" r="1.08"/><circle cx="476.4" cy="262.4" r="1.08"/><circle cx="478.5" cy="262.4" r="1.08"/><circle cx="456.5" cy="264.4" r="1.08"/><circle cx="459.8" cy="264.2" r="1.08"/><circle cx="461.8" cy="264.4" r="1.08"/><circle cx="463.5" cy="264.3" r="1.08"/><circle cx="465.2" cy="264.0" r="1.08"/><circle cx="466.9" cy="264.1" r="1.08"/><circle cx="468.5" cy="264.4" r="1.08"/><circle cx="470.6" cy="264.1" r="1.08"/><circle cx="472.2" cy="264.1" r="1.08"/><circle cx="474.0" cy="264.2" r="1.08"/><circle cx="475.5" cy="264.4" r="1.08"/><circle cx="477.6" cy="264.1" r="1.08"/><circle cx="479.1" cy="264.0" r="1.08"/><circle cx="458.9" cy="266.1" r="1.08"/><circle cx="460.8" cy="266.1" r="1.08"/><circle cx="462.3" cy="265.9" r="1.08"/><circle cx="464.1" cy="266.2" r="1.08"/><circle cx="467.9" cy="266.0" r="1.08"/><circle cx="469.5" cy="265.8" r="1.08"/><circle cx="473.1" cy="266.2" r="1.08"/><circle cx="459.8" cy="267.8" r="1.08"/><circle cx="461.7" cy="267.9" r="1.08"/><circle cx="463.3" cy="267.8" r="1.08"/><circle cx="465.3" cy="267.9" r="1.08"/><circle cx="466.8" cy="267.9" r="1.08"/><circle cx="468.7" cy="267.8" r="1.08"/><circle cx="470.3" cy="267.8" r="1.08"/><circle cx="472.4" cy="267.9" r="1.08"/><circle cx="473.8" cy="267.8" r="1.08"/><circle cx="461.0" cy="269.4" r="1.08"/><circle cx="462.4" cy="269.4" r="1.08"/><circle cx="464.1" cy="269.4" r="1.08"/><circle cx="467.7" cy="269.5" r="1.08"/><circle cx="471.0" cy="269.4" r="1.08"/><circle cx="472.8" cy="269.2" r="1.08"/><circle cx="473.7" cy="269.5" r="1.08"/><circle cx="461.6" cy="271.0" r="1.08"/><circle cx="463.2" cy="271.2" r="1.08"/><circle cx="467.1" cy="271.1" r="1.08"/><circle cx="468.5" cy="271.3" r="1.08"/><circle cx="470.3" cy="271.4" r="1.08"/><circle cx="472.3" cy="271.2" r="1.08"/><circle cx="464.5" cy="273.0" r="1.08"/><circle cx="468.0" cy="273.2" r="1.08"/><circle cx="469.7" cy="272.9" r="1.08"/><circle cx="471.4" cy="272.8" r="1.08"/><circle cx="472.0" cy="272.9" r="1.08"/><circle cx="463.6" cy="274.7" r="1.08"/><circle cx="470.6" cy="274.9" r="1.08"/><circle cx="464.4" cy="276.6" r="1.08"/><circle cx="466.1" cy="276.4" r="1.08"/><circle cx="467.6" cy="276.3" r="1.08"/><circle cx="469.8" cy="276.5" r="1.08"/><circle cx="465.0" cy="278.4" r="1.08"/><circle cx="466.7" cy="278.3" r="1.08"/><circle cx="468.7" cy="278.0" r="1.08"/><circle cx="465.9" cy="279.7" r="1.08"/><circle cx="467.8" cy="280.0" r="1.08"/><circle cx="466.9" cy="284.7" r="1.08"/><circle cx="466.9" cy="288.5" r="1.08"/><circle cx="467.4" cy="292.0" r="1.08"/><circle cx="466.9" cy="297.0" r="1.08"/></g>
<g fill="#c272b3"><circle cx="502.6" cy="194.9" r="1.08"/><circle cx="504.4" cy="195.0" r="1.08"/><circle cx="507.8" cy="194.9" r="1.08"/><circle cx="509.7" cy="194.9" r="1.08"/><circle cx="511.3" cy="195.1" r="1.08"/><circle cx="499.9" cy="196.5" r="1.08"/><circle cx="501.6" cy="196.7" r="1.08"/><circle cx="503.7" cy="196.8" r="1.08"/><circle cx="505.2" cy="196.6" r="1.08"/><circle cx="510.3" cy="197.0" r="1.08"/><circle cx="512.0" cy="196.7" r="1.08"/><circle cx="513.3" cy="196.6" r="1.08"/><circle cx="499.2" cy="198.5" r="1.08"/><circle cx="504.5" cy="198.5" r="1.08"/><circle cx="507.8" cy="198.7" r="1.08"/><circle cx="509.5" cy="198.4" r="1.08"/><circle cx="511.6" cy="198.3" r="1.08"/><circle cx="513.0" cy="198.7" r="1.08"/><circle cx="498.0" cy="200.5" r="1.08"/><circle cx="500.0" cy="200.1" r="1.08"/><circle cx="501.6" cy="200.3" r="1.08"/><circle cx="503.6" cy="200.1" r="1.08"/><circle cx="505.1" cy="200.3" r="1.08"/><circle cx="507.1" cy="200.3" r="1.08"/><circle cx="508.6" cy="200.4" r="1.08"/><circle cx="510.6" cy="200.5" r="1.08"/><circle cx="512.1" cy="200.2" r="1.08"/><circle cx="513.9" cy="200.4" r="1.08"/><circle cx="499.1" cy="202.2" r="1.08"/><circle cx="500.8" cy="201.8" r="1.08"/><circle cx="502.6" cy="201.9" r="1.08"/><circle cx="504.5" cy="202.1" r="1.08"/><circle cx="505.9" cy="201.9" r="1.08"/><circle cx="507.6" cy="201.8" r="1.08"/><circle cx="509.4" cy="202.1" r="1.08"/><circle cx="511.4" cy="201.9" r="1.08"/><circle cx="512.9" cy="202.2" r="1.08"/><circle cx="499.8" cy="203.6" r="1.08"/><circle cx="501.7" cy="203.8" r="1.08"/><circle cx="503.6" cy="203.6" r="1.08"/><circle cx="505.3" cy="203.6" r="1.08"/><circle cx="508.8" cy="203.8" r="1.08"/><circle cx="512.3" cy="203.6" r="1.08"/><circle cx="513.3" cy="203.6" r="1.08"/><circle cx="499.1" cy="205.5" r="1.08"/><circle cx="500.9" cy="205.6" r="1.08"/><circle cx="502.5" cy="205.7" r="1.08"/><circle cx="504.5" cy="205.5" r="1.08"/><circle cx="506.0" cy="205.5" r="1.08"/><circle cx="507.9" cy="205.7" r="1.08"/><circle cx="509.6" cy="205.5" r="1.08"/><circle cx="511.5" cy="205.6" r="1.08"/><circle cx="513.2" cy="205.6" r="1.08"/><circle cx="499.8" cy="207.2" r="1.08"/><circle cx="501.8" cy="207.2" r="1.08"/><circle cx="503.6" cy="207.5" r="1.08"/><circle cx="505.1" cy="207.5" r="1.08"/><circle cx="507.1" cy="207.1" r="1.08"/><circle cx="508.8" cy="207.5" r="1.08"/><circle cx="513.2" cy="207.4" r="1.08"/><circle cx="500.8" cy="208.9" r="1.08"/><circle cx="502.8" cy="209.0" r="1.08"/><circle cx="504.5" cy="208.9" r="1.08"/><circle cx="506.2" cy="208.9" r="1.08"/><circle cx="507.9" cy="208.9" r="1.08"/><circle cx="511.6" cy="209.1" r="1.08"/><circle cx="500.0" cy="210.6" r="1.08"/><circle cx="503.6" cy="211.0" r="1.08"/><circle cx="508.7" cy="210.9" r="1.08"/><circle cx="510.5" cy="210.7" r="1.08"/><circle cx="512.4" cy="210.6" r="1.08"/><circle cx="513.3" cy="210.5" r="1.08"/><circle cx="497.4" cy="212.5" r="1.08"/><circle cx="499.0" cy="212.7" r="1.08"/><circle cx="500.8" cy="212.4" r="1.08"/><circle cx="502.8" cy="212.6" r="1.08"/><circle cx="504.6" cy="212.5" r="1.08"/><circle cx="506.3" cy="212.4" r="1.08"/><circle cx="508.1" cy="212.7" r="1.08"/><circle cx="509.8" cy="212.7" r="1.08"/><circle cx="511.2" cy="212.5" r="1.08"/><circle cx="512.9" cy="212.3" r="1.08"/><circle cx="514.6" cy="212.3" r="1.08"/><circle cx="500.0" cy="214.3" r="1.08"/><circle cx="501.6" cy="214.3" r="1.08"/><circle cx="503.4" cy="214.2" r="1.08"/><circle cx="505.5" cy="214.0" r="1.08"/><circle cx="507.1" cy="214.2" r="1.08"/><circle cx="508.9" cy="214.4" r="1.08"/><circle cx="510.3" cy="214.1" r="1.08"/><circle cx="512.5" cy="214.1" r="1.08"/><circle cx="513.2" cy="214.4" r="1.08"/><circle cx="499.3" cy="215.8" r="1.08"/><circle cx="502.8" cy="215.9" r="1.08"/><circle cx="504.5" cy="216.2" r="1.08"/><circle cx="507.7" cy="216.2" r="1.08"/><circle cx="509.5" cy="215.9" r="1.08"/><circle cx="511.6" cy="216.1" r="1.08"/><circle cx="496.5" cy="217.5" r="1.08"/><circle cx="498.4" cy="217.5" r="1.08"/><circle cx="500.0" cy="217.5" r="1.08"/><circle cx="503.3" cy="218.0" r="1.08"/><circle cx="505.3" cy="217.6" r="1.08"/><circle cx="507.2" cy="217.9" r="1.08"/><circle cx="508.9" cy="217.8" r="1.08"/><circle cx="512.2" cy="217.5" r="1.08"/><circle cx="513.8" cy="218.0" r="1.08"/><circle cx="516.0" cy="218.0" r="1.08"/><circle cx="516.4" cy="218.0" r="1.08"/><circle cx="497.3" cy="219.7" r="1.08"/><circle cx="499.1" cy="219.3" r="1.08"/><circle cx="502.5" cy="219.5" r="1.08"/><circle cx="504.2" cy="219.7" r="1.08"/><circle cx="505.9" cy="219.5" r="1.08"/><circle cx="507.8" cy="219.5" r="1.08"/><circle cx="509.4" cy="219.6" r="1.08"/><circle cx="511.5" cy="219.5" r="1.08"/><circle cx="513.2" cy="219.3" r="1.08"/><circle cx="515.0" cy="219.4" r="1.08"/><circle cx="516.6" cy="219.7" r="1.08"/><circle cx="498.5" cy="221.3" r="1.08"/><circle cx="499.8" cy="221.1" r="1.08"/><circle cx="501.9" cy="221.3" r="1.08"/><circle cx="505.1" cy="221.3" r="1.08"/><circle cx="507.0" cy="221.2" r="1.08"/><circle cx="508.9" cy="221.0" r="1.08"/><circle cx="510.3" cy="221.5" r="1.08"/><circle cx="512.2" cy="221.3" r="1.08"/><circle cx="514.6" cy="221.5" r="1.08"/><circle cx="495.5" cy="223.0" r="1.08"/><circle cx="497.5" cy="222.9" r="1.08"/><circle cx="499.3" cy="223.1" r="1.08"/><circle cx="501.1" cy="222.9" r="1.08"/><circle cx="502.5" cy="223.2" r="1.08"/><circle cx="504.5" cy="223.1" r="1.08"/><circle cx="506.1" cy="223.0" r="1.08"/><circle cx="508.1" cy="223.1" r="1.08"/><circle cx="511.4" cy="222.9" r="1.08"/><circle cx="513.2" cy="222.9" r="1.08"/><circle cx="514.6" cy="223.2" r="1.08"/><circle cx="516.5" cy="223.0" r="1.08"/><circle cx="496.3" cy="224.6" r="1.08"/><circle cx="498.2" cy="225.0" r="1.08"/><circle cx="499.8" cy="224.7" r="1.08"/><circle cx="503.5" cy="224.6" r="1.08"/><circle cx="505.2" cy="224.8" r="1.08"/><circle cx="506.7" cy="224.5" r="1.08"/><circle cx="508.8" cy="225.0" r="1.08"/><circle cx="510.6" cy="224.7" r="1.08"/><circle cx="512.3" cy="224.9" r="1.08"/><circle cx="514.0" cy="224.6" r="1.08"/><circle cx="515.7" cy="224.9" r="1.08"/><circle cx="516.7" cy="225.0" r="1.08"/><circle cx="497.2" cy="226.3" r="1.08"/><circle cx="499.3" cy="226.5" r="1.08"/><circle cx="502.5" cy="226.3" r="1.08"/><circle cx="504.3" cy="226.7" r="1.08"/><circle cx="506.0" cy="226.3" r="1.08"/><circle cx="507.7" cy="226.5" r="1.08"/><circle cx="509.6" cy="226.7" r="1.08"/><circle cx="511.5" cy="226.7" r="1.08"/><circle cx="513.2" cy="226.4" r="1.08"/><circle cx="515.1" cy="226.4" r="1.08"/><circle cx="494.6" cy="228.4" r="1.08"/><circle cx="496.4" cy="228.1" r="1.08"/><circle cx="498.4" cy="228.2" r="1.08"/><circle cx="500.0" cy="228.3" r="1.08"/><circle cx="501.6" cy="228.3" r="1.08"/><circle cx="503.7" cy="228.0" r="1.08"/><circle cx="505.3" cy="228.2" r="1.08"/><circle cx="507.0" cy="228.1" r="1.08"/><circle cx="510.7" cy="228.3" r="1.08"/><circle cx="512.4" cy="228.1" r="1.08"/><circle cx="514.2" cy="228.1" r="1.08"/><circle cx="515.6" cy="228.3" r="1.08"/><circle cx="497.3" cy="230.0" r="1.08"/><circle cx="499.0" cy="230.0" r="1.08"/><circle cx="502.7" cy="230.2" r="1.08"/><circle cx="504.5" cy="229.8" r="1.08"/><circle cx="506.2" cy="230.2" r="1.08"/><circle cx="508.1" cy="229.9" r="1.08"/><circle cx="509.4" cy="229.8" r="1.08"/><circle cx="513.0" cy="230.1" r="1.08"/><circle cx="514.7" cy="229.8" r="1.08"/><circle cx="498.2" cy="231.6" r="1.08"/><circle cx="499.9" cy="231.7" r="1.08"/><circle cx="501.9" cy="231.8" r="1.08"/><circle cx="503.6" cy="231.9" r="1.08"/><circle cx="505.0" cy="231.5" r="1.08"/><circle cx="506.9" cy="231.9" r="1.08"/><circle cx="508.7" cy="231.8" r="1.08"/><circle cx="513.8" cy="231.9" r="1.08"/><circle cx="515.0" cy="231.8" r="1.08"/><circle cx="500.9" cy="233.4" r="1.08"/><circle cx="505.9" cy="233.3" r="1.08"/><circle cx="511.3" cy="233.6" r="1.08"/><circle cx="501.5" cy="235.5" r="1.08"/><circle cx="505.0" cy="235.1" r="1.08"/><circle cx="506.9" cy="235.3" r="1.08"/><circle cx="510.4" cy="235.2" r="1.08"/><circle cx="512.4" cy="235.1" r="1.08"/><circle cx="513.0" cy="235.1" r="1.08"/><circle cx="499.2" cy="237.2" r="1.08"/><circle cx="500.9" cy="237.0" r="1.08"/><circle cx="502.4" cy="236.9" r="1.08"/><circle cx="504.2" cy="236.8" r="1.08"/><circle cx="506.3" cy="236.8" r="1.08"/><circle cx="507.9" cy="237.1" r="1.08"/><circle cx="509.6" cy="237.0" r="1.08"/><circle cx="511.6" cy="236.9" r="1.08"/><circle cx="513.3" cy="237.1" r="1.08"/><circle cx="496.3" cy="238.7" r="1.08"/><circle cx="501.8" cy="238.6" r="1.08"/><circle cx="503.4" cy="238.7" r="1.08"/><circle cx="505.3" cy="238.8" r="1.08"/><circle cx="507.0" cy="238.9" r="1.08"/><circle cx="508.5" cy="238.7" r="1.08"/><circle cx="512.4" cy="238.7" r="1.08"/><circle cx="514.1" cy="238.7" r="1.08"/><circle cx="515.5" cy="238.7" r="1.08"/><circle cx="499.3" cy="240.7" r="1.08"/><circle cx="501.0" cy="240.5" r="1.08"/><circle cx="502.6" cy="240.4" r="1.08"/><circle cx="504.1" cy="240.7" r="1.08"/><circle cx="507.6" cy="240.5" r="1.08"/><circle cx="509.7" cy="240.3" r="1.08"/><circle cx="513.3" cy="240.4" r="1.08"/><circle cx="498.0" cy="242.3" r="1.08"/><circle cx="500.2" cy="242.3" r="1.08"/><circle cx="501.9" cy="242.2" r="1.08"/><circle cx="503.3" cy="242.2" r="1.08"/><circle cx="505.0" cy="242.5" r="1.08"/><circle cx="507.0" cy="242.1" r="1.08"/><circle cx="510.5" cy="242.2" r="1.08"/><circle cx="513.9" cy="242.4" r="1.08"/><circle cx="515.0" cy="242.4" r="1.08"/><circle cx="499.0" cy="244.2" r="1.08"/><circle cx="500.7" cy="243.8" r="1.08"/><circle cx="502.5" cy="243.8" r="1.08"/><circle cx="504.5" cy="244.0" r="1.08"/><circle cx="506.0" cy="243.9" r="1.08"/><circle cx="507.9" cy="244.1" r="1.08"/><circle cx="509.5" cy="243.9" r="1.08"/><circle cx="511.2" cy="243.9" r="1.08"/><circle cx="513.0" cy="244.2" r="1.08"/><circle cx="498.0" cy="245.8" r="1.08"/><circle cx="500.1" cy="245.8" r="1.08"/><circle cx="501.9" cy="245.8" r="1.08"/><circle cx="503.5" cy="245.9" r="1.08"/><circle cx="505.5" cy="245.7" r="1.08"/><circle cx="507.0" cy="245.6" r="1.08"/><circle cx="508.7" cy="245.6" r="1.08"/><circle cx="510.4" cy="245.6" r="1.08"/><circle cx="512.3" cy="245.5" r="1.08"/><circle cx="514.1" cy="245.6" r="1.08"/><circle cx="514.6" cy="245.6" r="1.08"/><circle cx="497.4" cy="247.3" r="1.08"/><circle cx="499.3" cy="247.3" r="1.08"/><circle cx="502.7" cy="247.5" r="1.08"/><circle cx="504.4" cy="247.3" r="1.08"/><circle cx="506.3" cy="247.7" r="1.08"/><circle cx="508.0" cy="247.6" r="1.08"/><circle cx="509.8" cy="247.7" r="1.08"/><circle cx="513.1" cy="247.4" r="1.08"/><circle cx="514.9" cy="247.7" r="1.08"/><circle cx="498.3" cy="249.3" r="1.08"/><circle cx="499.9" cy="249.0" r="1.08"/><circle cx="501.8" cy="249.4" r="1.08"/><circle cx="507.0" cy="249.3" r="1.08"/><circle cx="510.7" cy="249.4" r="1.08"/><circle cx="512.1" cy="249.2" r="1.08"/><circle cx="513.8" cy="249.4" r="1.08"/><circle cx="515.0" cy="249.4" r="1.08"/><circle cx="498.9" cy="251.0" r="1.08"/><circle cx="500.7" cy="251.0" r="1.08"/><circle cx="504.1" cy="251.1" r="1.08"/><circle cx="505.9" cy="251.2" r="1.08"/><circle cx="509.7" cy="251.0" r="1.08"/><circle cx="511.3" cy="251.0" r="1.08"/><circle cx="512.9" cy="250.9" r="1.08"/><circle cx="514.9" cy="250.8" r="1.08"/><circle cx="494.7" cy="252.6" r="1.08"/><circle cx="496.5" cy="252.7" r="1.08"/><circle cx="498.5" cy="252.5" r="1.08"/><circle cx="499.9" cy="252.6" r="1.08"/><circle cx="502.0" cy="252.5" r="1.08"/><circle cx="503.4" cy="252.9" r="1.08"/><circle cx="506.9" cy="252.8" r="1.08"/><circle cx="508.9" cy="252.7" r="1.08"/><circle cx="512.4" cy="252.9" r="1.08"/><circle cx="514.2" cy="252.8" r="1.08"/><circle cx="515.9" cy="253.0" r="1.08"/><circle cx="517.7" cy="252.7" r="1.08"/><circle cx="518.3" cy="253.0" r="1.08"/><circle cx="492.1" cy="254.7" r="1.08"/><circle cx="493.7" cy="254.4" r="1.08"/><circle cx="497.2" cy="254.7" r="1.08"/><circle cx="499.3" cy="254.6" r="1.08"/><circle cx="500.8" cy="254.5" r="1.08"/><circle cx="502.5" cy="254.4" r="1.08"/><circle cx="504.5" cy="254.6" r="1.08"/><circle cx="506.3" cy="254.5" r="1.08"/><circle cx="507.9" cy="254.7" r="1.08"/><circle cx="511.4" cy="254.7" r="1.08"/><circle cx="512.9" cy="254.3" r="1.08"/><circle cx="515.0" cy="254.5" r="1.08"/><circle cx="520.1" cy="254.4" r="1.08"/><circle cx="498.4" cy="256.0" r="1.08"/><circle cx="500.2" cy="256.1" r="1.08"/><circle cx="501.5" cy="256.5" r="1.08"/><circle cx="503.3" cy="256.2" r="1.08"/><circle cx="505.4" cy="256.5" r="1.08"/><circle cx="507.1" cy="256.2" r="1.08"/><circle cx="510.6" cy="256.2" r="1.08"/><circle cx="512.2" cy="256.4" r="1.08"/><circle cx="513.9" cy="256.3" r="1.08"/><circle cx="515.6" cy="256.0" r="1.08"/><circle cx="516.8" cy="256.1" r="1.08"/><circle cx="493.7" cy="257.9" r="1.08"/><circle cx="495.4" cy="258.0" r="1.08"/><circle cx="497.4" cy="258.2" r="1.08"/><circle cx="499.3" cy="257.9" r="1.08"/><circle cx="500.6" cy="258.0" r="1.08"/><circle cx="502.6" cy="258.0" r="1.08"/><circle cx="504.2" cy="257.9" r="1.08"/><circle cx="506.0" cy="257.9" r="1.08"/><circle cx="507.8" cy="258.1" r="1.08"/><circle cx="509.8" cy="257.8" r="1.08"/><circle cx="511.5" cy="257.8" r="1.08"/><circle cx="513.0" cy="258.2" r="1.08"/><circle cx="514.8" cy="257.9" r="1.08"/><circle cx="516.7" cy="258.0" r="1.08"/><circle cx="518.1" cy="257.9" r="1.08"/><circle cx="494.8" cy="259.6" r="1.08"/><circle cx="496.6" cy="259.8" r="1.08"/><circle cx="498.5" cy="259.8" r="1.08"/><circle cx="500.1" cy="259.5" r="1.08"/><circle cx="501.7" cy="259.8" r="1.08"/><circle cx="503.4" cy="259.9" r="1.08"/><circle cx="505.0" cy="259.7" r="1.08"/><circle cx="507.2" cy="259.8" r="1.08"/><circle cx="508.8" cy="259.6" r="1.08"/><circle cx="510.7" cy="259.5" r="1.08"/><circle cx="515.5" cy="259.6" r="1.08"/><circle cx="517.4" cy="259.5" r="1.08"/><circle cx="518.5" cy="259.7" r="1.08"/><circle cx="497.2" cy="261.7" r="1.08"/><circle cx="498.9" cy="261.4" r="1.08"/><circle cx="500.7" cy="261.5" r="1.08"/><circle cx="502.7" cy="261.6" r="1.08"/><circle cx="504.3" cy="261.3" r="1.08"/><circle cx="505.9" cy="261.6" r="1.08"/><circle cx="507.9" cy="261.7" r="1.08"/><circle cx="511.5" cy="261.3" r="1.08"/><circle cx="513.2" cy="261.6" r="1.08"/><circle cx="515.0" cy="261.7" r="1.08"/><circle cx="496.6" cy="263.4" r="1.08"/><circle cx="500.1" cy="263.4" r="1.08"/><circle cx="501.9" cy="263.4" r="1.08"/><circle cx="503.3" cy="263.0" r="1.08"/><circle cx="505.2" cy="263.4" r="1.08"/><circle cx="506.9" cy="263.5" r="1.08"/><circle cx="508.8" cy="263.3" r="1.08"/><circle cx="510.5" cy="263.5" r="1.08"/><circle cx="512.3" cy="263.3" r="1.08"/><circle cx="514.1" cy="263.2" r="1.08"/><circle cx="515.5" cy="263.3" r="1.08"/><circle cx="495.7" cy="264.8" r="1.08"/><circle cx="497.2" cy="264.9" r="1.08"/><circle cx="499.0" cy="264.9" r="1.08"/><circle cx="500.7" cy="265.2" r="1.08"/><circle cx="502.6" cy="264.9" r="1.08"/><circle cx="506.0" cy="265.0" r="1.08"/><circle cx="507.7" cy="265.1" r="1.08"/><circle cx="511.5" cy="264.8" r="1.08"/><circle cx="513.0" cy="265.0" r="1.08"/><circle cx="514.8" cy="264.9" r="1.08"/><circle cx="516.5" cy="264.8" r="1.08"/><circle cx="499.9" cy="266.5" r="1.08"/><circle cx="501.5" cy="266.6" r="1.08"/><circle cx="503.5" cy="266.5" r="1.08"/><circle cx="505.0" cy="267.0" r="1.08"/><circle cx="509.0" cy="266.7" r="1.08"/><circle cx="510.4" cy="266.6" r="1.08"/><circle cx="512.3" cy="266.8" r="1.08"/><circle cx="514.2" cy="266.8" r="1.08"/><circle cx="514.6" cy="266.6" r="1.08"/><circle cx="499.2" cy="268.3" r="1.08"/><circle cx="500.8" cy="268.4" r="1.08"/><circle cx="502.7" cy="268.3" r="1.08"/><circle cx="504.5" cy="268.6" r="1.08"/><circle cx="506.1" cy="268.5" r="1.08"/><circle cx="507.9" cy="268.3" r="1.08"/><circle cx="511.2" cy="268.6" r="1.08"/><circle cx="513.3" cy="268.3" r="1.08"/><circle cx="500.1" cy="270.2" r="1.08"/><circle cx="501.9" cy="270.5" r="1.08"/><circle cx="503.6" cy="270.1" r="1.08"/><circle cx="505.1" cy="270.4" r="1.08"/><circle cx="507.0" cy="270.5" r="1.08"/><circle cx="509.0" cy="270.2" r="1.08"/><circle cx="510.7" cy="270.5" r="1.08"/><circle cx="512.4" cy="270.3" r="1.08"/><circle cx="513.0" cy="270.2" r="1.08"/><circle cx="501.0" cy="271.8" r="1.08"/><circle cx="504.1" cy="271.8" r="1.08"/><circle cx="506.2" cy="272.0" r="1.08"/><circle cx="507.7" cy="272.2" r="1.08"/><circle cx="509.7" cy="272.0" r="1.08"/><circle cx="511.2" cy="271.9" r="1.08"/><circle cx="503.3" cy="273.9" r="1.08"/><circle cx="505.1" cy="273.7" r="1.08"/><circle cx="507.1" cy="273.7" r="1.08"/><circle cx="509.0" cy="273.7" r="1.08"/><circle cx="509.4" cy="273.7" r="1.08"/><circle cx="502.8" cy="275.4" r="1.08"/><circle cx="504.2" cy="275.5" r="1.08"/><circle cx="506.1" cy="275.5" r="1.08"/><circle cx="507.9" cy="275.5" r="1.08"/><circle cx="509.4" cy="275.4" r="1.08"/><circle cx="503.4" cy="277.5" r="1.08"/><circle cx="505.4" cy="277.3" r="1.08"/><circle cx="506.7" cy="277.5" r="1.08"/><circle cx="508.6" cy="277.4" r="1.08"/><circle cx="509.8" cy="277.0" r="1.08"/><circle cx="504.2" cy="279.0" r="1.08"/><circle cx="506.2" cy="278.9" r="1.08"/><circle cx="508.0" cy="279.2" r="1.08"/><circle cx="503.6" cy="280.8" r="1.08"/><circle cx="505.1" cy="280.9" r="1.08"/><circle cx="508.5" cy="280.8" r="1.08"/><circle cx="509.7" cy="280.5" r="1.08"/><circle cx="502.5" cy="282.6" r="1.08"/><circle cx="504.5" cy="282.6" r="1.08"/><circle cx="507.6" cy="282.4" r="1.08"/><circle cx="509.6" cy="282.7" r="1.08"/><circle cx="503.4" cy="284.4" r="1.08"/><circle cx="505.2" cy="284.0" r="1.08"/><circle cx="506.8" cy="284.2" r="1.08"/><circle cx="508.8" cy="284.1" r="1.08"/><circle cx="505.9" cy="286.0" r="1.08"/><circle cx="507.7" cy="285.8" r="1.08"/><circle cx="505.0" cy="287.7" r="1.08"/><circle cx="507.0" cy="287.6" r="1.08"/><circle cx="507.6" cy="287.9" r="1.08"/><circle cx="504.6" cy="289.7" r="1.08"/><circle cx="506.2" cy="289.5" r="1.08"/><circle cx="507.0" cy="291.3" r="1.08"/><circle cx="507.7" cy="291.4" r="1.08"/><circle cx="504.5" cy="293.1" r="1.08"/><circle cx="506.2" cy="293.2" r="1.08"/><circle cx="507.9" cy="293.1" r="1.08"/><circle cx="506.9" cy="294.8" r="1.08"/><circle cx="508.1" cy="295.0" r="1.08"/><circle cx="506.1" cy="300.0" r="1.08"/><circle cx="506.1" cy="304.0" r="1.08"/><circle cx="506.1" cy="308.0" r="1.08"/><circle cx="506.1" cy="314.0" r="1.08"/></g>
<line x1="443.2" y1="261.5" x2="533" y2="261.5" stroke="#000" stroke-width="1.4" stroke-dasharray="1.4,1.8"/>
<rect x="460.95" y="237.40" width="12.70" height="3.00" fill="#000"/>
<line x1="454.60" y1="238.90" x2="480.00" y2="238.90" stroke="#000" stroke-width="1.5"/>
<rect x="499.80" y="238.80" width="12.60" height="3.00" fill="#000"/>
<line x1="493.50" y1="240.30" x2="518.70" y2="240.30" stroke="#000" stroke-width="1.5"/>
<line x1="441.20" y1="193.05" x2="441.20" y2="330.25" stroke="#000" stroke-width="1.3"/>
<line x1="440.55" y1="329.60" x2="532.00" y2="329.60" stroke="#000" stroke-width="1.3"/>
<line x1="435.40" y1="193.70" x2="441.20" y2="193.70" stroke="#000" stroke-width="1.3"/>
<text x="434.20" y="197.15" font-size="9.8" font-weight="bold" text-anchor="end" fill="#231f20">1.0</text>
<line x1="435.40" y1="227.60" x2="441.20" y2="227.60" stroke="#000" stroke-width="1.3"/>
<text x="434.20" y="231.05" font-size="9.8" font-weight="bold" text-anchor="end" fill="#231f20">0.5</text>
<line x1="435.40" y1="261.50" x2="441.20" y2="261.50" stroke="#000" stroke-width="1.3"/>
<text x="434.20" y="264.95" font-size="9.8" font-weight="bold" text-anchor="end" fill="#231f20">0.0</text>
<line x1="435.40" y1="295.40" x2="441.20" y2="295.40" stroke="#000" stroke-width="1.3"/>
<text x="434.20" y="298.85" font-size="9.8" font-weight="bold" text-anchor="end" fill="#231f20">-0.5</text>
<line x1="435.40" y1="329.30" x2="441.20" y2="329.30" stroke="#000" stroke-width="1.3"/>
<text x="434.20" y="332.75" font-size="9.8" font-weight="bold" text-anchor="end" fill="#231f20">-1.0</text>
<line x1="467.00" y1="329.60" x2="467.00" y2="335.30" stroke="#000" stroke-width="1.3"/>
<line x1="506.10" y1="329.60" x2="506.10" y2="335.30" stroke="#000" stroke-width="1.3"/>
<text x="446.20" y="346.60" font-size="10" font-weight="bold" text-anchor="start" fill="#231f20" textLength="41.5" lengthAdjust="spacingAndGlyphs">Baseline</text>
<text x="494.60" y="346.60" font-size="10" font-weight="bold" text-anchor="start" fill="#231f20" textLength="22.5" lengthAdjust="spacingAndGlyphs">CNO</text>
<text transform="translate(409.12,261.25) rotate(-90)" font-size="11.5" font-weight="bold" text-anchor="middle" fill="#231f20"><tspan>R</tspan><tspan font-size="9.0" dy="-5.2">2</tspan></text>
<text x="543.00" y="207.40" font-size="23" font-weight="bold" text-anchor="start" fill="#231f20">m</text>
<g fill="#add899"><rect x="615.7" y="193.8" width="1.7" height="1.7"/><rect x="615.8" y="195.6" width="1.7" height="1.7"/><rect x="615.7" y="199.4" width="1.7" height="1.7"/><rect x="618.2" y="199.5" width="1.7" height="1.7"/><rect x="613.3" y="201.4" width="1.7" height="1.7"/><rect x="613.2" y="203.3" width="1.7" height="1.7"/><rect x="615.8" y="203.2" width="1.7" height="1.7"/><rect x="618.3" y="203.3" width="1.7" height="1.7"/><rect x="613.2" y="205.2" width="1.7" height="1.7"/><rect x="615.8" y="205.1" width="1.7" height="1.7"/><rect x="618.2" y="205.1" width="1.7" height="1.7"/><rect x="620.8" y="205.2" width="1.7" height="1.7"/><rect x="623.2" y="205.1" width="1.7" height="1.7"/><rect x="610.8" y="207.0" width="1.7" height="1.7"/><rect x="615.8" y="207.0" width="1.7" height="1.7"/><rect x="620.7" y="207.1" width="1.7" height="1.7"/><rect x="615.7" y="209.0" width="1.7" height="1.7"/><rect x="618.2" y="209.0" width="1.7" height="1.7"/><rect x="615.7" y="210.8" width="1.7" height="1.7"/><rect x="613.2" y="214.7" width="1.7" height="1.7"/><rect x="618.3" y="214.6" width="1.7" height="1.7"/><rect x="618.3" y="216.6" width="1.7" height="1.7"/><rect x="613.2" y="218.5" width="1.7" height="1.7"/><rect x="615.8" y="218.5" width="1.7" height="1.7"/><rect x="613.2" y="220.3" width="1.7" height="1.7"/><rect x="618.3" y="220.3" width="1.7" height="1.7"/><rect x="620.8" y="220.3" width="1.7" height="1.7"/><rect x="610.8" y="222.2" width="1.7" height="1.7"/><rect x="613.3" y="222.2" width="1.7" height="1.7"/><rect x="618.3" y="222.3" width="1.7" height="1.7"/><rect x="620.7" y="222.3" width="1.7" height="1.7"/><rect x="608.2" y="224.1" width="1.7" height="1.7"/><rect x="615.8" y="224.1" width="1.7" height="1.7"/><rect x="605.8" y="226.0" width="1.7" height="1.7"/><rect x="608.2" y="226.1" width="1.7" height="1.7"/><rect x="610.7" y="226.0" width="1.7" height="1.7"/><rect x="613.2" y="226.0" width="1.7" height="1.7"/><rect x="618.3" y="226.1" width="1.7" height="1.7"/><rect x="620.7" y="226.1" width="1.7" height="1.7"/><rect x="625.8" y="226.1" width="1.7" height="1.7"/><rect x="605.8" y="227.9" width="1.7" height="1.7"/><rect x="608.3" y="228.0" width="1.7" height="1.7"/><rect x="610.8" y="228.0" width="1.7" height="1.7"/><rect x="613.2" y="228.0" width="1.7" height="1.7"/><rect x="615.7" y="227.9" width="1.7" height="1.7"/><rect x="618.2" y="227.9" width="1.7" height="1.7"/><rect x="620.7" y="227.9" width="1.7" height="1.7"/><rect x="623.2" y="227.9" width="1.7" height="1.7"/><rect x="625.8" y="228.0" width="1.7" height="1.7"/><rect x="608.2" y="229.9" width="1.7" height="1.7"/><rect x="610.7" y="229.8" width="1.7" height="1.7"/><rect x="613.2" y="229.8" width="1.7" height="1.7"/><rect x="615.8" y="229.8" width="1.7" height="1.7"/><rect x="618.2" y="229.9" width="1.7" height="1.7"/><rect x="620.8" y="229.9" width="1.7" height="1.7"/><rect x="615.7" y="231.8" width="1.7" height="1.7"/><rect x="620.8" y="231.7" width="1.7" height="1.7"/><rect x="608.2" y="233.7" width="1.7" height="1.7"/><rect x="610.8" y="233.7" width="1.7" height="1.7"/><rect x="618.3" y="233.6" width="1.7" height="1.7"/><rect x="608.3" y="235.6" width="1.7" height="1.7"/><rect x="613.2" y="235.5" width="1.7" height="1.7"/><rect x="615.7" y="235.6" width="1.7" height="1.7"/><rect x="608.2" y="237.5" width="1.7" height="1.7"/><rect x="615.7" y="237.4" width="1.7" height="1.7"/><rect x="618.2" y="237.5" width="1.7" height="1.7"/><rect x="610.8" y="239.4" width="1.7" height="1.7"/><rect x="613.2" y="239.3" width="1.7" height="1.7"/><rect x="615.7" y="239.4" width="1.7" height="1.7"/><rect x="618.3" y="239.4" width="1.7" height="1.7"/><rect x="613.3" y="241.2" width="1.7" height="1.7"/><rect x="615.8" y="241.2" width="1.7" height="1.7"/><rect x="618.3" y="241.3" width="1.7" height="1.7"/><rect x="610.8" y="243.2" width="1.7" height="1.7"/><rect x="615.8" y="243.1" width="1.7" height="1.7"/><rect x="620.7" y="243.2" width="1.7" height="1.7"/><rect x="623.2" y="243.2" width="1.7" height="1.7"/><rect x="603.2" y="245.1" width="1.7" height="1.7"/><rect x="608.3" y="245.0" width="1.7" height="1.7"/><rect x="610.7" y="245.0" width="1.7" height="1.7"/><rect x="618.2" y="245.1" width="1.7" height="1.7"/><rect x="620.8" y="245.1" width="1.7" height="1.7"/><rect x="625.8" y="245.0" width="1.7" height="1.7"/><rect x="628.2" y="245.0" width="1.7" height="1.7"/><rect x="603.3" y="247.0" width="1.7" height="1.7"/><rect x="605.8" y="246.9" width="1.7" height="1.7"/><rect x="613.3" y="247.0" width="1.7" height="1.7"/><rect x="618.2" y="246.9" width="1.7" height="1.7"/><rect x="623.3" y="246.9" width="1.7" height="1.7"/><rect x="625.7" y="247.0" width="1.7" height="1.7"/><rect x="603.3" y="248.8" width="1.7" height="1.7"/><rect x="613.3" y="248.8" width="1.7" height="1.7"/><rect x="615.8" y="248.9" width="1.7" height="1.7"/><rect x="618.3" y="248.8" width="1.7" height="1.7"/><rect x="623.2" y="248.8" width="1.7" height="1.7"/><rect x="605.8" y="250.8" width="1.7" height="1.7"/><rect x="610.7" y="250.7" width="1.7" height="1.7"/><rect x="613.3" y="250.7" width="1.7" height="1.7"/><rect x="615.8" y="250.7" width="1.7" height="1.7"/><rect x="620.8" y="250.8" width="1.7" height="1.7"/><rect x="625.7" y="250.8" width="1.7" height="1.7"/><rect x="608.3" y="252.7" width="1.7" height="1.7"/><rect x="613.2" y="252.6" width="1.7" height="1.7"/><rect x="615.7" y="252.7" width="1.7" height="1.7"/><rect x="620.7" y="252.7" width="1.7" height="1.7"/><rect x="605.7" y="254.6" width="1.7" height="1.7"/><rect x="608.3" y="254.5" width="1.7" height="1.7"/><rect x="613.3" y="254.5" width="1.7" height="1.7"/><rect x="615.7" y="254.6" width="1.7" height="1.7"/><rect x="623.2" y="254.5" width="1.7" height="1.7"/><rect x="605.7" y="256.5" width="1.7" height="1.7"/><rect x="610.7" y="258.3" width="1.7" height="1.7"/><rect x="613.3" y="258.3" width="1.7" height="1.7"/><rect x="615.8" y="258.3" width="1.7" height="1.7"/><rect x="618.2" y="258.3" width="1.7" height="1.7"/><rect x="605.7" y="260.3" width="1.7" height="1.7"/><rect x="608.2" y="260.2" width="1.7" height="1.7"/><rect x="615.8" y="260.2" width="1.7" height="1.7"/><rect x="618.3" y="260.2" width="1.7" height="1.7"/><rect x="623.3" y="260.2" width="1.7" height="1.7"/><rect x="608.2" y="262.1" width="1.7" height="1.7"/><rect x="610.8" y="262.2" width="1.7" height="1.7"/><rect x="615.7" y="262.2" width="1.7" height="1.7"/><rect x="618.2" y="262.1" width="1.7" height="1.7"/><rect x="620.8" y="262.1" width="1.7" height="1.7"/><rect x="610.8" y="264.1" width="1.7" height="1.7"/><rect x="613.3" y="264.1" width="1.7" height="1.7"/><rect x="615.8" y="264.1" width="1.7" height="1.7"/><rect x="623.2" y="264.0" width="1.7" height="1.7"/><rect x="625.8" y="264.1" width="1.7" height="1.7"/><rect x="605.8" y="265.9" width="1.7" height="1.7"/><rect x="608.2" y="266.0" width="1.7" height="1.7"/><rect x="613.2" y="265.9" width="1.7" height="1.7"/><rect x="618.2" y="266.0" width="1.7" height="1.7"/><rect x="620.7" y="265.9" width="1.7" height="1.7"/><rect x="615.8" y="267.8" width="1.7" height="1.7"/><rect x="618.2" y="267.9" width="1.7" height="1.7"/><rect x="613.3" y="269.8" width="1.7" height="1.7"/><rect x="618.3" y="271.6" width="1.7" height="1.7"/><rect x="613.3" y="273.6" width="1.7" height="1.7"/><rect x="618.3" y="273.6" width="1.7" height="1.7"/><rect x="613.3" y="275.4" width="1.7" height="1.7"/><rect x="615.7" y="275.4" width="1.7" height="1.7"/><rect x="618.3" y="275.5" width="1.7" height="1.7"/><rect x="613.2" y="277.3" width="1.7" height="1.7"/><rect x="615.7" y="279.3" width="1.7" height="1.7"/><rect x="618.2" y="279.2" width="1.7" height="1.7"/><rect x="615.7" y="281.1" width="1.7" height="1.7"/><rect x="615.8" y="283.0" width="1.7" height="1.7"/><rect x="618.3" y="283.1" width="1.7" height="1.7"/><rect x="615.8" y="194.3" width="1.7" height="1.7"/><rect x="615.8" y="299.6" width="1.7" height="1.7"/></g>
<g fill="#248c49"><circle cx="655.4" cy="197.8" r="0.95"/><circle cx="654.5" cy="199.5" r="0.95"/><circle cx="658.4" cy="199.4" r="0.95"/><circle cx="660.5" cy="199.4" r="0.95"/><circle cx="651.3" cy="201.3" r="0.95"/><circle cx="653.4" cy="201.3" r="0.95"/><circle cx="655.3" cy="201.3" r="0.95"/><circle cx="657.4" cy="201.5" r="0.95"/><circle cx="659.4" cy="201.5" r="0.95"/><circle cx="663.2" cy="201.3" r="0.95"/><circle cx="654.3" cy="203.0" r="0.95"/><circle cx="656.2" cy="203.4" r="0.95"/><circle cx="660.2" cy="203.4" r="0.95"/><circle cx="662.6" cy="203.1" r="0.95"/><circle cx="649.5" cy="205.1" r="0.95"/><circle cx="651.6" cy="204.8" r="0.95"/><circle cx="653.3" cy="205.0" r="0.95"/><circle cx="657.4" cy="205.0" r="0.95"/><circle cx="659.4" cy="205.1" r="0.95"/><circle cx="661.4" cy="204.9" r="0.95"/><circle cx="650.2" cy="206.8" r="0.95"/><circle cx="652.3" cy="206.8" r="0.95"/><circle cx="654.3" cy="206.9" r="0.95"/><circle cx="658.3" cy="206.7" r="0.95"/><circle cx="660.3" cy="206.9" r="0.95"/><circle cx="664.5" cy="206.9" r="0.95"/><circle cx="665.5" cy="206.7" r="0.95"/><circle cx="649.6" cy="208.5" r="0.95"/><circle cx="655.4" cy="208.5" r="0.95"/><circle cx="657.5" cy="208.4" r="0.95"/><circle cx="659.6" cy="208.5" r="0.95"/><circle cx="661.4" cy="208.7" r="0.95"/><circle cx="665.3" cy="208.5" r="0.95"/><circle cx="654.3" cy="210.4" r="0.95"/><circle cx="658.2" cy="210.2" r="0.95"/><circle cx="660.6" cy="210.3" r="0.95"/><circle cx="662.5" cy="210.6" r="0.95"/><circle cx="654.6" cy="213.8" r="0.95"/><circle cx="656.6" cy="214.0" r="0.95"/><circle cx="658.5" cy="214.0" r="0.95"/><circle cx="660.5" cy="213.9" r="0.95"/><circle cx="649.4" cy="216.0" r="0.95"/><circle cx="651.5" cy="215.7" r="0.95"/><circle cx="653.3" cy="215.9" r="0.95"/><circle cx="655.5" cy="216.0" r="0.95"/><circle cx="657.3" cy="216.0" r="0.95"/><circle cx="659.2" cy="215.7" r="0.95"/><circle cx="661.4" cy="215.8" r="0.95"/><circle cx="663.2" cy="215.6" r="0.95"/><circle cx="665.6" cy="215.7" r="0.95"/><circle cx="650.5" cy="217.5" r="0.95"/><circle cx="660.2" cy="217.8" r="0.95"/><circle cx="662.3" cy="217.5" r="0.95"/><circle cx="664.4" cy="217.4" r="0.95"/><circle cx="651.5" cy="219.3" r="0.95"/><circle cx="653.5" cy="219.4" r="0.95"/><circle cx="659.2" cy="219.6" r="0.95"/><circle cx="661.4" cy="219.2" r="0.95"/><circle cx="652.4" cy="221.3" r="0.95"/><circle cx="654.2" cy="221.4" r="0.95"/><circle cx="658.5" cy="221.4" r="0.95"/><circle cx="660.5" cy="221.2" r="0.95"/><circle cx="663.5" cy="221.3" r="0.95"/><circle cx="651.3" cy="222.9" r="0.95"/><circle cx="653.3" cy="223.1" r="0.95"/><circle cx="655.3" cy="223.1" r="0.95"/><circle cx="657.3" cy="223.2" r="0.95"/><circle cx="659.4" cy="222.8" r="0.95"/><circle cx="661.3" cy="223.0" r="0.95"/><circle cx="652.2" cy="224.8" r="0.95"/><circle cx="654.2" cy="224.9" r="0.95"/><circle cx="660.2" cy="224.9" r="0.95"/><circle cx="662.5" cy="224.7" r="0.95"/><circle cx="663.6" cy="224.8" r="0.95"/><circle cx="651.3" cy="226.7" r="0.95"/><circle cx="655.5" cy="226.4" r="0.95"/><circle cx="657.2" cy="226.7" r="0.95"/><circle cx="659.6" cy="226.5" r="0.95"/><circle cx="652.5" cy="228.5" r="0.95"/><circle cx="654.4" cy="228.6" r="0.95"/><circle cx="656.2" cy="228.5" r="0.95"/><circle cx="658.3" cy="228.2" r="0.95"/><circle cx="660.5" cy="228.4" r="0.95"/><circle cx="662.5" cy="228.5" r="0.95"/><circle cx="663.5" cy="228.2" r="0.95"/><circle cx="651.5" cy="230.0" r="0.95"/><circle cx="653.4" cy="230.4" r="0.95"/><circle cx="659.6" cy="230.2" r="0.95"/><circle cx="661.4" cy="230.1" r="0.95"/><circle cx="663.2" cy="230.2" r="0.95"/><circle cx="650.4" cy="231.9" r="0.95"/><circle cx="652.3" cy="232.0" r="0.95"/><circle cx="656.3" cy="232.1" r="0.95"/><circle cx="658.3" cy="232.1" r="0.95"/><circle cx="660.4" cy="232.1" r="0.95"/><circle cx="662.6" cy="232.1" r="0.95"/><circle cx="664.4" cy="231.9" r="0.95"/><circle cx="651.5" cy="233.9" r="0.95"/><circle cx="655.3" cy="233.6" r="0.95"/><circle cx="657.3" cy="233.7" r="0.95"/><circle cx="659.5" cy="233.7" r="0.95"/><circle cx="663.3" cy="233.8" r="0.95"/><circle cx="650.5" cy="235.4" r="0.95"/><circle cx="652.3" cy="235.5" r="0.95"/><circle cx="658.5" cy="235.7" r="0.95"/><circle cx="660.5" cy="235.8" r="0.95"/><circle cx="662.4" cy="235.7" r="0.95"/><circle cx="664.3" cy="235.7" r="0.95"/><circle cx="651.3" cy="237.3" r="0.95"/><circle cx="653.6" cy="237.5" r="0.95"/><circle cx="655.2" cy="237.5" r="0.95"/><circle cx="657.4" cy="237.4" r="0.95"/><circle cx="659.4" cy="237.3" r="0.95"/><circle cx="663.5" cy="237.4" r="0.95"/><circle cx="650.4" cy="239.4" r="0.95"/><circle cx="652.3" cy="239.3" r="0.95"/><circle cx="654.5" cy="239.3" r="0.95"/><circle cx="656.5" cy="239.1" r="0.95"/><circle cx="658.5" cy="239.0" r="0.95"/><circle cx="660.4" cy="239.1" r="0.95"/><circle cx="662.5" cy="239.1" r="0.95"/><circle cx="664.2" cy="239.2" r="0.95"/><circle cx="651.6" cy="240.9" r="0.95"/><circle cx="655.4" cy="240.9" r="0.95"/><circle cx="657.3" cy="240.8" r="0.95"/><circle cx="659.5" cy="240.9" r="0.95"/><circle cx="661.3" cy="240.9" r="0.95"/><circle cx="663.3" cy="240.9" r="0.95"/><circle cx="650.3" cy="242.9" r="0.95"/><circle cx="652.5" cy="242.6" r="0.95"/><circle cx="654.5" cy="242.7" r="0.95"/><circle cx="656.5" cy="242.6" r="0.95"/><circle cx="662.3" cy="242.7" r="0.95"/><circle cx="664.2" cy="242.9" r="0.95"/><circle cx="651.3" cy="244.8" r="0.95"/><circle cx="653.4" cy="244.5" r="0.95"/><circle cx="655.5" cy="244.8" r="0.95"/><circle cx="661.5" cy="244.5" r="0.95"/><circle cx="663.5" cy="244.5" r="0.95"/><circle cx="652.3" cy="246.6" r="0.95"/><circle cx="656.3" cy="246.5" r="0.95"/><circle cx="658.4" cy="246.3" r="0.95"/><circle cx="660.6" cy="246.2" r="0.95"/><circle cx="662.5" cy="246.3" r="0.95"/><circle cx="663.5" cy="246.3" r="0.95"/><circle cx="651.4" cy="248.2" r="0.95"/><circle cx="657.3" cy="248.3" r="0.95"/><circle cx="659.5" cy="248.3" r="0.95"/><circle cx="661.3" cy="248.3" r="0.95"/><circle cx="663.5" cy="248.4" r="0.95"/><circle cx="652.4" cy="250.2" r="0.95"/><circle cx="654.4" cy="250.0" r="0.95"/><circle cx="656.5" cy="250.1" r="0.95"/><circle cx="658.3" cy="249.9" r="0.95"/><circle cx="660.4" cy="249.9" r="0.95"/><circle cx="662.3" cy="249.9" r="0.95"/><circle cx="663.3" cy="250.0" r="0.95"/><circle cx="649.3" cy="251.8" r="0.95"/><circle cx="651.5" cy="251.6" r="0.95"/><circle cx="653.3" cy="251.8" r="0.95"/><circle cx="655.2" cy="252.0" r="0.95"/><circle cx="657.2" cy="251.9" r="0.95"/><circle cx="659.3" cy="251.6" r="0.95"/><circle cx="663.4" cy="251.7" r="0.95"/><circle cx="665.4" cy="251.9" r="0.95"/><circle cx="644.4" cy="253.7" r="0.95"/><circle cx="646.4" cy="253.6" r="0.95"/><circle cx="648.4" cy="253.8" r="0.95"/><circle cx="650.5" cy="253.6" r="0.95"/><circle cx="654.3" cy="253.6" r="0.95"/><circle cx="656.5" cy="253.6" r="0.95"/><circle cx="660.3" cy="253.5" r="0.95"/><circle cx="662.5" cy="253.6" r="0.95"/><circle cx="664.5" cy="253.5" r="0.95"/><circle cx="666.4" cy="253.4" r="0.95"/><circle cx="668.4" cy="253.6" r="0.95"/><circle cx="670.4" cy="253.7" r="0.95"/><circle cx="645.6" cy="255.5" r="0.95"/><circle cx="647.5" cy="255.5" r="0.95"/><circle cx="649.5" cy="255.3" r="0.95"/><circle cx="651.6" cy="255.2" r="0.95"/><circle cx="653.5" cy="255.4" r="0.95"/><circle cx="655.3" cy="255.3" r="0.95"/><circle cx="657.5" cy="255.3" r="0.95"/><circle cx="659.5" cy="255.5" r="0.95"/><circle cx="661.3" cy="255.4" r="0.95"/><circle cx="663.4" cy="255.3" r="0.95"/><circle cx="665.6" cy="255.2" r="0.95"/><circle cx="667.4" cy="255.6" r="0.95"/><circle cx="669.2" cy="255.3" r="0.95"/><circle cx="644.5" cy="257.3" r="0.95"/><circle cx="646.3" cy="257.2" r="0.95"/><circle cx="650.3" cy="257.1" r="0.95"/><circle cx="652.5" cy="257.1" r="0.95"/><circle cx="654.3" cy="257.3" r="0.95"/><circle cx="656.5" cy="257.1" r="0.95"/><circle cx="658.4" cy="257.2" r="0.95"/><circle cx="660.3" cy="257.2" r="0.95"/><circle cx="662.3" cy="257.2" r="0.95"/><circle cx="664.5" cy="257.3" r="0.95"/><circle cx="666.3" cy="257.1" r="0.95"/><circle cx="647.2" cy="259.1" r="0.95"/><circle cx="649.4" cy="259.0" r="0.95"/><circle cx="651.3" cy="259.1" r="0.95"/><circle cx="653.3" cy="258.9" r="0.95"/><circle cx="655.5" cy="259.2" r="0.95"/><circle cx="657.5" cy="259.0" r="0.95"/><circle cx="659.4" cy="259.1" r="0.95"/><circle cx="661.5" cy="258.8" r="0.95"/><circle cx="663.5" cy="259.0" r="0.95"/><circle cx="665.3" cy="258.8" r="0.95"/><circle cx="667.3" cy="258.9" r="0.95"/><circle cx="650.3" cy="260.6" r="0.95"/><circle cx="652.2" cy="260.6" r="0.95"/><circle cx="654.4" cy="260.8" r="0.95"/><circle cx="656.3" cy="260.8" r="0.95"/><circle cx="658.3" cy="260.8" r="0.95"/><circle cx="662.4" cy="260.6" r="0.95"/><circle cx="651.4" cy="262.7" r="0.95"/><circle cx="653.6" cy="262.7" r="0.95"/><circle cx="655.4" cy="262.5" r="0.95"/><circle cx="659.3" cy="262.7" r="0.95"/><circle cx="661.3" cy="262.7" r="0.95"/><circle cx="663.6" cy="262.6" r="0.95"/><circle cx="650.3" cy="264.4" r="0.95"/><circle cx="652.6" cy="264.4" r="0.95"/><circle cx="654.5" cy="264.5" r="0.95"/><circle cx="658.6" cy="264.6" r="0.95"/><circle cx="664.6" cy="264.3" r="0.95"/><circle cx="651.6" cy="266.1" r="0.95"/><circle cx="653.2" cy="266.0" r="0.95"/><circle cx="655.4" cy="266.3" r="0.95"/><circle cx="657.5" cy="266.3" r="0.95"/><circle cx="659.4" cy="266.1" r="0.95"/><circle cx="663.2" cy="266.2" r="0.95"/><circle cx="650.3" cy="268.0" r="0.95"/><circle cx="654.4" cy="268.0" r="0.95"/><circle cx="656.4" cy="268.1" r="0.95"/><circle cx="658.2" cy="268.0" r="0.95"/><circle cx="660.4" cy="267.8" r="0.95"/><circle cx="662.3" cy="267.9" r="0.95"/><circle cx="664.3" cy="268.0" r="0.95"/><circle cx="655.5" cy="269.6" r="0.95"/><circle cx="659.6" cy="269.9" r="0.95"/><circle cx="654.2" cy="271.5" r="0.95"/><circle cx="656.3" cy="271.6" r="0.95"/><circle cx="660.5" cy="271.7" r="0.95"/><circle cx="655.3" cy="273.4" r="0.95"/><circle cx="657.6" cy="273.3" r="0.95"/><circle cx="659.3" cy="273.5" r="0.95"/><circle cx="654.5" cy="275.2" r="0.95"/><circle cx="658.4" cy="275.0" r="0.95"/><circle cx="660.2" cy="275.3" r="0.95"/><circle cx="657.6" cy="277.1" r="0.95"/><circle cx="654.2" cy="278.9" r="0.95"/><circle cx="656.4" cy="278.9" r="0.95"/><circle cx="658.3" cy="278.9" r="0.95"/><circle cx="660.6" cy="278.7" r="0.95"/><circle cx="657.5" cy="280.6" r="0.95"/><circle cx="654.6" cy="282.3" r="0.95"/><circle cx="656.3" cy="282.4" r="0.95"/><circle cx="658.4" cy="282.5" r="0.95"/><circle cx="655.5" cy="284.2" r="0.95"/><circle cx="657.4" cy="284.4" r="0.95"/><circle cx="659.6" cy="284.3" r="0.95"/><circle cx="656.5" cy="286.0" r="0.95"/><circle cx="658.6" cy="285.8" r="0.95"/><circle cx="659.4" cy="286.0" r="0.95"/><circle cx="659.5" cy="287.9" r="0.95"/><circle cx="656.4" cy="289.4" r="0.95"/><circle cx="658.4" cy="289.7" r="0.95"/><circle cx="659.4" cy="289.6" r="0.95"/><circle cx="655.4" cy="291.5" r="0.95"/><circle cx="657.4" cy="291.2" r="0.95"/><circle cx="659.5" cy="291.3" r="0.95"/><circle cx="657.4" cy="300.5" r="0.95"/></g>
<line x1="591.8" y1="260.8" x2="685" y2="260.8" stroke="#000" stroke-width="1.4" stroke-dasharray="1.4,1.8"/>
<line x1="616.75" y1="240.60" x2="616.75" y2="244.20" stroke="#000" stroke-width="1.0"/>
<line x1="610.75" y1="240.60" x2="622.75" y2="240.60" stroke="#000" stroke-width="1.0"/>
<line x1="610.75" y1="244.20" x2="622.75" y2="244.20" stroke="#000" stroke-width="1.0"/>
<line x1="603.30" y1="242.40" x2="630.20" y2="242.40" stroke="#000" stroke-width="1.5"/>
<line x1="657.30" y1="240.60" x2="657.30" y2="244.20" stroke="#000" stroke-width="1.0"/>
<line x1="651.30" y1="240.60" x2="663.30" y2="240.60" stroke="#000" stroke-width="1.0"/>
<line x1="651.30" y1="244.20" x2="663.30" y2="244.20" stroke="#000" stroke-width="1.0"/>
<line x1="643.80" y1="242.40" x2="670.80" y2="242.40" stroke="#000" stroke-width="1.5"/>
<line x1="589.70" y1="191.45" x2="589.70" y2="330.55" stroke="#000" stroke-width="1.3"/>
<line x1="589.05" y1="329.90" x2="685.00" y2="329.90" stroke="#000" stroke-width="1.3"/>
<line x1="583.90" y1="192.10" x2="589.70" y2="192.10" stroke="#000" stroke-width="1.3"/>
<text x="582.50" y="195.55" font-size="9.8" font-weight="bold" text-anchor="end" fill="#231f20">1.0</text>
<line x1="583.90" y1="226.45" x2="589.70" y2="226.45" stroke="#000" stroke-width="1.3"/>
<text x="582.50" y="229.90" font-size="9.8" font-weight="bold" text-anchor="end" fill="#231f20">0.5</text>
<line x1="583.90" y1="260.80" x2="589.70" y2="260.80" stroke="#000" stroke-width="1.3"/>
<text x="582.50" y="264.25" font-size="9.8" font-weight="bold" text-anchor="end" fill="#231f20">0.0</text>
<line x1="583.90" y1="295.15" x2="589.70" y2="295.15" stroke="#000" stroke-width="1.3"/>
<text x="582.50" y="298.60" font-size="9.8" font-weight="bold" text-anchor="end" fill="#231f20">-0.5</text>
<line x1="583.90" y1="329.50" x2="589.70" y2="329.50" stroke="#000" stroke-width="1.3"/>
<text x="582.50" y="332.95" font-size="9.8" font-weight="bold" text-anchor="end" fill="#231f20">-1.0</text>
<line x1="616.70" y1="329.90" x2="616.70" y2="335.50" stroke="#000" stroke-width="1.3"/>
<line x1="657.00" y1="329.90" x2="657.00" y2="335.50" stroke="#000" stroke-width="1.3"/>
<text x="595.20" y="346.30" font-size="10" font-weight="bold" text-anchor="start" fill="#231f20" textLength="43.2" lengthAdjust="spacingAndGlyphs">Baseline</text>
<text x="645.60" y="346.30" font-size="10" font-weight="bold" text-anchor="start" fill="#231f20" textLength="23.4" lengthAdjust="spacingAndGlyphs">CNO</text>
<text transform="translate(556.42,260.10) rotate(-90)" font-size="11.5" font-weight="bold" text-anchor="middle" fill="#231f20"><tspan>R</tspan><tspan font-size="9.0" dy="-5.2">2</tspan></text>
<text x="394.30" y="365.30" font-size="23" font-weight="bold" text-anchor="start" fill="#231f20">n</text>
<g fill="#6899d3"><circle cx="464.0" cy="375.7" r="0.95"/><circle cx="463.3" cy="377.8" r="0.95"/><circle cx="466.6" cy="377.5" r="0.95"/><circle cx="459.7" cy="379.6" r="0.95"/><circle cx="464.3" cy="379.7" r="0.95"/><circle cx="466.6" cy="379.6" r="0.95"/><circle cx="468.5" cy="379.6" r="0.95"/><circle cx="456.6" cy="381.7" r="0.95"/><circle cx="463.0" cy="381.5" r="0.95"/><circle cx="465.5" cy="381.8" r="0.95"/><circle cx="467.4" cy="381.4" r="0.95"/><circle cx="471.8" cy="381.4" r="0.95"/><circle cx="474.3" cy="381.6" r="0.95"/><circle cx="453.4" cy="383.7" r="0.95"/><circle cx="455.4" cy="383.8" r="0.95"/><circle cx="460.0" cy="383.8" r="0.95"/><circle cx="466.3" cy="383.7" r="0.95"/><circle cx="468.7" cy="383.7" r="0.95"/><circle cx="473.0" cy="383.6" r="0.95"/><circle cx="475.2" cy="383.4" r="0.95"/><circle cx="458.9" cy="385.6" r="0.95"/><circle cx="461.0" cy="385.5" r="0.95"/><circle cx="462.9" cy="385.8" r="0.95"/><circle cx="467.5" cy="385.6" r="0.95"/><circle cx="472.0" cy="385.7" r="0.95"/><circle cx="457.8" cy="387.4" r="0.95"/><circle cx="459.9" cy="387.8" r="0.95"/><circle cx="461.8" cy="387.4" r="0.95"/><circle cx="464.4" cy="387.7" r="0.95"/><circle cx="466.4" cy="387.5" r="0.95"/><circle cx="468.5" cy="387.7" r="0.95"/><circle cx="458.7" cy="389.8" r="0.95"/><circle cx="460.7" cy="389.8" r="0.95"/><circle cx="463.3" cy="389.8" r="0.95"/><circle cx="465.5" cy="389.5" r="0.95"/><circle cx="467.4" cy="389.7" r="0.95"/><circle cx="469.7" cy="389.7" r="0.95"/><circle cx="457.4" cy="391.8" r="0.95"/><circle cx="464.0" cy="391.5" r="0.95"/><circle cx="466.4" cy="391.5" r="0.95"/><circle cx="468.6" cy="391.8" r="0.95"/><circle cx="470.6" cy="391.4" r="0.95"/><circle cx="458.8" cy="393.6" r="0.95"/><circle cx="461.0" cy="393.7" r="0.95"/><circle cx="462.9" cy="393.8" r="0.95"/><circle cx="467.6" cy="393.7" r="0.95"/><circle cx="469.7" cy="393.7" r="0.95"/><circle cx="457.8" cy="395.6" r="0.95"/><circle cx="466.6" cy="395.5" r="0.95"/><circle cx="468.6" cy="395.7" r="0.95"/><circle cx="471.0" cy="395.4" r="0.95"/><circle cx="458.9" cy="397.5" r="0.95"/><circle cx="461.1" cy="397.8" r="0.95"/><circle cx="463.2" cy="397.8" r="0.95"/><circle cx="465.1" cy="397.6" r="0.95"/><circle cx="469.8" cy="397.4" r="0.95"/><circle cx="473.9" cy="397.8" r="0.95"/><circle cx="475.0" cy="397.5" r="0.95"/><circle cx="457.4" cy="399.7" r="0.95"/><circle cx="459.9" cy="399.6" r="0.95"/><circle cx="464.4" cy="399.4" r="0.95"/><circle cx="466.3" cy="399.6" r="0.95"/><circle cx="468.8" cy="399.6" r="0.95"/><circle cx="473.1" cy="399.8" r="0.95"/><circle cx="475.4" cy="399.5" r="0.95"/><circle cx="454.1" cy="401.5" r="0.95"/><circle cx="465.3" cy="401.5" r="0.95"/><circle cx="469.5" cy="401.7" r="0.95"/><circle cx="472.0" cy="401.7" r="0.95"/><circle cx="457.6" cy="403.8" r="0.95"/><circle cx="459.8" cy="403.5" r="0.95"/><circle cx="462.1" cy="403.6" r="0.95"/><circle cx="464.2" cy="403.5" r="0.95"/><circle cx="468.5" cy="403.8" r="0.95"/><circle cx="470.8" cy="403.8" r="0.95"/><circle cx="463.1" cy="405.5" r="0.95"/><circle cx="467.4" cy="405.4" r="0.95"/><circle cx="460.0" cy="407.6" r="0.95"/><circle cx="462.1" cy="407.8" r="0.95"/><circle cx="464.4" cy="407.7" r="0.95"/><circle cx="466.6" cy="407.7" r="0.95"/><circle cx="461.1" cy="409.8" r="0.95"/><circle cx="463.1" cy="409.6" r="0.95"/><circle cx="465.3" cy="409.8" r="0.95"/><circle cx="460.0" cy="411.5" r="0.95"/><circle cx="464.1" cy="411.6" r="0.95"/><circle cx="466.6" cy="411.7" r="0.95"/><circle cx="468.7" cy="411.7" r="0.95"/><circle cx="460.9" cy="413.8" r="0.95"/><circle cx="465.5" cy="413.5" r="0.95"/><circle cx="460.0" cy="415.8" r="0.95"/><circle cx="466.6" cy="415.7" r="0.95"/><circle cx="458.5" cy="417.8" r="0.95"/><circle cx="463.1" cy="417.6" r="0.95"/><circle cx="465.1" cy="417.7" r="0.95"/><circle cx="467.3" cy="417.7" r="0.95"/><circle cx="469.9" cy="417.8" r="0.95"/><circle cx="455.5" cy="419.7" r="0.95"/><circle cx="459.9" cy="419.7" r="0.95"/><circle cx="461.9" cy="419.4" r="0.95"/><circle cx="466.2" cy="419.4" r="0.95"/><circle cx="468.4" cy="419.6" r="0.95"/><circle cx="470.6" cy="419.4" r="0.95"/><circle cx="473.1" cy="419.4" r="0.95"/><circle cx="454.2" cy="421.4" r="0.95"/><circle cx="456.6" cy="421.5" r="0.95"/><circle cx="461.1" cy="421.5" r="0.95"/><circle cx="463.0" cy="421.6" r="0.95"/><circle cx="465.1" cy="421.7" r="0.95"/><circle cx="467.6" cy="421.6" r="0.95"/><circle cx="469.5" cy="421.5" r="0.95"/><circle cx="474.3" cy="421.8" r="0.95"/><circle cx="455.5" cy="423.5" r="0.95"/><circle cx="466.2" cy="423.5" r="0.95"/><circle cx="460.9" cy="425.6" r="0.95"/><circle cx="463.1" cy="425.5" r="0.95"/><circle cx="468.8" cy="425.5" r="0.95"/><circle cx="462.2" cy="427.4" r="0.95"/><circle cx="464.0" cy="427.7" r="0.95"/><circle cx="461.1" cy="429.5" r="0.95"/><circle cx="465.4" cy="429.5" r="0.95"/><circle cx="467.7" cy="429.7" r="0.95"/><circle cx="466.6" cy="431.7" r="0.95"/><circle cx="458.7" cy="433.6" r="0.95"/><circle cx="463.0" cy="433.6" r="0.95"/><circle cx="465.1" cy="433.6" r="0.95"/><circle cx="467.6" cy="433.5" r="0.95"/><circle cx="469.8" cy="433.4" r="0.95"/><circle cx="457.8" cy="435.8" r="0.95"/><circle cx="460.0" cy="435.4" r="0.95"/><circle cx="466.4" cy="435.6" r="0.95"/><circle cx="468.4" cy="435.7" r="0.95"/><circle cx="470.6" cy="435.7" r="0.95"/><circle cx="456.3" cy="437.6" r="0.95"/><circle cx="458.8" cy="437.5" r="0.95"/><circle cx="460.7" cy="437.6" r="0.95"/><circle cx="463.0" cy="437.6" r="0.95"/><circle cx="465.1" cy="437.6" r="0.95"/><circle cx="467.6" cy="437.7" r="0.95"/><circle cx="472.8" cy="437.8" r="0.95"/><circle cx="455.2" cy="439.7" r="0.95"/><circle cx="457.8" cy="439.8" r="0.95"/><circle cx="459.6" cy="439.6" r="0.95"/><circle cx="468.7" cy="439.4" r="0.95"/><circle cx="470.9" cy="439.6" r="0.95"/><circle cx="473.0" cy="439.4" r="0.95"/><circle cx="463.2" cy="441.4" r="0.95"/><circle cx="465.1" cy="441.4" r="0.95"/><circle cx="467.7" cy="441.5" r="0.95"/><circle cx="462.1" cy="443.8" r="0.95"/><circle cx="466.3" cy="443.7" r="0.95"/></g>
<g fill="#c272b3"><circle cx="499.9" cy="378.7" r="0.95"/><circle cx="501.0" cy="380.9" r="0.95"/><circle cx="505.5" cy="380.5" r="0.95"/><circle cx="497.7" cy="382.8" r="0.95"/><circle cx="499.9" cy="382.8" r="0.95"/><circle cx="496.5" cy="384.5" r="0.95"/><circle cx="503.0" cy="384.6" r="0.95"/><circle cx="507.4" cy="384.8" r="0.95"/><circle cx="509.7" cy="384.9" r="0.95"/><circle cx="497.5" cy="386.6" r="0.95"/><circle cx="504.1" cy="386.9" r="0.95"/><circle cx="510.8" cy="386.6" r="0.95"/><circle cx="513.0" cy="386.7" r="0.95"/><circle cx="496.5" cy="388.9" r="0.95"/><circle cx="498.6" cy="388.8" r="0.95"/><circle cx="516.5" cy="388.8" r="0.95"/><circle cx="493.3" cy="390.7" r="0.95"/><circle cx="497.9" cy="390.6" r="0.95"/><circle cx="499.9" cy="390.6" r="0.95"/><circle cx="508.9" cy="390.7" r="0.95"/><circle cx="513.1" cy="390.8" r="0.95"/><circle cx="494.4" cy="392.8" r="0.95"/><circle cx="498.6" cy="392.6" r="0.95"/><circle cx="501.2" cy="392.9" r="0.95"/><circle cx="505.3" cy="392.7" r="0.95"/><circle cx="507.8" cy="392.6" r="0.95"/><circle cx="511.8" cy="392.6" r="0.95"/><circle cx="514.4" cy="392.5" r="0.95"/><circle cx="495.5" cy="394.7" r="0.95"/><circle cx="497.9" cy="394.6" r="0.95"/><circle cx="502.0" cy="394.6" r="0.95"/><circle cx="504.5" cy="394.5" r="0.95"/><circle cx="506.7" cy="394.6" r="0.95"/><circle cx="496.6" cy="396.8" r="0.95"/><circle cx="498.8" cy="396.5" r="0.95"/><circle cx="503.4" cy="396.6" r="0.95"/><circle cx="495.5" cy="398.9" r="0.95"/><circle cx="497.5" cy="398.6" r="0.95"/><circle cx="502.3" cy="398.5" r="0.95"/><circle cx="506.3" cy="398.9" r="0.95"/><circle cx="510.8" cy="398.5" r="0.95"/><circle cx="498.7" cy="400.7" r="0.95"/><circle cx="503.3" cy="400.6" r="0.95"/><circle cx="505.4" cy="400.5" r="0.95"/><circle cx="507.4" cy="400.5" r="0.95"/><circle cx="509.9" cy="400.8" r="0.95"/><circle cx="514.4" cy="400.6" r="0.95"/><circle cx="502.2" cy="402.8" r="0.95"/><circle cx="504.3" cy="402.7" r="0.95"/><circle cx="498.9" cy="404.6" r="0.95"/><circle cx="501.1" cy="404.7" r="0.95"/><circle cx="511.8" cy="404.7" r="0.95"/><circle cx="514.4" cy="404.5" r="0.95"/><circle cx="495.7" cy="406.6" r="0.95"/><circle cx="497.6" cy="406.6" r="0.95"/><circle cx="500.1" cy="406.9" r="0.95"/><circle cx="504.3" cy="406.9" r="0.95"/><circle cx="506.5" cy="406.9" r="0.95"/><circle cx="513.0" cy="406.7" r="0.95"/><circle cx="501.0" cy="408.9" r="0.95"/><circle cx="505.3" cy="408.5" r="0.95"/><circle cx="507.6" cy="408.9" r="0.95"/><circle cx="510.0" cy="408.5" r="0.95"/><circle cx="512.2" cy="408.9" r="0.95"/><circle cx="513.0" cy="408.7" r="0.95"/><circle cx="499.7" cy="410.6" r="0.95"/><circle cx="502.2" cy="410.6" r="0.95"/><circle cx="508.6" cy="410.8" r="0.95"/><circle cx="510.9" cy="410.9" r="0.95"/><circle cx="498.8" cy="412.7" r="0.95"/><circle cx="501.2" cy="412.8" r="0.95"/><circle cx="503.3" cy="412.9" r="0.95"/><circle cx="509.7" cy="412.6" r="0.95"/><circle cx="510.9" cy="412.6" r="0.95"/><circle cx="499.9" cy="414.9" r="0.95"/><circle cx="502.0" cy="414.5" r="0.95"/><circle cx="504.1" cy="414.6" r="0.95"/><circle cx="508.6" cy="414.7" r="0.95"/><circle cx="498.7" cy="416.5" r="0.95"/><circle cx="501.1" cy="416.6" r="0.95"/><circle cx="503.0" cy="416.9" r="0.95"/><circle cx="505.4" cy="416.7" r="0.95"/><circle cx="507.4" cy="416.6" r="0.95"/><circle cx="509.8" cy="416.5" r="0.95"/><circle cx="511.0" cy="416.8" r="0.95"/><circle cx="497.7" cy="418.7" r="0.95"/><circle cx="499.9" cy="418.8" r="0.95"/><circle cx="501.9" cy="418.7" r="0.95"/><circle cx="504.2" cy="418.7" r="0.95"/><circle cx="508.5" cy="418.7" r="0.95"/><circle cx="511.0" cy="418.7" r="0.95"/><circle cx="498.7" cy="420.6" r="0.95"/><circle cx="505.2" cy="420.6" r="0.95"/><circle cx="509.9" cy="420.9" r="0.95"/><circle cx="497.7" cy="422.6" r="0.95"/><circle cx="499.8" cy="422.8" r="0.95"/><circle cx="502.1" cy="422.8" r="0.95"/><circle cx="504.3" cy="422.9" r="0.95"/><circle cx="506.5" cy="422.6" r="0.95"/><circle cx="508.6" cy="422.7" r="0.95"/><circle cx="507.5" cy="424.9" r="0.95"/><circle cx="509.8" cy="424.5" r="0.95"/><circle cx="510.7" cy="424.9" r="0.95"/><circle cx="497.5" cy="426.8" r="0.95"/><circle cx="499.7" cy="426.8" r="0.95"/><circle cx="504.4" cy="426.7" r="0.95"/><circle cx="506.7" cy="426.5" r="0.95"/><circle cx="510.9" cy="426.8" r="0.95"/><circle cx="498.8" cy="428.8" r="0.95"/><circle cx="501.1" cy="428.9" r="0.95"/><circle cx="503.2" cy="428.5" r="0.95"/><circle cx="505.6" cy="428.7" r="0.95"/><circle cx="507.4" cy="428.9" r="0.95"/><circle cx="509.7" cy="428.5" r="0.95"/><circle cx="495.4" cy="430.6" r="0.95"/><circle cx="501.9" cy="430.8" r="0.95"/><circle cx="499.0" cy="432.8" r="0.95"/><circle cx="500.9" cy="432.9" r="0.95"/><circle cx="503.1" cy="432.8" r="0.95"/><circle cx="507.8" cy="432.9" r="0.95"/><circle cx="510.0" cy="432.5" r="0.95"/><circle cx="513.2" cy="432.9" r="0.95"/><circle cx="495.5" cy="434.8" r="0.95"/><circle cx="506.4" cy="434.8" r="0.95"/><circle cx="508.7" cy="434.5" r="0.95"/><circle cx="512.9" cy="434.6" r="0.95"/><circle cx="494.2" cy="436.9" r="0.95"/><circle cx="496.8" cy="436.9" r="0.95"/><circle cx="500.9" cy="436.7" r="0.95"/><circle cx="505.2" cy="436.5" r="0.95"/><circle cx="507.5" cy="436.9" r="0.95"/><circle cx="509.6" cy="436.7" r="0.95"/><circle cx="493.4" cy="438.7" r="0.95"/><circle cx="495.4" cy="438.5" r="0.95"/><circle cx="499.7" cy="438.6" r="0.95"/><circle cx="502.3" cy="438.6" r="0.95"/><circle cx="504.3" cy="438.9" r="0.95"/><circle cx="506.3" cy="438.7" r="0.95"/><circle cx="508.9" cy="438.9" r="0.95"/><circle cx="510.8" cy="438.7" r="0.95"/><circle cx="496.6" cy="440.7" r="0.95"/><circle cx="498.8" cy="440.5" r="0.95"/><circle cx="503.2" cy="440.6" r="0.95"/><circle cx="505.6" cy="440.6" r="0.95"/><circle cx="509.6" cy="440.8" r="0.95"/><circle cx="512.0" cy="440.6" r="0.95"/><circle cx="515.5" cy="440.9" r="0.95"/><circle cx="493.2" cy="442.8" r="0.95"/><circle cx="495.7" cy="442.8" r="0.95"/><circle cx="497.8" cy="442.9" r="0.95"/><circle cx="499.8" cy="442.6" r="0.95"/><circle cx="504.2" cy="442.8" r="0.95"/><circle cx="508.9" cy="442.8" r="0.95"/><circle cx="515.2" cy="442.5" r="0.95"/></g>
<rect x="462.52" y="406.40" width="10.25" height="3.00" fill="#000"/>
<line x1="457.40" y1="407.90" x2="477.90" y2="407.90" stroke="#000" stroke-width="1.5"/>
<rect x="498.12" y="411.90" width="13.05" height="3.00" fill="#000"/>
<line x1="491.60" y1="413.40" x2="517.70" y2="413.40" stroke="#000" stroke-width="1.5"/>
<line x1="438.40" y1="373.95" x2="438.40" y2="514.85" stroke="#000" stroke-width="1.3"/>
<line x1="437.75" y1="514.20" x2="531.00" y2="514.20" stroke="#000" stroke-width="1.3"/>
<line x1="432.60" y1="514.20" x2="438.40" y2="514.20" stroke="#000" stroke-width="1.3"/>
<text x="431.30" y="517.65" font-size="9.8" font-weight="bold" text-anchor="end" fill="#231f20">0.0</text>
<line x1="432.60" y1="486.28" x2="438.40" y2="486.28" stroke="#000" stroke-width="1.3"/>
<text x="431.30" y="489.73" font-size="9.8" font-weight="bold" text-anchor="end" fill="#231f20">0.2</text>
<line x1="432.60" y1="458.36" x2="438.40" y2="458.36" stroke="#000" stroke-width="1.3"/>
<text x="431.30" y="461.81" font-size="9.8" font-weight="bold" text-anchor="end" fill="#231f20">0.4</text>
<line x1="432.60" y1="430.44" x2="438.40" y2="430.44" stroke="#000" stroke-width="1.3"/>
<text x="431.30" y="433.89" font-size="9.8" font-weight="bold" text-anchor="end" fill="#231f20">0.6</text>
<line x1="432.60" y1="402.52" x2="438.40" y2="402.52" stroke="#000" stroke-width="1.3"/>
<text x="431.30" y="405.97" font-size="9.8" font-weight="bold" text-anchor="end" fill="#231f20">0.8</text>
<line x1="432.60" y1="374.60" x2="438.40" y2="374.60" stroke="#000" stroke-width="1.3"/>
<text x="431.30" y="378.05" font-size="9.8" font-weight="bold" text-anchor="end" fill="#231f20">1.0</text>
<line x1="464.60" y1="514.20" x2="464.60" y2="519.60" stroke="#000" stroke-width="1.3"/>
<line x1="504.40" y1="514.20" x2="504.40" y2="519.60" stroke="#000" stroke-width="1.3"/>
<text x="443.50" y="530.90" font-size="10" font-weight="bold" text-anchor="start" fill="#231f20" textLength="42.1" lengthAdjust="spacingAndGlyphs">Baseline</text>
<text x="492.80" y="530.90" font-size="10" font-weight="bold" text-anchor="start" fill="#231f20" textLength="23.3" lengthAdjust="spacingAndGlyphs">CNO</text>
<line x1="468.10" y1="368.00" x2="504.90" y2="368.00" stroke="#000" stroke-width="1.5"/>
<text x="482.40" y="371.90" font-size="20" font-weight="bold" text-anchor="middle" fill="#231f20">*</text>
<text x="491.20" y="371.90" font-size="20" font-weight="bold" text-anchor="middle" fill="#231f20">*</text>
<text transform="translate(409.02,444.40) rotate(-90)" font-size="11.5" font-weight="bold" text-anchor="middle" fill="#231f20" textLength="47.3" lengthAdjust="spacingAndGlyphs"><tspan>R</tspan><tspan font-size="9.0" dy="-5.2">2</tspan><tspan dy="5.2"> &gt; 50%</tspan></text>
<text x="541.90" y="365.60" font-size="23" font-weight="bold" text-anchor="start" fill="#231f20">o</text>
<g fill="#add899"><rect x="612.8" y="386.6" width="1.7" height="1.7"/><rect x="615.3" y="386.5" width="1.7" height="1.7"/><rect x="617.7" y="386.6" width="1.7" height="1.7"/><rect x="620.3" y="386.5" width="1.7" height="1.7"/><rect x="610.2" y="388.6" width="1.7" height="1.7"/><rect x="612.7" y="388.5" width="1.7" height="1.7"/><rect x="617.7" y="388.5" width="1.7" height="1.7"/><rect x="620.2" y="388.6" width="1.7" height="1.7"/><rect x="617.7" y="390.5" width="1.7" height="1.7"/><rect x="612.7" y="392.6" width="1.7" height="1.7"/><rect x="615.2" y="392.6" width="1.7" height="1.7"/><rect x="617.8" y="392.5" width="1.7" height="1.7"/><rect x="620.2" y="392.5" width="1.7" height="1.7"/><rect x="607.8" y="394.6" width="1.7" height="1.7"/><rect x="610.3" y="394.5" width="1.7" height="1.7"/><rect x="612.8" y="394.5" width="1.7" height="1.7"/><rect x="622.7" y="394.5" width="1.7" height="1.7"/><rect x="607.8" y="396.6" width="1.7" height="1.7"/><rect x="612.8" y="396.6" width="1.7" height="1.7"/><rect x="620.2" y="396.6" width="1.7" height="1.7"/><rect x="610.3" y="398.5" width="1.7" height="1.7"/><rect x="617.7" y="398.6" width="1.7" height="1.7"/><rect x="622.7" y="398.5" width="1.7" height="1.7"/><rect x="615.3" y="400.5" width="1.7" height="1.7"/><rect x="617.7" y="400.6" width="1.7" height="1.7"/><rect x="615.2" y="404.6" width="1.7" height="1.7"/><rect x="615.3" y="408.6" width="1.7" height="1.7"/><rect x="615.3" y="410.5" width="1.7" height="1.7"/><rect x="617.8" y="410.6" width="1.7" height="1.7"/><rect x="615.3" y="412.5" width="1.7" height="1.7"/><rect x="615.2" y="414.5" width="1.7" height="1.7"/><rect x="617.7" y="414.5" width="1.7" height="1.7"/><rect x="612.7" y="416.5" width="1.7" height="1.7"/><rect x="615.3" y="418.6" width="1.7" height="1.7"/><rect x="617.8" y="418.5" width="1.7" height="1.7"/><rect x="617.7" y="420.5" width="1.7" height="1.7"/><rect x="612.7" y="422.5" width="1.7" height="1.7"/><rect x="612.8" y="424.5" width="1.7" height="1.7"/><rect x="615.3" y="426.6" width="1.7" height="1.7"/><rect x="617.7" y="426.5" width="1.7" height="1.7"/><rect x="612.8" y="428.5" width="1.7" height="1.7"/><rect x="612.8" y="430.5" width="1.7" height="1.7"/><rect x="617.8" y="432.5" width="1.7" height="1.7"/><rect x="615.2" y="434.5" width="1.7" height="1.7"/><rect x="617.8" y="434.5" width="1.7" height="1.7"/><rect x="612.7" y="436.5" width="1.7" height="1.7"/><rect x="615.2" y="374.1" width="1.7" height="1.7"/><rect x="614.0" y="378.4" width="1.7" height="1.7"/><rect x="616.5" y="378.4" width="1.7" height="1.7"/></g>
<g fill="#248c49"><rect x="655.5" y="380.8" width="1.8" height="1.8"/><rect x="655.5" y="382.8" width="1.8" height="1.8"/><rect x="655.5" y="384.6" width="1.8" height="1.8"/><rect x="653.0" y="386.6" width="1.8" height="1.8"/><rect x="650.4" y="388.4" width="1.8" height="1.8"/><rect x="655.5" y="388.5" width="1.8" height="1.8"/><rect x="657.9" y="388.5" width="1.8" height="1.8"/><rect x="660.5" y="388.5" width="1.8" height="1.8"/><rect x="652.9" y="390.4" width="1.8" height="1.8"/><rect x="655.5" y="390.4" width="1.8" height="1.8"/><rect x="658.0" y="390.5" width="1.8" height="1.8"/><rect x="660.4" y="390.4" width="1.8" height="1.8"/><rect x="653.0" y="392.3" width="1.8" height="1.8"/><rect x="655.6" y="392.4" width="1.8" height="1.8"/><rect x="658.0" y="392.4" width="1.8" height="1.8"/><rect x="660.5" y="392.4" width="1.8" height="1.8"/><rect x="653.0" y="394.2" width="1.8" height="1.8"/><rect x="658.0" y="394.3" width="1.8" height="1.8"/><rect x="660.5" y="394.3" width="1.8" height="1.8"/><rect x="652.9" y="396.2" width="1.8" height="1.8"/><rect x="658.0" y="396.1" width="1.8" height="1.8"/><rect x="650.5" y="398.0" width="1.8" height="1.8"/><rect x="653.0" y="397.9" width="1.8" height="1.8"/><rect x="655.4" y="397.9" width="1.8" height="1.8"/><rect x="657.9" y="397.9" width="1.8" height="1.8"/><rect x="660.5" y="398.0" width="1.8" height="1.8"/><rect x="652.9" y="399.8" width="1.8" height="1.8"/><rect x="655.5" y="399.8" width="1.8" height="1.8"/><rect x="658.1" y="400.0" width="1.8" height="1.8"/><rect x="660.6" y="399.9" width="1.8" height="1.8"/><rect x="650.4" y="401.7" width="1.8" height="1.8"/><rect x="655.6" y="401.9" width="1.8" height="1.8"/><rect x="660.4" y="401.8" width="1.8" height="1.8"/><rect x="650.5" y="403.7" width="1.8" height="1.8"/><rect x="655.6" y="403.7" width="1.8" height="1.8"/><rect x="658.1" y="403.7" width="1.8" height="1.8"/><rect x="655.4" y="405.7" width="1.8" height="1.8"/><rect x="658.0" y="405.6" width="1.8" height="1.8"/><rect x="660.6" y="405.7" width="1.8" height="1.8"/><rect x="650.4" y="407.6" width="1.8" height="1.8"/><rect x="652.9" y="407.4" width="1.8" height="1.8"/><rect x="655.5" y="407.5" width="1.8" height="1.8"/><rect x="658.1" y="407.5" width="1.8" height="1.8"/><rect x="650.6" y="409.5" width="1.8" height="1.8"/><rect x="655.5" y="409.4" width="1.8" height="1.8"/><rect x="658.0" y="409.4" width="1.8" height="1.8"/><rect x="657.9" y="411.3" width="1.8" height="1.8"/><rect x="660.6" y="411.3" width="1.8" height="1.8"/><rect x="650.4" y="413.1" width="1.8" height="1.8"/><rect x="653.1" y="413.1" width="1.8" height="1.8"/><rect x="658.0" y="413.2" width="1.8" height="1.8"/><rect x="660.6" y="413.1" width="1.8" height="1.8"/><rect x="650.4" y="415.0" width="1.8" height="1.8"/><rect x="655.5" y="415.1" width="1.8" height="1.8"/><rect x="657.9" y="415.1" width="1.8" height="1.8"/><rect x="650.5" y="417.1" width="1.8" height="1.8"/><rect x="658.1" y="416.9" width="1.8" height="1.8"/><rect x="660.6" y="417.0" width="1.8" height="1.8"/><rect x="650.5" y="418.9" width="1.8" height="1.8"/><rect x="658.0" y="419.0" width="1.8" height="1.8"/><rect x="650.4" y="422.8" width="1.8" height="1.8"/><rect x="658.0" y="422.8" width="1.8" height="1.8"/><rect x="660.4" y="422.6" width="1.8" height="1.8"/><rect x="653.0" y="424.7" width="1.8" height="1.8"/><rect x="658.1" y="426.5" width="1.8" height="1.8"/><rect x="653.0" y="428.3" width="1.8" height="1.8"/><rect x="655.6" y="428.3" width="1.8" height="1.8"/><rect x="658.0" y="428.4" width="1.8" height="1.8"/><rect x="653.0" y="430.3" width="1.8" height="1.8"/><rect x="655.5" y="430.3" width="1.8" height="1.8"/><rect x="658.1" y="430.2" width="1.8" height="1.8"/><rect x="653.0" y="432.3" width="1.8" height="1.8"/><rect x="653.0" y="434.2" width="1.8" height="1.8"/><rect x="655.5" y="434.1" width="1.8" height="1.8"/><rect x="658.0" y="434.2" width="1.8" height="1.8"/><rect x="653.1" y="435.9" width="1.8" height="1.8"/><rect x="655.5" y="436.0" width="1.8" height="1.8"/><rect x="658.1" y="435.9" width="1.8" height="1.8"/><rect x="653.0" y="438.0" width="1.8" height="1.8"/></g>
<line x1="616.25" y1="405.30" x2="616.25" y2="410.70" stroke="#000" stroke-width="1.0"/>
<line x1="609.75" y1="405.30" x2="622.75" y2="405.30" stroke="#000" stroke-width="1.0"/>
<line x1="609.75" y1="410.70" x2="622.75" y2="410.70" stroke="#000" stroke-width="1.0"/>
<line x1="602.90" y1="408.00" x2="629.60" y2="408.00" stroke="#000" stroke-width="1.5"/>
<line x1="656.75" y1="407.10" x2="656.75" y2="412.50" stroke="#000" stroke-width="1.0"/>
<line x1="650.25" y1="407.10" x2="663.25" y2="407.10" stroke="#000" stroke-width="1.0"/>
<line x1="650.25" y1="412.50" x2="663.25" y2="412.50" stroke="#000" stroke-width="1.0"/>
<line x1="643.40" y1="409.80" x2="670.10" y2="409.80" stroke="#000" stroke-width="1.5"/>
<line x1="588.60" y1="367.95" x2="588.60" y2="510.75" stroke="#000" stroke-width="1.3"/>
<line x1="587.95" y1="510.10" x2="685.00" y2="510.10" stroke="#000" stroke-width="1.3"/>
<line x1="582.80" y1="510.10" x2="588.60" y2="510.10" stroke="#000" stroke-width="1.3"/>
<text x="581.50" y="513.55" font-size="9.8" font-weight="bold" text-anchor="end" fill="#231f20">0.0</text>
<line x1="582.80" y1="481.80" x2="588.60" y2="481.80" stroke="#000" stroke-width="1.3"/>
<text x="581.50" y="485.25" font-size="9.8" font-weight="bold" text-anchor="end" fill="#231f20">0.2</text>
<line x1="582.80" y1="453.50" x2="588.60" y2="453.50" stroke="#000" stroke-width="1.3"/>
<text x="581.50" y="456.95" font-size="9.8" font-weight="bold" text-anchor="end" fill="#231f20">0.4</text>
<line x1="582.80" y1="425.20" x2="588.60" y2="425.20" stroke="#000" stroke-width="1.3"/>
<text x="581.50" y="428.65" font-size="9.8" font-weight="bold" text-anchor="end" fill="#231f20">0.6</text>
<line x1="582.80" y1="396.90" x2="588.60" y2="396.90" stroke="#000" stroke-width="1.3"/>
<text x="581.50" y="400.35" font-size="9.8" font-weight="bold" text-anchor="end" fill="#231f20">0.8</text>
<line x1="582.80" y1="368.60" x2="588.60" y2="368.60" stroke="#000" stroke-width="1.3"/>
<text x="581.50" y="372.05" font-size="9.8" font-weight="bold" text-anchor="end" fill="#231f20">1.0</text>
<line x1="616.00" y1="510.10" x2="616.00" y2="515.60" stroke="#000" stroke-width="1.3"/>
<line x1="656.50" y1="510.10" x2="656.50" y2="515.60" stroke="#000" stroke-width="1.3"/>
<text x="594.10" y="527.70" font-size="10" font-weight="bold" text-anchor="start" fill="#231f20" textLength="43.8" lengthAdjust="spacingAndGlyphs">Baseline</text>
<text x="644.90" y="527.70" font-size="10" font-weight="bold" text-anchor="start" fill="#231f20" textLength="23.0" lengthAdjust="spacingAndGlyphs">CNO</text>
<text transform="translate(558.22,439.50) rotate(-90)" font-size="11.5" font-weight="bold" text-anchor="middle" fill="#231f20" textLength="48.0" lengthAdjust="spacingAndGlyphs"><tspan>R</tspan><tspan font-size="9.0" dy="-5.2">2</tspan><tspan dy="5.2"> &gt; 50%</tspan></text>
<text x="392.90" y="545.40" font-size="23" font-weight="bold" text-anchor="start" fill="#231f20">p</text>
<g fill="#6899d3"><circle cx="461.0" cy="612.8" r="1.0"/><circle cx="462.7" cy="612.6" r="1.0"/><circle cx="461.7" cy="614.5" r="1.0"/><circle cx="460.7" cy="616.3" r="1.0"/><circle cx="462.5" cy="616.5" r="1.0"/><circle cx="460.9" cy="619.9" r="1.0"/><circle cx="462.5" cy="620.0" r="1.0"/><circle cx="461.9" cy="621.9" r="1.0"/><circle cx="460.5" cy="623.6" r="1.0"/><circle cx="462.5" cy="623.8" r="1.0"/><circle cx="461.5" cy="625.5" r="1.0"/><circle cx="462.8" cy="627.2" r="1.0"/><circle cx="463.8" cy="627.0" r="1.0"/><circle cx="458.0" cy="628.8" r="1.0"/><circle cx="459.6" cy="629.2" r="1.0"/><circle cx="461.7" cy="629.0" r="1.0"/><circle cx="465.4" cy="629.1" r="1.0"/><circle cx="459.0" cy="630.7" r="1.0"/><circle cx="460.7" cy="631.0" r="1.0"/><circle cx="462.9" cy="631.0" r="1.0"/><circle cx="464.8" cy="630.9" r="1.0"/><circle cx="466.5" cy="630.7" r="1.0"/><circle cx="467.2" cy="630.7" r="1.0"/><circle cx="457.9" cy="632.8" r="1.0"/><circle cx="459.9" cy="632.6" r="1.0"/><circle cx="461.7" cy="632.8" r="1.0"/><circle cx="463.5" cy="632.4" r="1.0"/><circle cx="465.3" cy="632.8" r="1.0"/><circle cx="467.6" cy="632.7" r="1.0"/><circle cx="454.8" cy="634.3" r="1.0"/><circle cx="459.0" cy="634.2" r="1.0"/><circle cx="460.7" cy="634.3" r="1.0"/><circle cx="462.7" cy="634.4" r="1.0"/><circle cx="464.5" cy="634.4" r="1.0"/><circle cx="466.5" cy="634.3" r="1.0"/><circle cx="468.6" cy="634.3" r="1.0"/><circle cx="455.8" cy="636.4" r="1.0"/><circle cx="457.9" cy="636.2" r="1.0"/><circle cx="460.0" cy="636.0" r="1.0"/><circle cx="461.7" cy="636.4" r="1.0"/><circle cx="463.8" cy="636.1" r="1.0"/><circle cx="465.6" cy="636.1" r="1.0"/><circle cx="467.3" cy="636.0" r="1.0"/><circle cx="454.9" cy="638.2" r="1.0"/><circle cx="457.1" cy="638.0" r="1.0"/><circle cx="459.0" cy="637.9" r="1.0"/><circle cx="460.6" cy="637.8" r="1.0"/><circle cx="462.5" cy="638.1" r="1.0"/><circle cx="464.5" cy="637.9" r="1.0"/><circle cx="466.3" cy="638.0" r="1.0"/><circle cx="468.5" cy="638.2" r="1.0"/><circle cx="469.3" cy="637.8" r="1.0"/><circle cx="456.2" cy="639.8" r="1.0"/><circle cx="458.0" cy="640.0" r="1.0"/><circle cx="461.8" cy="640.0" r="1.0"/><circle cx="463.6" cy="640.0" r="1.0"/><circle cx="465.5" cy="639.8" r="1.0"/><circle cx="467.6" cy="639.7" r="1.0"/><circle cx="454.9" cy="641.7" r="1.0"/><circle cx="456.9" cy="641.5" r="1.0"/><circle cx="459.0" cy="641.5" r="1.0"/><circle cx="460.7" cy="641.8" r="1.0"/><circle cx="464.4" cy="641.6" r="1.0"/><circle cx="466.5" cy="641.5" r="1.0"/><circle cx="468.4" cy="641.6" r="1.0"/><circle cx="454.0" cy="643.2" r="1.0"/><circle cx="456.1" cy="643.6" r="1.0"/><circle cx="457.8" cy="643.2" r="1.0"/><circle cx="459.6" cy="643.2" r="1.0"/><circle cx="461.5" cy="643.4" r="1.0"/><circle cx="465.4" cy="643.4" r="1.0"/><circle cx="469.4" cy="643.3" r="1.0"/><circle cx="452.9" cy="645.0" r="1.0"/><circle cx="455.2" cy="645.1" r="1.0"/><circle cx="456.9" cy="645.4" r="1.0"/><circle cx="460.6" cy="645.0" r="1.0"/><circle cx="462.5" cy="645.0" r="1.0"/><circle cx="464.7" cy="645.4" r="1.0"/><circle cx="468.4" cy="645.4" r="1.0"/><circle cx="470.4" cy="645.1" r="1.0"/><circle cx="450.5" cy="647.2" r="1.0"/><circle cx="452.2" cy="646.8" r="1.0"/><circle cx="453.9" cy="647.1" r="1.0"/><circle cx="455.8" cy="647.0" r="1.0"/><circle cx="457.7" cy="646.9" r="1.0"/><circle cx="461.8" cy="646.9" r="1.0"/><circle cx="463.7" cy="647.0" r="1.0"/><circle cx="465.3" cy="647.1" r="1.0"/><circle cx="469.3" cy="646.8" r="1.0"/><circle cx="471.1" cy="646.8" r="1.0"/><circle cx="449.2" cy="648.8" r="1.0"/><circle cx="451.4" cy="648.7" r="1.0"/><circle cx="453.0" cy="648.6" r="1.0"/><circle cx="455.1" cy="648.9" r="1.0"/><circle cx="459.0" cy="648.7" r="1.0"/><circle cx="464.7" cy="648.7" r="1.0"/><circle cx="466.4" cy="648.9" r="1.0"/><circle cx="468.3" cy="648.6" r="1.0"/><circle cx="470.4" cy="648.9" r="1.0"/><circle cx="472.3" cy="648.9" r="1.0"/><circle cx="474.0" cy="648.8" r="1.0"/><circle cx="452.4" cy="650.7" r="1.0"/><circle cx="454.0" cy="650.6" r="1.0"/><circle cx="458.1" cy="650.4" r="1.0"/><circle cx="459.7" cy="650.4" r="1.0"/><circle cx="461.8" cy="650.7" r="1.0"/><circle cx="463.7" cy="650.4" r="1.0"/><circle cx="465.5" cy="650.5" r="1.0"/><circle cx="467.6" cy="650.4" r="1.0"/><circle cx="469.5" cy="650.8" r="1.0"/><circle cx="471.1" cy="650.8" r="1.0"/><circle cx="455.0" cy="652.3" r="1.0"/><circle cx="456.9" cy="652.3" r="1.0"/><circle cx="460.7" cy="652.5" r="1.0"/><circle cx="462.5" cy="652.4" r="1.0"/><circle cx="464.5" cy="652.2" r="1.0"/><circle cx="466.5" cy="652.6" r="1.0"/><circle cx="468.2" cy="652.4" r="1.0"/><circle cx="469.2" cy="652.2" r="1.0"/><circle cx="454.3" cy="654.3" r="1.0"/><circle cx="456.1" cy="654.3" r="1.0"/><circle cx="457.7" cy="654.3" r="1.0"/><circle cx="459.8" cy="654.0" r="1.0"/><circle cx="463.6" cy="654.3" r="1.0"/><circle cx="465.6" cy="654.0" r="1.0"/><circle cx="467.5" cy="654.0" r="1.0"/><circle cx="469.3" cy="654.3" r="1.0"/><circle cx="455.0" cy="655.8" r="1.0"/><circle cx="456.8" cy="656.0" r="1.0"/><circle cx="458.6" cy="656.2" r="1.0"/><circle cx="460.5" cy="656.1" r="1.0"/><circle cx="462.5" cy="655.9" r="1.0"/><circle cx="464.8" cy="656.2" r="1.0"/><circle cx="466.5" cy="656.1" r="1.0"/><circle cx="469.2" cy="656.1" r="1.0"/><circle cx="454.0" cy="657.9" r="1.0"/><circle cx="455.8" cy="657.7" r="1.0"/><circle cx="457.9" cy="658.0" r="1.0"/><circle cx="459.8" cy="657.6" r="1.0"/><circle cx="461.9" cy="657.9" r="1.0"/><circle cx="465.3" cy="657.6" r="1.0"/><circle cx="467.3" cy="657.8" r="1.0"/><circle cx="469.5" cy="657.9" r="1.0"/><circle cx="456.7" cy="659.8" r="1.0"/><circle cx="458.8" cy="659.7" r="1.0"/><circle cx="462.7" cy="659.7" r="1.0"/><circle cx="464.4" cy="659.4" r="1.0"/><circle cx="466.7" cy="659.7" r="1.0"/><circle cx="458.1" cy="661.3" r="1.0"/><circle cx="459.8" cy="661.2" r="1.0"/><circle cx="463.8" cy="661.3" r="1.0"/><circle cx="465.3" cy="661.3" r="1.0"/><circle cx="460.8" cy="663.2" r="1.0"/><circle cx="462.7" cy="663.4" r="1.0"/><circle cx="466.5" cy="663.0" r="1.0"/><circle cx="458.0" cy="664.9" r="1.0"/><circle cx="460.0" cy="665.2" r="1.0"/><circle cx="463.8" cy="664.9" r="1.0"/><circle cx="465.4" cy="665.2" r="1.0"/><circle cx="460.5" cy="666.7" r="1.0"/><circle cx="462.4" cy="667.0" r="1.0"/><circle cx="463.7" cy="666.7" r="1.0"/><circle cx="461.7" cy="566.2" r="1.0"/><circle cx="461.7" cy="672.0" r="1.0"/><circle cx="463.2" cy="673.0" r="1.0"/><circle cx="460.7" cy="675.7" r="1.0"/></g>
<g fill="#c272b3"><circle cx="499.9" cy="622.1" r="0.95"/><circle cx="503.0" cy="624.0" r="0.95"/><circle cx="504.4" cy="624.1" r="0.95"/><circle cx="499.7" cy="625.9" r="0.95"/><circle cx="502.2" cy="625.8" r="0.95"/><circle cx="504.1" cy="626.1" r="0.95"/><circle cx="498.5" cy="628.1" r="0.95"/><circle cx="501.0" cy="628.2" r="0.95"/><circle cx="503.3" cy="628.2" r="0.95"/><circle cx="505.2" cy="628.1" r="0.95"/><circle cx="506.2" cy="628.2" r="0.95"/><circle cx="497.6" cy="630.0" r="0.95"/><circle cx="499.8" cy="629.8" r="0.95"/><circle cx="502.2" cy="629.9" r="0.95"/><circle cx="504.2" cy="630.2" r="0.95"/><circle cx="506.3" cy="630.1" r="0.95"/><circle cx="494.1" cy="632.1" r="0.95"/><circle cx="496.5" cy="632.0" r="0.95"/><circle cx="498.7" cy="632.0" r="0.95"/><circle cx="500.7" cy="631.8" r="0.95"/><circle cx="503.2" cy="632.1" r="0.95"/><circle cx="507.4" cy="631.9" r="0.95"/><circle cx="509.8" cy="632.2" r="0.95"/><circle cx="493.2" cy="634.1" r="0.95"/><circle cx="497.4" cy="633.9" r="0.95"/><circle cx="499.9" cy="633.9" r="0.95"/><circle cx="501.9" cy="633.8" r="0.95"/><circle cx="506.4" cy="634.2" r="0.95"/><circle cx="511.0" cy="634.2" r="0.95"/><circle cx="492.1" cy="636.2" r="0.95"/><circle cx="496.4" cy="636.2" r="0.95"/><circle cx="498.9" cy="636.2" r="0.95"/><circle cx="505.4" cy="636.1" r="0.95"/><circle cx="507.3" cy="636.2" r="0.95"/><circle cx="509.7" cy="636.0" r="0.95"/><circle cx="512.1" cy="635.9" r="0.95"/><circle cx="491.1" cy="638.0" r="0.95"/><circle cx="493.0" cy="638.0" r="0.95"/><circle cx="495.4" cy="638.1" r="0.95"/><circle cx="497.4" cy="637.8" r="0.95"/><circle cx="500.0" cy="638.1" r="0.95"/><circle cx="504.1" cy="638.1" r="0.95"/><circle cx="506.4" cy="638.2" r="0.95"/><circle cx="508.8" cy="637.8" r="0.95"/><circle cx="510.9" cy="638.0" r="0.95"/><circle cx="489.8" cy="640.1" r="0.95"/><circle cx="494.1" cy="640.2" r="0.95"/><circle cx="496.3" cy="640.0" r="0.95"/><circle cx="498.8" cy="640.0" r="0.95"/><circle cx="503.0" cy="639.8" r="0.95"/><circle cx="509.6" cy="639.8" r="0.95"/><circle cx="512.1" cy="640.2" r="0.95"/><circle cx="490.8" cy="642.2" r="0.95"/><circle cx="502.2" cy="642.0" r="0.95"/><circle cx="506.3" cy="641.8" r="0.95"/><circle cx="511.0" cy="642.0" r="0.95"/><circle cx="489.7" cy="643.8" r="0.95"/><circle cx="491.9" cy="644.1" r="0.95"/><circle cx="500.7" cy="643.9" r="0.95"/><circle cx="502.9" cy="644.1" r="0.95"/><circle cx="507.5" cy="644.1" r="0.95"/><circle cx="509.8" cy="644.1" r="0.95"/><circle cx="513.9" cy="643.8" r="0.95"/><circle cx="515.2" cy="644.2" r="0.95"/><circle cx="489.0" cy="646.2" r="0.95"/><circle cx="490.9" cy="646.1" r="0.95"/><circle cx="493.0" cy="645.8" r="0.95"/><circle cx="501.8" cy="646.1" r="0.95"/><circle cx="504.4" cy="646.0" r="0.95"/><circle cx="508.4" cy="646.1" r="0.95"/><circle cx="511.0" cy="645.9" r="0.95"/><circle cx="513.0" cy="646.1" r="0.95"/><circle cx="515.4" cy="645.8" r="0.95"/><circle cx="489.8" cy="648.1" r="0.95"/><circle cx="491.9" cy="647.8" r="0.95"/><circle cx="494.1" cy="648.1" r="0.95"/><circle cx="498.8" cy="648.1" r="0.95"/><circle cx="500.7" cy="648.2" r="0.95"/><circle cx="502.9" cy="648.1" r="0.95"/><circle cx="509.6" cy="648.2" r="0.95"/><circle cx="512.0" cy="648.1" r="0.95"/><circle cx="514.3" cy="648.0" r="0.95"/><circle cx="488.7" cy="650.0" r="0.95"/><circle cx="491.1" cy="649.8" r="0.95"/><circle cx="493.4" cy="650.2" r="0.95"/><circle cx="499.7" cy="650.1" r="0.95"/><circle cx="502.2" cy="650.2" r="0.95"/><circle cx="504.0" cy="650.2" r="0.95"/><circle cx="508.7" cy="650.1" r="0.95"/><circle cx="510.7" cy="649.9" r="0.95"/><circle cx="494.2" cy="652.2" r="0.95"/><circle cx="496.7" cy="651.8" r="0.95"/><circle cx="498.5" cy="651.9" r="0.95"/><circle cx="500.9" cy="652.0" r="0.95"/><circle cx="505.4" cy="652.2" r="0.95"/><circle cx="509.9" cy="651.9" r="0.95"/><circle cx="512.1" cy="652.0" r="0.95"/><circle cx="514.1" cy="651.9" r="0.95"/><circle cx="495.6" cy="653.8" r="0.95"/><circle cx="497.4" cy="654.0" r="0.95"/><circle cx="500.0" cy="654.1" r="0.95"/><circle cx="502.0" cy="654.2" r="0.95"/><circle cx="506.4" cy="653.9" r="0.95"/><circle cx="508.5" cy="653.9" r="0.95"/><circle cx="489.8" cy="656.1" r="0.95"/><circle cx="492.1" cy="655.9" r="0.95"/><circle cx="494.5" cy="656.2" r="0.95"/><circle cx="496.3" cy="656.0" r="0.95"/><circle cx="498.8" cy="656.1" r="0.95"/><circle cx="503.0" cy="656.1" r="0.95"/><circle cx="505.5" cy="656.1" r="0.95"/><circle cx="507.7" cy="656.0" r="0.95"/><circle cx="509.6" cy="656.2" r="0.95"/><circle cx="511.8" cy="655.9" r="0.95"/><circle cx="493.3" cy="658.2" r="0.95"/><circle cx="495.6" cy="657.8" r="0.95"/><circle cx="497.8" cy="657.8" r="0.95"/><circle cx="499.8" cy="658.0" r="0.95"/><circle cx="502.1" cy="658.2" r="0.95"/><circle cx="508.6" cy="658.2" r="0.95"/><circle cx="510.6" cy="658.0" r="0.95"/><circle cx="496.3" cy="660.0" r="0.95"/><circle cx="498.8" cy="659.8" r="0.95"/><circle cx="500.9" cy="660.0" r="0.95"/><circle cx="505.2" cy="659.8" r="0.95"/><circle cx="495.4" cy="662.1" r="0.95"/><circle cx="499.8" cy="662.0" r="0.95"/><circle cx="502.1" cy="661.9" r="0.95"/><circle cx="504.2" cy="661.9" r="0.95"/><circle cx="506.5" cy="662.0" r="0.95"/><circle cx="498.8" cy="664.1" r="0.95"/><circle cx="500.9" cy="664.1" r="0.95"/><circle cx="505.4" cy="664.2" r="0.95"/><circle cx="508.8" cy="664.0" r="0.95"/><circle cx="495.4" cy="666.1" r="0.95"/><circle cx="497.6" cy="666.0" r="0.95"/><circle cx="499.9" cy="666.1" r="0.95"/><circle cx="502.1" cy="665.8" r="0.95"/><circle cx="504.1" cy="665.8" r="0.95"/><circle cx="506.4" cy="665.9" r="0.95"/><circle cx="502.0" cy="580.1" r="0.95"/><circle cx="502.0" cy="584.3" r="0.95"/><circle cx="502.0" cy="598.8" r="0.95"/><circle cx="503.0" cy="600.7" r="0.95"/><circle cx="502.0" cy="609.2" r="0.95"/><circle cx="502.0" cy="612.9" r="0.95"/><circle cx="501.0" cy="615.7" r="0.95"/><circle cx="503.0" cy="618.5" r="0.95"/><circle cx="502.0" cy="620.9" r="0.95"/><circle cx="500.5" cy="674.4" r="0.95"/><circle cx="504.0" cy="674.4" r="0.95"/><circle cx="505.5" cy="674.4" r="0.95"/></g>
<circle cx="502.0" cy="544.8" r="1" fill="#222"/>
<rect x="455.00" y="644.50" width="13.60" height="3.00" fill="#000"/>
<line x1="448.20" y1="646.00" x2="475.40" y2="646.00" stroke="#000" stroke-width="1.5"/>
<rect x="494.70" y="643.10" width="14.00" height="3.00" fill="#000"/>
<line x1="487.70" y1="644.60" x2="515.70" y2="644.60" stroke="#000" stroke-width="1.5"/>
<line x1="434.00" y1="542.85" x2="434.00" y2="684.85" stroke="#000" stroke-width="1.3"/>
<line x1="433.35" y1="684.20" x2="529.00" y2="684.20" stroke="#000" stroke-width="1.3"/>
<line x1="428.20" y1="684.20" x2="434.00" y2="684.20" stroke="#000" stroke-width="1.3"/>
<text x="427.40" y="687.65" font-size="9.8" font-weight="bold" text-anchor="end" fill="#231f20">0</text>
<line x1="428.20" y1="637.30" x2="434.00" y2="637.30" stroke="#000" stroke-width="1.3"/>
<text x="427.40" y="640.75" font-size="9.8" font-weight="bold" text-anchor="end" fill="#231f20">100</text>
<line x1="428.20" y1="590.40" x2="434.00" y2="590.40" stroke="#000" stroke-width="1.3"/>
<text x="427.40" y="593.85" font-size="9.8" font-weight="bold" text-anchor="end" fill="#231f20">200</text>
<line x1="428.20" y1="543.50" x2="434.00" y2="543.50" stroke="#000" stroke-width="1.3"/>
<text x="427.40" y="546.95" font-size="9.8" font-weight="bold" text-anchor="end" fill="#231f20">300</text>
<line x1="461.50" y1="684.20" x2="461.50" y2="690.00" stroke="#000" stroke-width="1.3"/>
<line x1="501.80" y1="684.20" x2="501.80" y2="690.00" stroke="#000" stroke-width="1.3"/>
<text x="440.10" y="701.00" font-size="10" font-weight="bold" text-anchor="start" fill="#231f20" textLength="42.9" lengthAdjust="spacingAndGlyphs">Baseline</text>
<text x="490.10" y="701.00" font-size="10" font-weight="bold" text-anchor="start" fill="#231f20" textLength="23.5" lengthAdjust="spacingAndGlyphs">CNO</text>
<text transform="translate(403.42,613.50) rotate(-90)" font-size="11.5" font-weight="bold" text-anchor="middle" fill="#231f20" textLength="91.7" lengthAdjust="spacingAndGlyphs"><tspan>Width (R</tspan><tspan font-size="9.0" dy="-5.2">2</tspan><tspan dy="5.2"> &gt; 50%)</tspan></text>
<text x="536.40" y="541.90" font-size="23" font-weight="bold" text-anchor="start" fill="#231f20">q</text>
<g fill="#add899"><rect x="613.0" y="634.9" width="1.7" height="1.7"/><rect x="613.0" y="636.9" width="1.7" height="1.7"/><rect x="617.9" y="639.0" width="1.7" height="1.7"/><rect x="607.9" y="640.9" width="1.7" height="1.7"/><rect x="610.5" y="641.0" width="1.7" height="1.7"/><rect x="612.9" y="640.9" width="1.7" height="1.7"/><rect x="615.4" y="640.9" width="1.7" height="1.7"/><rect x="618.0" y="641.0" width="1.7" height="1.7"/><rect x="620.4" y="641.0" width="1.7" height="1.7"/><rect x="602.9" y="643.0" width="1.7" height="1.7"/><rect x="608.0" y="643.0" width="1.7" height="1.7"/><rect x="610.5" y="642.9" width="1.7" height="1.7"/><rect x="613.0" y="643.0" width="1.7" height="1.7"/><rect x="617.9" y="642.9" width="1.7" height="1.7"/><rect x="620.5" y="643.0" width="1.7" height="1.7"/><rect x="623.0" y="643.0" width="1.7" height="1.7"/><rect x="610.5" y="644.9" width="1.7" height="1.7"/><rect x="612.9" y="644.9" width="1.7" height="1.7"/><rect x="615.4" y="644.9" width="1.7" height="1.7"/><rect x="622.9" y="645.0" width="1.7" height="1.7"/><rect x="625.5" y="644.9" width="1.7" height="1.7"/><rect x="607.9" y="646.9" width="1.7" height="1.7"/><rect x="610.4" y="647.0" width="1.7" height="1.7"/><rect x="612.9" y="647.0" width="1.7" height="1.7"/><rect x="615.5" y="646.9" width="1.7" height="1.7"/><rect x="603.0" y="649.0" width="1.7" height="1.7"/><rect x="607.9" y="648.9" width="1.7" height="1.7"/><rect x="610.5" y="648.9" width="1.7" height="1.7"/><rect x="613.0" y="649.0" width="1.7" height="1.7"/><rect x="623.0" y="649.0" width="1.7" height="1.7"/><rect x="607.9" y="650.9" width="1.7" height="1.7"/><rect x="610.4" y="651.0" width="1.7" height="1.7"/><rect x="612.9" y="650.9" width="1.7" height="1.7"/><rect x="615.4" y="651.0" width="1.7" height="1.7"/><rect x="618.0" y="651.0" width="1.7" height="1.7"/><rect x="605.4" y="652.9" width="1.7" height="1.7"/><rect x="607.9" y="653.0" width="1.7" height="1.7"/><rect x="610.4" y="653.0" width="1.7" height="1.7"/><rect x="613.0" y="652.9" width="1.7" height="1.7"/><rect x="615.5" y="652.9" width="1.7" height="1.7"/><rect x="617.9" y="652.9" width="1.7" height="1.7"/><rect x="612.9" y="605.4" width="1.7" height="1.7"/><rect x="612.9" y="625.5" width="1.7" height="1.7"/><rect x="610.9" y="662.1" width="1.7" height="1.7"/><rect x="614.9" y="664.1" width="1.7" height="1.7"/><rect x="611.9" y="667.1" width="1.7" height="1.7"/><rect x="614.4" y="670.1" width="1.7" height="1.7"/><rect x="610.9" y="672.1" width="1.7" height="1.7"/></g>
<g fill="#248c49"><rect x="653.4" y="633.1" width="1.8" height="1.8"/><rect x="651.0" y="637.1" width="1.8" height="1.8"/><rect x="653.3" y="637.1" width="1.8" height="1.8"/><rect x="653.4" y="639.0" width="1.8" height="1.8"/><rect x="656.0" y="639.1" width="1.8" height="1.8"/><rect x="648.5" y="641.1" width="1.8" height="1.8"/><rect x="650.8" y="641.1" width="1.8" height="1.8"/><rect x="653.4" y="641.2" width="1.8" height="1.8"/><rect x="655.9" y="641.2" width="1.8" height="1.8"/><rect x="658.5" y="641.1" width="1.8" height="1.8"/><rect x="643.4" y="643.2" width="1.8" height="1.8"/><rect x="648.5" y="643.1" width="1.8" height="1.8"/><rect x="650.9" y="643.0" width="1.8" height="1.8"/><rect x="653.4" y="643.1" width="1.8" height="1.8"/><rect x="655.9" y="643.1" width="1.8" height="1.8"/><rect x="660.9" y="643.2" width="1.8" height="1.8"/><rect x="655.9" y="645.1" width="1.8" height="1.8"/><rect x="658.3" y="645.2" width="1.8" height="1.8"/><rect x="640.8" y="647.0" width="1.8" height="1.8"/><rect x="643.4" y="647.1" width="1.8" height="1.8"/><rect x="646.0" y="647.0" width="1.8" height="1.8"/><rect x="648.5" y="647.1" width="1.8" height="1.8"/><rect x="655.8" y="647.0" width="1.8" height="1.8"/><rect x="660.9" y="647.0" width="1.8" height="1.8"/><rect x="663.4" y="647.0" width="1.8" height="1.8"/><rect x="653.4" y="649.1" width="1.8" height="1.8"/><rect x="658.4" y="649.1" width="1.8" height="1.8"/><rect x="661.0" y="649.0" width="1.8" height="1.8"/><rect x="640.8" y="651.1" width="1.8" height="1.8"/><rect x="650.9" y="651.1" width="1.8" height="1.8"/><rect x="653.4" y="651.1" width="1.8" height="1.8"/><rect x="658.5" y="651.1" width="1.8" height="1.8"/><rect x="660.8" y="651.1" width="1.8" height="1.8"/><rect x="665.8" y="651.1" width="1.8" height="1.8"/><rect x="643.4" y="653.1" width="1.8" height="1.8"/><rect x="645.8" y="653.1" width="1.8" height="1.8"/><rect x="648.4" y="653.1" width="1.8" height="1.8"/><rect x="653.4" y="653.1" width="1.8" height="1.8"/><rect x="656.0" y="653.0" width="1.8" height="1.8"/><rect x="660.8" y="653.1" width="1.8" height="1.8"/><rect x="665.8" y="653.1" width="1.8" height="1.8"/><rect x="648.4" y="655.0" width="1.8" height="1.8"/><rect x="650.9" y="655.1" width="1.8" height="1.8"/><rect x="656.0" y="655.0" width="1.8" height="1.8"/><rect x="646.0" y="657.2" width="1.8" height="1.8"/><rect x="655.9" y="657.0" width="1.8" height="1.8"/><rect x="658.4" y="657.1" width="1.8" height="1.8"/><rect x="660.8" y="657.2" width="1.8" height="1.8"/><rect x="650.9" y="659.2" width="1.8" height="1.8"/><rect x="653.4" y="659.1" width="1.8" height="1.8"/><rect x="655.9" y="659.2" width="1.8" height="1.8"/><rect x="661.0" y="659.2" width="1.8" height="1.8"/><rect x="648.4" y="661.0" width="1.8" height="1.8"/><rect x="650.9" y="661.1" width="1.8" height="1.8"/><rect x="653.4" y="661.2" width="1.8" height="1.8"/><rect x="658.3" y="661.1" width="1.8" height="1.8"/><rect x="661.0" y="661.0" width="1.8" height="1.8"/><rect x="650.9" y="663.1" width="1.8" height="1.8"/><rect x="653.4" y="663.0" width="1.8" height="1.8"/><rect x="655.9" y="663.1" width="1.8" height="1.8"/><rect x="650.8" y="665.0" width="1.8" height="1.8"/><rect x="653.5" y="665.2" width="1.8" height="1.8"/><rect x="655.9" y="665.0" width="1.8" height="1.8"/><rect x="653.4" y="563.4" width="1.8" height="1.8"/><rect x="653.4" y="608.7" width="1.8" height="1.8"/><rect x="653.4" y="612.0" width="1.8" height="1.8"/><rect x="653.4" y="615.3" width="1.8" height="1.8"/><rect x="653.4" y="618.5" width="1.8" height="1.8"/><rect x="652.4" y="624.1" width="1.8" height="1.8"/><rect x="654.4" y="628.1" width="1.8" height="1.8"/><rect x="651.4" y="671.1" width="1.8" height="1.8"/><rect x="653.4" y="675.1" width="1.8" height="1.8"/><rect x="655.4" y="675.1" width="1.8" height="1.8"/></g>
<line x1="614.15" y1="648.50" x2="614.15" y2="652.90" stroke="#000" stroke-width="1.0"/>
<line x1="608.15" y1="648.50" x2="620.15" y2="648.50" stroke="#000" stroke-width="1.0"/>
<line x1="608.15" y1="652.90" x2="620.15" y2="652.90" stroke="#000" stroke-width="1.0"/>
<line x1="600.70" y1="650.70" x2="627.60" y2="650.70" stroke="#000" stroke-width="1.5"/>
<line x1="654.55" y1="646.10" x2="654.55" y2="650.50" stroke="#000" stroke-width="1.0"/>
<line x1="648.55" y1="646.10" x2="660.55" y2="646.10" stroke="#000" stroke-width="1.0"/>
<line x1="648.55" y1="650.50" x2="660.55" y2="650.50" stroke="#000" stroke-width="1.0"/>
<line x1="641.20" y1="648.30" x2="667.90" y2="648.30" stroke="#000" stroke-width="1.5"/>
<line x1="586.90" y1="539.25" x2="586.90" y2="682.45" stroke="#000" stroke-width="1.3"/>
<line x1="586.25" y1="681.80" x2="682.10" y2="681.80" stroke="#000" stroke-width="1.3"/>
<line x1="581.10" y1="681.80" x2="586.90" y2="681.80" stroke="#000" stroke-width="1.3"/>
<text x="579.80" y="685.25" font-size="9.8" font-weight="bold" text-anchor="end" fill="#231f20">0</text>
<line x1="581.10" y1="634.50" x2="586.90" y2="634.50" stroke="#000" stroke-width="1.3"/>
<text x="579.80" y="637.95" font-size="9.8" font-weight="bold" text-anchor="end" fill="#231f20">100</text>
<line x1="581.10" y1="587.20" x2="586.90" y2="587.20" stroke="#000" stroke-width="1.3"/>
<text x="579.80" y="590.65" font-size="9.8" font-weight="bold" text-anchor="end" fill="#231f20">200</text>
<line x1="581.10" y1="539.90" x2="586.90" y2="539.90" stroke="#000" stroke-width="1.3"/>
<text x="579.80" y="543.35" font-size="9.8" font-weight="bold" text-anchor="end" fill="#231f20">300</text>
<line x1="613.80" y1="681.80" x2="613.80" y2="687.50" stroke="#000" stroke-width="1.3"/>
<line x1="654.30" y1="681.80" x2="654.30" y2="687.50" stroke="#000" stroke-width="1.3"/>
<text x="592.40" y="698.20" font-size="10" font-weight="bold" text-anchor="start" fill="#231f20" textLength="43.3" lengthAdjust="spacingAndGlyphs">Baseline</text>
<text x="642.70" y="698.20" font-size="10" font-weight="bold" text-anchor="start" fill="#231f20" textLength="23.7" lengthAdjust="spacingAndGlyphs">CNO</text>
<text transform="translate(552.22,610.20) rotate(-90)" font-size="11.5" font-weight="bold" text-anchor="middle" fill="#231f20" textLength="92.5" lengthAdjust="spacingAndGlyphs"><tspan>Width (R</tspan><tspan font-size="9.0" dy="-5.2">2</tspan><tspan dy="5.2"> &gt; 50%)</tspan></text>
<text x="393.70" y="708.30" font-size="23" font-weight="bold" text-anchor="start" fill="#231f20">r</text>
<g fill="#6899d3"><circle cx="457.3" cy="801.5" r="1.0"/><circle cx="459.0" cy="801.9" r="1.0"/><circle cx="461.0" cy="801.5" r="1.0"/><circle cx="458.2" cy="803.5" r="1.0"/><circle cx="460.0" cy="803.5" r="1.0"/><circle cx="460.9" cy="803.3" r="1.0"/><circle cx="457.2" cy="805.3" r="1.0"/><circle cx="459.2" cy="805.5" r="1.0"/><circle cx="460.8" cy="805.5" r="1.0"/><circle cx="458.1" cy="806.9" r="1.0"/><circle cx="459.8" cy="806.9" r="1.0"/><circle cx="460.9" cy="807.2" r="1.0"/><circle cx="459.0" cy="808.7" r="1.0"/><circle cx="456.2" cy="810.9" r="1.0"/><circle cx="458.3" cy="810.5" r="1.0"/><circle cx="460.0" cy="810.9" r="1.0"/><circle cx="462.0" cy="810.9" r="1.0"/><circle cx="457.4" cy="812.7" r="1.0"/><circle cx="458.9" cy="812.5" r="1.0"/><circle cx="461.2" cy="812.3" r="1.0"/><circle cx="458.2" cy="814.2" r="1.0"/><circle cx="460.2" cy="814.5" r="1.0"/><circle cx="462.1" cy="814.2" r="1.0"/><circle cx="457.0" cy="816.0" r="1.0"/><circle cx="456.3" cy="817.7" r="1.0"/><circle cx="458.1" cy="817.8" r="1.0"/><circle cx="460.1" cy="818.1" r="1.0"/><circle cx="461.9" cy="818.0" r="1.0"/><circle cx="457.3" cy="819.6" r="1.0"/><circle cx="461.2" cy="819.8" r="1.0"/><circle cx="456.5" cy="821.5" r="1.0"/><circle cx="458.2" cy="821.6" r="1.0"/><circle cx="459.9" cy="821.4" r="1.0"/><circle cx="462.1" cy="821.3" r="1.0"/><circle cx="457.3" cy="823.4" r="1.0"/><circle cx="459.1" cy="823.1" r="1.0"/><circle cx="456.3" cy="825.3" r="1.0"/><circle cx="458.2" cy="825.0" r="1.0"/><circle cx="459.8" cy="824.9" r="1.0"/><circle cx="462.0" cy="824.9" r="1.0"/><circle cx="462.8" cy="824.9" r="1.0"/><circle cx="457.0" cy="827.0" r="1.0"/><circle cx="459.3" cy="827.0" r="1.0"/><circle cx="461.0" cy="826.7" r="1.0"/><circle cx="462.9" cy="826.8" r="1.0"/><circle cx="458.1" cy="828.9" r="1.0"/><circle cx="459.9" cy="828.6" r="1.0"/><circle cx="462.1" cy="828.6" r="1.0"/><circle cx="462.7" cy="828.7" r="1.0"/><circle cx="457.4" cy="830.6" r="1.0"/><circle cx="459.0" cy="830.7" r="1.0"/><circle cx="461.1" cy="830.3" r="1.0"/><circle cx="463.0" cy="830.3" r="1.0"/><circle cx="456.0" cy="832.3" r="1.0"/><circle cx="458.3" cy="832.1" r="1.0"/><circle cx="460.3" cy="832.2" r="1.0"/><circle cx="462.1" cy="832.2" r="1.0"/><circle cx="462.7" cy="832.2" r="1.0"/><circle cx="455.1" cy="834.3" r="1.0"/><circle cx="457.0" cy="833.9" r="1.0"/><circle cx="458.9" cy="834.2" r="1.0"/><circle cx="461.0" cy="834.1" r="1.0"/><circle cx="463.0" cy="834.0" r="1.0"/><circle cx="454.4" cy="836.0" r="1.0"/><circle cx="458.3" cy="836.1" r="1.0"/><circle cx="460.0" cy="835.8" r="1.0"/><circle cx="463.8" cy="835.8" r="1.0"/><circle cx="451.5" cy="837.6" r="1.0"/><circle cx="453.6" cy="837.6" r="1.0"/><circle cx="455.5" cy="837.9" r="1.0"/><circle cx="459.0" cy="837.6" r="1.0"/><circle cx="461.0" cy="837.9" r="1.0"/><circle cx="463.0" cy="837.9" r="1.0"/><circle cx="464.6" cy="837.6" r="1.0"/><circle cx="466.8" cy="837.6" r="1.0"/><circle cx="450.5" cy="839.6" r="1.0"/><circle cx="452.2" cy="839.3" r="1.0"/><circle cx="454.4" cy="839.4" r="1.0"/><circle cx="456.4" cy="839.6" r="1.0"/><circle cx="460.0" cy="839.3" r="1.0"/><circle cx="462.0" cy="839.6" r="1.0"/><circle cx="463.7" cy="839.6" r="1.0"/><circle cx="465.7" cy="839.6" r="1.0"/><circle cx="467.4" cy="839.3" r="1.0"/><circle cx="468.5" cy="839.3" r="1.0"/><circle cx="449.6" cy="841.4" r="1.0"/><circle cx="455.2" cy="841.1" r="1.0"/><circle cx="457.1" cy="841.5" r="1.0"/><circle cx="459.1" cy="841.1" r="1.0"/><circle cx="461.1" cy="841.2" r="1.0"/><circle cx="463.0" cy="841.1" r="1.0"/><circle cx="464.8" cy="841.3" r="1.0"/><circle cx="466.5" cy="841.1" r="1.0"/><circle cx="468.4" cy="841.5" r="1.0"/><circle cx="450.7" cy="842.9" r="1.0"/><circle cx="452.3" cy="842.9" r="1.0"/><circle cx="456.4" cy="843.0" r="1.0"/><circle cx="460.3" cy="843.2" r="1.0"/><circle cx="462.2" cy="843.1" r="1.0"/><circle cx="463.6" cy="843.2" r="1.0"/><circle cx="465.7" cy="842.9" r="1.0"/><circle cx="467.9" cy="843.0" r="1.0"/><circle cx="469.6" cy="843.3" r="1.0"/><circle cx="470.7" cy="843.0" r="1.0"/><circle cx="447.6" cy="844.8" r="1.0"/><circle cx="451.5" cy="845.1" r="1.0"/><circle cx="453.6" cy="844.7" r="1.0"/><circle cx="457.3" cy="845.1" r="1.0"/><circle cx="458.9" cy="845.0" r="1.0"/><circle cx="462.8" cy="844.7" r="1.0"/><circle cx="464.8" cy="844.8" r="1.0"/><circle cx="470.5" cy="844.9" r="1.0"/><circle cx="448.9" cy="846.8" r="1.0"/><circle cx="450.6" cy="846.7" r="1.0"/><circle cx="452.7" cy="846.5" r="1.0"/><circle cx="454.6" cy="846.7" r="1.0"/><circle cx="458.3" cy="846.5" r="1.0"/><circle cx="460.1" cy="846.8" r="1.0"/><circle cx="461.7" cy="846.5" r="1.0"/><circle cx="463.7" cy="846.8" r="1.0"/><circle cx="465.6" cy="846.5" r="1.0"/><circle cx="467.5" cy="846.9" r="1.0"/><circle cx="469.7" cy="846.7" r="1.0"/><circle cx="471.2" cy="846.9" r="1.0"/><circle cx="449.7" cy="848.5" r="1.0"/><circle cx="453.3" cy="848.6" r="1.0"/><circle cx="455.1" cy="848.7" r="1.0"/><circle cx="457.3" cy="848.7" r="1.0"/><circle cx="459.2" cy="848.3" r="1.0"/><circle cx="460.8" cy="848.7" r="1.0"/><circle cx="463.1" cy="848.4" r="1.0"/><circle cx="464.6" cy="848.3" r="1.0"/><circle cx="466.7" cy="848.6" r="1.0"/><circle cx="468.6" cy="848.4" r="1.0"/><circle cx="470.5" cy="848.4" r="1.0"/><circle cx="446.9" cy="850.5" r="1.0"/><circle cx="448.8" cy="850.5" r="1.0"/><circle cx="452.7" cy="850.4" r="1.0"/><circle cx="454.3" cy="850.1" r="1.0"/><circle cx="456.5" cy="850.2" r="1.0"/><circle cx="458.3" cy="850.1" r="1.0"/><circle cx="460.1" cy="850.3" r="1.0"/><circle cx="463.9" cy="850.5" r="1.0"/><circle cx="465.7" cy="850.4" r="1.0"/><circle cx="467.9" cy="850.3" r="1.0"/><circle cx="472.3" cy="850.5" r="1.0"/><circle cx="446.0" cy="852.1" r="1.0"/><circle cx="447.6" cy="852.3" r="1.0"/><circle cx="449.5" cy="852.0" r="1.0"/><circle cx="451.6" cy="851.9" r="1.0"/><circle cx="453.4" cy="852.3" r="1.0"/><circle cx="457.2" cy="852.2" r="1.0"/><circle cx="458.9" cy="852.1" r="1.0"/><circle cx="463.1" cy="852.2" r="1.0"/><circle cx="464.7" cy="851.9" r="1.0"/><circle cx="466.8" cy="852.2" r="1.0"/><circle cx="468.4" cy="852.1" r="1.0"/><circle cx="470.5" cy="852.1" r="1.0"/><circle cx="450.8" cy="853.7" r="1.0"/><circle cx="456.0" cy="853.9" r="1.0"/><circle cx="458.2" cy="854.1" r="1.0"/><circle cx="459.8" cy="853.9" r="1.0"/><circle cx="463.7" cy="854.1" r="1.0"/><circle cx="467.5" cy="854.0" r="1.0"/><circle cx="469.4" cy="854.0" r="1.0"/><circle cx="470.4" cy="853.7" r="1.0"/><circle cx="459.1" cy="735.8" r="1.0"/><circle cx="459.1" cy="778.6" r="1.0"/><circle cx="459.1" cy="791.0" r="1.0"/><circle cx="459.6" cy="795.0" r="1.0"/></g>
<g fill="#c272b3"><circle cx="497.0" cy="818.2" r="1.0"/><circle cx="501.0" cy="818.2" r="1.0"/><circle cx="497.7" cy="820.0" r="1.0"/><circle cx="500.0" cy="819.6" r="1.0"/><circle cx="500.8" cy="819.9" r="1.0"/><circle cx="497.2" cy="821.8" r="1.0"/><circle cx="500.8" cy="821.7" r="1.0"/><circle cx="498.1" cy="823.3" r="1.0"/><circle cx="497.1" cy="825.2" r="1.0"/><circle cx="499.1" cy="825.3" r="1.0"/><circle cx="501.0" cy="825.0" r="1.0"/><circle cx="494.0" cy="826.9" r="1.0"/><circle cx="495.8" cy="827.0" r="1.0"/><circle cx="499.8" cy="827.2" r="1.0"/><circle cx="501.8" cy="826.8" r="1.0"/><circle cx="503.6" cy="826.8" r="1.0"/><circle cx="504.6" cy="826.8" r="1.0"/><circle cx="493.3" cy="828.7" r="1.0"/><circle cx="494.9" cy="828.7" r="1.0"/><circle cx="497.1" cy="828.6" r="1.0"/><circle cx="499.0" cy="828.9" r="1.0"/><circle cx="500.9" cy="828.7" r="1.0"/><circle cx="502.6" cy="828.8" r="1.0"/><circle cx="504.8" cy="828.9" r="1.0"/><circle cx="494.0" cy="830.8" r="1.0"/><circle cx="496.2" cy="830.4" r="1.0"/><circle cx="497.9" cy="830.8" r="1.0"/><circle cx="499.9" cy="830.7" r="1.0"/><circle cx="502.0" cy="830.4" r="1.0"/><circle cx="493.3" cy="832.6" r="1.0"/><circle cx="495.3" cy="832.4" r="1.0"/><circle cx="497.2" cy="832.4" r="1.0"/><circle cx="499.1" cy="832.2" r="1.0"/><circle cx="500.9" cy="832.3" r="1.0"/><circle cx="502.7" cy="832.6" r="1.0"/><circle cx="504.5" cy="832.5" r="1.0"/><circle cx="492.4" cy="834.1" r="1.0"/><circle cx="494.0" cy="834.2" r="1.0"/><circle cx="496.2" cy="834.4" r="1.0"/><circle cx="498.0" cy="834.2" r="1.0"/><circle cx="499.8" cy="834.3" r="1.0"/><circle cx="501.6" cy="834.4" r="1.0"/><circle cx="503.6" cy="834.1" r="1.0"/><circle cx="493.2" cy="836.1" r="1.0"/><circle cx="496.8" cy="835.8" r="1.0"/><circle cx="500.6" cy="836.2" r="1.0"/><circle cx="502.5" cy="836.2" r="1.0"/><circle cx="504.5" cy="836.2" r="1.0"/><circle cx="494.2" cy="838.0" r="1.0"/><circle cx="498.0" cy="837.9" r="1.0"/><circle cx="500.1" cy="837.6" r="1.0"/><circle cx="501.5" cy="837.9" r="1.0"/><circle cx="503.7" cy="837.8" r="1.0"/><circle cx="489.5" cy="839.7" r="1.0"/><circle cx="491.2" cy="839.5" r="1.0"/><circle cx="493.1" cy="839.4" r="1.0"/><circle cx="495.1" cy="839.6" r="1.0"/><circle cx="501.0" cy="839.4" r="1.0"/><circle cx="502.8" cy="839.8" r="1.0"/><circle cx="504.8" cy="839.4" r="1.0"/><circle cx="506.3" cy="839.4" r="1.0"/><circle cx="508.2" cy="839.6" r="1.0"/><circle cx="486.8" cy="841.4" r="1.0"/><circle cx="490.2" cy="841.5" r="1.0"/><circle cx="492.5" cy="841.5" r="1.0"/><circle cx="496.3" cy="841.3" r="1.0"/><circle cx="498.1" cy="841.2" r="1.0"/><circle cx="499.6" cy="841.5" r="1.0"/><circle cx="501.6" cy="841.3" r="1.0"/><circle cx="505.5" cy="841.2" r="1.0"/><circle cx="507.3" cy="841.2" r="1.0"/><circle cx="509.3" cy="841.3" r="1.0"/><circle cx="511.1" cy="841.6" r="1.0"/><circle cx="485.5" cy="843.4" r="1.0"/><circle cx="487.6" cy="843.1" r="1.0"/><circle cx="489.4" cy="843.2" r="1.0"/><circle cx="491.2" cy="843.0" r="1.0"/><circle cx="493.0" cy="843.2" r="1.0"/><circle cx="494.9" cy="843.0" r="1.0"/><circle cx="499.0" cy="843.3" r="1.0"/><circle cx="504.8" cy="843.3" r="1.0"/><circle cx="510.4" cy="843.1" r="1.0"/><circle cx="512.1" cy="843.3" r="1.0"/><circle cx="486.6" cy="845.0" r="1.0"/><circle cx="488.3" cy="845.0" r="1.0"/><circle cx="490.2" cy="845.0" r="1.0"/><circle cx="492.2" cy="845.0" r="1.0"/><circle cx="494.0" cy="845.1" r="1.0"/><circle cx="496.2" cy="845.0" r="1.0"/><circle cx="500.0" cy="844.8" r="1.0"/><circle cx="501.8" cy="844.9" r="1.0"/><circle cx="503.8" cy="845.2" r="1.0"/><circle cx="507.4" cy="844.9" r="1.0"/><circle cx="509.2" cy="845.2" r="1.0"/><circle cx="511.2" cy="844.9" r="1.0"/><circle cx="512.1" cy="844.9" r="1.0"/><circle cx="491.2" cy="846.7" r="1.0"/><circle cx="493.2" cy="847.0" r="1.0"/><circle cx="495.1" cy="847.0" r="1.0"/><circle cx="496.9" cy="847.0" r="1.0"/><circle cx="498.9" cy="846.9" r="1.0"/><circle cx="500.8" cy="846.7" r="1.0"/><circle cx="502.5" cy="847.0" r="1.0"/><circle cx="504.7" cy="846.9" r="1.0"/><circle cx="508.6" cy="846.6" r="1.0"/><circle cx="510.2" cy="846.7" r="1.0"/><circle cx="512.4" cy="846.9" r="1.0"/><circle cx="486.5" cy="848.5" r="1.0"/><circle cx="488.6" cy="848.4" r="1.0"/><circle cx="490.2" cy="848.4" r="1.0"/><circle cx="492.3" cy="848.6" r="1.0"/><circle cx="495.8" cy="848.8" r="1.0"/><circle cx="497.7" cy="848.5" r="1.0"/><circle cx="499.7" cy="848.4" r="1.0"/><circle cx="501.9" cy="848.6" r="1.0"/><circle cx="503.8" cy="848.8" r="1.0"/><circle cx="505.7" cy="848.6" r="1.0"/><circle cx="507.6" cy="848.6" r="1.0"/><circle cx="509.1" cy="848.8" r="1.0"/><circle cx="511.2" cy="848.5" r="1.0"/><circle cx="512.4" cy="848.8" r="1.0"/><circle cx="487.3" cy="850.3" r="1.0"/><circle cx="489.2" cy="850.4" r="1.0"/><circle cx="491.3" cy="850.5" r="1.0"/><circle cx="493.4" cy="850.6" r="1.0"/><circle cx="495.0" cy="850.3" r="1.0"/><circle cx="496.9" cy="850.5" r="1.0"/><circle cx="498.8" cy="850.5" r="1.0"/><circle cx="500.6" cy="850.5" r="1.0"/><circle cx="502.9" cy="850.6" r="1.0"/><circle cx="504.4" cy="850.3" r="1.0"/><circle cx="506.3" cy="850.5" r="1.0"/><circle cx="508.6" cy="850.6" r="1.0"/><circle cx="510.4" cy="850.5" r="1.0"/><circle cx="490.5" cy="852.1" r="1.0"/><circle cx="492.2" cy="852.4" r="1.0"/><circle cx="494.3" cy="852.4" r="1.0"/><circle cx="495.9" cy="852.4" r="1.0"/><circle cx="497.8" cy="852.0" r="1.0"/><circle cx="499.8" cy="852.3" r="1.0"/><circle cx="501.7" cy="852.3" r="1.0"/><circle cx="505.6" cy="852.0" r="1.0"/><circle cx="507.3" cy="852.2" r="1.0"/><circle cx="510.2" cy="852.1" r="1.0"/><circle cx="487.5" cy="854.2" r="1.0"/><circle cx="489.4" cy="854.1" r="1.0"/><circle cx="491.3" cy="853.9" r="1.0"/><circle cx="493.3" cy="854.1" r="1.0"/><circle cx="495.3" cy="854.0" r="1.0"/><circle cx="497.1" cy="854.0" r="1.0"/><circle cx="499.0" cy="853.9" r="1.0"/><circle cx="501.0" cy="853.8" r="1.0"/><circle cx="506.7" cy="853.9" r="1.0"/><circle cx="508.5" cy="854.2" r="1.0"/><circle cx="510.5" cy="853.8" r="1.0"/><circle cx="498.9" cy="771.0" r="1.0"/><circle cx="498.9" cy="774.5" r="1.0"/><circle cx="498.9" cy="786.0" r="1.0"/><circle cx="498.9" cy="797.0" r="1.0"/><circle cx="498.9" cy="806.0" r="1.0"/><circle cx="498.9" cy="810.0" r="1.0"/></g>
<rect x="452.55" y="837.60" width="13.50" height="3.00" fill="#000"/>
<line x1="445.80" y1="839.10" x2="472.80" y2="839.10" stroke="#000" stroke-width="1.5"/>
<rect x="492.73" y="841.10" width="13.25" height="3.00" fill="#000"/>
<line x1="486.10" y1="842.60" x2="512.60" y2="842.60" stroke="#000" stroke-width="1.5"/>
<line x1="432.30" y1="717.35" x2="432.30" y2="859.15" stroke="#000" stroke-width="1.3"/>
<line x1="431.65" y1="858.50" x2="526.50" y2="858.50" stroke="#000" stroke-width="1.3"/>
<line x1="426.50" y1="858.50" x2="432.30" y2="858.50" stroke="#000" stroke-width="1.3"/>
<text x="425.20" y="861.95" font-size="9.8" font-weight="bold" text-anchor="end" fill="#231f20">0.0</text>
<line x1="426.50" y1="823.38" x2="432.30" y2="823.38" stroke="#000" stroke-width="1.3"/>
<text x="425.20" y="826.83" font-size="9.8" font-weight="bold" text-anchor="end" fill="#231f20">0.2</text>
<line x1="426.50" y1="788.25" x2="432.30" y2="788.25" stroke="#000" stroke-width="1.3"/>
<text x="425.20" y="791.70" font-size="9.8" font-weight="bold" text-anchor="end" fill="#231f20">0.4</text>
<line x1="426.50" y1="753.12" x2="432.30" y2="753.12" stroke="#000" stroke-width="1.3"/>
<text x="425.20" y="756.58" font-size="9.8" font-weight="bold" text-anchor="end" fill="#231f20">0.6</text>
<line x1="426.50" y1="718.00" x2="432.30" y2="718.00" stroke="#000" stroke-width="1.3"/>
<text x="425.20" y="721.45" font-size="9.8" font-weight="bold" text-anchor="end" fill="#231f20">0.8</text>
<line x1="459.10" y1="858.50" x2="459.10" y2="864.00" stroke="#000" stroke-width="1.3"/>
<line x1="498.90" y1="858.50" x2="498.90" y2="864.00" stroke="#000" stroke-width="1.3"/>
<text x="437.40" y="875.30" font-size="10" font-weight="bold" text-anchor="start" fill="#231f20" textLength="42.5" lengthAdjust="spacingAndGlyphs">Baseline</text>
<text x="487.10" y="875.30" font-size="10" font-weight="bold" text-anchor="start" fill="#231f20" textLength="23.1" lengthAdjust="spacingAndGlyphs">CNO</text>
<line x1="458.50" y1="728.00" x2="496.70" y2="728.00" stroke="#000" stroke-width="1.5"/>
<text x="474.80" y="731.10" font-size="18" font-weight="bold" text-anchor="middle" fill="#231f20">*</text>
<text x="482.60" y="731.10" font-size="18" font-weight="bold" text-anchor="middle" fill="#231f20">*</text>
<text transform="translate(403.22,788.00) rotate(-90)" font-size="11.5" font-weight="bold" text-anchor="middle" fill="#231f20" textLength="108.4" lengthAdjust="spacingAndGlyphs"><tspan>Amplitude (R</tspan><tspan font-size="9.0" dy="-5.2">2</tspan><tspan dy="5.2">&gt;50%)</tspan></text>
<text x="538.10" y="710.70" font-size="23" font-weight="bold" text-anchor="start" fill="#231f20">s</text>
<g fill="#add899"><rect x="611.5" y="819.1" width="1.7" height="1.7"/><rect x="608.9" y="821.2" width="1.7" height="1.7"/><rect x="608.9" y="823.1" width="1.7" height="1.7"/><rect x="609.0" y="825.1" width="1.7" height="1.7"/><rect x="611.5" y="825.1" width="1.7" height="1.7"/><rect x="608.9" y="827.1" width="1.7" height="1.7"/><rect x="611.5" y="831.2" width="1.7" height="1.7"/><rect x="613.9" y="831.1" width="1.7" height="1.7"/><rect x="604.0" y="833.2" width="1.7" height="1.7"/><rect x="606.4" y="833.1" width="1.7" height="1.7"/><rect x="609.0" y="833.2" width="1.7" height="1.7"/><rect x="611.5" y="833.1" width="1.7" height="1.7"/><rect x="613.9" y="833.1" width="1.7" height="1.7"/><rect x="603.9" y="835.2" width="1.7" height="1.7"/><rect x="609.0" y="835.1" width="1.7" height="1.7"/><rect x="611.5" y="835.1" width="1.7" height="1.7"/><rect x="613.9" y="835.2" width="1.7" height="1.7"/><rect x="604.0" y="837.2" width="1.7" height="1.7"/><rect x="611.4" y="837.2" width="1.7" height="1.7"/><rect x="613.9" y="837.2" width="1.7" height="1.7"/><rect x="616.5" y="837.2" width="1.7" height="1.7"/><rect x="619.0" y="837.2" width="1.7" height="1.7"/><rect x="601.5" y="839.2" width="1.7" height="1.7"/><rect x="604.0" y="839.2" width="1.7" height="1.7"/><rect x="606.5" y="839.2" width="1.7" height="1.7"/><rect x="608.9" y="839.2" width="1.7" height="1.7"/><rect x="611.5" y="839.1" width="1.7" height="1.7"/><rect x="613.9" y="839.1" width="1.7" height="1.7"/><rect x="616.4" y="839.1" width="1.7" height="1.7"/><rect x="608.9" y="841.2" width="1.7" height="1.7"/><rect x="611.4" y="841.1" width="1.7" height="1.7"/><rect x="616.4" y="841.1" width="1.7" height="1.7"/><rect x="609.0" y="843.2" width="1.7" height="1.7"/><rect x="613.9" y="843.1" width="1.7" height="1.7"/><rect x="616.5" y="843.1" width="1.7" height="1.7"/><rect x="619.0" y="843.2" width="1.7" height="1.7"/><rect x="606.5" y="845.2" width="1.7" height="1.7"/><rect x="609.0" y="845.1" width="1.7" height="1.7"/><rect x="611.5" y="845.2" width="1.7" height="1.7"/><rect x="613.9" y="845.1" width="1.7" height="1.7"/><rect x="616.5" y="845.2" width="1.7" height="1.7"/><rect x="604.0" y="847.1" width="1.7" height="1.7"/><rect x="606.4" y="847.1" width="1.7" height="1.7"/><rect x="611.5" y="847.1" width="1.7" height="1.7"/><rect x="613.9" y="847.1" width="1.7" height="1.7"/><rect x="616.5" y="847.1" width="1.7" height="1.7"/><rect x="604.0" y="849.1" width="1.7" height="1.7"/><rect x="606.4" y="849.2" width="1.7" height="1.7"/><rect x="614.0" y="849.2" width="1.7" height="1.7"/><rect x="618.9" y="849.2" width="1.7" height="1.7"/><rect x="611.4" y="851.2" width="1.7" height="1.7"/><rect x="613.9" y="851.1" width="1.7" height="1.7"/><rect x="616.5" y="851.2" width="1.7" height="1.7"/><rect x="611.4" y="814.6" width="1.7" height="1.7"/><rect x="609.4" y="816.6" width="1.7" height="1.7"/></g>
<g fill="#248c49"><rect x="652.3" y="831.1" width="1.8" height="1.8"/><rect x="654.8" y="831.1" width="1.8" height="1.8"/><rect x="647.4" y="833.1" width="1.8" height="1.8"/><rect x="652.2" y="833.0" width="1.8" height="1.8"/><rect x="654.7" y="833.1" width="1.8" height="1.8"/><rect x="645.2" y="835.2" width="1.8" height="1.8"/><rect x="647.4" y="835.2" width="1.8" height="1.8"/><rect x="649.9" y="835.2" width="1.8" height="1.8"/><rect x="652.4" y="835.2" width="1.8" height="1.8"/><rect x="657.1" y="835.1" width="1.8" height="1.8"/><rect x="659.4" y="835.0" width="1.8" height="1.8"/><rect x="642.7" y="837.1" width="1.8" height="1.8"/><rect x="645.1" y="837.0" width="1.8" height="1.8"/><rect x="647.5" y="837.0" width="1.8" height="1.8"/><rect x="649.8" y="837.1" width="1.8" height="1.8"/><rect x="659.5" y="837.1" width="1.8" height="1.8"/><rect x="661.9" y="837.2" width="1.8" height="1.8"/><rect x="640.3" y="839.2" width="1.8" height="1.8"/><rect x="642.6" y="839.2" width="1.8" height="1.8"/><rect x="647.6" y="839.2" width="1.8" height="1.8"/><rect x="661.9" y="839.0" width="1.8" height="1.8"/><rect x="640.3" y="841.2" width="1.8" height="1.8"/><rect x="642.6" y="841.1" width="1.8" height="1.8"/><rect x="654.8" y="841.1" width="1.8" height="1.8"/><rect x="657.1" y="841.0" width="1.8" height="1.8"/><rect x="659.5" y="841.0" width="1.8" height="1.8"/><rect x="640.3" y="843.1" width="1.8" height="1.8"/><rect x="645.1" y="843.1" width="1.8" height="1.8"/><rect x="650.0" y="843.0" width="1.8" height="1.8"/><rect x="652.3" y="843.1" width="1.8" height="1.8"/><rect x="654.6" y="843.2" width="1.8" height="1.8"/><rect x="657.2" y="843.1" width="1.8" height="1.8"/><rect x="659.5" y="843.1" width="1.8" height="1.8"/><rect x="664.3" y="843.0" width="1.8" height="1.8"/><rect x="640.3" y="845.0" width="1.8" height="1.8"/><rect x="647.6" y="845.0" width="1.8" height="1.8"/><rect x="650.0" y="845.1" width="1.8" height="1.8"/><rect x="652.2" y="845.1" width="1.8" height="1.8"/><rect x="654.7" y="845.1" width="1.8" height="1.8"/><rect x="664.3" y="845.1" width="1.8" height="1.8"/><rect x="640.3" y="847.1" width="1.8" height="1.8"/><rect x="642.7" y="847.2" width="1.8" height="1.8"/><rect x="645.1" y="847.0" width="1.8" height="1.8"/><rect x="649.9" y="847.1" width="1.8" height="1.8"/><rect x="652.4" y="847.1" width="1.8" height="1.8"/><rect x="654.7" y="847.0" width="1.8" height="1.8"/><rect x="659.5" y="847.2" width="1.8" height="1.8"/><rect x="642.6" y="849.1" width="1.8" height="1.8"/><rect x="649.8" y="849.1" width="1.8" height="1.8"/><rect x="652.4" y="849.2" width="1.8" height="1.8"/><rect x="657.1" y="849.1" width="1.8" height="1.8"/><rect x="659.6" y="849.2" width="1.8" height="1.8"/><rect x="642.8" y="851.1" width="1.8" height="1.8"/><rect x="645.0" y="851.0" width="1.8" height="1.8"/><rect x="647.6" y="851.1" width="1.8" height="1.8"/><rect x="652.4" y="851.1" width="1.8" height="1.8"/><rect x="654.6" y="851.1" width="1.8" height="1.8"/><rect x="657.0" y="851.0" width="1.8" height="1.8"/><rect x="659.4" y="851.1" width="1.8" height="1.8"/><rect x="661.9" y="851.1" width="1.8" height="1.8"/><rect x="652.3" y="797.6" width="1.8" height="1.8"/><rect x="652.3" y="802.1" width="1.8" height="1.8"/><rect x="652.3" y="804.1" width="1.8" height="1.8"/><rect x="652.3" y="819.3" width="1.8" height="1.8"/></g>
<rect x="605.98" y="840.10" width="13.55" height="3.00" fill="#000"/>
<line x1="599.20" y1="841.60" x2="626.30" y2="841.60" stroke="#000" stroke-width="1.5"/>
<rect x="646.53" y="840.80" width="13.65" height="3.00" fill="#000"/>
<line x1="639.70" y1="842.30" x2="667.00" y2="842.30" stroke="#000" stroke-width="1.5"/>
<line x1="586.00" y1="713.05" x2="586.00" y2="856.05" stroke="#000" stroke-width="1.3"/>
<line x1="585.35" y1="855.40" x2="681.30" y2="855.40" stroke="#000" stroke-width="1.3"/>
<line x1="580.20" y1="855.40" x2="586.00" y2="855.40" stroke="#000" stroke-width="1.3"/>
<text x="578.90" y="858.85" font-size="9.8" font-weight="bold" text-anchor="end" fill="#231f20">0.0</text>
<line x1="580.20" y1="819.98" x2="586.00" y2="819.98" stroke="#000" stroke-width="1.3"/>
<text x="578.90" y="823.43" font-size="9.8" font-weight="bold" text-anchor="end" fill="#231f20">0.2</text>
<line x1="580.20" y1="784.55" x2="586.00" y2="784.55" stroke="#000" stroke-width="1.3"/>
<text x="578.90" y="788.00" font-size="9.8" font-weight="bold" text-anchor="end" fill="#231f20">0.4</text>
<line x1="580.20" y1="749.12" x2="586.00" y2="749.12" stroke="#000" stroke-width="1.3"/>
<text x="578.90" y="752.58" font-size="9.8" font-weight="bold" text-anchor="end" fill="#231f20">0.6</text>
<line x1="580.20" y1="713.70" x2="586.00" y2="713.70" stroke="#000" stroke-width="1.3"/>
<text x="578.90" y="717.15" font-size="9.8" font-weight="bold" text-anchor="end" fill="#231f20">0.8</text>
<line x1="612.30" y1="855.40" x2="612.30" y2="861.00" stroke="#000" stroke-width="1.3"/>
<line x1="653.20" y1="855.40" x2="653.20" y2="861.00" stroke="#000" stroke-width="1.3"/>
<text x="590.80" y="872.90" font-size="10" font-weight="bold" text-anchor="start" fill="#231f20" textLength="43.4" lengthAdjust="spacingAndGlyphs">Baseline</text>
<text x="641.90" y="872.90" font-size="10" font-weight="bold" text-anchor="start" fill="#231f20" textLength="23.4" lengthAdjust="spacingAndGlyphs">CNO</text>
<text transform="translate(556.42,784.70) rotate(-90)" font-size="11.5" font-weight="bold" text-anchor="middle" fill="#231f20" textLength="110.0" lengthAdjust="spacingAndGlyphs"><tspan>Amplitude (R</tspan><tspan font-size="9.0" dy="-5.2">2</tspan><tspan dy="5.2">&gt;50%)</tspan></text>
</svg>
</body></html>
